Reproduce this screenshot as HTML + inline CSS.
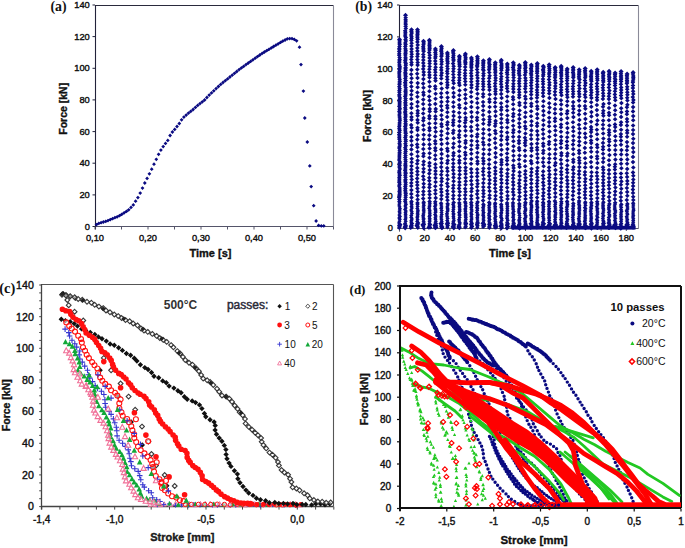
<!DOCTYPE html>
<html><head><meta charset="utf-8"><style>
html,body{margin:0;padding:0;background:#fff;}
svg{display:block;}
</style></head><body>
<svg width="685" height="548" viewBox="0 0 685 548">
<rect width="685" height="548" fill="#fff"/>
<line x1="95" y1="5.5" x2="333.5" y2="5.5" stroke="#2a2a3c" stroke-width="1.1"/>
<line x1="333.5" y1="5.5" x2="333.5" y2="226.5" stroke="#8a8a98" stroke-width="1.1"/>
<line x1="95" y1="226.5" x2="333.5" y2="226.5" stroke="#55556a" stroke-width="1.1"/>
<line x1="95.5" y1="5" x2="95.5" y2="229.5" stroke="#22223a" stroke-width="1.1"/>
<line x1="92.5" y1="226.5" x2="95" y2="226.5" stroke="#22223a" stroke-width="1"/>
<text x="89.8" y="229.5" font-size="9.3" font-weight="normal" text-anchor="end" fill="#111" font-family='"Liberation Sans", sans-serif' stroke="#111" stroke-width="0.4">0</text>
<line x1="92.5" y1="194.9" x2="95" y2="194.9" stroke="#22223a" stroke-width="1"/>
<text x="89.8" y="197.9" font-size="9.3" font-weight="normal" text-anchor="end" fill="#111" font-family='"Liberation Sans", sans-serif' stroke="#111" stroke-width="0.4">20</text>
<line x1="92.5" y1="163.2" x2="95" y2="163.2" stroke="#22223a" stroke-width="1"/>
<text x="89.8" y="166.2" font-size="9.3" font-weight="normal" text-anchor="end" fill="#111" font-family='"Liberation Sans", sans-serif' stroke="#111" stroke-width="0.4">40</text>
<line x1="92.5" y1="131.6" x2="95" y2="131.6" stroke="#22223a" stroke-width="1"/>
<text x="89.8" y="134.6" font-size="9.3" font-weight="normal" text-anchor="end" fill="#111" font-family='"Liberation Sans", sans-serif' stroke="#111" stroke-width="0.4">60</text>
<line x1="92.5" y1="99.9" x2="95" y2="99.9" stroke="#22223a" stroke-width="1"/>
<text x="89.8" y="102.9" font-size="9.3" font-weight="normal" text-anchor="end" fill="#111" font-family='"Liberation Sans", sans-serif' stroke="#111" stroke-width="0.4">80</text>
<line x1="92.5" y1="68.3" x2="95" y2="68.3" stroke="#22223a" stroke-width="1"/>
<text x="89.8" y="71.3" font-size="9.3" font-weight="normal" text-anchor="end" fill="#111" font-family='"Liberation Sans", sans-serif' stroke="#111" stroke-width="0.4">100</text>
<line x1="92.5" y1="36.6" x2="95" y2="36.6" stroke="#22223a" stroke-width="1"/>
<text x="89.8" y="39.6" font-size="9.3" font-weight="normal" text-anchor="end" fill="#111" font-family='"Liberation Sans", sans-serif' stroke="#111" stroke-width="0.4">120</text>
<line x1="92.5" y1="5" x2="95" y2="5" stroke="#22223a" stroke-width="1"/>
<text x="89.8" y="8" font-size="9.3" font-weight="normal" text-anchor="end" fill="#111" font-family='"Liberation Sans", sans-serif' stroke="#111" stroke-width="0.4">140</text>
<line x1="95" y1="226.5" x2="95" y2="229.5" stroke="#55556a" stroke-width="1"/>
<line x1="121.5" y1="226.5" x2="121.5" y2="229.5" stroke="#55556a" stroke-width="1"/>
<line x1="148" y1="226.5" x2="148" y2="229.5" stroke="#55556a" stroke-width="1"/>
<line x1="174.5" y1="226.5" x2="174.5" y2="229.5" stroke="#55556a" stroke-width="1"/>
<line x1="201" y1="226.5" x2="201" y2="229.5" stroke="#55556a" stroke-width="1"/>
<line x1="227.5" y1="226.5" x2="227.5" y2="229.5" stroke="#55556a" stroke-width="1"/>
<line x1="254" y1="226.5" x2="254" y2="229.5" stroke="#55556a" stroke-width="1"/>
<line x1="280.5" y1="226.5" x2="280.5" y2="229.5" stroke="#55556a" stroke-width="1"/>
<line x1="307" y1="226.5" x2="307" y2="229.5" stroke="#55556a" stroke-width="1"/>
<line x1="333.5" y1="226.5" x2="333.5" y2="229.5" stroke="#55556a" stroke-width="1"/>
<text x="95" y="240.6" font-size="9.3" font-weight="normal" text-anchor="middle" fill="#111" font-family='"Liberation Sans", sans-serif' stroke="#111" stroke-width="0.4">0,10</text>
<text x="148" y="240.6" font-size="9.3" font-weight="normal" text-anchor="middle" fill="#111" font-family='"Liberation Sans", sans-serif' stroke="#111" stroke-width="0.4">0,20</text>
<text x="201" y="240.6" font-size="9.3" font-weight="normal" text-anchor="middle" fill="#111" font-family='"Liberation Sans", sans-serif' stroke="#111" stroke-width="0.4">0,30</text>
<text x="254" y="240.6" font-size="9.3" font-weight="normal" text-anchor="middle" fill="#111" font-family='"Liberation Sans", sans-serif' stroke="#111" stroke-width="0.4">0,40</text>
<text x="307" y="240.6" font-size="9.3" font-weight="normal" text-anchor="middle" fill="#111" font-family='"Liberation Sans", sans-serif' stroke="#111" stroke-width="0.4">0,50</text>
<text x="67.5" y="108.8" font-size="10.5" font-weight="bold" text-anchor="middle" fill="#111" font-family='"Liberation Sans", sans-serif' transform="rotate(-90 67.5 108.8)" stroke="#111" stroke-width="0.35">Force [kN]</text>
<text x="210.5" y="257" font-size="11" font-weight="bold" text-anchor="middle" fill="#111" font-family='"Liberation Sans", sans-serif' stroke="#111" stroke-width="0.35">Time [s]</text>
<text x="58.5" y="11.2" font-size="13.8" font-weight="bold" text-anchor="middle" fill="#111" font-family='"Liberation Serif", serif'>(a)</text>
<path d="M96.5 222.7l1.9 1.9l-1.9 1.9l-1.9 -1.9zM98.8 221.5l1.9 1.9l-1.9 1.9l-1.9 -1.9zM101.1 220.8l1.9 1.9l-1.9 1.9l-1.9 -1.9zM103.4 220.1l1.9 1.9l-1.9 1.9l-1.9 -1.9zM105.7 219.5l1.9 1.9l-1.9 1.9l-1.9 -1.9zM108 218.7l1.9 1.9l-1.9 1.9l-1.9 -1.9zM110.3 217.7l1.9 1.9l-1.9 1.9l-1.9 -1.9zM112.6 216.8l1.9 1.9l-1.9 1.9l-1.9 -1.9zM114.9 215.8l1.9 1.9l-1.9 1.9l-1.9 -1.9zM117.2 214.9l1.9 1.9l-1.9 1.9l-1.9 -1.9zM119.5 213.8l1.9 1.9l-1.9 1.9l-1.9 -1.9zM121.8 212.4l1.9 1.9l-1.9 1.9l-1.9 -1.9zM124.1 210.9l1.9 1.9l-1.9 1.9l-1.9 -1.9zM126.4 209.5l1.9 1.9l-1.9 1.9l-1.9 -1.9zM128.7 207.9l1.9 1.9l-1.9 1.9l-1.9 -1.9zM131 205.5l1.9 1.9l-1.9 1.9l-1.9 -1.9zM133.3 203l1.9 1.9l-1.9 1.9l-1.9 -1.9zM135.6 199.3l1.9 1.9l-1.9 1.9l-1.9 -1.9zM137.9 195.7l1.9 1.9l-1.9 1.9l-1.9 -1.9zM140.2 191.2l1.9 1.9l-1.9 1.9l-1.9 -1.9zM142.5 186.2l1.9 1.9l-1.9 1.9l-1.9 -1.9zM144.8 181.1l1.9 1.9l-1.9 1.9l-1.9 -1.9zM147.1 176.5l1.9 1.9l-1.9 1.9l-1.9 -1.9zM149.4 171.9l1.9 1.9l-1.9 1.9l-1.9 -1.9zM151.7 167.3l1.9 1.9l-1.9 1.9l-1.9 -1.9zM154 162.3l1.9 1.9l-1.9 1.9l-1.9 -1.9zM156.3 157.4l1.9 1.9l-1.9 1.9l-1.9 -1.9zM158.6 152.4l1.9 1.9l-1.9 1.9l-1.9 -1.9zM160.9 148.2l1.9 1.9l-1.9 1.9l-1.9 -1.9zM163.2 144.7l1.9 1.9l-1.9 1.9l-1.9 -1.9zM165.5 141.5l1.9 1.9l-1.9 1.9l-1.9 -1.9zM167.8 138.5l1.9 1.9l-1.9 1.9l-1.9 -1.9zM170.1 133.6l1.9 1.9l-1.9 1.9l-1.9 -1.9zM172.4 130.1l1.9 1.9l-1.9 1.9l-1.9 -1.9zM174.7 127.5l1.9 1.9l-1.9 1.9l-1.9 -1.9zM177 124.6l1.9 1.9l-1.9 1.9l-1.9 -1.9zM179.3 121.6l1.9 1.9l-1.9 1.9l-1.9 -1.9zM181.6 117.9l1.9 1.9l-1.9 1.9l-1.9 -1.9zM183.9 115.2l1.9 1.9l-1.9 1.9l-1.9 -1.9zM186.2 113.2l1.9 1.9l-1.9 1.9l-1.9 -1.9zM188.5 111.2l1.9 1.9l-1.9 1.9l-1.9 -1.9zM190.8 109.4l1.9 1.9l-1.9 1.9l-1.9 -1.9zM193.1 107.6l1.9 1.9l-1.9 1.9l-1.9 -1.9zM195.4 105.5l1.9 1.9l-1.9 1.9l-1.9 -1.9zM197.7 103.5l1.9 1.9l-1.9 1.9l-1.9 -1.9zM200 101.7l1.9 1.9l-1.9 1.9l-1.9 -1.9zM202.3 99.9l1.9 1.9l-1.9 1.9l-1.9 -1.9zM204.6 98.1l1.9 1.9l-1.9 1.9l-1.9 -1.9zM206.9 95.6l1.9 1.9l-1.9 1.9l-1.9 -1.9zM209.2 93.2l1.9 1.9l-1.9 1.9l-1.9 -1.9zM211.5 91l1.9 1.9l-1.9 1.9l-1.9 -1.9zM213.8 88.9l1.9 1.9l-1.9 1.9l-1.9 -1.9zM216.1 86.7l1.9 1.9l-1.9 1.9l-1.9 -1.9zM218.4 84.6l1.9 1.9l-1.9 1.9l-1.9 -1.9zM220.7 82.5l1.9 1.9l-1.9 1.9l-1.9 -1.9zM223 80.6l1.9 1.9l-1.9 1.9l-1.9 -1.9zM225.3 78.8l1.9 1.9l-1.9 1.9l-1.9 -1.9zM227.6 77l1.9 1.9l-1.9 1.9l-1.9 -1.9zM229.9 75.1l1.9 1.9l-1.9 1.9l-1.9 -1.9zM232.2 73.3l1.9 1.9l-1.9 1.9l-1.9 -1.9zM234.5 71.4l1.9 1.9l-1.9 1.9l-1.9 -1.9zM236.8 69.6l1.9 1.9l-1.9 1.9l-1.9 -1.9zM239.1 67.7l1.9 1.9l-1.9 1.9l-1.9 -1.9zM241.4 66l1.9 1.9l-1.9 1.9l-1.9 -1.9zM243.7 64.4l1.9 1.9l-1.9 1.9l-1.9 -1.9zM246 62.7l1.9 1.9l-1.9 1.9l-1.9 -1.9zM248.3 61.1l1.9 1.9l-1.9 1.9l-1.9 -1.9zM250.6 59.5l1.9 1.9l-1.9 1.9l-1.9 -1.9zM252.9 57.9l1.9 1.9l-1.9 1.9l-1.9 -1.9zM255.2 56.3l1.9 1.9l-1.9 1.9l-1.9 -1.9zM257.5 54.7l1.9 1.9l-1.9 1.9l-1.9 -1.9zM259.8 53.1l1.9 1.9l-1.9 1.9l-1.9 -1.9zM262.1 51.5l1.9 1.9l-1.9 1.9l-1.9 -1.9zM264.4 50.1l1.9 1.9l-1.9 1.9l-1.9 -1.9zM266.7 48.8l1.9 1.9l-1.9 1.9l-1.9 -1.9zM269 47.4l1.9 1.9l-1.9 1.9l-1.9 -1.9zM271.3 46l1.9 1.9l-1.9 1.9l-1.9 -1.9zM273.6 44.6l1.9 1.9l-1.9 1.9l-1.9 -1.9zM275.9 43.3l1.9 1.9l-1.9 1.9l-1.9 -1.9zM278.2 41.9l1.9 1.9l-1.9 1.9l-1.9 -1.9zM280.5 40.5l1.9 1.9l-1.9 1.9l-1.9 -1.9zM282.8 39.2l1.9 1.9l-1.9 1.9l-1.9 -1.9zM285.1 38.1l1.9 1.9l-1.9 1.9l-1.9 -1.9zM287.4 36.9l1.9 1.9l-1.9 1.9l-1.9 -1.9zM289.7 36.7l1.9 1.9l-1.9 1.9l-1.9 -1.9zM292 36.7l1.9 1.9l-1.9 1.9l-1.9 -1.9zM294.3 37.5l1.9 1.9l-1.9 1.9l-1.9 -1.9zM296.6 38.9l1.9 1.9l-1.9 1.9l-1.9 -1.9zM299.5 45.3l1.9 1.9l-1.9 1.9l-1.9 -1.9zM301 62.7l1.9 1.9l-1.9 1.9l-1.9 -1.9zM303.4 89.2l1.9 1.9l-1.9 1.9l-1.9 -1.9zM304.8 116.1l1.9 1.9l-1.9 1.9l-1.9 -1.9zM307.3 140.1l1.9 1.9l-1.9 1.9l-1.9 -1.9zM309.8 164l1.9 1.9l-1.9 1.9l-1.9 -1.9zM311.2 184.7l1.9 1.9l-1.9 1.9l-1.9 -1.9zM313.7 203.8l1.9 1.9l-1.9 1.9l-1.9 -1.9zM316.1 219.1l1.9 1.9l-1.9 1.9l-1.9 -1.9zM318.6 223.5l1.9 1.9l-1.9 1.9l-1.9 -1.9zM321.3 224l1.9 1.9l-1.9 1.9l-1.9 -1.9zM323.8 224l1.9 1.9l-1.9 1.9l-1.9 -1.9z" fill="#0b0b82"/>
<line x1="399.5" y1="5.5" x2="638.5" y2="5.5" stroke="#2a2a3c" stroke-width="1.1"/>
<line x1="638.5" y1="5.5" x2="638.5" y2="228.5" stroke="#8a8a98" stroke-width="1.1"/>
<line x1="399.5" y1="228.5" x2="638.5" y2="228.5" stroke="#55556a" stroke-width="1.1"/>
<line x1="399.5" y1="5" x2="399.5" y2="231.5" stroke="#22223a" stroke-width="1.1"/>
<line x1="397" y1="228" x2="399.5" y2="228" stroke="#22223a" stroke-width="1"/>
<text x="392.8" y="231" font-size="9.3" font-weight="normal" text-anchor="end" fill="#111" font-family='"Liberation Sans", sans-serif' stroke="#111" stroke-width="0.4">0</text>
<line x1="397" y1="196.1" x2="399.5" y2="196.1" stroke="#22223a" stroke-width="1"/>
<text x="392.8" y="199.1" font-size="9.3" font-weight="normal" text-anchor="end" fill="#111" font-family='"Liberation Sans", sans-serif' stroke="#111" stroke-width="0.4">20</text>
<line x1="397" y1="164.3" x2="399.5" y2="164.3" stroke="#22223a" stroke-width="1"/>
<text x="392.8" y="167.3" font-size="9.3" font-weight="normal" text-anchor="end" fill="#111" font-family='"Liberation Sans", sans-serif' stroke="#111" stroke-width="0.4">40</text>
<line x1="397" y1="132.4" x2="399.5" y2="132.4" stroke="#22223a" stroke-width="1"/>
<text x="392.8" y="135.4" font-size="9.3" font-weight="normal" text-anchor="end" fill="#111" font-family='"Liberation Sans", sans-serif' stroke="#111" stroke-width="0.4">60</text>
<line x1="397" y1="100.6" x2="399.5" y2="100.6" stroke="#22223a" stroke-width="1"/>
<text x="392.8" y="103.6" font-size="9.3" font-weight="normal" text-anchor="end" fill="#111" font-family='"Liberation Sans", sans-serif' stroke="#111" stroke-width="0.4">80</text>
<line x1="397" y1="68.7" x2="399.5" y2="68.7" stroke="#22223a" stroke-width="1"/>
<text x="392.8" y="71.7" font-size="9.3" font-weight="normal" text-anchor="end" fill="#111" font-family='"Liberation Sans", sans-serif' stroke="#111" stroke-width="0.4">100</text>
<line x1="397" y1="36.9" x2="399.5" y2="36.9" stroke="#22223a" stroke-width="1"/>
<text x="392.8" y="39.9" font-size="9.3" font-weight="normal" text-anchor="end" fill="#111" font-family='"Liberation Sans", sans-serif' stroke="#111" stroke-width="0.4">120</text>
<line x1="397" y1="5" x2="399.5" y2="5" stroke="#22223a" stroke-width="1"/>
<text x="392.8" y="8" font-size="9.3" font-weight="normal" text-anchor="end" fill="#111" font-family='"Liberation Sans", sans-serif' stroke="#111" stroke-width="0.4">140</text>
<line x1="399.5" y1="228" x2="399.5" y2="231" stroke="#55556a" stroke-width="1"/>
<text x="399.5" y="241" font-size="9.3" font-weight="normal" text-anchor="middle" fill="#111" font-family='"Liberation Sans", sans-serif' stroke="#111" stroke-width="0.4">0</text>
<line x1="424.7" y1="228" x2="424.7" y2="231" stroke="#55556a" stroke-width="1"/>
<text x="424.7" y="241" font-size="9.3" font-weight="normal" text-anchor="middle" fill="#111" font-family='"Liberation Sans", sans-serif' stroke="#111" stroke-width="0.4">20</text>
<line x1="449.9" y1="228" x2="449.9" y2="231" stroke="#55556a" stroke-width="1"/>
<text x="449.9" y="241" font-size="9.3" font-weight="normal" text-anchor="middle" fill="#111" font-family='"Liberation Sans", sans-serif' stroke="#111" stroke-width="0.4">40</text>
<line x1="475.1" y1="228" x2="475.1" y2="231" stroke="#55556a" stroke-width="1"/>
<text x="475.1" y="241" font-size="9.3" font-weight="normal" text-anchor="middle" fill="#111" font-family='"Liberation Sans", sans-serif' stroke="#111" stroke-width="0.4">60</text>
<line x1="500.3" y1="228" x2="500.3" y2="231" stroke="#55556a" stroke-width="1"/>
<text x="500.3" y="241" font-size="9.3" font-weight="normal" text-anchor="middle" fill="#111" font-family='"Liberation Sans", sans-serif' stroke="#111" stroke-width="0.4">80</text>
<line x1="525.5" y1="228" x2="525.5" y2="231" stroke="#55556a" stroke-width="1"/>
<text x="525.5" y="241" font-size="9.3" font-weight="normal" text-anchor="middle" fill="#111" font-family='"Liberation Sans", sans-serif' stroke="#111" stroke-width="0.4">100</text>
<line x1="550.7" y1="228" x2="550.7" y2="231" stroke="#55556a" stroke-width="1"/>
<text x="550.7" y="241" font-size="9.3" font-weight="normal" text-anchor="middle" fill="#111" font-family='"Liberation Sans", sans-serif' stroke="#111" stroke-width="0.4">120</text>
<line x1="575.9" y1="228" x2="575.9" y2="231" stroke="#55556a" stroke-width="1"/>
<text x="575.9" y="241" font-size="9.3" font-weight="normal" text-anchor="middle" fill="#111" font-family='"Liberation Sans", sans-serif' stroke="#111" stroke-width="0.4">140</text>
<line x1="601.1" y1="228" x2="601.1" y2="231" stroke="#55556a" stroke-width="1"/>
<text x="601.1" y="241" font-size="9.3" font-weight="normal" text-anchor="middle" fill="#111" font-family='"Liberation Sans", sans-serif' stroke="#111" stroke-width="0.4">160</text>
<line x1="626.3" y1="228" x2="626.3" y2="231" stroke="#55556a" stroke-width="1"/>
<text x="626.3" y="241" font-size="9.3" font-weight="normal" text-anchor="middle" fill="#111" font-family='"Liberation Sans", sans-serif' stroke="#111" stroke-width="0.4">180</text>
<text x="371.4" y="116" font-size="10.5" font-weight="bold" text-anchor="middle" fill="#111" font-family='"Liberation Sans", sans-serif' transform="rotate(-90 371.4 116)" stroke="#111" stroke-width="0.35">Force [kN]</text>
<text x="510" y="257" font-size="11" font-weight="bold" text-anchor="middle" fill="#111" font-family='"Liberation Sans", sans-serif' stroke="#111" stroke-width="0.35">Time [s]</text>
<text x="363.6" y="11.2" font-size="13.8" font-weight="bold" text-anchor="middle" fill="#111" font-family='"Liberation Serif", serif'>(b)</text>
<path d="M399.5 37l2.5 2.5l-2.5 2.5l-2.5 -2.5zM399.6 38.7l2.3 2.3l-2.3 2.3l-2.3 -2.3zM399.5 40.6l2.3 2.3l-2.3 2.3l-2.3 -2.3zM399.7 42.2l2.3 2.3l-2.3 2.3l-2.3 -2.3zM399.5 44.3l2.3 2.3l-2.3 2.3l-2.3 -2.3zM399.3 46.1l2.3 2.3l-2.3 2.3l-2.3 -2.3zM399.4 47.5l2.3 2.3l-2.3 2.3l-2.3 -2.3zM399.2 49.3l2.3 2.3l-2.3 2.3l-2.3 -2.3zM399.3 51.4l2.3 2.3l-2.3 2.3l-2.3 -2.3zM399.2 53l2.3 2.3l-2.3 2.3l-2.3 -2.3zM399.6 55.2l2.3 2.3l-2.3 2.3l-2.3 -2.3zM399.6 57.3l2.3 2.3l-2.3 2.3l-2.3 -2.3zM399.4 58.7l2.3 2.3l-2.3 2.3l-2.3 -2.3zM399.3 60.5l2.3 2.3l-2.3 2.3l-2.3 -2.3zM399.4 62.6l2.3 2.3l-2.3 2.3l-2.3 -2.3zM399.7 64.2l2.3 2.3l-2.3 2.3l-2.3 -2.3zM399.8 65.7l2.3 2.3l-2.3 2.3l-2.3 -2.3zM399.5 67.4l2.3 2.3l-2.3 2.3l-2.3 -2.3zM399.5 69.1l2.3 2.3l-2.3 2.3l-2.3 -2.3zM399.2 70.7l2.3 2.3l-2.3 2.3l-2.3 -2.3zM399.3 72.7l2.3 2.3l-2.3 2.3l-2.3 -2.3zM399.3 74.8l2.3 2.3l-2.3 2.3l-2.3 -2.3zM399.7 76.9l2.3 2.3l-2.3 2.3l-2.3 -2.3zM399.7 78.9l2.3 2.3l-2.3 2.3l-2.3 -2.3zM399.6 80.8l2.3 2.3l-2.3 2.3l-2.3 -2.3zM399.5 82.3l2.3 2.3l-2.3 2.3l-2.3 -2.3zM399.3 84.4l2.3 2.3l-2.3 2.3l-2.3 -2.3zM399.7 86.5l2.3 2.3l-2.3 2.3l-2.3 -2.3zM399.4 88.2l2.3 2.3l-2.3 2.3l-2.3 -2.3zM399.4 90l2.3 2.3l-2.3 2.3l-2.3 -2.3zM399.4 92.2l2.3 2.3l-2.3 2.3l-2.3 -2.3zM399.3 93.6l2.3 2.3l-2.3 2.3l-2.3 -2.3zM399.8 95.6l2.3 2.3l-2.3 2.3l-2.3 -2.3zM399.5 97.4l2.3 2.3l-2.3 2.3l-2.3 -2.3zM399.6 99.2l2.3 2.3l-2.3 2.3l-2.3 -2.3zM399.6 100.8l2.3 2.3l-2.3 2.3l-2.3 -2.3zM399.6 102.6l2.3 2.3l-2.3 2.3l-2.3 -2.3zM399.3 104.2l2.3 2.3l-2.3 2.3l-2.3 -2.3zM399.8 105.9l2.3 2.3l-2.3 2.3l-2.3 -2.3zM399.6 107.5l2.3 2.3l-2.3 2.3l-2.3 -2.3zM399.3 109.2l2.3 2.3l-2.3 2.3l-2.3 -2.3zM399.7 110.6l2.3 2.3l-2.3 2.3l-2.3 -2.3zM399.4 112.7l2.3 2.3l-2.3 2.3l-2.3 -2.3zM399.6 114.6l2.3 2.3l-2.3 2.3l-2.3 -2.3zM399.8 116.7l2.3 2.3l-2.3 2.3l-2.3 -2.3zM399.8 118.5l2.3 2.3l-2.3 2.3l-2.3 -2.3zM399.6 120.6l2.3 2.3l-2.3 2.3l-2.3 -2.3zM399.5 122.7l2.3 2.3l-2.3 2.3l-2.3 -2.3zM399.3 124.4l2.3 2.3l-2.3 2.3l-2.3 -2.3zM399.3 126.5l2.3 2.3l-2.3 2.3l-2.3 -2.3zM399.7 128l2.3 2.3l-2.3 2.3l-2.3 -2.3zM399.5 130l2.3 2.3l-2.3 2.3l-2.3 -2.3zM399.2 132.1l2.3 2.3l-2.3 2.3l-2.3 -2.3zM399.4 133.7l2.3 2.3l-2.3 2.3l-2.3 -2.3zM399.3 135.4l2.3 2.3l-2.3 2.3l-2.3 -2.3zM399.4 136.9l2.3 2.3l-2.3 2.3l-2.3 -2.3zM399.8 139l2.3 2.3l-2.3 2.3l-2.3 -2.3zM399.5 141l2.3 2.3l-2.3 2.3l-2.3 -2.3zM399.8 142.6l2.3 2.3l-2.3 2.3l-2.3 -2.3zM399.6 144.4l2.3 2.3l-2.3 2.3l-2.3 -2.3zM399.3 145.8l2.3 2.3l-2.3 2.3l-2.3 -2.3zM399.7 147.9l2.3 2.3l-2.3 2.3l-2.3 -2.3zM399.6 150l2.3 2.3l-2.3 2.3l-2.3 -2.3zM399.5 151.8l2.3 2.3l-2.3 2.3l-2.3 -2.3zM399.4 153.8l2.3 2.3l-2.3 2.3l-2.3 -2.3zM399.4 155.7l2.3 2.3l-2.3 2.3l-2.3 -2.3zM399.2 157.7l2.3 2.3l-2.3 2.3l-2.3 -2.3zM399.8 159.6l2.3 2.3l-2.3 2.3l-2.3 -2.3zM399.6 161l2.3 2.3l-2.3 2.3l-2.3 -2.3zM399.7 163l2.3 2.3l-2.3 2.3l-2.3 -2.3zM399.4 164.8l2.3 2.3l-2.3 2.3l-2.3 -2.3zM399.8 166.6l2.3 2.3l-2.3 2.3l-2.3 -2.3zM399.3 168.7l2.3 2.3l-2.3 2.3l-2.3 -2.3zM399.3 170.2l2.3 2.3l-2.3 2.3l-2.3 -2.3zM399.5 171.6l2.3 2.3l-2.3 2.3l-2.3 -2.3zM399.7 173.1l2.3 2.3l-2.3 2.3l-2.3 -2.3zM399.3 175l2.3 2.3l-2.3 2.3l-2.3 -2.3zM399.4 176.8l2.3 2.3l-2.3 2.3l-2.3 -2.3zM399.3 178.6l2.3 2.3l-2.3 2.3l-2.3 -2.3zM399.3 180.2l2.3 2.3l-2.3 2.3l-2.3 -2.3zM399.6 181.9l2.3 2.3l-2.3 2.3l-2.3 -2.3zM399.2 183.7l2.3 2.3l-2.3 2.3l-2.3 -2.3zM399.7 185.7l2.3 2.3l-2.3 2.3l-2.3 -2.3zM399.7 187.7l2.3 2.3l-2.3 2.3l-2.3 -2.3zM399.5 189.1l2.3 2.3l-2.3 2.3l-2.3 -2.3zM399.7 190.6l2.3 2.3l-2.3 2.3l-2.3 -2.3zM399.6 192.1l2.3 2.3l-2.3 2.3l-2.3 -2.3zM399.6 193.7l2.3 2.3l-2.3 2.3l-2.3 -2.3zM399.2 195.3l2.3 2.3l-2.3 2.3l-2.3 -2.3zM399.4 197.1l2.3 2.3l-2.3 2.3l-2.3 -2.3zM399.4 199.2l2.3 2.3l-2.3 2.3l-2.3 -2.3zM399.5 201l2.1 2.1l-2.1 2.1l-2.1 -2.1zM399.2 202.9l2.1 2.1l-2.1 2.1l-2.1 -2.1zM399.5 204.7l2.1 2.1l-2.1 2.1l-2.1 -2.1zM399.9 206.5l2.1 2.1l-2.1 2.1l-2.1 -2.1zM399.7 208l2.1 2.1l-2.1 2.1l-2.1 -2.1zM399.5 209.7l2.1 2.1l-2.1 2.1l-2.1 -2.1zM399.8 211l2.1 2.1l-2.1 2.1l-2.1 -2.1zM399.4 213l2.1 2.1l-2.1 2.1l-2.1 -2.1zM399.9 214.5l2.1 2.1l-2.1 2.1l-2.1 -2.1zM399.2 215.9l2.1 2.1l-2.1 2.1l-2.1 -2.1zM399.8 217.2l2.1 2.1l-2.1 2.1l-2.1 -2.1zM399.5 219.1l2.1 2.1l-2.1 2.1l-2.1 -2.1zM399.1 220.8l2.1 2.1l-2.1 2.1l-2.1 -2.1zM399.5 222.6l2.1 2.1l-2.1 2.1l-2.1 -2.1zM399.4 224.2l2.1 2.1l-2.1 2.1l-2.1 -2.1zM399.3 225.8l2.1 2.1l-2.1 2.1l-2.1 -2.1zM399.4 225.8l2 2l-2 2l-2 -2zM399.9 224.8l2 2l-2 2l-2 -2zM400 221.9l2 2l-2 2l-2 -2zM398.9 223.7l2 2l-2 2l-2 -2zM399.5 224.1l2 2l-2 2l-2 -2zM400.5 222.8l2 2l-2 2l-2 -2zM399.5 225.6l2 2l-2 2l-2 -2zM400 223.5l2 2l-2 2l-2 -2zM405.5 12.7l2.5 2.5l-2.5 2.5l-2.5 -2.5zM405.7 15l2.3 2.3l-2.3 2.3l-2.3 -2.3zM405.6 16.9l2.3 2.3l-2.3 2.3l-2.3 -2.3zM405.7 18.8l2.3 2.3l-2.3 2.3l-2.3 -2.3zM405.6 20.8l2.3 2.3l-2.3 2.3l-2.3 -2.3zM405.7 22.4l2.3 2.3l-2.3 2.3l-2.3 -2.3zM405.6 24.1l2.3 2.3l-2.3 2.3l-2.3 -2.3zM405.8 26.2l2.3 2.3l-2.3 2.3l-2.3 -2.3zM405.2 28.4l2.3 2.3l-2.3 2.3l-2.3 -2.3zM405.4 30l2.3 2.3l-2.3 2.3l-2.3 -2.3zM405.3 31.7l2.3 2.3l-2.3 2.3l-2.3 -2.3zM405.2 33.6l2.3 2.3l-2.3 2.3l-2.3 -2.3zM405.8 35.2l2.3 2.3l-2.3 2.3l-2.3 -2.3zM405.5 37.2l2.3 2.3l-2.3 2.3l-2.3 -2.3zM405.8 38.7l2.3 2.3l-2.3 2.3l-2.3 -2.3zM405.3 40.7l2.3 2.3l-2.3 2.3l-2.3 -2.3zM405.6 42.3l2.3 2.3l-2.3 2.3l-2.3 -2.3zM405.3 44.3l2.3 2.3l-2.3 2.3l-2.3 -2.3zM405.4 46.4l2.3 2.3l-2.3 2.3l-2.3 -2.3zM405.7 48l2.3 2.3l-2.3 2.3l-2.3 -2.3zM405.6 49.6l2.3 2.3l-2.3 2.3l-2.3 -2.3zM405.5 51.1l2.3 2.3l-2.3 2.3l-2.3 -2.3zM405.4 52.7l2.3 2.3l-2.3 2.3l-2.3 -2.3zM405.5 54.9l2.3 2.3l-2.3 2.3l-2.3 -2.3zM405.6 56.6l2.3 2.3l-2.3 2.3l-2.3 -2.3zM405.3 58.3l2.3 2.3l-2.3 2.3l-2.3 -2.3zM405.4 60l2.3 2.3l-2.3 2.3l-2.3 -2.3zM405.8 61.5l2.3 2.3l-2.3 2.3l-2.3 -2.3zM405.7 63l2.3 2.3l-2.3 2.3l-2.3 -2.3zM405.6 65.1l2.3 2.3l-2.3 2.3l-2.3 -2.3zM405.5 66.5l2.3 2.3l-2.3 2.3l-2.3 -2.3zM405.6 67.9l2.3 2.3l-2.3 2.3l-2.3 -2.3zM405.3 69.9l2.3 2.3l-2.3 2.3l-2.3 -2.3zM405.5 71.3l2.3 2.3l-2.3 2.3l-2.3 -2.3zM405.4 72.8l2.3 2.3l-2.3 2.3l-2.3 -2.3zM405.7 74.5l2.3 2.3l-2.3 2.3l-2.3 -2.3zM405.3 76.2l2.3 2.3l-2.3 2.3l-2.3 -2.3zM405.7 78.3l2.3 2.3l-2.3 2.3l-2.3 -2.3zM405.2 80.1l2.3 2.3l-2.3 2.3l-2.3 -2.3zM405.4 81.7l2.3 2.3l-2.3 2.3l-2.3 -2.3zM405.3 83.5l2.3 2.3l-2.3 2.3l-2.3 -2.3zM405.7 85.5l2.3 2.3l-2.3 2.3l-2.3 -2.3zM405.7 87.7l2.3 2.3l-2.3 2.3l-2.3 -2.3zM405.5 89.1l2.3 2.3l-2.3 2.3l-2.3 -2.3zM405.7 90.6l2.3 2.3l-2.3 2.3l-2.3 -2.3zM405.6 92.6l2.3 2.3l-2.3 2.3l-2.3 -2.3zM405.2 94.1l2.3 2.3l-2.3 2.3l-2.3 -2.3zM405.6 96.2l2.3 2.3l-2.3 2.3l-2.3 -2.3zM405.5 98.1l2.3 2.3l-2.3 2.3l-2.3 -2.3zM405.4 100.1l2.3 2.3l-2.3 2.3l-2.3 -2.3zM405.4 101.7l2.3 2.3l-2.3 2.3l-2.3 -2.3zM405.6 103.3l2.3 2.3l-2.3 2.3l-2.3 -2.3zM405.2 105.5l2.3 2.3l-2.3 2.3l-2.3 -2.3zM405.5 106.9l2.3 2.3l-2.3 2.3l-2.3 -2.3zM405.3 108.9l2.3 2.3l-2.3 2.3l-2.3 -2.3zM405.2 110.5l2.3 2.3l-2.3 2.3l-2.3 -2.3zM405.5 111.9l2.3 2.3l-2.3 2.3l-2.3 -2.3zM405.6 113.8l2.3 2.3l-2.3 2.3l-2.3 -2.3zM405.3 115.4l2.3 2.3l-2.3 2.3l-2.3 -2.3zM405.5 117.5l2.3 2.3l-2.3 2.3l-2.3 -2.3zM405.6 119.2l2.3 2.3l-2.3 2.3l-2.3 -2.3zM405.5 121.2l2.3 2.3l-2.3 2.3l-2.3 -2.3zM405.7 122.7l2.3 2.3l-2.3 2.3l-2.3 -2.3zM405.2 124.3l2.3 2.3l-2.3 2.3l-2.3 -2.3zM405.5 125.9l2.3 2.3l-2.3 2.3l-2.3 -2.3zM405.3 127.8l2.3 2.3l-2.3 2.3l-2.3 -2.3zM405.5 129.8l2.3 2.3l-2.3 2.3l-2.3 -2.3zM405.7 131.3l2.3 2.3l-2.3 2.3l-2.3 -2.3zM405.7 133.4l2.3 2.3l-2.3 2.3l-2.3 -2.3zM405.3 135.3l2.3 2.3l-2.3 2.3l-2.3 -2.3zM405.7 137.4l2.3 2.3l-2.3 2.3l-2.3 -2.3zM405.7 139.2l2.3 2.3l-2.3 2.3l-2.3 -2.3zM405.4 141.4l2.3 2.3l-2.3 2.3l-2.3 -2.3zM405.8 143.5l2.3 2.3l-2.3 2.3l-2.3 -2.3zM405.2 145.5l2.3 2.3l-2.3 2.3l-2.3 -2.3zM405.6 147.2l2.3 2.3l-2.3 2.3l-2.3 -2.3zM405.6 149.1l2.3 2.3l-2.3 2.3l-2.3 -2.3zM405.3 151l2.3 2.3l-2.3 2.3l-2.3 -2.3zM405.5 153.2l2.3 2.3l-2.3 2.3l-2.3 -2.3zM405.3 155.3l2.3 2.3l-2.3 2.3l-2.3 -2.3zM405.5 157.5l2.3 2.3l-2.3 2.3l-2.3 -2.3zM405.6 159.5l2.3 2.3l-2.3 2.3l-2.3 -2.3zM405.4 161.6l2.3 2.3l-2.3 2.3l-2.3 -2.3zM405.4 163.1l2.3 2.3l-2.3 2.3l-2.3 -2.3zM405.5 164.6l2.3 2.3l-2.3 2.3l-2.3 -2.3zM405.4 166.7l2.3 2.3l-2.3 2.3l-2.3 -2.3zM405.2 168.2l2.3 2.3l-2.3 2.3l-2.3 -2.3zM405.5 169.9l2.3 2.3l-2.3 2.3l-2.3 -2.3zM405.6 171.3l2.3 2.3l-2.3 2.3l-2.3 -2.3zM405.3 172.9l2.3 2.3l-2.3 2.3l-2.3 -2.3zM405.5 175l2.3 2.3l-2.3 2.3l-2.3 -2.3zM405.5 177.2l2.3 2.3l-2.3 2.3l-2.3 -2.3zM405.3 178.7l2.3 2.3l-2.3 2.3l-2.3 -2.3zM405.6 180.4l2.3 2.3l-2.3 2.3l-2.3 -2.3zM405.6 182.4l2.3 2.3l-2.3 2.3l-2.3 -2.3zM405.3 184.3l2.3 2.3l-2.3 2.3l-2.3 -2.3zM405.4 186.1l2.3 2.3l-2.3 2.3l-2.3 -2.3zM405.3 187.9l2.3 2.3l-2.3 2.3l-2.3 -2.3zM405.5 189.7l2.3 2.3l-2.3 2.3l-2.3 -2.3zM405.7 191.1l2.3 2.3l-2.3 2.3l-2.3 -2.3zM405.7 193l2.3 2.3l-2.3 2.3l-2.3 -2.3zM405.6 195l2.3 2.3l-2.3 2.3l-2.3 -2.3zM405.4 197.2l2.3 2.3l-2.3 2.3l-2.3 -2.3zM405.2 198.9l2.3 2.3l-2.3 2.3l-2.3 -2.3zM405.6 200.8l2.1 2.1l-2.1 2.1l-2.1 -2.1zM405.9 202.5l2.1 2.1l-2.1 2.1l-2.1 -2.1zM405.3 203.9l2.1 2.1l-2.1 2.1l-2.1 -2.1zM405.7 205.8l2.1 2.1l-2.1 2.1l-2.1 -2.1zM405.1 207.4l2.1 2.1l-2.1 2.1l-2.1 -2.1zM405.8 209l2.1 2.1l-2.1 2.1l-2.1 -2.1zM405.5 210.6l2.1 2.1l-2.1 2.1l-2.1 -2.1zM405.6 212.2l2.1 2.1l-2.1 2.1l-2.1 -2.1zM405.6 213.9l2.1 2.1l-2.1 2.1l-2.1 -2.1zM405.7 215.8l2.1 2.1l-2.1 2.1l-2.1 -2.1zM405.3 217.4l2.1 2.1l-2.1 2.1l-2.1 -2.1zM405.7 219.2l2.1 2.1l-2.1 2.1l-2.1 -2.1zM405.2 221.2l2.1 2.1l-2.1 2.1l-2.1 -2.1zM405.8 223.1l2.1 2.1l-2.1 2.1l-2.1 -2.1zM405.3 224.4l2.1 2.1l-2.1 2.1l-2.1 -2.1zM405.2 226.2l2.1 2.1l-2.1 2.1l-2.1 -2.1zM405 221.8l2 2l-2 2l-2 -2zM405 222.6l2 2l-2 2l-2 -2zM404.8 224.9l2 2l-2 2l-2 -2zM406 223.5l2 2l-2 2l-2 -2zM405.9 224.9l2 2l-2 2l-2 -2zM405.8 224.3l2 2l-2 2l-2 -2zM404.8 224.2l2 2l-2 2l-2 -2zM404.5 225.3l2 2l-2 2l-2 -2zM411.5 27.3l2.5 2.5l-2.5 2.5l-2.5 -2.5zM411.4 29.3l2.3 2.3l-2.3 2.3l-2.3 -2.3zM411.7 30.8l2.3 2.3l-2.3 2.3l-2.3 -2.3zM411.2 32.6l2.3 2.3l-2.3 2.3l-2.3 -2.3zM411.5 34.4l2.3 2.3l-2.3 2.3l-2.3 -2.3zM411.5 36.1l2.3 2.3l-2.3 2.3l-2.3 -2.3zM411.4 38.1l2.3 2.3l-2.3 2.3l-2.3 -2.3zM411.6 41l2.3 2.3l-2.3 2.3l-2.3 -2.3zM411.4 43.7l2.3 2.3l-2.3 2.3l-2.3 -2.3zM411.6 46.7l2.3 2.3l-2.3 2.3l-2.3 -2.3zM411.5 49.4l2.3 2.3l-2.3 2.3l-2.3 -2.3zM411.7 52l2.3 2.3l-2.3 2.3l-2.3 -2.3zM411.6 54.4l2.3 2.3l-2.3 2.3l-2.3 -2.3zM411.3 57.2l2.3 2.3l-2.3 2.3l-2.3 -2.3zM411.5 60.1l2.3 2.3l-2.3 2.3l-2.3 -2.3zM411.5 62.5l2.3 2.3l-2.3 2.3l-2.3 -2.3zM411.4 67.6l2.3 2.3l-2.3 2.3l-2.3 -2.3zM411.2 71.9l2.3 2.3l-2.3 2.3l-2.3 -2.3zM411.6 76l2.3 2.3l-2.3 2.3l-2.3 -2.3zM411.2 80.2l2.3 2.3l-2.3 2.3l-2.3 -2.3zM411.4 84.3l2.3 2.3l-2.3 2.3l-2.3 -2.3zM411.6 88.5l2.3 2.3l-2.3 2.3l-2.3 -2.3zM411.3 92.5l2.3 2.3l-2.3 2.3l-2.3 -2.3zM411.3 96.6l2.3 2.3l-2.3 2.3l-2.3 -2.3zM411.5 101.7l2.3 2.3l-2.3 2.3l-2.3 -2.3zM411.4 105.6l2.3 2.3l-2.3 2.3l-2.3 -2.3zM411.4 110.9l2.3 2.3l-2.3 2.3l-2.3 -2.3zM411.5 114.8l2.3 2.3l-2.3 2.3l-2.3 -2.3zM411.5 117.5l2.3 2.3l-2.3 2.3l-2.3 -2.3zM411.2 122.8l2.3 2.3l-2.3 2.3l-2.3 -2.3zM411.6 125.5l2.3 2.3l-2.3 2.3l-2.3 -2.3zM411.4 129.7l2.3 2.3l-2.3 2.3l-2.3 -2.3zM411.4 134.6l2.3 2.3l-2.3 2.3l-2.3 -2.3zM411.4 138.5l2.3 2.3l-2.3 2.3l-2.3 -2.3zM411.7 142.9l2.3 2.3l-2.3 2.3l-2.3 -2.3zM411.4 147.1l2.3 2.3l-2.3 2.3l-2.3 -2.3zM411.4 151.9l2.3 2.3l-2.3 2.3l-2.3 -2.3zM411.7 156.4l2.3 2.3l-2.3 2.3l-2.3 -2.3zM411.6 159.9l2.3 2.3l-2.3 2.3l-2.3 -2.3zM411.5 163.7l2.3 2.3l-2.3 2.3l-2.3 -2.3zM411.4 167.3l2.3 2.3l-2.3 2.3l-2.3 -2.3zM411.5 170.6l2.3 2.3l-2.3 2.3l-2.3 -2.3zM411.4 173.9l2.3 2.3l-2.3 2.3l-2.3 -2.3zM411.7 177.2l2.3 2.3l-2.3 2.3l-2.3 -2.3zM411.3 180.7l2.3 2.3l-2.3 2.3l-2.3 -2.3zM411.3 183.7l2.3 2.3l-2.3 2.3l-2.3 -2.3zM411.4 187.8l2.3 2.3l-2.3 2.3l-2.3 -2.3zM411.3 191.6l2.3 2.3l-2.3 2.3l-2.3 -2.3zM411.5 195.3l2.3 2.3l-2.3 2.3l-2.3 -2.3zM411.5 199.2l2.3 2.3l-2.3 2.3l-2.3 -2.3zM411.3 200.9l2.1 2.1l-2.1 2.1l-2.1 -2.1zM411.7 202.7l2.1 2.1l-2.1 2.1l-2.1 -2.1zM411.5 204.4l2.1 2.1l-2.1 2.1l-2.1 -2.1zM411.8 206l2.1 2.1l-2.1 2.1l-2.1 -2.1zM411.2 207.9l2.1 2.1l-2.1 2.1l-2.1 -2.1zM411.7 209.6l2.1 2.1l-2.1 2.1l-2.1 -2.1zM411.9 211.4l2.1 2.1l-2.1 2.1l-2.1 -2.1zM411.3 213.3l2.1 2.1l-2.1 2.1l-2.1 -2.1zM411.3 215.3l2.1 2.1l-2.1 2.1l-2.1 -2.1zM411.9 216.9l2.1 2.1l-2.1 2.1l-2.1 -2.1zM411.4 218.3l2.1 2.1l-2.1 2.1l-2.1 -2.1zM411.3 220l2.1 2.1l-2.1 2.1l-2.1 -2.1zM411.7 221.5l2.1 2.1l-2.1 2.1l-2.1 -2.1zM411.7 223.3l2.1 2.1l-2.1 2.1l-2.1 -2.1zM411.8 225.1l2.1 2.1l-2.1 2.1l-2.1 -2.1zM412.2 221.5l2 2l-2 2l-2 -2zM411.5 221.1l2 2l-2 2l-2 -2zM411.5 222.5l2 2l-2 2l-2 -2zM411.8 221.2l2 2l-2 2l-2 -2zM411.8 223.8l2 2l-2 2l-2 -2zM410.7 224.5l2 2l-2 2l-2 -2zM410.7 224.1l2 2l-2 2l-2 -2zM410.6 226l2 2l-2 2l-2 -2zM417.5 27.3l2.5 2.5l-2.5 2.5l-2.5 -2.5zM417.6 29.2l2.3 2.3l-2.3 2.3l-2.3 -2.3zM417.6 30.6l2.3 2.3l-2.3 2.3l-2.3 -2.3zM417.5 32.1l2.3 2.3l-2.3 2.3l-2.3 -2.3zM417.4 33.6l2.3 2.3l-2.3 2.3l-2.3 -2.3zM417.4 35.5l2.3 2.3l-2.3 2.3l-2.3 -2.3zM417.6 37.1l2.3 2.3l-2.3 2.3l-2.3 -2.3zM417.4 39.6l2.3 2.3l-2.3 2.3l-2.3 -2.3zM417.7 42.6l2.3 2.3l-2.3 2.3l-2.3 -2.3zM417.3 45.7l2.3 2.3l-2.3 2.3l-2.3 -2.3zM417.4 48.6l2.3 2.3l-2.3 2.3l-2.3 -2.3zM417.7 51.6l2.3 2.3l-2.3 2.3l-2.3 -2.3zM417.4 54.1l2.3 2.3l-2.3 2.3l-2.3 -2.3zM417.4 57.3l2.3 2.3l-2.3 2.3l-2.3 -2.3zM417.7 60.2l2.3 2.3l-2.3 2.3l-2.3 -2.3zM417.6 62.8l2.3 2.3l-2.3 2.3l-2.3 -2.3zM417.3 67.2l2.3 2.3l-2.3 2.3l-2.3 -2.3zM417.2 71.4l2.3 2.3l-2.3 2.3l-2.3 -2.3zM417.5 75.6l2.3 2.3l-2.3 2.3l-2.3 -2.3zM417.7 80.8l2.3 2.3l-2.3 2.3l-2.3 -2.3zM417.6 84.9l2.3 2.3l-2.3 2.3l-2.3 -2.3zM417.4 90.2l2.3 2.3l-2.3 2.3l-2.3 -2.3zM417.4 94.4l2.3 2.3l-2.3 2.3l-2.3 -2.3zM417.6 99.6l2.3 2.3l-2.3 2.3l-2.3 -2.3zM417.4 103.9l2.3 2.3l-2.3 2.3l-2.3 -2.3zM417.7 108.4l2.3 2.3l-2.3 2.3l-2.3 -2.3zM417.7 110.9l2.3 2.3l-2.3 2.3l-2.3 -2.3zM417.6 113.4l2.3 2.3l-2.3 2.3l-2.3 -2.3zM417.5 117.6l2.3 2.3l-2.3 2.3l-2.3 -2.3zM417.7 120.4l2.3 2.3l-2.3 2.3l-2.3 -2.3zM417.5 125.4l2.3 2.3l-2.3 2.3l-2.3 -2.3zM417.5 127.8l2.3 2.3l-2.3 2.3l-2.3 -2.3zM417.6 132.9l2.3 2.3l-2.3 2.3l-2.3 -2.3zM417.3 137.3l2.3 2.3l-2.3 2.3l-2.3 -2.3zM417.2 142.1l2.3 2.3l-2.3 2.3l-2.3 -2.3zM417.4 144.9l2.3 2.3l-2.3 2.3l-2.3 -2.3zM417.5 149.4l2.3 2.3l-2.3 2.3l-2.3 -2.3zM417.6 153.9l2.3 2.3l-2.3 2.3l-2.3 -2.3zM417.6 158.3l2.3 2.3l-2.3 2.3l-2.3 -2.3zM417.2 161.5l2.3 2.3l-2.3 2.3l-2.3 -2.3zM417.3 165.6l2.3 2.3l-2.3 2.3l-2.3 -2.3zM417.4 169.1l2.3 2.3l-2.3 2.3l-2.3 -2.3zM417.4 172.4l2.3 2.3l-2.3 2.3l-2.3 -2.3zM417.2 176.1l2.3 2.3l-2.3 2.3l-2.3 -2.3zM417.2 179.7l2.3 2.3l-2.3 2.3l-2.3 -2.3zM417.3 182.8l2.3 2.3l-2.3 2.3l-2.3 -2.3zM417.4 186.1l2.3 2.3l-2.3 2.3l-2.3 -2.3zM417.7 189.5l2.3 2.3l-2.3 2.3l-2.3 -2.3zM417.5 193.3l2.3 2.3l-2.3 2.3l-2.3 -2.3zM417.6 197.2l2.3 2.3l-2.3 2.3l-2.3 -2.3zM417.5 200.6l2.3 2.3l-2.3 2.3l-2.3 -2.3zM417.5 202.5l2.1 2.1l-2.1 2.1l-2.1 -2.1zM417.6 204.4l2.1 2.1l-2.1 2.1l-2.1 -2.1zM417.3 206.3l2.1 2.1l-2.1 2.1l-2.1 -2.1zM417.9 208.1l2.1 2.1l-2.1 2.1l-2.1 -2.1zM417.8 209.7l2.1 2.1l-2.1 2.1l-2.1 -2.1zM417.6 211.1l2.1 2.1l-2.1 2.1l-2.1 -2.1zM417.7 212.6l2.1 2.1l-2.1 2.1l-2.1 -2.1zM417.5 214.2l2.1 2.1l-2.1 2.1l-2.1 -2.1zM417.3 215.7l2.1 2.1l-2.1 2.1l-2.1 -2.1zM417.6 217.6l2.1 2.1l-2.1 2.1l-2.1 -2.1zM417.2 219.3l2.1 2.1l-2.1 2.1l-2.1 -2.1zM417.8 220.8l2.1 2.1l-2.1 2.1l-2.1 -2.1zM417.5 222.3l2.1 2.1l-2.1 2.1l-2.1 -2.1zM417.5 224l2.1 2.1l-2.1 2.1l-2.1 -2.1zM417.8 225.7l2.1 2.1l-2.1 2.1l-2.1 -2.1zM416.9 222.1l2 2l-2 2l-2 -2zM417.3 223.8l2 2l-2 2l-2 -2zM417.9 222.6l2 2l-2 2l-2 -2zM417.9 224.7l2 2l-2 2l-2 -2zM416.4 223.8l2 2l-2 2l-2 -2zM417.2 224.5l2 2l-2 2l-2 -2zM417.8 225l2 2l-2 2l-2 -2zM418.4 221l2 2l-2 2l-2 -2zM423.5 38.8l2.5 2.5l-2.5 2.5l-2.5 -2.5zM423.7 40.8l2.3 2.3l-2.3 2.3l-2.3 -2.3zM423.5 42.5l2.3 2.3l-2.3 2.3l-2.3 -2.3zM423.2 44.4l2.3 2.3l-2.3 2.3l-2.3 -2.3zM423.4 46l2.3 2.3l-2.3 2.3l-2.3 -2.3zM423.4 47.6l2.3 2.3l-2.3 2.3l-2.3 -2.3zM423.6 49.1l2.3 2.3l-2.3 2.3l-2.3 -2.3zM423.3 52.2l2.3 2.3l-2.3 2.3l-2.3 -2.3zM423.4 54.8l2.3 2.3l-2.3 2.3l-2.3 -2.3zM423.3 57.8l2.3 2.3l-2.3 2.3l-2.3 -2.3zM423.3 60.8l2.3 2.3l-2.3 2.3l-2.3 -2.3zM423.6 63.7l2.3 2.3l-2.3 2.3l-2.3 -2.3zM423.2 66.6l2.3 2.3l-2.3 2.3l-2.3 -2.3zM423.7 69.8l2.3 2.3l-2.3 2.3l-2.3 -2.3zM423.7 72.6l2.3 2.3l-2.3 2.3l-2.3 -2.3zM423.4 76.8l2.3 2.3l-2.3 2.3l-2.3 -2.3zM423.2 81.3l2.3 2.3l-2.3 2.3l-2.3 -2.3zM423.5 85.5l2.3 2.3l-2.3 2.3l-2.3 -2.3zM423.4 90.1l2.3 2.3l-2.3 2.3l-2.3 -2.3zM423.6 92.6l2.3 2.3l-2.3 2.3l-2.3 -2.3zM423.3 97.3l2.3 2.3l-2.3 2.3l-2.3 -2.3zM423.2 101.7l2.3 2.3l-2.3 2.3l-2.3 -2.3zM423.5 106.6l2.3 2.3l-2.3 2.3l-2.3 -2.3zM423.2 111.2l2.3 2.3l-2.3 2.3l-2.3 -2.3zM423.6 115.7l2.3 2.3l-2.3 2.3l-2.3 -2.3zM423.3 118.3l2.3 2.3l-2.3 2.3l-2.3 -2.3zM423.4 123l2.3 2.3l-2.3 2.3l-2.3 -2.3zM423.6 127.5l2.3 2.3l-2.3 2.3l-2.3 -2.3zM423.7 132.5l2.3 2.3l-2.3 2.3l-2.3 -2.3zM423.5 137l2.3 2.3l-2.3 2.3l-2.3 -2.3zM423.6 142.1l2.3 2.3l-2.3 2.3l-2.3 -2.3zM423.3 146.7l2.3 2.3l-2.3 2.3l-2.3 -2.3zM423.6 151.3l2.3 2.3l-2.3 2.3l-2.3 -2.3zM423.4 154l2.3 2.3l-2.3 2.3l-2.3 -2.3zM423.7 159.3l2.3 2.3l-2.3 2.3l-2.3 -2.3zM423.4 162.5l2.3 2.3l-2.3 2.3l-2.3 -2.3zM423.6 166.5l2.3 2.3l-2.3 2.3l-2.3 -2.3zM423.4 169.8l2.3 2.3l-2.3 2.3l-2.3 -2.3zM423.2 174l2.3 2.3l-2.3 2.3l-2.3 -2.3zM423.6 177.3l2.3 2.3l-2.3 2.3l-2.3 -2.3zM423.7 181.4l2.3 2.3l-2.3 2.3l-2.3 -2.3zM423.6 184.9l2.3 2.3l-2.3 2.3l-2.3 -2.3zM423.4 189.1l2.3 2.3l-2.3 2.3l-2.3 -2.3zM423.3 192.4l2.3 2.3l-2.3 2.3l-2.3 -2.3zM423.2 196.3l2.3 2.3l-2.3 2.3l-2.3 -2.3zM423.7 200l2.3 2.3l-2.3 2.3l-2.3 -2.3zM423.6 201.6l2.1 2.1l-2.1 2.1l-2.1 -2.1zM423.8 203.2l2.1 2.1l-2.1 2.1l-2.1 -2.1zM423.5 204.9l2.1 2.1l-2.1 2.1l-2.1 -2.1zM423.7 206.8l2.1 2.1l-2.1 2.1l-2.1 -2.1zM423.7 208.2l2.1 2.1l-2.1 2.1l-2.1 -2.1zM423.8 209.8l2.1 2.1l-2.1 2.1l-2.1 -2.1zM423.5 211.8l2.1 2.1l-2.1 2.1l-2.1 -2.1zM423.2 213.4l2.1 2.1l-2.1 2.1l-2.1 -2.1zM423.2 214.9l2.1 2.1l-2.1 2.1l-2.1 -2.1zM423.6 216.3l2.1 2.1l-2.1 2.1l-2.1 -2.1zM423.5 217.6l2.1 2.1l-2.1 2.1l-2.1 -2.1zM423.6 219.3l2.1 2.1l-2.1 2.1l-2.1 -2.1zM423.8 221l2.1 2.1l-2.1 2.1l-2.1 -2.1zM423.1 222.5l2.1 2.1l-2.1 2.1l-2.1 -2.1zM423.3 224.2l2.1 2.1l-2.1 2.1l-2.1 -2.1zM423.8 226.2l2.1 2.1l-2.1 2.1l-2.1 -2.1zM424.2 222.6l2 2l-2 2l-2 -2zM423.4 224.8l2 2l-2 2l-2 -2zM423.1 224.1l2 2l-2 2l-2 -2zM423.4 224.1l2 2l-2 2l-2 -2zM422.4 222.7l2 2l-2 2l-2 -2zM422.6 223.3l2 2l-2 2l-2 -2zM423.6 221.2l2 2l-2 2l-2 -2zM423.1 223.1l2 2l-2 2l-2 -2zM429.4 37.7l2.5 2.5l-2.5 2.5l-2.5 -2.5zM429.6 39.7l2.3 2.3l-2.3 2.3l-2.3 -2.3zM429.5 41.7l2.3 2.3l-2.3 2.3l-2.3 -2.3zM429.5 43.2l2.3 2.3l-2.3 2.3l-2.3 -2.3zM429.6 44.7l2.3 2.3l-2.3 2.3l-2.3 -2.3zM429.6 46.2l2.3 2.3l-2.3 2.3l-2.3 -2.3zM429.5 47.7l2.3 2.3l-2.3 2.3l-2.3 -2.3zM429.2 50.3l2.3 2.3l-2.3 2.3l-2.3 -2.3zM429.7 52.9l2.3 2.3l-2.3 2.3l-2.3 -2.3zM429.5 55.6l2.3 2.3l-2.3 2.3l-2.3 -2.3zM429.7 58.6l2.3 2.3l-2.3 2.3l-2.3 -2.3zM429.6 61.2l2.3 2.3l-2.3 2.3l-2.3 -2.3zM429.6 64.2l2.3 2.3l-2.3 2.3l-2.3 -2.3zM429.4 66.9l2.3 2.3l-2.3 2.3l-2.3 -2.3zM429.3 70l2.3 2.3l-2.3 2.3l-2.3 -2.3zM429.5 72.7l2.3 2.3l-2.3 2.3l-2.3 -2.3zM429.5 75.2l2.3 2.3l-2.3 2.3l-2.3 -2.3zM429.4 79.4l2.3 2.3l-2.3 2.3l-2.3 -2.3zM429.7 84.2l2.3 2.3l-2.3 2.3l-2.3 -2.3zM429.4 88.9l2.3 2.3l-2.3 2.3l-2.3 -2.3zM429.2 94.2l2.3 2.3l-2.3 2.3l-2.3 -2.3zM429.5 98.2l2.3 2.3l-2.3 2.3l-2.3 -2.3zM429.7 102.4l2.3 2.3l-2.3 2.3l-2.3 -2.3zM429.7 106.6l2.3 2.3l-2.3 2.3l-2.3 -2.3zM429.7 109.1l2.3 2.3l-2.3 2.3l-2.3 -2.3zM429.4 113.6l2.3 2.3l-2.3 2.3l-2.3 -2.3zM429.4 116.1l2.3 2.3l-2.3 2.3l-2.3 -2.3zM429.3 121.2l2.3 2.3l-2.3 2.3l-2.3 -2.3zM429.5 125.6l2.3 2.3l-2.3 2.3l-2.3 -2.3zM429.5 128.1l2.3 2.3l-2.3 2.3l-2.3 -2.3zM429.4 132.9l2.3 2.3l-2.3 2.3l-2.3 -2.3zM429.2 137.3l2.3 2.3l-2.3 2.3l-2.3 -2.3zM429.5 142.1l2.3 2.3l-2.3 2.3l-2.3 -2.3zM429.6 146.2l2.3 2.3l-2.3 2.3l-2.3 -2.3zM429.6 150.9l2.3 2.3l-2.3 2.3l-2.3 -2.3zM429.5 155.4l2.3 2.3l-2.3 2.3l-2.3 -2.3zM429.5 160.6l2.3 2.3l-2.3 2.3l-2.3 -2.3zM429.4 163.7l2.3 2.3l-2.3 2.3l-2.3 -2.3zM429.7 167.8l2.3 2.3l-2.3 2.3l-2.3 -2.3zM429.3 171.3l2.3 2.3l-2.3 2.3l-2.3 -2.3zM429.3 175.5l2.3 2.3l-2.3 2.3l-2.3 -2.3zM429.3 178.5l2.3 2.3l-2.3 2.3l-2.3 -2.3zM429.6 182.1l2.3 2.3l-2.3 2.3l-2.3 -2.3zM429.4 185.1l2.3 2.3l-2.3 2.3l-2.3 -2.3zM429.4 189l2.3 2.3l-2.3 2.3l-2.3 -2.3zM429.6 192.2l2.3 2.3l-2.3 2.3l-2.3 -2.3zM429.6 195.7l2.3 2.3l-2.3 2.3l-2.3 -2.3zM429.6 199.3l2.3 2.3l-2.3 2.3l-2.3 -2.3zM429.8 201.1l2.1 2.1l-2.1 2.1l-2.1 -2.1zM429.6 203l2.1 2.1l-2.1 2.1l-2.1 -2.1zM429.5 204.6l2.1 2.1l-2.1 2.1l-2.1 -2.1zM429.1 206.2l2.1 2.1l-2.1 2.1l-2.1 -2.1zM429.7 208.1l2.1 2.1l-2.1 2.1l-2.1 -2.1zM429.7 210l2.1 2.1l-2.1 2.1l-2.1 -2.1zM429.8 211.7l2.1 2.1l-2.1 2.1l-2.1 -2.1zM429.8 213.3l2.1 2.1l-2.1 2.1l-2.1 -2.1zM429.4 214.6l2.1 2.1l-2.1 2.1l-2.1 -2.1zM429.7 216.3l2.1 2.1l-2.1 2.1l-2.1 -2.1zM429.7 218l2.1 2.1l-2.1 2.1l-2.1 -2.1zM429.6 219.6l2.1 2.1l-2.1 2.1l-2.1 -2.1zM429.5 221.4l2.1 2.1l-2.1 2.1l-2.1 -2.1zM429.6 222.7l2.1 2.1l-2.1 2.1l-2.1 -2.1zM429.3 224l2.1 2.1l-2.1 2.1l-2.1 -2.1zM429.7 225.4l2.1 2.1l-2.1 2.1l-2.1 -2.1zM429.9 225.2l2 2l-2 2l-2 -2zM428.8 225.6l2 2l-2 2l-2 -2zM430.4 222.5l2 2l-2 2l-2 -2zM429.7 225.6l2 2l-2 2l-2 -2zM429.7 224l2 2l-2 2l-2 -2zM428.4 225.6l2 2l-2 2l-2 -2zM430.3 225.6l2 2l-2 2l-2 -2zM429.7 223.5l2 2l-2 2l-2 -2zM435.4 46.5l2.5 2.5l-2.5 2.5l-2.5 -2.5zM435.6 48.2l2.3 2.3l-2.3 2.3l-2.3 -2.3zM435.3 50.1l2.3 2.3l-2.3 2.3l-2.3 -2.3zM435.6 52l2.3 2.3l-2.3 2.3l-2.3 -2.3zM435.5 54l2.3 2.3l-2.3 2.3l-2.3 -2.3zM435.3 55.8l2.3 2.3l-2.3 2.3l-2.3 -2.3zM435.3 58.8l2.3 2.3l-2.3 2.3l-2.3 -2.3zM435.5 61.7l2.3 2.3l-2.3 2.3l-2.3 -2.3zM435.6 64.9l2.3 2.3l-2.3 2.3l-2.3 -2.3zM435.2 67.4l2.3 2.3l-2.3 2.3l-2.3 -2.3zM435.4 70l2.3 2.3l-2.3 2.3l-2.3 -2.3zM435.3 73l2.3 2.3l-2.3 2.3l-2.3 -2.3zM435.4 75.9l2.3 2.3l-2.3 2.3l-2.3 -2.3zM435.5 78.5l2.3 2.3l-2.3 2.3l-2.3 -2.3zM435.2 83.9l2.3 2.3l-2.3 2.3l-2.3 -2.3zM435.4 86.5l2.3 2.3l-2.3 2.3l-2.3 -2.3zM435.6 91.4l2.3 2.3l-2.3 2.3l-2.3 -2.3zM435.5 96.4l2.3 2.3l-2.3 2.3l-2.3 -2.3zM435.3 101.6l2.3 2.3l-2.3 2.3l-2.3 -2.3zM435.7 106.6l2.3 2.3l-2.3 2.3l-2.3 -2.3zM435.6 109.2l2.3 2.3l-2.3 2.3l-2.3 -2.3zM435.4 113.9l2.3 2.3l-2.3 2.3l-2.3 -2.3zM435.5 116.6l2.3 2.3l-2.3 2.3l-2.3 -2.3zM435.4 121l2.3 2.3l-2.3 2.3l-2.3 -2.3zM435.3 125.4l2.3 2.3l-2.3 2.3l-2.3 -2.3zM435.7 129.5l2.3 2.3l-2.3 2.3l-2.3 -2.3zM435.2 134.1l2.3 2.3l-2.3 2.3l-2.3 -2.3zM435.2 138.8l2.3 2.3l-2.3 2.3l-2.3 -2.3zM435.4 141.4l2.3 2.3l-2.3 2.3l-2.3 -2.3zM435.3 145.8l2.3 2.3l-2.3 2.3l-2.3 -2.3zM435.4 148.3l2.3 2.3l-2.3 2.3l-2.3 -2.3zM435.3 152.9l2.3 2.3l-2.3 2.3l-2.3 -2.3zM435.3 156.9l2.3 2.3l-2.3 2.3l-2.3 -2.3zM435.4 161.9l2.3 2.3l-2.3 2.3l-2.3 -2.3zM435.5 165.4l2.3 2.3l-2.3 2.3l-2.3 -2.3zM435.5 168.8l2.3 2.3l-2.3 2.3l-2.3 -2.3zM435.5 172l2.3 2.3l-2.3 2.3l-2.3 -2.3zM435.5 175.6l2.3 2.3l-2.3 2.3l-2.3 -2.3zM435.6 179.7l2.3 2.3l-2.3 2.3l-2.3 -2.3zM435.3 183.9l2.3 2.3l-2.3 2.3l-2.3 -2.3zM435.4 188l2.3 2.3l-2.3 2.3l-2.3 -2.3zM435.4 191.5l2.3 2.3l-2.3 2.3l-2.3 -2.3zM435.7 195.6l2.3 2.3l-2.3 2.3l-2.3 -2.3zM435.3 199.5l2.3 2.3l-2.3 2.3l-2.3 -2.3zM435.2 201.1l2.1 2.1l-2.1 2.1l-2.1 -2.1zM435.6 202.8l2.1 2.1l-2.1 2.1l-2.1 -2.1zM435 204.2l2.1 2.1l-2.1 2.1l-2.1 -2.1zM435.3 206.2l2.1 2.1l-2.1 2.1l-2.1 -2.1zM435.4 207.5l2.1 2.1l-2.1 2.1l-2.1 -2.1zM435.7 208.9l2.1 2.1l-2.1 2.1l-2.1 -2.1zM435.5 210.5l2.1 2.1l-2.1 2.1l-2.1 -2.1zM435.1 212.5l2.1 2.1l-2.1 2.1l-2.1 -2.1zM435.7 213.9l2.1 2.1l-2.1 2.1l-2.1 -2.1zM435.4 215.7l2.1 2.1l-2.1 2.1l-2.1 -2.1zM435.5 217.2l2.1 2.1l-2.1 2.1l-2.1 -2.1zM435.8 219.2l2.1 2.1l-2.1 2.1l-2.1 -2.1zM435.8 221.1l2.1 2.1l-2.1 2.1l-2.1 -2.1zM435.1 222.5l2.1 2.1l-2.1 2.1l-2.1 -2.1zM435.2 224.4l2.1 2.1l-2.1 2.1l-2.1 -2.1zM435.4 226.1l2.1 2.1l-2.1 2.1l-2.1 -2.1zM435.3 221.1l2 2l-2 2l-2 -2zM434.8 225.3l2 2l-2 2l-2 -2zM436.1 221.5l2 2l-2 2l-2 -2zM436.5 225.3l2 2l-2 2l-2 -2zM435.9 224.1l2 2l-2 2l-2 -2zM436.2 223.2l2 2l-2 2l-2 -2zM434.4 223.6l2 2l-2 2l-2 -2zM436.2 223.2l2 2l-2 2l-2 -2zM441.4 44.1l2.5 2.5l-2.5 2.5l-2.5 -2.5zM441.6 45.9l2.3 2.3l-2.3 2.3l-2.3 -2.3zM441.3 47.6l2.3 2.3l-2.3 2.3l-2.3 -2.3zM441.3 49.2l2.3 2.3l-2.3 2.3l-2.3 -2.3zM441.7 50.9l2.3 2.3l-2.3 2.3l-2.3 -2.3zM441.6 52.7l2.3 2.3l-2.3 2.3l-2.3 -2.3zM441.4 54.2l2.3 2.3l-2.3 2.3l-2.3 -2.3zM441.4 57.1l2.3 2.3l-2.3 2.3l-2.3 -2.3zM441.7 59.5l2.3 2.3l-2.3 2.3l-2.3 -2.3zM441.5 62l2.3 2.3l-2.3 2.3l-2.3 -2.3zM441.3 65.2l2.3 2.3l-2.3 2.3l-2.3 -2.3zM441.3 67.8l2.3 2.3l-2.3 2.3l-2.3 -2.3zM441.7 70.6l2.3 2.3l-2.3 2.3l-2.3 -2.3zM441.3 73.1l2.3 2.3l-2.3 2.3l-2.3 -2.3zM441.3 76.2l2.3 2.3l-2.3 2.3l-2.3 -2.3zM441.1 81.2l2.3 2.3l-2.3 2.3l-2.3 -2.3zM441.7 86.3l2.3 2.3l-2.3 2.3l-2.3 -2.3zM441.2 90.9l2.3 2.3l-2.3 2.3l-2.3 -2.3zM441.3 94.9l2.3 2.3l-2.3 2.3l-2.3 -2.3zM441.4 99.6l2.3 2.3l-2.3 2.3l-2.3 -2.3zM441.2 103.8l2.3 2.3l-2.3 2.3l-2.3 -2.3zM441.7 107.9l2.3 2.3l-2.3 2.3l-2.3 -2.3zM441.4 112.9l2.3 2.3l-2.3 2.3l-2.3 -2.3zM441.7 117.2l2.3 2.3l-2.3 2.3l-2.3 -2.3zM441.4 121.8l2.3 2.3l-2.3 2.3l-2.3 -2.3zM441.7 124.2l2.3 2.3l-2.3 2.3l-2.3 -2.3zM441.4 129l2.3 2.3l-2.3 2.3l-2.3 -2.3zM441.3 133l2.3 2.3l-2.3 2.3l-2.3 -2.3zM441.2 137.2l2.3 2.3l-2.3 2.3l-2.3 -2.3zM441.6 141.8l2.3 2.3l-2.3 2.3l-2.3 -2.3zM441.3 147.1l2.3 2.3l-2.3 2.3l-2.3 -2.3zM441.6 151.6l2.3 2.3l-2.3 2.3l-2.3 -2.3zM441.4 156.3l2.3 2.3l-2.3 2.3l-2.3 -2.3zM441.5 160.6l2.3 2.3l-2.3 2.3l-2.3 -2.3zM441.2 164.8l2.3 2.3l-2.3 2.3l-2.3 -2.3zM441.7 168.9l2.3 2.3l-2.3 2.3l-2.3 -2.3zM441.2 172.5l2.3 2.3l-2.3 2.3l-2.3 -2.3zM441.7 176.1l2.3 2.3l-2.3 2.3l-2.3 -2.3zM441.6 179.1l2.3 2.3l-2.3 2.3l-2.3 -2.3zM441.2 183l2.3 2.3l-2.3 2.3l-2.3 -2.3zM441.2 186.7l2.3 2.3l-2.3 2.3l-2.3 -2.3zM441.4 189.8l2.3 2.3l-2.3 2.3l-2.3 -2.3zM441.5 193.2l2.3 2.3l-2.3 2.3l-2.3 -2.3zM441.3 196.8l2.3 2.3l-2.3 2.3l-2.3 -2.3zM441.1 200.9l2.3 2.3l-2.3 2.3l-2.3 -2.3zM441.3 202.9l2.1 2.1l-2.1 2.1l-2.1 -2.1zM441.5 204.9l2.1 2.1l-2.1 2.1l-2.1 -2.1zM441.2 206.5l2.1 2.1l-2.1 2.1l-2.1 -2.1zM441.7 208.4l2.1 2.1l-2.1 2.1l-2.1 -2.1zM441.5 210.4l2.1 2.1l-2.1 2.1l-2.1 -2.1zM441.7 212.3l2.1 2.1l-2.1 2.1l-2.1 -2.1zM441.3 214.1l2.1 2.1l-2.1 2.1l-2.1 -2.1zM441.3 215.8l2.1 2.1l-2.1 2.1l-2.1 -2.1zM441.5 217.7l2.1 2.1l-2.1 2.1l-2.1 -2.1zM441.7 219.6l2.1 2.1l-2.1 2.1l-2.1 -2.1zM441.2 221.4l2.1 2.1l-2.1 2.1l-2.1 -2.1zM441.1 222.9l2.1 2.1l-2.1 2.1l-2.1 -2.1zM441.2 224.5l2.1 2.1l-2.1 2.1l-2.1 -2.1zM441.7 226l2.1 2.1l-2.1 2.1l-2.1 -2.1zM442.3 225.4l2 2l-2 2l-2 -2zM442 221.4l2 2l-2 2l-2 -2zM441 224.8l2 2l-2 2l-2 -2zM441.7 223.7l2 2l-2 2l-2 -2zM440.4 221.4l2 2l-2 2l-2 -2zM442.1 225.6l2 2l-2 2l-2 -2zM442.3 225.9l2 2l-2 2l-2 -2zM442.5 225.1l2 2l-2 2l-2 -2zM447.4 50.5l2.5 2.5l-2.5 2.5l-2.5 -2.5zM447.5 52.4l2.3 2.3l-2.3 2.3l-2.3 -2.3zM447.6 54.3l2.3 2.3l-2.3 2.3l-2.3 -2.3zM447.4 55.9l2.3 2.3l-2.3 2.3l-2.3 -2.3zM447.3 57.8l2.3 2.3l-2.3 2.3l-2.3 -2.3zM447.6 59.4l2.3 2.3l-2.3 2.3l-2.3 -2.3zM447.6 61.3l2.3 2.3l-2.3 2.3l-2.3 -2.3zM447.3 64l2.3 2.3l-2.3 2.3l-2.3 -2.3zM447.6 66.5l2.3 2.3l-2.3 2.3l-2.3 -2.3zM447.2 68.9l2.3 2.3l-2.3 2.3l-2.3 -2.3zM447.4 71.3l2.3 2.3l-2.3 2.3l-2.3 -2.3zM447.2 74.5l2.3 2.3l-2.3 2.3l-2.3 -2.3zM447.3 77.1l2.3 2.3l-2.3 2.3l-2.3 -2.3zM447.3 80.1l2.3 2.3l-2.3 2.3l-2.3 -2.3zM447.5 82.6l2.3 2.3l-2.3 2.3l-2.3 -2.3zM447.2 85.1l2.3 2.3l-2.3 2.3l-2.3 -2.3zM447.2 90.4l2.3 2.3l-2.3 2.3l-2.3 -2.3zM447.6 95.3l2.3 2.3l-2.3 2.3l-2.3 -2.3zM447.5 99.2l2.3 2.3l-2.3 2.3l-2.3 -2.3zM447.2 103.2l2.3 2.3l-2.3 2.3l-2.3 -2.3zM447.4 105.7l2.3 2.3l-2.3 2.3l-2.3 -2.3zM447.4 109.9l2.3 2.3l-2.3 2.3l-2.3 -2.3zM447.2 114.6l2.3 2.3l-2.3 2.3l-2.3 -2.3zM447.6 120l2.3 2.3l-2.3 2.3l-2.3 -2.3zM447.2 122.4l2.3 2.3l-2.3 2.3l-2.3 -2.3zM447.7 126.4l2.3 2.3l-2.3 2.3l-2.3 -2.3zM447.6 131.1l2.3 2.3l-2.3 2.3l-2.3 -2.3zM447.2 136.1l2.3 2.3l-2.3 2.3l-2.3 -2.3zM447.4 141.1l2.3 2.3l-2.3 2.3l-2.3 -2.3zM447.3 146.3l2.3 2.3l-2.3 2.3l-2.3 -2.3zM447.6 148.8l2.3 2.3l-2.3 2.3l-2.3 -2.3zM447.7 153.7l2.3 2.3l-2.3 2.3l-2.3 -2.3zM447.7 158.3l2.3 2.3l-2.3 2.3l-2.3 -2.3zM447.3 161l2.3 2.3l-2.3 2.3l-2.3 -2.3zM447.2 165.8l2.3 2.3l-2.3 2.3l-2.3 -2.3zM447.5 168.9l2.3 2.3l-2.3 2.3l-2.3 -2.3zM447.3 173l2.3 2.3l-2.3 2.3l-2.3 -2.3zM447.7 177l2.3 2.3l-2.3 2.3l-2.3 -2.3zM447.2 181.1l2.3 2.3l-2.3 2.3l-2.3 -2.3zM447.7 184.3l2.3 2.3l-2.3 2.3l-2.3 -2.3zM447.2 188.4l2.3 2.3l-2.3 2.3l-2.3 -2.3zM447.5 191.7l2.3 2.3l-2.3 2.3l-2.3 -2.3zM447.2 194.8l2.3 2.3l-2.3 2.3l-2.3 -2.3zM447.5 198l2.3 2.3l-2.3 2.3l-2.3 -2.3zM447.6 201.4l2.3 2.3l-2.3 2.3l-2.3 -2.3zM447.7 203l2.1 2.1l-2.1 2.1l-2.1 -2.1zM447.3 204.8l2.1 2.1l-2.1 2.1l-2.1 -2.1zM447.6 206.6l2.1 2.1l-2.1 2.1l-2.1 -2.1zM447.8 207.9l2.1 2.1l-2.1 2.1l-2.1 -2.1zM447.4 209.5l2.1 2.1l-2.1 2.1l-2.1 -2.1zM447 211.4l2.1 2.1l-2.1 2.1l-2.1 -2.1zM447 212.9l2.1 2.1l-2.1 2.1l-2.1 -2.1zM447.2 214.7l2.1 2.1l-2.1 2.1l-2.1 -2.1zM447.6 216.5l2.1 2.1l-2.1 2.1l-2.1 -2.1zM447.2 218.5l2.1 2.1l-2.1 2.1l-2.1 -2.1zM447.7 220.1l2.1 2.1l-2.1 2.1l-2.1 -2.1zM447.2 221.7l2.1 2.1l-2.1 2.1l-2.1 -2.1zM447.7 223.5l2.1 2.1l-2.1 2.1l-2.1 -2.1zM447.3 225.1l2.1 2.1l-2.1 2.1l-2.1 -2.1zM447.2 225.3l2 2l-2 2l-2 -2zM447.1 221.8l2 2l-2 2l-2 -2zM447.1 221.2l2 2l-2 2l-2 -2zM448 223.6l2 2l-2 2l-2 -2zM448.2 221.4l2 2l-2 2l-2 -2zM447.3 223.9l2 2l-2 2l-2 -2zM447.5 225.4l2 2l-2 2l-2 -2zM446.7 221.9l2 2l-2 2l-2 -2zM453.4 47.9l2.5 2.5l-2.5 2.5l-2.5 -2.5zM453.1 49.7l2.3 2.3l-2.3 2.3l-2.3 -2.3zM453.4 51.4l2.3 2.3l-2.3 2.3l-2.3 -2.3zM453.5 53.4l2.3 2.3l-2.3 2.3l-2.3 -2.3zM453.2 55.3l2.3 2.3l-2.3 2.3l-2.3 -2.3zM453.5 57l2.3 2.3l-2.3 2.3l-2.3 -2.3zM453.5 58.4l2.3 2.3l-2.3 2.3l-2.3 -2.3zM453.1 61.3l2.3 2.3l-2.3 2.3l-2.3 -2.3zM453.6 63.9l2.3 2.3l-2.3 2.3l-2.3 -2.3zM453.5 66.4l2.3 2.3l-2.3 2.3l-2.3 -2.3zM453.3 69.1l2.3 2.3l-2.3 2.3l-2.3 -2.3zM453.3 72.2l2.3 2.3l-2.3 2.3l-2.3 -2.3zM453.6 75.3l2.3 2.3l-2.3 2.3l-2.3 -2.3zM453.2 78.2l2.3 2.3l-2.3 2.3l-2.3 -2.3zM453.7 80.9l2.3 2.3l-2.3 2.3l-2.3 -2.3zM453.2 85.6l2.3 2.3l-2.3 2.3l-2.3 -2.3zM453.6 90.6l2.3 2.3l-2.3 2.3l-2.3 -2.3zM453.6 94.6l2.3 2.3l-2.3 2.3l-2.3 -2.3zM453.4 100l2.3 2.3l-2.3 2.3l-2.3 -2.3zM453.4 104.5l2.3 2.3l-2.3 2.3l-2.3 -2.3zM453.6 109.4l2.3 2.3l-2.3 2.3l-2.3 -2.3zM453.6 113.6l2.3 2.3l-2.3 2.3l-2.3 -2.3zM453.4 117.7l2.3 2.3l-2.3 2.3l-2.3 -2.3zM453.2 120.3l2.3 2.3l-2.3 2.3l-2.3 -2.3zM453.2 123l2.3 2.3l-2.3 2.3l-2.3 -2.3zM453.5 128.2l2.3 2.3l-2.3 2.3l-2.3 -2.3zM453.1 130.8l2.3 2.3l-2.3 2.3l-2.3 -2.3zM453.7 136l2.3 2.3l-2.3 2.3l-2.3 -2.3zM453.6 141.3l2.3 2.3l-2.3 2.3l-2.3 -2.3zM453.2 145.3l2.3 2.3l-2.3 2.3l-2.3 -2.3zM453.6 150.6l2.3 2.3l-2.3 2.3l-2.3 -2.3zM453.4 153.3l2.3 2.3l-2.3 2.3l-2.3 -2.3zM453.2 157.2l2.3 2.3l-2.3 2.3l-2.3 -2.3zM453.3 161.2l2.3 2.3l-2.3 2.3l-2.3 -2.3zM453.2 164.8l2.3 2.3l-2.3 2.3l-2.3 -2.3zM453.2 168l2.3 2.3l-2.3 2.3l-2.3 -2.3zM453.6 171.6l2.3 2.3l-2.3 2.3l-2.3 -2.3zM453.5 175.1l2.3 2.3l-2.3 2.3l-2.3 -2.3zM453.6 179l2.3 2.3l-2.3 2.3l-2.3 -2.3zM453.4 182.9l2.3 2.3l-2.3 2.3l-2.3 -2.3zM453.2 186l2.3 2.3l-2.3 2.3l-2.3 -2.3zM453.3 189.3l2.3 2.3l-2.3 2.3l-2.3 -2.3zM453.4 193.1l2.3 2.3l-2.3 2.3l-2.3 -2.3zM453.2 196.4l2.3 2.3l-2.3 2.3l-2.3 -2.3zM453.7 200.3l2.3 2.3l-2.3 2.3l-2.3 -2.3zM453.1 202.2l2.1 2.1l-2.1 2.1l-2.1 -2.1zM453.6 204l2.1 2.1l-2.1 2.1l-2.1 -2.1zM453.5 205.7l2.1 2.1l-2.1 2.1l-2.1 -2.1zM453.4 207.6l2.1 2.1l-2.1 2.1l-2.1 -2.1zM453.1 209.4l2.1 2.1l-2.1 2.1l-2.1 -2.1zM453.5 211.3l2.1 2.1l-2.1 2.1l-2.1 -2.1zM453.5 212.7l2.1 2.1l-2.1 2.1l-2.1 -2.1zM453.4 214.6l2.1 2.1l-2.1 2.1l-2.1 -2.1zM453.6 216.1l2.1 2.1l-2.1 2.1l-2.1 -2.1zM453.8 218.1l2.1 2.1l-2.1 2.1l-2.1 -2.1zM453.4 219.6l2.1 2.1l-2.1 2.1l-2.1 -2.1zM453.1 221.2l2.1 2.1l-2.1 2.1l-2.1 -2.1zM453.2 222.9l2.1 2.1l-2.1 2.1l-2.1 -2.1zM453.7 224.5l2.1 2.1l-2.1 2.1l-2.1 -2.1zM453.8 226.2l2.1 2.1l-2.1 2.1l-2.1 -2.1zM452.7 225l2 2l-2 2l-2 -2zM453.9 225.7l2 2l-2 2l-2 -2zM452.8 224.6l2 2l-2 2l-2 -2zM454.5 222.8l2 2l-2 2l-2 -2zM454.4 222.2l2 2l-2 2l-2 -2zM453.5 221.3l2 2l-2 2l-2 -2zM454 224.9l2 2l-2 2l-2 -2zM452.5 224.9l2 2l-2 2l-2 -2zM459.4 53.8l2.5 2.5l-2.5 2.5l-2.5 -2.5zM459.5 55.6l2.3 2.3l-2.3 2.3l-2.3 -2.3zM459.3 57.4l2.3 2.3l-2.3 2.3l-2.3 -2.3zM459.2 58.9l2.3 2.3l-2.3 2.3l-2.3 -2.3zM459.4 60.6l2.3 2.3l-2.3 2.3l-2.3 -2.3zM459.5 62.4l2.3 2.3l-2.3 2.3l-2.3 -2.3zM459.6 64.1l2.3 2.3l-2.3 2.3l-2.3 -2.3zM459.4 67.2l2.3 2.3l-2.3 2.3l-2.3 -2.3zM459.4 69.9l2.3 2.3l-2.3 2.3l-2.3 -2.3zM459.2 72.5l2.3 2.3l-2.3 2.3l-2.3 -2.3zM459.4 75.5l2.3 2.3l-2.3 2.3l-2.3 -2.3zM459.3 77.9l2.3 2.3l-2.3 2.3l-2.3 -2.3zM459.1 80.6l2.3 2.3l-2.3 2.3l-2.3 -2.3zM459.5 83l2.3 2.3l-2.3 2.3l-2.3 -2.3zM459.5 88.2l2.3 2.3l-2.3 2.3l-2.3 -2.3zM459.3 93l2.3 2.3l-2.3 2.3l-2.3 -2.3zM459.2 97.4l2.3 2.3l-2.3 2.3l-2.3 -2.3zM459.2 102.8l2.3 2.3l-2.3 2.3l-2.3 -2.3zM459.5 105.5l2.3 2.3l-2.3 2.3l-2.3 -2.3zM459.2 110.4l2.3 2.3l-2.3 2.3l-2.3 -2.3zM459.6 115l2.3 2.3l-2.3 2.3l-2.3 -2.3zM459.5 118.9l2.3 2.3l-2.3 2.3l-2.3 -2.3zM459.2 123.8l2.3 2.3l-2.3 2.3l-2.3 -2.3zM459.5 128.7l2.3 2.3l-2.3 2.3l-2.3 -2.3zM459.1 132.6l2.3 2.3l-2.3 2.3l-2.3 -2.3zM459.1 135.1l2.3 2.3l-2.3 2.3l-2.3 -2.3zM459.4 139.4l2.3 2.3l-2.3 2.3l-2.3 -2.3zM459.5 144.1l2.3 2.3l-2.3 2.3l-2.3 -2.3zM459.2 148.9l2.3 2.3l-2.3 2.3l-2.3 -2.3zM459.3 153.9l2.3 2.3l-2.3 2.3l-2.3 -2.3zM459.4 158.1l2.3 2.3l-2.3 2.3l-2.3 -2.3zM459.3 160.7l2.3 2.3l-2.3 2.3l-2.3 -2.3zM459.6 165.1l2.3 2.3l-2.3 2.3l-2.3 -2.3zM459.6 168.5l2.3 2.3l-2.3 2.3l-2.3 -2.3zM459.6 172.3l2.3 2.3l-2.3 2.3l-2.3 -2.3zM459.3 176l2.3 2.3l-2.3 2.3l-2.3 -2.3zM459.4 179.8l2.3 2.3l-2.3 2.3l-2.3 -2.3zM459.4 182.9l2.3 2.3l-2.3 2.3l-2.3 -2.3zM459.1 186.1l2.3 2.3l-2.3 2.3l-2.3 -2.3zM459.7 189.4l2.3 2.3l-2.3 2.3l-2.3 -2.3zM459.4 193.2l2.3 2.3l-2.3 2.3l-2.3 -2.3zM459.3 196.9l2.3 2.3l-2.3 2.3l-2.3 -2.3zM459.3 200.6l2.3 2.3l-2.3 2.3l-2.3 -2.3zM459.6 202.6l2.1 2.1l-2.1 2.1l-2.1 -2.1zM459.4 204.2l2.1 2.1l-2.1 2.1l-2.1 -2.1zM459.6 205.8l2.1 2.1l-2.1 2.1l-2.1 -2.1zM459.7 207.7l2.1 2.1l-2.1 2.1l-2.1 -2.1zM459.7 209.1l2.1 2.1l-2.1 2.1l-2.1 -2.1zM459.1 210.5l2.1 2.1l-2.1 2.1l-2.1 -2.1zM459.5 212.1l2.1 2.1l-2.1 2.1l-2.1 -2.1zM459.5 213.5l2.1 2.1l-2.1 2.1l-2.1 -2.1zM459.6 215.5l2.1 2.1l-2.1 2.1l-2.1 -2.1zM459.1 217.3l2.1 2.1l-2.1 2.1l-2.1 -2.1zM459.2 218.9l2.1 2.1l-2.1 2.1l-2.1 -2.1zM459.7 220.4l2.1 2.1l-2.1 2.1l-2.1 -2.1zM459.2 222.4l2.1 2.1l-2.1 2.1l-2.1 -2.1zM459.5 224.1l2.1 2.1l-2.1 2.1l-2.1 -2.1zM459.4 226.1l2.1 2.1l-2.1 2.1l-2.1 -2.1zM458.5 225.4l2 2l-2 2l-2 -2zM459.3 225.3l2 2l-2 2l-2 -2zM459.8 225.5l2 2l-2 2l-2 -2zM458.4 225l2 2l-2 2l-2 -2zM459.3 222.4l2 2l-2 2l-2 -2zM459.6 222.2l2 2l-2 2l-2 -2zM458.5 224.1l2 2l-2 2l-2 -2zM459.8 221.7l2 2l-2 2l-2 -2zM465.4 51.4l2.5 2.5l-2.5 2.5l-2.5 -2.5zM465.1 53.2l2.3 2.3l-2.3 2.3l-2.3 -2.3zM465.6 54.9l2.3 2.3l-2.3 2.3l-2.3 -2.3zM465.6 56.8l2.3 2.3l-2.3 2.3l-2.3 -2.3zM465.2 58.8l2.3 2.3l-2.3 2.3l-2.3 -2.3zM465.4 60.3l2.3 2.3l-2.3 2.3l-2.3 -2.3zM465.4 61.8l2.3 2.3l-2.3 2.3l-2.3 -2.3zM465.2 64.8l2.3 2.3l-2.3 2.3l-2.3 -2.3zM465.2 67.9l2.3 2.3l-2.3 2.3l-2.3 -2.3zM465.1 70.9l2.3 2.3l-2.3 2.3l-2.3 -2.3zM465.1 73.4l2.3 2.3l-2.3 2.3l-2.3 -2.3zM465.1 76.3l2.3 2.3l-2.3 2.3l-2.3 -2.3zM465.3 79.2l2.3 2.3l-2.3 2.3l-2.3 -2.3zM465.3 82.4l2.3 2.3l-2.3 2.3l-2.3 -2.3zM465.3 87.4l2.3 2.3l-2.3 2.3l-2.3 -2.3zM465.4 92.2l2.3 2.3l-2.3 2.3l-2.3 -2.3zM465.4 96.3l2.3 2.3l-2.3 2.3l-2.3 -2.3zM465.7 100.9l2.3 2.3l-2.3 2.3l-2.3 -2.3zM465.4 106.1l2.3 2.3l-2.3 2.3l-2.3 -2.3zM465.2 110.9l2.3 2.3l-2.3 2.3l-2.3 -2.3zM465.6 115.5l2.3 2.3l-2.3 2.3l-2.3 -2.3zM465.6 117.9l2.3 2.3l-2.3 2.3l-2.3 -2.3zM465.1 120.4l2.3 2.3l-2.3 2.3l-2.3 -2.3zM465.2 124.3l2.3 2.3l-2.3 2.3l-2.3 -2.3zM465.5 128.5l2.3 2.3l-2.3 2.3l-2.3 -2.3zM465.5 133.4l2.3 2.3l-2.3 2.3l-2.3 -2.3zM465.6 138.4l2.3 2.3l-2.3 2.3l-2.3 -2.3zM465.5 140.8l2.3 2.3l-2.3 2.3l-2.3 -2.3zM465.4 145.3l2.3 2.3l-2.3 2.3l-2.3 -2.3zM465.2 150.2l2.3 2.3l-2.3 2.3l-2.3 -2.3zM465.5 152.6l2.3 2.3l-2.3 2.3l-2.3 -2.3zM465.2 156.5l2.3 2.3l-2.3 2.3l-2.3 -2.3zM465.2 161l2.3 2.3l-2.3 2.3l-2.3 -2.3zM465.6 165.3l2.3 2.3l-2.3 2.3l-2.3 -2.3zM465.5 168.4l2.3 2.3l-2.3 2.3l-2.3 -2.3zM465.6 171.6l2.3 2.3l-2.3 2.3l-2.3 -2.3zM465.6 175.5l2.3 2.3l-2.3 2.3l-2.3 -2.3zM465.7 179l2.3 2.3l-2.3 2.3l-2.3 -2.3zM465.5 182.5l2.3 2.3l-2.3 2.3l-2.3 -2.3zM465.2 186.5l2.3 2.3l-2.3 2.3l-2.3 -2.3zM465.5 189.5l2.3 2.3l-2.3 2.3l-2.3 -2.3zM465.2 192.8l2.3 2.3l-2.3 2.3l-2.3 -2.3zM465.2 196.4l2.3 2.3l-2.3 2.3l-2.3 -2.3zM465.2 199.7l2.3 2.3l-2.3 2.3l-2.3 -2.3zM465.6 201.2l2.1 2.1l-2.1 2.1l-2.1 -2.1zM465.6 203.1l2.1 2.1l-2.1 2.1l-2.1 -2.1zM465.7 204.7l2.1 2.1l-2.1 2.1l-2.1 -2.1zM465.4 206.4l2.1 2.1l-2.1 2.1l-2.1 -2.1zM465.3 207.7l2.1 2.1l-2.1 2.1l-2.1 -2.1zM465.5 209.2l2.1 2.1l-2.1 2.1l-2.1 -2.1zM465.5 211.1l2.1 2.1l-2.1 2.1l-2.1 -2.1zM465.7 212.7l2.1 2.1l-2.1 2.1l-2.1 -2.1zM465.6 214l2.1 2.1l-2.1 2.1l-2.1 -2.1zM465.8 215.3l2.1 2.1l-2.1 2.1l-2.1 -2.1zM465.8 217.2l2.1 2.1l-2.1 2.1l-2.1 -2.1zM465.5 218.8l2.1 2.1l-2.1 2.1l-2.1 -2.1zM465.6 220.4l2.1 2.1l-2.1 2.1l-2.1 -2.1zM465.4 222.1l2.1 2.1l-2.1 2.1l-2.1 -2.1zM465.7 223.9l2.1 2.1l-2.1 2.1l-2.1 -2.1zM465.2 225.4l2.1 2.1l-2.1 2.1l-2.1 -2.1zM465 221l2 2l-2 2l-2 -2zM465.5 224.2l2 2l-2 2l-2 -2zM465.3 224.6l2 2l-2 2l-2 -2zM465.3 224.6l2 2l-2 2l-2 -2zM466 222l2 2l-2 2l-2 -2zM466.3 221.4l2 2l-2 2l-2 -2zM466 224.7l2 2l-2 2l-2 -2zM465.7 222.5l2 2l-2 2l-2 -2zM471.4 55.6l2.5 2.5l-2.5 2.5l-2.5 -2.5zM471.6 57.5l2.3 2.3l-2.3 2.3l-2.3 -2.3zM471.6 59.2l2.3 2.3l-2.3 2.3l-2.3 -2.3zM471.3 60.7l2.3 2.3l-2.3 2.3l-2.3 -2.3zM471.5 62.2l2.3 2.3l-2.3 2.3l-2.3 -2.3zM471.3 63.8l2.3 2.3l-2.3 2.3l-2.3 -2.3zM471.4 65.5l2.3 2.3l-2.3 2.3l-2.3 -2.3zM471.4 68.1l2.3 2.3l-2.3 2.3l-2.3 -2.3zM471.1 71l2.3 2.3l-2.3 2.3l-2.3 -2.3zM471.4 73.6l2.3 2.3l-2.3 2.3l-2.3 -2.3zM471.4 76.5l2.3 2.3l-2.3 2.3l-2.3 -2.3zM471.3 79.5l2.3 2.3l-2.3 2.3l-2.3 -2.3zM471.5 82.6l2.3 2.3l-2.3 2.3l-2.3 -2.3zM471.4 85.4l2.3 2.3l-2.3 2.3l-2.3 -2.3zM471.2 89.7l2.3 2.3l-2.3 2.3l-2.3 -2.3zM471.1 94.4l2.3 2.3l-2.3 2.3l-2.3 -2.3zM471.6 99.7l2.3 2.3l-2.3 2.3l-2.3 -2.3zM471.3 104.6l2.3 2.3l-2.3 2.3l-2.3 -2.3zM471.4 109.8l2.3 2.3l-2.3 2.3l-2.3 -2.3zM471.7 114.6l2.3 2.3l-2.3 2.3l-2.3 -2.3zM471.5 119.3l2.3 2.3l-2.3 2.3l-2.3 -2.3zM471.1 124.6l2.3 2.3l-2.3 2.3l-2.3 -2.3zM471.3 128.6l2.3 2.3l-2.3 2.3l-2.3 -2.3zM471.6 133.7l2.3 2.3l-2.3 2.3l-2.3 -2.3zM471.5 138.4l2.3 2.3l-2.3 2.3l-2.3 -2.3zM471.4 142.9l2.3 2.3l-2.3 2.3l-2.3 -2.3zM471.2 147.2l2.3 2.3l-2.3 2.3l-2.3 -2.3zM471.3 151.4l2.3 2.3l-2.3 2.3l-2.3 -2.3zM471.3 156.6l2.3 2.3l-2.3 2.3l-2.3 -2.3zM471.1 161.5l2.3 2.3l-2.3 2.3l-2.3 -2.3zM471.2 166.8l2.3 2.3l-2.3 2.3l-2.3 -2.3zM471.4 170.5l2.3 2.3l-2.3 2.3l-2.3 -2.3zM471.5 174.5l2.3 2.3l-2.3 2.3l-2.3 -2.3zM471.2 178.5l2.3 2.3l-2.3 2.3l-2.3 -2.3zM471.6 182.3l2.3 2.3l-2.3 2.3l-2.3 -2.3zM471.7 186.1l2.3 2.3l-2.3 2.3l-2.3 -2.3zM471.4 189.2l2.3 2.3l-2.3 2.3l-2.3 -2.3zM471.3 193.4l2.3 2.3l-2.3 2.3l-2.3 -2.3zM471.3 196.8l2.3 2.3l-2.3 2.3l-2.3 -2.3zM471.3 200.3l2.3 2.3l-2.3 2.3l-2.3 -2.3zM471.2 202.1l2.1 2.1l-2.1 2.1l-2.1 -2.1zM471.7 203.7l2.1 2.1l-2.1 2.1l-2.1 -2.1zM471.2 205.3l2.1 2.1l-2.1 2.1l-2.1 -2.1zM471.5 207.2l2.1 2.1l-2.1 2.1l-2.1 -2.1zM471.7 209l2.1 2.1l-2.1 2.1l-2.1 -2.1zM471.2 211l2.1 2.1l-2.1 2.1l-2.1 -2.1zM471.6 212.3l2.1 2.1l-2.1 2.1l-2.1 -2.1zM471.3 214.1l2.1 2.1l-2.1 2.1l-2.1 -2.1zM471.6 216l2.1 2.1l-2.1 2.1l-2.1 -2.1zM471.5 217.7l2.1 2.1l-2.1 2.1l-2.1 -2.1zM471.1 219.3l2.1 2.1l-2.1 2.1l-2.1 -2.1zM471.6 220.8l2.1 2.1l-2.1 2.1l-2.1 -2.1zM471.4 222.5l2.1 2.1l-2.1 2.1l-2.1 -2.1zM471.7 224.2l2.1 2.1l-2.1 2.1l-2.1 -2.1zM471.1 225.6l2.1 2.1l-2.1 2.1l-2.1 -2.1zM470.8 222.2l2 2l-2 2l-2 -2zM471.4 223.2l2 2l-2 2l-2 -2zM471.7 222.6l2 2l-2 2l-2 -2zM471.6 224l2 2l-2 2l-2 -2zM472.1 221.3l2 2l-2 2l-2 -2zM471.9 223.7l2 2l-2 2l-2 -2zM472.3 224.5l2 2l-2 2l-2 -2zM471.5 226l2 2l-2 2l-2 -2zM477.4 54.3l2.5 2.5l-2.5 2.5l-2.5 -2.5zM477.6 56.4l2.3 2.3l-2.3 2.3l-2.3 -2.3zM477.4 58.1l2.3 2.3l-2.3 2.3l-2.3 -2.3zM477.5 59.8l2.3 2.3l-2.3 2.3l-2.3 -2.3zM477.5 61.5l2.3 2.3l-2.3 2.3l-2.3 -2.3zM477.1 63l2.3 2.3l-2.3 2.3l-2.3 -2.3zM477.2 64.5l2.3 2.3l-2.3 2.3l-2.3 -2.3zM477.1 67.2l2.3 2.3l-2.3 2.3l-2.3 -2.3zM477.5 70.2l2.3 2.3l-2.3 2.3l-2.3 -2.3zM477.2 72.9l2.3 2.3l-2.3 2.3l-2.3 -2.3zM477.6 75.7l2.3 2.3l-2.3 2.3l-2.3 -2.3zM477.5 78.7l2.3 2.3l-2.3 2.3l-2.3 -2.3zM477.6 81.4l2.3 2.3l-2.3 2.3l-2.3 -2.3zM477.3 84.2l2.3 2.3l-2.3 2.3l-2.3 -2.3zM477.1 86.9l2.3 2.3l-2.3 2.3l-2.3 -2.3zM477.5 91.5l2.3 2.3l-2.3 2.3l-2.3 -2.3zM477.2 96.2l2.3 2.3l-2.3 2.3l-2.3 -2.3zM477.3 100.7l2.3 2.3l-2.3 2.3l-2.3 -2.3zM477.6 105.5l2.3 2.3l-2.3 2.3l-2.3 -2.3zM477.4 110.3l2.3 2.3l-2.3 2.3l-2.3 -2.3zM477.1 115.3l2.3 2.3l-2.3 2.3l-2.3 -2.3zM477.1 117.9l2.3 2.3l-2.3 2.3l-2.3 -2.3zM477.3 122.9l2.3 2.3l-2.3 2.3l-2.3 -2.3zM477.5 126.9l2.3 2.3l-2.3 2.3l-2.3 -2.3zM477.4 132l2.3 2.3l-2.3 2.3l-2.3 -2.3zM477.1 134.5l2.3 2.3l-2.3 2.3l-2.3 -2.3zM477.2 138.9l2.3 2.3l-2.3 2.3l-2.3 -2.3zM477.5 143l2.3 2.3l-2.3 2.3l-2.3 -2.3zM477.3 145.7l2.3 2.3l-2.3 2.3l-2.3 -2.3zM477.4 150.4l2.3 2.3l-2.3 2.3l-2.3 -2.3zM477.1 155l2.3 2.3l-2.3 2.3l-2.3 -2.3zM477.5 158.9l2.3 2.3l-2.3 2.3l-2.3 -2.3zM477.5 161.5l2.3 2.3l-2.3 2.3l-2.3 -2.3zM477.2 166.9l2.3 2.3l-2.3 2.3l-2.3 -2.3zM477.3 170.6l2.3 2.3l-2.3 2.3l-2.3 -2.3zM477.2 174.1l2.3 2.3l-2.3 2.3l-2.3 -2.3zM477.3 178.1l2.3 2.3l-2.3 2.3l-2.3 -2.3zM477.6 181.4l2.3 2.3l-2.3 2.3l-2.3 -2.3zM477.2 184.4l2.3 2.3l-2.3 2.3l-2.3 -2.3zM477.5 188.5l2.3 2.3l-2.3 2.3l-2.3 -2.3zM477.1 191.8l2.3 2.3l-2.3 2.3l-2.3 -2.3zM477.6 195.6l2.3 2.3l-2.3 2.3l-2.3 -2.3zM477.6 199.8l2.3 2.3l-2.3 2.3l-2.3 -2.3zM477 201.7l2.1 2.1l-2.1 2.1l-2.1 -2.1zM477.3 203.6l2.1 2.1l-2.1 2.1l-2.1 -2.1zM477 205.3l2.1 2.1l-2.1 2.1l-2.1 -2.1zM477.4 206.6l2.1 2.1l-2.1 2.1l-2.1 -2.1zM477.2 208.3l2.1 2.1l-2.1 2.1l-2.1 -2.1zM477 210.3l2.1 2.1l-2.1 2.1l-2.1 -2.1zM477.7 212.2l2.1 2.1l-2.1 2.1l-2.1 -2.1zM477.6 213.6l2.1 2.1l-2.1 2.1l-2.1 -2.1zM477.3 215.3l2.1 2.1l-2.1 2.1l-2.1 -2.1zM477.4 216.9l2.1 2.1l-2.1 2.1l-2.1 -2.1zM477.6 218.9l2.1 2.1l-2.1 2.1l-2.1 -2.1zM477.3 220.5l2.1 2.1l-2.1 2.1l-2.1 -2.1zM477.4 221.9l2.1 2.1l-2.1 2.1l-2.1 -2.1zM477.5 223.8l2.1 2.1l-2.1 2.1l-2.1 -2.1zM477.3 225.5l2.1 2.1l-2.1 2.1l-2.1 -2.1zM478.1 221.1l2 2l-2 2l-2 -2zM477.7 223.4l2 2l-2 2l-2 -2zM476.8 222l2 2l-2 2l-2 -2zM476.9 222.9l2 2l-2 2l-2 -2zM476.9 222.2l2 2l-2 2l-2 -2zM477.8 221.2l2 2l-2 2l-2 -2zM477.5 223.4l2 2l-2 2l-2 -2zM476.9 223.1l2 2l-2 2l-2 -2zM483.4 58.3l2.5 2.5l-2.5 2.5l-2.5 -2.5zM483.3 59.9l2.3 2.3l-2.3 2.3l-2.3 -2.3zM483.3 61.5l2.3 2.3l-2.3 2.3l-2.3 -2.3zM483.2 63l2.3 2.3l-2.3 2.3l-2.3 -2.3zM483.3 65l2.3 2.3l-2.3 2.3l-2.3 -2.3zM483.1 66.9l2.3 2.3l-2.3 2.3l-2.3 -2.3zM483.5 68.3l2.3 2.3l-2.3 2.3l-2.3 -2.3zM483.5 71.1l2.3 2.3l-2.3 2.3l-2.3 -2.3zM483.4 73.5l2.3 2.3l-2.3 2.3l-2.3 -2.3zM483.2 76.4l2.3 2.3l-2.3 2.3l-2.3 -2.3zM483.2 79.3l2.3 2.3l-2.3 2.3l-2.3 -2.3zM483.2 81.8l2.3 2.3l-2.3 2.3l-2.3 -2.3zM483.3 84.2l2.3 2.3l-2.3 2.3l-2.3 -2.3zM483.2 87.3l2.3 2.3l-2.3 2.3l-2.3 -2.3zM483.2 91.7l2.3 2.3l-2.3 2.3l-2.3 -2.3zM483.1 94.4l2.3 2.3l-2.3 2.3l-2.3 -2.3zM483.1 99.7l2.3 2.3l-2.3 2.3l-2.3 -2.3zM483.2 103.6l2.3 2.3l-2.3 2.3l-2.3 -2.3zM483.2 108.2l2.3 2.3l-2.3 2.3l-2.3 -2.3zM483.1 112.7l2.3 2.3l-2.3 2.3l-2.3 -2.3zM483.5 117.3l2.3 2.3l-2.3 2.3l-2.3 -2.3zM483.3 121.5l2.3 2.3l-2.3 2.3l-2.3 -2.3zM483.4 126.9l2.3 2.3l-2.3 2.3l-2.3 -2.3zM483.3 131.3l2.3 2.3l-2.3 2.3l-2.3 -2.3zM483.2 135.9l2.3 2.3l-2.3 2.3l-2.3 -2.3zM483.1 139.9l2.3 2.3l-2.3 2.3l-2.3 -2.3zM483.6 142.4l2.3 2.3l-2.3 2.3l-2.3 -2.3zM483.6 146.9l2.3 2.3l-2.3 2.3l-2.3 -2.3zM483.5 151.8l2.3 2.3l-2.3 2.3l-2.3 -2.3zM483.1 156l2.3 2.3l-2.3 2.3l-2.3 -2.3zM483.5 158.6l2.3 2.3l-2.3 2.3l-2.3 -2.3zM483.4 161.4l2.3 2.3l-2.3 2.3l-2.3 -2.3zM483.4 166.1l2.3 2.3l-2.3 2.3l-2.3 -2.3zM483.1 169.2l2.3 2.3l-2.3 2.3l-2.3 -2.3zM483.3 172.7l2.3 2.3l-2.3 2.3l-2.3 -2.3zM483.7 176.7l2.3 2.3l-2.3 2.3l-2.3 -2.3zM483.3 180.8l2.3 2.3l-2.3 2.3l-2.3 -2.3zM483.3 184.8l2.3 2.3l-2.3 2.3l-2.3 -2.3zM483.4 188.3l2.3 2.3l-2.3 2.3l-2.3 -2.3zM483.5 191.3l2.3 2.3l-2.3 2.3l-2.3 -2.3zM483.4 194.4l2.3 2.3l-2.3 2.3l-2.3 -2.3zM483.1 198.3l2.3 2.3l-2.3 2.3l-2.3 -2.3zM483.4 202.1l2.3 2.3l-2.3 2.3l-2.3 -2.3zM483.6 203.8l2.1 2.1l-2.1 2.1l-2.1 -2.1zM483.1 205.3l2.1 2.1l-2.1 2.1l-2.1 -2.1zM483.3 206.9l2.1 2.1l-2.1 2.1l-2.1 -2.1zM483.1 208.7l2.1 2.1l-2.1 2.1l-2.1 -2.1zM483.6 210.3l2.1 2.1l-2.1 2.1l-2.1 -2.1zM483.2 211.9l2.1 2.1l-2.1 2.1l-2.1 -2.1zM483.2 213.3l2.1 2.1l-2.1 2.1l-2.1 -2.1zM483.6 215l2.1 2.1l-2.1 2.1l-2.1 -2.1zM483.4 217l2.1 2.1l-2.1 2.1l-2.1 -2.1zM483.6 218.7l2.1 2.1l-2.1 2.1l-2.1 -2.1zM483.2 220.3l2.1 2.1l-2.1 2.1l-2.1 -2.1zM483.6 222.1l2.1 2.1l-2.1 2.1l-2.1 -2.1zM483.6 223.5l2.1 2.1l-2.1 2.1l-2.1 -2.1zM483.1 224.9l2.1 2.1l-2.1 2.1l-2.1 -2.1zM484.3 224.1l2 2l-2 2l-2 -2zM483 223.6l2 2l-2 2l-2 -2zM483.3 224.8l2 2l-2 2l-2 -2zM483.6 223.2l2 2l-2 2l-2 -2zM482.5 221.5l2 2l-2 2l-2 -2zM484.4 222.4l2 2l-2 2l-2 -2zM483.8 223l2 2l-2 2l-2 -2zM484.2 222l2 2l-2 2l-2 -2zM489.4 56.9l2.5 2.5l-2.5 2.5l-2.5 -2.5zM489.3 58.7l2.3 2.3l-2.3 2.3l-2.3 -2.3zM489.1 60.6l2.3 2.3l-2.3 2.3l-2.3 -2.3zM489.6 62.3l2.3 2.3l-2.3 2.3l-2.3 -2.3zM489.3 63.9l2.3 2.3l-2.3 2.3l-2.3 -2.3zM489.3 65.6l2.3 2.3l-2.3 2.3l-2.3 -2.3zM489.1 67.4l2.3 2.3l-2.3 2.3l-2.3 -2.3zM489.3 70.2l2.3 2.3l-2.3 2.3l-2.3 -2.3zM489.6 73.4l2.3 2.3l-2.3 2.3l-2.3 -2.3zM489.2 76l2.3 2.3l-2.3 2.3l-2.3 -2.3zM489.1 79.2l2.3 2.3l-2.3 2.3l-2.3 -2.3zM489.1 82.1l2.3 2.3l-2.3 2.3l-2.3 -2.3zM489.4 84.8l2.3 2.3l-2.3 2.3l-2.3 -2.3zM489.4 87.7l2.3 2.3l-2.3 2.3l-2.3 -2.3zM489.6 92.2l2.3 2.3l-2.3 2.3l-2.3 -2.3zM489.4 96.9l2.3 2.3l-2.3 2.3l-2.3 -2.3zM489.5 99.6l2.3 2.3l-2.3 2.3l-2.3 -2.3zM489.6 104.7l2.3 2.3l-2.3 2.3l-2.3 -2.3zM489.3 109.6l2.3 2.3l-2.3 2.3l-2.3 -2.3zM489.5 114.5l2.3 2.3l-2.3 2.3l-2.3 -2.3zM489.6 117.2l2.3 2.3l-2.3 2.3l-2.3 -2.3zM489.5 119.8l2.3 2.3l-2.3 2.3l-2.3 -2.3zM489.1 122.5l2.3 2.3l-2.3 2.3l-2.3 -2.3zM489.1 127.4l2.3 2.3l-2.3 2.3l-2.3 -2.3zM489.5 132.5l2.3 2.3l-2.3 2.3l-2.3 -2.3zM489.4 137.6l2.3 2.3l-2.3 2.3l-2.3 -2.3zM489.1 142.5l2.3 2.3l-2.3 2.3l-2.3 -2.3zM489.5 147.4l2.3 2.3l-2.3 2.3l-2.3 -2.3zM489.2 152l2.3 2.3l-2.3 2.3l-2.3 -2.3zM489.2 157.3l2.3 2.3l-2.3 2.3l-2.3 -2.3zM489.1 161.9l2.3 2.3l-2.3 2.3l-2.3 -2.3zM489.1 166.1l2.3 2.3l-2.3 2.3l-2.3 -2.3zM489.2 170.3l2.3 2.3l-2.3 2.3l-2.3 -2.3zM489.2 173.6l2.3 2.3l-2.3 2.3l-2.3 -2.3zM489.6 177.6l2.3 2.3l-2.3 2.3l-2.3 -2.3zM489.4 181.3l2.3 2.3l-2.3 2.3l-2.3 -2.3zM489.1 185l2.3 2.3l-2.3 2.3l-2.3 -2.3zM489.6 188.8l2.3 2.3l-2.3 2.3l-2.3 -2.3zM489.6 192.9l2.3 2.3l-2.3 2.3l-2.3 -2.3zM489.5 196l2.3 2.3l-2.3 2.3l-2.3 -2.3zM489.2 200.2l2.3 2.3l-2.3 2.3l-2.3 -2.3zM489.7 201.9l2.1 2.1l-2.1 2.1l-2.1 -2.1zM489.1 203.4l2.1 2.1l-2.1 2.1l-2.1 -2.1zM489.2 205.1l2.1 2.1l-2.1 2.1l-2.1 -2.1zM489.2 206.9l2.1 2.1l-2.1 2.1l-2.1 -2.1zM489.4 208.3l2.1 2.1l-2.1 2.1l-2.1 -2.1zM489.5 209.9l2.1 2.1l-2.1 2.1l-2.1 -2.1zM489.1 211.6l2.1 2.1l-2.1 2.1l-2.1 -2.1zM489 213.1l2.1 2.1l-2.1 2.1l-2.1 -2.1zM489.5 214.4l2.1 2.1l-2.1 2.1l-2.1 -2.1zM489 216l2.1 2.1l-2.1 2.1l-2.1 -2.1zM489.6 217.3l2.1 2.1l-2.1 2.1l-2.1 -2.1zM489.1 219l2.1 2.1l-2.1 2.1l-2.1 -2.1zM489.7 220.9l2.1 2.1l-2.1 2.1l-2.1 -2.1zM489.1 222.2l2.1 2.1l-2.1 2.1l-2.1 -2.1zM489.6 224l2.1 2.1l-2.1 2.1l-2.1 -2.1zM489.3 225.5l2.1 2.1l-2.1 2.1l-2.1 -2.1zM489.1 224.3l2 2l-2 2l-2 -2zM489.5 221.8l2 2l-2 2l-2 -2zM490.2 222.8l2 2l-2 2l-2 -2zM489.7 221.4l2 2l-2 2l-2 -2zM489.1 225.8l2 2l-2 2l-2 -2zM489.3 221.1l2 2l-2 2l-2 -2zM489.7 225.8l2 2l-2 2l-2 -2zM489.8 223.2l2 2l-2 2l-2 -2zM495.3 60.2l2.5 2.5l-2.5 2.5l-2.5 -2.5zM495.2 62.1l2.3 2.3l-2.3 2.3l-2.3 -2.3zM495.1 63.8l2.3 2.3l-2.3 2.3l-2.3 -2.3zM495.3 65.4l2.3 2.3l-2.3 2.3l-2.3 -2.3zM495.1 66.9l2.3 2.3l-2.3 2.3l-2.3 -2.3zM495.4 68.7l2.3 2.3l-2.3 2.3l-2.3 -2.3zM495.3 70.5l2.3 2.3l-2.3 2.3l-2.3 -2.3zM495.4 73l2.3 2.3l-2.3 2.3l-2.3 -2.3zM495.6 75.6l2.3 2.3l-2.3 2.3l-2.3 -2.3zM495.5 78.2l2.3 2.3l-2.3 2.3l-2.3 -2.3zM495.2 81.1l2.3 2.3l-2.3 2.3l-2.3 -2.3zM495.1 84l2.3 2.3l-2.3 2.3l-2.3 -2.3zM495.5 86.6l2.3 2.3l-2.3 2.3l-2.3 -2.3zM495.4 89.1l2.3 2.3l-2.3 2.3l-2.3 -2.3zM495.5 91.8l2.3 2.3l-2.3 2.3l-2.3 -2.3zM495.3 96.2l2.3 2.3l-2.3 2.3l-2.3 -2.3zM495.1 100.2l2.3 2.3l-2.3 2.3l-2.3 -2.3zM495.2 104.4l2.3 2.3l-2.3 2.3l-2.3 -2.3zM495.5 109.1l2.3 2.3l-2.3 2.3l-2.3 -2.3zM495.5 113.7l2.3 2.3l-2.3 2.3l-2.3 -2.3zM495.6 118.6l2.3 2.3l-2.3 2.3l-2.3 -2.3zM495.5 121.2l2.3 2.3l-2.3 2.3l-2.3 -2.3zM495.1 123.7l2.3 2.3l-2.3 2.3l-2.3 -2.3zM495.2 128.5l2.3 2.3l-2.3 2.3l-2.3 -2.3zM495.6 131.1l2.3 2.3l-2.3 2.3l-2.3 -2.3zM495.1 136.1l2.3 2.3l-2.3 2.3l-2.3 -2.3zM495.2 140.7l2.3 2.3l-2.3 2.3l-2.3 -2.3zM495.6 145.6l2.3 2.3l-2.3 2.3l-2.3 -2.3zM495.5 150.8l2.3 2.3l-2.3 2.3l-2.3 -2.3zM495.6 155l2.3 2.3l-2.3 2.3l-2.3 -2.3zM495.4 160.3l2.3 2.3l-2.3 2.3l-2.3 -2.3zM495.2 165.1l2.3 2.3l-2.3 2.3l-2.3 -2.3zM495.4 168.7l2.3 2.3l-2.3 2.3l-2.3 -2.3zM495.3 171.8l2.3 2.3l-2.3 2.3l-2.3 -2.3zM495.2 175.8l2.3 2.3l-2.3 2.3l-2.3 -2.3zM495.2 178.8l2.3 2.3l-2.3 2.3l-2.3 -2.3zM495.2 182.3l2.3 2.3l-2.3 2.3l-2.3 -2.3zM495.2 186l2.3 2.3l-2.3 2.3l-2.3 -2.3zM495.6 189.5l2.3 2.3l-2.3 2.3l-2.3 -2.3zM495.5 193.5l2.3 2.3l-2.3 2.3l-2.3 -2.3zM495.4 197l2.3 2.3l-2.3 2.3l-2.3 -2.3zM495.2 201l2.3 2.3l-2.3 2.3l-2.3 -2.3zM495 202.7l2.1 2.1l-2.1 2.1l-2.1 -2.1zM495.2 204.3l2.1 2.1l-2.1 2.1l-2.1 -2.1zM495.2 206l2.1 2.1l-2.1 2.1l-2.1 -2.1zM495.4 207.8l2.1 2.1l-2.1 2.1l-2.1 -2.1zM495.3 209.5l2.1 2.1l-2.1 2.1l-2.1 -2.1zM495 211.1l2.1 2.1l-2.1 2.1l-2.1 -2.1zM495.2 212.9l2.1 2.1l-2.1 2.1l-2.1 -2.1zM495.7 214.4l2.1 2.1l-2.1 2.1l-2.1 -2.1zM495 216l2.1 2.1l-2.1 2.1l-2.1 -2.1zM495.3 217.7l2.1 2.1l-2.1 2.1l-2.1 -2.1zM495.4 219.3l2.1 2.1l-2.1 2.1l-2.1 -2.1zM495.7 220.9l2.1 2.1l-2.1 2.1l-2.1 -2.1zM495.6 222.4l2.1 2.1l-2.1 2.1l-2.1 -2.1zM495.1 224.3l2.1 2.1l-2.1 2.1l-2.1 -2.1zM495.1 225.6l2.1 2.1l-2.1 2.1l-2.1 -2.1zM496.1 223.3l2 2l-2 2l-2 -2zM494.8 223.7l2 2l-2 2l-2 -2zM496 223.1l2 2l-2 2l-2 -2zM495.5 221.4l2 2l-2 2l-2 -2zM495.5 225l2 2l-2 2l-2 -2zM494.7 223.5l2 2l-2 2l-2 -2zM496.2 225.5l2 2l-2 2l-2 -2zM496.2 224.6l2 2l-2 2l-2 -2zM501.3 57.8l2.5 2.5l-2.5 2.5l-2.5 -2.5zM501 59.7l2.3 2.3l-2.3 2.3l-2.3 -2.3zM501.6 61.7l2.3 2.3l-2.3 2.3l-2.3 -2.3zM501.4 63.2l2.3 2.3l-2.3 2.3l-2.3 -2.3zM501.6 64.6l2.3 2.3l-2.3 2.3l-2.3 -2.3zM501.4 66.1l2.3 2.3l-2.3 2.3l-2.3 -2.3zM501.4 68l2.3 2.3l-2.3 2.3l-2.3 -2.3zM501.1 71.1l2.3 2.3l-2.3 2.3l-2.3 -2.3zM501.4 74.2l2.3 2.3l-2.3 2.3l-2.3 -2.3zM501.1 76.7l2.3 2.3l-2.3 2.3l-2.3 -2.3zM501.1 79.3l2.3 2.3l-2.3 2.3l-2.3 -2.3zM501.1 82l2.3 2.3l-2.3 2.3l-2.3 -2.3zM501.5 84.6l2.3 2.3l-2.3 2.3l-2.3 -2.3zM501.2 87.6l2.3 2.3l-2.3 2.3l-2.3 -2.3zM501.2 91.6l2.3 2.3l-2.3 2.3l-2.3 -2.3zM501.6 95.7l2.3 2.3l-2.3 2.3l-2.3 -2.3zM501.1 100.9l2.3 2.3l-2.3 2.3l-2.3 -2.3zM501.4 104.9l2.3 2.3l-2.3 2.3l-2.3 -2.3zM501.2 107.6l2.3 2.3l-2.3 2.3l-2.3 -2.3zM501.3 112.1l2.3 2.3l-2.3 2.3l-2.3 -2.3zM501.4 116.5l2.3 2.3l-2.3 2.3l-2.3 -2.3zM501.2 120.7l2.3 2.3l-2.3 2.3l-2.3 -2.3zM501.6 125.2l2.3 2.3l-2.3 2.3l-2.3 -2.3zM501.3 129.5l2.3 2.3l-2.3 2.3l-2.3 -2.3zM501.4 133.6l2.3 2.3l-2.3 2.3l-2.3 -2.3zM501.2 137.6l2.3 2.3l-2.3 2.3l-2.3 -2.3zM501.1 142.6l2.3 2.3l-2.3 2.3l-2.3 -2.3zM501.5 147.4l2.3 2.3l-2.3 2.3l-2.3 -2.3zM501.2 152.5l2.3 2.3l-2.3 2.3l-2.3 -2.3zM501.5 157.4l2.3 2.3l-2.3 2.3l-2.3 -2.3zM501.5 159.9l2.3 2.3l-2.3 2.3l-2.3 -2.3zM501.4 162.5l2.3 2.3l-2.3 2.3l-2.3 -2.3zM501.3 166.8l2.3 2.3l-2.3 2.3l-2.3 -2.3zM501.1 170l2.3 2.3l-2.3 2.3l-2.3 -2.3zM501.4 173.5l2.3 2.3l-2.3 2.3l-2.3 -2.3zM501.3 177.1l2.3 2.3l-2.3 2.3l-2.3 -2.3zM501.5 180.7l2.3 2.3l-2.3 2.3l-2.3 -2.3zM501.2 184.6l2.3 2.3l-2.3 2.3l-2.3 -2.3zM501.1 187.7l2.3 2.3l-2.3 2.3l-2.3 -2.3zM501.3 191.1l2.3 2.3l-2.3 2.3l-2.3 -2.3zM501.1 195l2.3 2.3l-2.3 2.3l-2.3 -2.3zM501.5 198.2l2.3 2.3l-2.3 2.3l-2.3 -2.3zM501.2 202.3l2.3 2.3l-2.3 2.3l-2.3 -2.3zM501.4 204.1l2.1 2.1l-2.1 2.1l-2.1 -2.1zM501.3 205.6l2.1 2.1l-2.1 2.1l-2.1 -2.1zM501.7 206.9l2.1 2.1l-2.1 2.1l-2.1 -2.1zM501.7 208.4l2.1 2.1l-2.1 2.1l-2.1 -2.1zM501.3 210.3l2.1 2.1l-2.1 2.1l-2.1 -2.1zM501.2 211.7l2.1 2.1l-2.1 2.1l-2.1 -2.1zM501 213.7l2.1 2.1l-2.1 2.1l-2.1 -2.1zM501.1 215.2l2.1 2.1l-2.1 2.1l-2.1 -2.1zM501.7 216.7l2.1 2.1l-2.1 2.1l-2.1 -2.1zM501.7 218.3l2.1 2.1l-2.1 2.1l-2.1 -2.1zM500.9 220.1l2.1 2.1l-2.1 2.1l-2.1 -2.1zM501.2 221.6l2.1 2.1l-2.1 2.1l-2.1 -2.1zM501.1 223.1l2.1 2.1l-2.1 2.1l-2.1 -2.1zM501.6 224.5l2.1 2.1l-2.1 2.1l-2.1 -2.1zM501.3 226.2l2.1 2.1l-2.1 2.1l-2.1 -2.1zM501.6 224.5l2 2l-2 2l-2 -2zM500.3 224.3l2 2l-2 2l-2 -2zM502 225.2l2 2l-2 2l-2 -2zM501.8 222.6l2 2l-2 2l-2 -2zM501.6 223.8l2 2l-2 2l-2 -2zM501.6 225.9l2 2l-2 2l-2 -2zM501.6 221.8l2 2l-2 2l-2 -2zM501.8 223.4l2 2l-2 2l-2 -2zM507.3 61.6l2.5 2.5l-2.5 2.5l-2.5 -2.5zM507.3 63.7l2.3 2.3l-2.3 2.3l-2.3 -2.3zM507.4 65.1l2.3 2.3l-2.3 2.3l-2.3 -2.3zM507.6 66.9l2.3 2.3l-2.3 2.3l-2.3 -2.3zM507.4 68.3l2.3 2.3l-2.3 2.3l-2.3 -2.3zM507 70.3l2.3 2.3l-2.3 2.3l-2.3 -2.3zM507.4 72.1l2.3 2.3l-2.3 2.3l-2.3 -2.3zM507.3 75.2l2.3 2.3l-2.3 2.3l-2.3 -2.3zM507.5 78.1l2.3 2.3l-2.3 2.3l-2.3 -2.3zM507 80.7l2.3 2.3l-2.3 2.3l-2.3 -2.3zM507.1 83.6l2.3 2.3l-2.3 2.3l-2.3 -2.3zM507.1 86.1l2.3 2.3l-2.3 2.3l-2.3 -2.3zM507.6 89.2l2.3 2.3l-2.3 2.3l-2.3 -2.3zM507.2 94.2l2.3 2.3l-2.3 2.3l-2.3 -2.3zM507.2 99.1l2.3 2.3l-2.3 2.3l-2.3 -2.3zM507 104l2.3 2.3l-2.3 2.3l-2.3 -2.3zM507.2 108.2l2.3 2.3l-2.3 2.3l-2.3 -2.3zM507.4 113.2l2.3 2.3l-2.3 2.3l-2.3 -2.3zM507.3 117.6l2.3 2.3l-2.3 2.3l-2.3 -2.3zM507.5 120.2l2.3 2.3l-2.3 2.3l-2.3 -2.3zM507.2 125.2l2.3 2.3l-2.3 2.3l-2.3 -2.3zM507.2 130.3l2.3 2.3l-2.3 2.3l-2.3 -2.3zM507.4 134.8l2.3 2.3l-2.3 2.3l-2.3 -2.3zM507.1 137.3l2.3 2.3l-2.3 2.3l-2.3 -2.3zM507.4 141.6l2.3 2.3l-2.3 2.3l-2.3 -2.3zM507.4 146.8l2.3 2.3l-2.3 2.3l-2.3 -2.3zM507.1 151.2l2.3 2.3l-2.3 2.3l-2.3 -2.3zM507.1 155.4l2.3 2.3l-2.3 2.3l-2.3 -2.3zM507.1 158.1l2.3 2.3l-2.3 2.3l-2.3 -2.3zM507.1 162.1l2.3 2.3l-2.3 2.3l-2.3 -2.3zM507.6 167.2l2.3 2.3l-2.3 2.3l-2.3 -2.3zM507.3 171.3l2.3 2.3l-2.3 2.3l-2.3 -2.3zM507.4 174.4l2.3 2.3l-2.3 2.3l-2.3 -2.3zM507.1 177.9l2.3 2.3l-2.3 2.3l-2.3 -2.3zM507.1 181.2l2.3 2.3l-2.3 2.3l-2.3 -2.3zM507.2 185.3l2.3 2.3l-2.3 2.3l-2.3 -2.3zM507.4 189.5l2.3 2.3l-2.3 2.3l-2.3 -2.3zM507.5 193.4l2.3 2.3l-2.3 2.3l-2.3 -2.3zM507.5 196.6l2.3 2.3l-2.3 2.3l-2.3 -2.3zM507.1 200.8l2.3 2.3l-2.3 2.3l-2.3 -2.3zM507.1 202.4l2.1 2.1l-2.1 2.1l-2.1 -2.1zM507.5 204.2l2.1 2.1l-2.1 2.1l-2.1 -2.1zM507.3 206.1l2.1 2.1l-2.1 2.1l-2.1 -2.1zM507.4 208.1l2.1 2.1l-2.1 2.1l-2.1 -2.1zM507.3 209.9l2.1 2.1l-2.1 2.1l-2.1 -2.1zM507.4 211.6l2.1 2.1l-2.1 2.1l-2.1 -2.1zM507.3 213.5l2.1 2.1l-2.1 2.1l-2.1 -2.1zM507.1 215l2.1 2.1l-2.1 2.1l-2.1 -2.1zM507.1 216.5l2.1 2.1l-2.1 2.1l-2.1 -2.1zM507.7 218.2l2.1 2.1l-2.1 2.1l-2.1 -2.1zM507.1 220.2l2.1 2.1l-2.1 2.1l-2.1 -2.1zM507.4 221.8l2.1 2.1l-2.1 2.1l-2.1 -2.1zM507 223.3l2.1 2.1l-2.1 2.1l-2.1 -2.1zM507.6 224.8l2.1 2.1l-2.1 2.1l-2.1 -2.1zM507 226.4l2.1 2.1l-2.1 2.1l-2.1 -2.1zM506.8 223l2 2l-2 2l-2 -2zM507.8 221.5l2 2l-2 2l-2 -2zM506.9 225.9l2 2l-2 2l-2 -2zM506.9 225.5l2 2l-2 2l-2 -2zM508 222l2 2l-2 2l-2 -2zM507.2 221.6l2 2l-2 2l-2 -2zM507.5 223.1l2 2l-2 2l-2 -2zM508.3 224.7l2 2l-2 2l-2 -2zM513.3 60.2l2.5 2.5l-2.5 2.5l-2.5 -2.5zM513.6 61.9l2.3 2.3l-2.3 2.3l-2.3 -2.3zM513.5 63.4l2.3 2.3l-2.3 2.3l-2.3 -2.3zM513 65.1l2.3 2.3l-2.3 2.3l-2.3 -2.3zM513.4 67l2.3 2.3l-2.3 2.3l-2.3 -2.3zM513.6 68.5l2.3 2.3l-2.3 2.3l-2.3 -2.3zM513.4 70.4l2.3 2.3l-2.3 2.3l-2.3 -2.3zM513.5 72.8l2.3 2.3l-2.3 2.3l-2.3 -2.3zM513.6 75.3l2.3 2.3l-2.3 2.3l-2.3 -2.3zM513.5 78.3l2.3 2.3l-2.3 2.3l-2.3 -2.3zM513.4 81.4l2.3 2.3l-2.3 2.3l-2.3 -2.3zM513.3 84.1l2.3 2.3l-2.3 2.3l-2.3 -2.3zM513.3 86.8l2.3 2.3l-2.3 2.3l-2.3 -2.3zM513.4 89.8l2.3 2.3l-2.3 2.3l-2.3 -2.3zM513 94.8l2.3 2.3l-2.3 2.3l-2.3 -2.3zM513.2 97.3l2.3 2.3l-2.3 2.3l-2.3 -2.3zM513.2 102l2.3 2.3l-2.3 2.3l-2.3 -2.3zM513.3 106.9l2.3 2.3l-2.3 2.3l-2.3 -2.3zM513.4 111.5l2.3 2.3l-2.3 2.3l-2.3 -2.3zM513.2 114.1l2.3 2.3l-2.3 2.3l-2.3 -2.3zM513.1 118.4l2.3 2.3l-2.3 2.3l-2.3 -2.3zM513.2 123.5l2.3 2.3l-2.3 2.3l-2.3 -2.3zM513.5 127.6l2.3 2.3l-2.3 2.3l-2.3 -2.3zM513.2 130.3l2.3 2.3l-2.3 2.3l-2.3 -2.3zM513.2 134.4l2.3 2.3l-2.3 2.3l-2.3 -2.3zM513.4 139l2.3 2.3l-2.3 2.3l-2.3 -2.3zM513.5 144l2.3 2.3l-2.3 2.3l-2.3 -2.3zM513.4 148.6l2.3 2.3l-2.3 2.3l-2.3 -2.3zM513.5 153.5l2.3 2.3l-2.3 2.3l-2.3 -2.3zM513.5 158.1l2.3 2.3l-2.3 2.3l-2.3 -2.3zM513.3 163.3l2.3 2.3l-2.3 2.3l-2.3 -2.3zM513.6 165.7l2.3 2.3l-2.3 2.3l-2.3 -2.3zM513.6 168.8l2.3 2.3l-2.3 2.3l-2.3 -2.3zM513.1 172.7l2.3 2.3l-2.3 2.3l-2.3 -2.3zM513.2 176l2.3 2.3l-2.3 2.3l-2.3 -2.3zM513.1 179.6l2.3 2.3l-2.3 2.3l-2.3 -2.3zM513.3 182.8l2.3 2.3l-2.3 2.3l-2.3 -2.3zM513.2 186.6l2.3 2.3l-2.3 2.3l-2.3 -2.3zM513 189.7l2.3 2.3l-2.3 2.3l-2.3 -2.3zM513.6 192.7l2.3 2.3l-2.3 2.3l-2.3 -2.3zM513.2 196.6l2.3 2.3l-2.3 2.3l-2.3 -2.3zM513 200.6l2.3 2.3l-2.3 2.3l-2.3 -2.3zM512.9 202.8l2.1 2.1l-2.1 2.1l-2.1 -2.1zM513 204.2l2.1 2.1l-2.1 2.1l-2.1 -2.1zM513.1 206l2.1 2.1l-2.1 2.1l-2.1 -2.1zM513.2 207.6l2.1 2.1l-2.1 2.1l-2.1 -2.1zM513.6 209.3l2.1 2.1l-2.1 2.1l-2.1 -2.1zM513 211l2.1 2.1l-2.1 2.1l-2.1 -2.1zM513.5 212.4l2.1 2.1l-2.1 2.1l-2.1 -2.1zM513.3 214l2.1 2.1l-2.1 2.1l-2.1 -2.1zM513.1 215.4l2.1 2.1l-2.1 2.1l-2.1 -2.1zM513.7 217.3l2.1 2.1l-2.1 2.1l-2.1 -2.1zM513.2 218.8l2.1 2.1l-2.1 2.1l-2.1 -2.1zM513.5 220.8l2.1 2.1l-2.1 2.1l-2.1 -2.1zM513.5 222.3l2.1 2.1l-2.1 2.1l-2.1 -2.1zM513 223.8l2.1 2.1l-2.1 2.1l-2.1 -2.1zM513.2 225.7l2.1 2.1l-2.1 2.1l-2.1 -2.1zM514.1 221.2l2 2l-2 2l-2 -2zM514.2 223.3l2 2l-2 2l-2 -2zM513.3 223.9l2 2l-2 2l-2 -2zM512.2 225.2l2 2l-2 2l-2 -2zM512.5 223.9l2 2l-2 2l-2 -2zM513.3 224.1l2 2l-2 2l-2 -2zM513.9 224.3l2 2l-2 2l-2 -2zM513.3 222.1l2 2l-2 2l-2 -2zM519.3 62.7l2.5 2.5l-2.5 2.5l-2.5 -2.5zM519.6 64.6l2.3 2.3l-2.3 2.3l-2.3 -2.3zM519.3 66.3l2.3 2.3l-2.3 2.3l-2.3 -2.3zM519 68.2l2.3 2.3l-2.3 2.3l-2.3 -2.3zM519.1 69.7l2.3 2.3l-2.3 2.3l-2.3 -2.3zM519 71.4l2.3 2.3l-2.3 2.3l-2.3 -2.3zM519.5 73.3l2.3 2.3l-2.3 2.3l-2.3 -2.3zM519.5 76.1l2.3 2.3l-2.3 2.3l-2.3 -2.3zM519.2 78.8l2.3 2.3l-2.3 2.3l-2.3 -2.3zM519.2 81.3l2.3 2.3l-2.3 2.3l-2.3 -2.3zM519.4 84l2.3 2.3l-2.3 2.3l-2.3 -2.3zM519.1 87.1l2.3 2.3l-2.3 2.3l-2.3 -2.3zM519.3 89.9l2.3 2.3l-2.3 2.3l-2.3 -2.3zM519.3 92.6l2.3 2.3l-2.3 2.3l-2.3 -2.3zM519.2 95.2l2.3 2.3l-2.3 2.3l-2.3 -2.3zM519.4 100.4l2.3 2.3l-2.3 2.3l-2.3 -2.3zM519.5 102.9l2.3 2.3l-2.3 2.3l-2.3 -2.3zM519.6 108.2l2.3 2.3l-2.3 2.3l-2.3 -2.3zM519.3 112.5l2.3 2.3l-2.3 2.3l-2.3 -2.3zM519.4 116.6l2.3 2.3l-2.3 2.3l-2.3 -2.3zM519.2 120.9l2.3 2.3l-2.3 2.3l-2.3 -2.3zM519.5 124.8l2.3 2.3l-2.3 2.3l-2.3 -2.3zM519.3 129.5l2.3 2.3l-2.3 2.3l-2.3 -2.3zM519.1 134.6l2.3 2.3l-2.3 2.3l-2.3 -2.3zM519 138.5l2.3 2.3l-2.3 2.3l-2.3 -2.3zM519 140.9l2.3 2.3l-2.3 2.3l-2.3 -2.3zM519.1 145.6l2.3 2.3l-2.3 2.3l-2.3 -2.3zM519.3 148l2.3 2.3l-2.3 2.3l-2.3 -2.3zM519.4 153.2l2.3 2.3l-2.3 2.3l-2.3 -2.3zM519.1 157.2l2.3 2.3l-2.3 2.3l-2.3 -2.3zM519.2 161.9l2.3 2.3l-2.3 2.3l-2.3 -2.3zM519.6 164.6l2.3 2.3l-2.3 2.3l-2.3 -2.3zM519.6 169.9l2.3 2.3l-2.3 2.3l-2.3 -2.3zM519.6 173.6l2.3 2.3l-2.3 2.3l-2.3 -2.3zM519.6 177.7l2.3 2.3l-2.3 2.3l-2.3 -2.3zM519.1 181l2.3 2.3l-2.3 2.3l-2.3 -2.3zM519.5 184.1l2.3 2.3l-2.3 2.3l-2.3 -2.3zM519.3 187.2l2.3 2.3l-2.3 2.3l-2.3 -2.3zM519.5 190.3l2.3 2.3l-2.3 2.3l-2.3 -2.3zM519.5 194.3l2.3 2.3l-2.3 2.3l-2.3 -2.3zM519.1 197.6l2.3 2.3l-2.3 2.3l-2.3 -2.3zM519.3 201.5l2.3 2.3l-2.3 2.3l-2.3 -2.3zM519.4 203l2.1 2.1l-2.1 2.1l-2.1 -2.1zM519.5 204.6l2.1 2.1l-2.1 2.1l-2.1 -2.1zM519.2 206.4l2.1 2.1l-2.1 2.1l-2.1 -2.1zM518.9 207.8l2.1 2.1l-2.1 2.1l-2.1 -2.1zM518.9 209.8l2.1 2.1l-2.1 2.1l-2.1 -2.1zM519.4 211.5l2.1 2.1l-2.1 2.1l-2.1 -2.1zM519.4 213.4l2.1 2.1l-2.1 2.1l-2.1 -2.1zM519.7 215.4l2.1 2.1l-2.1 2.1l-2.1 -2.1zM519.3 217.2l2.1 2.1l-2.1 2.1l-2.1 -2.1zM519.2 218.5l2.1 2.1l-2.1 2.1l-2.1 -2.1zM519.3 219.9l2.1 2.1l-2.1 2.1l-2.1 -2.1zM519.6 221.4l2.1 2.1l-2.1 2.1l-2.1 -2.1zM519.3 223.4l2.1 2.1l-2.1 2.1l-2.1 -2.1zM519.3 224.8l2.1 2.1l-2.1 2.1l-2.1 -2.1zM519.6 226.6l2.1 2.1l-2.1 2.1l-2.1 -2.1zM518.2 224.7l2 2l-2 2l-2 -2zM518.9 222.4l2 2l-2 2l-2 -2zM518.8 225.8l2 2l-2 2l-2 -2zM518.6 223.6l2 2l-2 2l-2 -2zM519.7 222.3l2 2l-2 2l-2 -2zM519.1 223.3l2 2l-2 2l-2 -2zM519.3 224.2l2 2l-2 2l-2 -2zM519.8 224.4l2 2l-2 2l-2 -2zM525.3 60l2.5 2.5l-2.5 2.5l-2.5 -2.5zM525.3 61.8l2.3 2.3l-2.3 2.3l-2.3 -2.3zM525.3 63.5l2.3 2.3l-2.3 2.3l-2.3 -2.3zM525.5 64.9l2.3 2.3l-2.3 2.3l-2.3 -2.3zM525.2 66.5l2.3 2.3l-2.3 2.3l-2.3 -2.3zM525.5 68.4l2.3 2.3l-2.3 2.3l-2.3 -2.3zM525.5 70.1l2.3 2.3l-2.3 2.3l-2.3 -2.3zM525 72.6l2.3 2.3l-2.3 2.3l-2.3 -2.3zM525.4 75.7l2.3 2.3l-2.3 2.3l-2.3 -2.3zM525.6 78.3l2.3 2.3l-2.3 2.3l-2.3 -2.3zM525.5 81.3l2.3 2.3l-2.3 2.3l-2.3 -2.3zM525.5 84l2.3 2.3l-2.3 2.3l-2.3 -2.3zM525.2 86.5l2.3 2.3l-2.3 2.3l-2.3 -2.3zM525.6 89.7l2.3 2.3l-2.3 2.3l-2.3 -2.3zM525.2 94l2.3 2.3l-2.3 2.3l-2.3 -2.3zM525.6 96.6l2.3 2.3l-2.3 2.3l-2.3 -2.3zM525.3 100.7l2.3 2.3l-2.3 2.3l-2.3 -2.3zM525.2 104.8l2.3 2.3l-2.3 2.3l-2.3 -2.3zM525.5 110.2l2.3 2.3l-2.3 2.3l-2.3 -2.3zM525.2 114.7l2.3 2.3l-2.3 2.3l-2.3 -2.3zM525.2 119.7l2.3 2.3l-2.3 2.3l-2.3 -2.3zM525.1 124l2.3 2.3l-2.3 2.3l-2.3 -2.3zM525.6 126.4l2.3 2.3l-2.3 2.3l-2.3 -2.3zM525.4 131.2l2.3 2.3l-2.3 2.3l-2.3 -2.3zM525 135.4l2.3 2.3l-2.3 2.3l-2.3 -2.3zM525.5 138.1l2.3 2.3l-2.3 2.3l-2.3 -2.3zM525 140.6l2.3 2.3l-2.3 2.3l-2.3 -2.3zM525.3 143.2l2.3 2.3l-2.3 2.3l-2.3 -2.3zM525 148.3l2.3 2.3l-2.3 2.3l-2.3 -2.3zM525.2 153.6l2.3 2.3l-2.3 2.3l-2.3 -2.3zM525 158.7l2.3 2.3l-2.3 2.3l-2.3 -2.3zM525.2 163.9l2.3 2.3l-2.3 2.3l-2.3 -2.3zM525.4 168.7l2.3 2.3l-2.3 2.3l-2.3 -2.3zM525.2 172l2.3 2.3l-2.3 2.3l-2.3 -2.3zM525.6 175.4l2.3 2.3l-2.3 2.3l-2.3 -2.3zM525.4 178.6l2.3 2.3l-2.3 2.3l-2.3 -2.3zM525.6 182.5l2.3 2.3l-2.3 2.3l-2.3 -2.3zM525.1 185.7l2.3 2.3l-2.3 2.3l-2.3 -2.3zM525.5 189.4l2.3 2.3l-2.3 2.3l-2.3 -2.3zM525.4 193.1l2.3 2.3l-2.3 2.3l-2.3 -2.3zM525.5 196.7l2.3 2.3l-2.3 2.3l-2.3 -2.3zM525.4 200.3l2.3 2.3l-2.3 2.3l-2.3 -2.3zM525.4 201.8l2.1 2.1l-2.1 2.1l-2.1 -2.1zM525 203.1l2.1 2.1l-2.1 2.1l-2.1 -2.1zM525.1 205.1l2.1 2.1l-2.1 2.1l-2.1 -2.1zM525.6 207l2.1 2.1l-2.1 2.1l-2.1 -2.1zM525.4 208.4l2.1 2.1l-2.1 2.1l-2.1 -2.1zM525 209.7l2.1 2.1l-2.1 2.1l-2.1 -2.1zM524.9 211.5l2.1 2.1l-2.1 2.1l-2.1 -2.1zM525.6 213.3l2.1 2.1l-2.1 2.1l-2.1 -2.1zM525.7 214.8l2.1 2.1l-2.1 2.1l-2.1 -2.1zM524.9 216.5l2.1 2.1l-2.1 2.1l-2.1 -2.1zM525.1 218l2.1 2.1l-2.1 2.1l-2.1 -2.1zM525.2 219.5l2.1 2.1l-2.1 2.1l-2.1 -2.1zM525.4 220.8l2.1 2.1l-2.1 2.1l-2.1 -2.1zM525.2 222.7l2.1 2.1l-2.1 2.1l-2.1 -2.1zM525.4 224l2.1 2.1l-2.1 2.1l-2.1 -2.1zM525.1 225.6l2.1 2.1l-2.1 2.1l-2.1 -2.1zM525.7 222.3l2 2l-2 2l-2 -2zM525.8 225.6l2 2l-2 2l-2 -2zM525.6 221.4l2 2l-2 2l-2 -2zM524.7 224.5l2 2l-2 2l-2 -2zM525.2 224l2 2l-2 2l-2 -2zM526.2 223.2l2 2l-2 2l-2 -2zM525.5 225.4l2 2l-2 2l-2 -2zM525.5 222.9l2 2l-2 2l-2 -2zM531.3 62.4l2.5 2.5l-2.5 2.5l-2.5 -2.5zM531.5 64.4l2.3 2.3l-2.3 2.3l-2.3 -2.3zM531 66.1l2.3 2.3l-2.3 2.3l-2.3 -2.3zM531.2 67.8l2.3 2.3l-2.3 2.3l-2.3 -2.3zM531.5 69.2l2.3 2.3l-2.3 2.3l-2.3 -2.3zM531 70.9l2.3 2.3l-2.3 2.3l-2.3 -2.3zM531.3 72.6l2.3 2.3l-2.3 2.3l-2.3 -2.3zM531.4 75.3l2.3 2.3l-2.3 2.3l-2.3 -2.3zM531.5 77.9l2.3 2.3l-2.3 2.3l-2.3 -2.3zM531.2 80.5l2.3 2.3l-2.3 2.3l-2.3 -2.3zM531.2 83.3l2.3 2.3l-2.3 2.3l-2.3 -2.3zM531.4 86.2l2.3 2.3l-2.3 2.3l-2.3 -2.3zM531.2 89.2l2.3 2.3l-2.3 2.3l-2.3 -2.3zM531.2 92.3l2.3 2.3l-2.3 2.3l-2.3 -2.3zM531.2 96.2l2.3 2.3l-2.3 2.3l-2.3 -2.3zM531.3 101.3l2.3 2.3l-2.3 2.3l-2.3 -2.3zM531.3 104l2.3 2.3l-2.3 2.3l-2.3 -2.3zM531.2 108.9l2.3 2.3l-2.3 2.3l-2.3 -2.3zM531.1 114l2.3 2.3l-2.3 2.3l-2.3 -2.3zM531.5 118.9l2.3 2.3l-2.3 2.3l-2.3 -2.3zM531.4 123.1l2.3 2.3l-2.3 2.3l-2.3 -2.3zM531.4 128.1l2.3 2.3l-2.3 2.3l-2.3 -2.3zM531.1 132.7l2.3 2.3l-2.3 2.3l-2.3 -2.3zM531.2 136.7l2.3 2.3l-2.3 2.3l-2.3 -2.3zM531.4 141.8l2.3 2.3l-2.3 2.3l-2.3 -2.3zM531.5 145.8l2.3 2.3l-2.3 2.3l-2.3 -2.3zM531.5 148.5l2.3 2.3l-2.3 2.3l-2.3 -2.3zM531.3 153.7l2.3 2.3l-2.3 2.3l-2.3 -2.3zM531 158.6l2.3 2.3l-2.3 2.3l-2.3 -2.3zM531.5 161.1l2.3 2.3l-2.3 2.3l-2.3 -2.3zM531.5 166.4l2.3 2.3l-2.3 2.3l-2.3 -2.3zM531.4 170l2.3 2.3l-2.3 2.3l-2.3 -2.3zM531.1 173.5l2.3 2.3l-2.3 2.3l-2.3 -2.3zM531.3 177.3l2.3 2.3l-2.3 2.3l-2.3 -2.3zM531.3 181.1l2.3 2.3l-2.3 2.3l-2.3 -2.3zM531.2 185.2l2.3 2.3l-2.3 2.3l-2.3 -2.3zM531.5 188.5l2.3 2.3l-2.3 2.3l-2.3 -2.3zM531.3 192.4l2.3 2.3l-2.3 2.3l-2.3 -2.3zM531.1 195.4l2.3 2.3l-2.3 2.3l-2.3 -2.3zM531.6 198.7l2.3 2.3l-2.3 2.3l-2.3 -2.3zM531 200.8l2.1 2.1l-2.1 2.1l-2.1 -2.1zM531.1 202.4l2.1 2.1l-2.1 2.1l-2.1 -2.1zM531.6 203.8l2.1 2.1l-2.1 2.1l-2.1 -2.1zM531.5 205.2l2.1 2.1l-2.1 2.1l-2.1 -2.1zM531.3 206.8l2.1 2.1l-2.1 2.1l-2.1 -2.1zM531.2 208.7l2.1 2.1l-2.1 2.1l-2.1 -2.1zM531.1 210.2l2.1 2.1l-2.1 2.1l-2.1 -2.1zM531 212.1l2.1 2.1l-2.1 2.1l-2.1 -2.1zM531.1 213.5l2.1 2.1l-2.1 2.1l-2.1 -2.1zM531.4 214.9l2.1 2.1l-2.1 2.1l-2.1 -2.1zM531.2 216.3l2.1 2.1l-2.1 2.1l-2.1 -2.1zM531.2 217.8l2.1 2.1l-2.1 2.1l-2.1 -2.1zM531.7 219.3l2.1 2.1l-2.1 2.1l-2.1 -2.1zM531.6 220.8l2.1 2.1l-2.1 2.1l-2.1 -2.1zM531.5 222.4l2.1 2.1l-2.1 2.1l-2.1 -2.1zM530.9 224.2l2.1 2.1l-2.1 2.1l-2.1 -2.1zM530.9 225.6l2.1 2.1l-2.1 2.1l-2.1 -2.1zM531.3 221.5l2 2l-2 2l-2 -2zM530.8 221.8l2 2l-2 2l-2 -2zM530.4 221.8l2 2l-2 2l-2 -2zM531.7 223.5l2 2l-2 2l-2 -2zM531 222.2l2 2l-2 2l-2 -2zM531.8 224.4l2 2l-2 2l-2 -2zM530.9 221.2l2 2l-2 2l-2 -2zM530.6 225.9l2 2l-2 2l-2 -2zM537.3 60.9l2.5 2.5l-2.5 2.5l-2.5 -2.5zM537.2 62.8l2.3 2.3l-2.3 2.3l-2.3 -2.3zM537.1 64.5l2.3 2.3l-2.3 2.3l-2.3 -2.3zM537.3 66l2.3 2.3l-2.3 2.3l-2.3 -2.3zM537.1 67.7l2.3 2.3l-2.3 2.3l-2.3 -2.3zM537.2 69.1l2.3 2.3l-2.3 2.3l-2.3 -2.3zM537.1 70.9l2.3 2.3l-2.3 2.3l-2.3 -2.3zM537.4 73.8l2.3 2.3l-2.3 2.3l-2.3 -2.3zM537.2 76.3l2.3 2.3l-2.3 2.3l-2.3 -2.3zM537.3 79l2.3 2.3l-2.3 2.3l-2.3 -2.3zM537.2 82.2l2.3 2.3l-2.3 2.3l-2.3 -2.3zM537.3 84.6l2.3 2.3l-2.3 2.3l-2.3 -2.3zM537 87.7l2.3 2.3l-2.3 2.3l-2.3 -2.3zM537.2 90.2l2.3 2.3l-2.3 2.3l-2.3 -2.3zM537.2 92.8l2.3 2.3l-2.3 2.3l-2.3 -2.3zM537 95.4l2.3 2.3l-2.3 2.3l-2.3 -2.3zM537 99.4l2.3 2.3l-2.3 2.3l-2.3 -2.3zM537.2 103.9l2.3 2.3l-2.3 2.3l-2.3 -2.3zM537.4 106.6l2.3 2.3l-2.3 2.3l-2.3 -2.3zM537.2 111.8l2.3 2.3l-2.3 2.3l-2.3 -2.3zM537.3 115.9l2.3 2.3l-2.3 2.3l-2.3 -2.3zM537.2 121l2.3 2.3l-2.3 2.3l-2.3 -2.3zM537.1 123.8l2.3 2.3l-2.3 2.3l-2.3 -2.3zM537.2 128.8l2.3 2.3l-2.3 2.3l-2.3 -2.3zM537.5 132.8l2.3 2.3l-2.3 2.3l-2.3 -2.3zM537.6 137l2.3 2.3l-2.3 2.3l-2.3 -2.3zM537.2 141.3l2.3 2.3l-2.3 2.3l-2.3 -2.3zM537.1 145.2l2.3 2.3l-2.3 2.3l-2.3 -2.3zM537.2 147.7l2.3 2.3l-2.3 2.3l-2.3 -2.3zM537.3 151.7l2.3 2.3l-2.3 2.3l-2.3 -2.3zM537.5 155.8l2.3 2.3l-2.3 2.3l-2.3 -2.3zM537.5 160.2l2.3 2.3l-2.3 2.3l-2.3 -2.3zM537.5 165.5l2.3 2.3l-2.3 2.3l-2.3 -2.3zM537.1 168.8l2.3 2.3l-2.3 2.3l-2.3 -2.3zM537 171.8l2.3 2.3l-2.3 2.3l-2.3 -2.3zM537.4 175l2.3 2.3l-2.3 2.3l-2.3 -2.3zM537.4 178.2l2.3 2.3l-2.3 2.3l-2.3 -2.3zM537.1 181.2l2.3 2.3l-2.3 2.3l-2.3 -2.3zM537.1 184.3l2.3 2.3l-2.3 2.3l-2.3 -2.3zM537.3 187.9l2.3 2.3l-2.3 2.3l-2.3 -2.3zM537.5 191.2l2.3 2.3l-2.3 2.3l-2.3 -2.3zM537.1 195.2l2.3 2.3l-2.3 2.3l-2.3 -2.3zM537.2 198.9l2.3 2.3l-2.3 2.3l-2.3 -2.3zM537 200.9l2.1 2.1l-2.1 2.1l-2.1 -2.1zM537 202.4l2.1 2.1l-2.1 2.1l-2.1 -2.1zM537.2 204.1l2.1 2.1l-2.1 2.1l-2.1 -2.1zM537.5 205.7l2.1 2.1l-2.1 2.1l-2.1 -2.1zM536.9 207.6l2.1 2.1l-2.1 2.1l-2.1 -2.1zM537.3 208.9l2.1 2.1l-2.1 2.1l-2.1 -2.1zM537 210.5l2.1 2.1l-2.1 2.1l-2.1 -2.1zM537.5 212.2l2.1 2.1l-2.1 2.1l-2.1 -2.1zM537.5 213.7l2.1 2.1l-2.1 2.1l-2.1 -2.1zM537.6 215.1l2.1 2.1l-2.1 2.1l-2.1 -2.1zM537.3 216.9l2.1 2.1l-2.1 2.1l-2.1 -2.1zM537.3 218.7l2.1 2.1l-2.1 2.1l-2.1 -2.1zM537 220.2l2.1 2.1l-2.1 2.1l-2.1 -2.1zM537.4 221.9l2.1 2.1l-2.1 2.1l-2.1 -2.1zM537.1 223.8l2.1 2.1l-2.1 2.1l-2.1 -2.1zM537 225.4l2.1 2.1l-2.1 2.1l-2.1 -2.1zM537.8 223.4l2 2l-2 2l-2 -2zM536.6 224.6l2 2l-2 2l-2 -2zM536.9 221.9l2 2l-2 2l-2 -2zM537.5 224.3l2 2l-2 2l-2 -2zM538 221.9l2 2l-2 2l-2 -2zM538.1 222.8l2 2l-2 2l-2 -2zM536.8 225.6l2 2l-2 2l-2 -2zM537 222l2 2l-2 2l-2 -2zM543.3 63.7l2.5 2.5l-2.5 2.5l-2.5 -2.5zM543.6 65.5l2.3 2.3l-2.3 2.3l-2.3 -2.3zM543.1 67.1l2.3 2.3l-2.3 2.3l-2.3 -2.3zM543.2 68.5l2.3 2.3l-2.3 2.3l-2.3 -2.3zM543.5 70l2.3 2.3l-2.3 2.3l-2.3 -2.3zM543.3 72l2.3 2.3l-2.3 2.3l-2.3 -2.3zM543.1 73.7l2.3 2.3l-2.3 2.3l-2.3 -2.3zM543 76.8l2.3 2.3l-2.3 2.3l-2.3 -2.3zM543 79.2l2.3 2.3l-2.3 2.3l-2.3 -2.3zM543.1 81.8l2.3 2.3l-2.3 2.3l-2.3 -2.3zM543.1 84.9l2.3 2.3l-2.3 2.3l-2.3 -2.3zM543.3 87.8l2.3 2.3l-2.3 2.3l-2.3 -2.3zM543 90.8l2.3 2.3l-2.3 2.3l-2.3 -2.3zM543.2 93.9l2.3 2.3l-2.3 2.3l-2.3 -2.3zM543.4 99l2.3 2.3l-2.3 2.3l-2.3 -2.3zM543.2 104l2.3 2.3l-2.3 2.3l-2.3 -2.3zM543.4 108.6l2.3 2.3l-2.3 2.3l-2.3 -2.3zM543.5 113l2.3 2.3l-2.3 2.3l-2.3 -2.3zM543.4 117.9l2.3 2.3l-2.3 2.3l-2.3 -2.3zM543.4 122.7l2.3 2.3l-2.3 2.3l-2.3 -2.3zM543 127.3l2.3 2.3l-2.3 2.3l-2.3 -2.3zM543.2 131.7l2.3 2.3l-2.3 2.3l-2.3 -2.3zM543.3 136.2l2.3 2.3l-2.3 2.3l-2.3 -2.3zM543.2 141.3l2.3 2.3l-2.3 2.3l-2.3 -2.3zM543.3 143.8l2.3 2.3l-2.3 2.3l-2.3 -2.3zM543.4 148.3l2.3 2.3l-2.3 2.3l-2.3 -2.3zM543.2 151l2.3 2.3l-2.3 2.3l-2.3 -2.3zM543.3 155.9l2.3 2.3l-2.3 2.3l-2.3 -2.3zM543 159.9l2.3 2.3l-2.3 2.3l-2.3 -2.3zM543.6 163.9l2.3 2.3l-2.3 2.3l-2.3 -2.3zM543.2 169.1l2.3 2.3l-2.3 2.3l-2.3 -2.3zM543 173.1l2.3 2.3l-2.3 2.3l-2.3 -2.3zM543.4 176.4l2.3 2.3l-2.3 2.3l-2.3 -2.3zM543.1 180.1l2.3 2.3l-2.3 2.3l-2.3 -2.3zM543.5 183.2l2.3 2.3l-2.3 2.3l-2.3 -2.3zM543.3 186.8l2.3 2.3l-2.3 2.3l-2.3 -2.3zM543.5 190.5l2.3 2.3l-2.3 2.3l-2.3 -2.3zM543.1 193.6l2.3 2.3l-2.3 2.3l-2.3 -2.3zM543.3 197l2.3 2.3l-2.3 2.3l-2.3 -2.3zM543.1 200.3l2.3 2.3l-2.3 2.3l-2.3 -2.3zM543.5 201.8l2.1 2.1l-2.1 2.1l-2.1 -2.1zM542.9 203.1l2.1 2.1l-2.1 2.1l-2.1 -2.1zM543.5 204.5l2.1 2.1l-2.1 2.1l-2.1 -2.1zM543.2 205.9l2.1 2.1l-2.1 2.1l-2.1 -2.1zM543.4 207.6l2.1 2.1l-2.1 2.1l-2.1 -2.1zM543.2 209.2l2.1 2.1l-2.1 2.1l-2.1 -2.1zM542.9 210.6l2.1 2.1l-2.1 2.1l-2.1 -2.1zM543.3 212.6l2.1 2.1l-2.1 2.1l-2.1 -2.1zM543 214.4l2.1 2.1l-2.1 2.1l-2.1 -2.1zM543.5 216.1l2.1 2.1l-2.1 2.1l-2.1 -2.1zM543.6 217.8l2.1 2.1l-2.1 2.1l-2.1 -2.1zM543 219.8l2.1 2.1l-2.1 2.1l-2.1 -2.1zM543.2 221.3l2.1 2.1l-2.1 2.1l-2.1 -2.1zM543.3 222.7l2.1 2.1l-2.1 2.1l-2.1 -2.1zM542.9 224.1l2.1 2.1l-2.1 2.1l-2.1 -2.1zM542.9 225.6l2.1 2.1l-2.1 2.1l-2.1 -2.1zM543.1 224.6l2 2l-2 2l-2 -2zM542.3 222.9l2 2l-2 2l-2 -2zM543.9 221.8l2 2l-2 2l-2 -2zM543.1 222.4l2 2l-2 2l-2 -2zM542.5 225.5l2 2l-2 2l-2 -2zM543.6 224.4l2 2l-2 2l-2 -2zM542.6 221l2 2l-2 2l-2 -2zM544.2 221.7l2 2l-2 2l-2 -2zM549.2 62.2l2.5 2.5l-2.5 2.5l-2.5 -2.5zM549.1 64.3l2.3 2.3l-2.3 2.3l-2.3 -2.3zM549.4 66.1l2.3 2.3l-2.3 2.3l-2.3 -2.3zM549.4 68l2.3 2.3l-2.3 2.3l-2.3 -2.3zM549.4 70l2.3 2.3l-2.3 2.3l-2.3 -2.3zM549.1 71.6l2.3 2.3l-2.3 2.3l-2.3 -2.3zM549.2 74.1l2.3 2.3l-2.3 2.3l-2.3 -2.3zM549 77.2l2.3 2.3l-2.3 2.3l-2.3 -2.3zM549.4 80.3l2.3 2.3l-2.3 2.3l-2.3 -2.3zM549.4 82.8l2.3 2.3l-2.3 2.3l-2.3 -2.3zM549.1 85.7l2.3 2.3l-2.3 2.3l-2.3 -2.3zM549.3 88.5l2.3 2.3l-2.3 2.3l-2.3 -2.3zM549.2 91.2l2.3 2.3l-2.3 2.3l-2.3 -2.3zM549.4 95.6l2.3 2.3l-2.3 2.3l-2.3 -2.3zM549.2 100.9l2.3 2.3l-2.3 2.3l-2.3 -2.3zM549.5 105.3l2.3 2.3l-2.3 2.3l-2.3 -2.3zM549.1 110.1l2.3 2.3l-2.3 2.3l-2.3 -2.3zM549.2 115.4l2.3 2.3l-2.3 2.3l-2.3 -2.3zM549.2 119.8l2.3 2.3l-2.3 2.3l-2.3 -2.3zM549.1 123.9l2.3 2.3l-2.3 2.3l-2.3 -2.3zM549.5 129.3l2.3 2.3l-2.3 2.3l-2.3 -2.3zM549.3 134.5l2.3 2.3l-2.3 2.3l-2.3 -2.3zM549.2 139.4l2.3 2.3l-2.3 2.3l-2.3 -2.3zM549 141.9l2.3 2.3l-2.3 2.3l-2.3 -2.3zM549.3 146.7l2.3 2.3l-2.3 2.3l-2.3 -2.3zM549.4 151.9l2.3 2.3l-2.3 2.3l-2.3 -2.3zM549.3 156.2l2.3 2.3l-2.3 2.3l-2.3 -2.3zM549 160.2l2.3 2.3l-2.3 2.3l-2.3 -2.3zM549.1 165.1l2.3 2.3l-2.3 2.3l-2.3 -2.3zM549.1 168.4l2.3 2.3l-2.3 2.3l-2.3 -2.3zM549.5 172.1l2.3 2.3l-2.3 2.3l-2.3 -2.3zM549.2 175.2l2.3 2.3l-2.3 2.3l-2.3 -2.3zM549.2 178.6l2.3 2.3l-2.3 2.3l-2.3 -2.3zM549.4 181.7l2.3 2.3l-2.3 2.3l-2.3 -2.3zM549.3 185.5l2.3 2.3l-2.3 2.3l-2.3 -2.3zM549 188.5l2.3 2.3l-2.3 2.3l-2.3 -2.3zM549 191.9l2.3 2.3l-2.3 2.3l-2.3 -2.3zM549.3 195.2l2.3 2.3l-2.3 2.3l-2.3 -2.3zM549 199.3l2.3 2.3l-2.3 2.3l-2.3 -2.3zM549.2 200.9l2.1 2.1l-2.1 2.1l-2.1 -2.1zM549 202.7l2.1 2.1l-2.1 2.1l-2.1 -2.1zM548.9 204.3l2.1 2.1l-2.1 2.1l-2.1 -2.1zM549.2 206.3l2.1 2.1l-2.1 2.1l-2.1 -2.1zM549 207.9l2.1 2.1l-2.1 2.1l-2.1 -2.1zM549.3 209.4l2.1 2.1l-2.1 2.1l-2.1 -2.1zM549 210.8l2.1 2.1l-2.1 2.1l-2.1 -2.1zM549 212.1l2.1 2.1l-2.1 2.1l-2.1 -2.1zM549.2 213.9l2.1 2.1l-2.1 2.1l-2.1 -2.1zM549.1 215.4l2.1 2.1l-2.1 2.1l-2.1 -2.1zM549.1 216.7l2.1 2.1l-2.1 2.1l-2.1 -2.1zM549.3 218.5l2.1 2.1l-2.1 2.1l-2.1 -2.1zM549 220.4l2.1 2.1l-2.1 2.1l-2.1 -2.1zM549.6 222.4l2.1 2.1l-2.1 2.1l-2.1 -2.1zM549.1 223.8l2.1 2.1l-2.1 2.1l-2.1 -2.1zM549 225.7l2.1 2.1l-2.1 2.1l-2.1 -2.1zM549.7 223.2l2 2l-2 2l-2 -2zM549.2 225.7l2 2l-2 2l-2 -2zM549.5 221.6l2 2l-2 2l-2 -2zM550 221.5l2 2l-2 2l-2 -2zM548.4 223.6l2 2l-2 2l-2 -2zM550.2 222l2 2l-2 2l-2 -2zM549.9 222.3l2 2l-2 2l-2 -2zM549 222.4l2 2l-2 2l-2 -2zM555.2 64.9l2.5 2.5l-2.5 2.5l-2.5 -2.5zM555 66.7l2.3 2.3l-2.3 2.3l-2.3 -2.3zM555.4 68.4l2.3 2.3l-2.3 2.3l-2.3 -2.3zM555.3 70.3l2.3 2.3l-2.3 2.3l-2.3 -2.3zM555.2 72.2l2.3 2.3l-2.3 2.3l-2.3 -2.3zM555.2 73.7l2.3 2.3l-2.3 2.3l-2.3 -2.3zM555.1 75.4l2.3 2.3l-2.3 2.3l-2.3 -2.3zM555.2 78.2l2.3 2.3l-2.3 2.3l-2.3 -2.3zM555.5 80.8l2.3 2.3l-2.3 2.3l-2.3 -2.3zM555.3 83.8l2.3 2.3l-2.3 2.3l-2.3 -2.3zM555.3 86.2l2.3 2.3l-2.3 2.3l-2.3 -2.3zM555 89.4l2.3 2.3l-2.3 2.3l-2.3 -2.3zM555 92.6l2.3 2.3l-2.3 2.3l-2.3 -2.3zM555.5 96.7l2.3 2.3l-2.3 2.3l-2.3 -2.3zM555.2 102l2.3 2.3l-2.3 2.3l-2.3 -2.3zM555 106.7l2.3 2.3l-2.3 2.3l-2.3 -2.3zM555 111.1l2.3 2.3l-2.3 2.3l-2.3 -2.3zM555.1 116.1l2.3 2.3l-2.3 2.3l-2.3 -2.3zM555 118.9l2.3 2.3l-2.3 2.3l-2.3 -2.3zM555.1 124l2.3 2.3l-2.3 2.3l-2.3 -2.3zM555.4 128.2l2.3 2.3l-2.3 2.3l-2.3 -2.3zM555.3 133l2.3 2.3l-2.3 2.3l-2.3 -2.3zM555.4 137.9l2.3 2.3l-2.3 2.3l-2.3 -2.3zM555.4 142.4l2.3 2.3l-2.3 2.3l-2.3 -2.3zM555.5 147l2.3 2.3l-2.3 2.3l-2.3 -2.3zM555.2 151.6l2.3 2.3l-2.3 2.3l-2.3 -2.3zM555.1 156.1l2.3 2.3l-2.3 2.3l-2.3 -2.3zM555.5 160.6l2.3 2.3l-2.3 2.3l-2.3 -2.3zM555 163.1l2.3 2.3l-2.3 2.3l-2.3 -2.3zM555.5 167.8l2.3 2.3l-2.3 2.3l-2.3 -2.3zM555.4 171.9l2.3 2.3l-2.3 2.3l-2.3 -2.3zM555.4 176.1l2.3 2.3l-2.3 2.3l-2.3 -2.3zM555.1 179.6l2.3 2.3l-2.3 2.3l-2.3 -2.3zM555.5 183.2l2.3 2.3l-2.3 2.3l-2.3 -2.3zM555 186.6l2.3 2.3l-2.3 2.3l-2.3 -2.3zM555.3 190.8l2.3 2.3l-2.3 2.3l-2.3 -2.3zM555.3 194.7l2.3 2.3l-2.3 2.3l-2.3 -2.3zM554.9 198.8l2.3 2.3l-2.3 2.3l-2.3 -2.3zM555.5 200.6l2.1 2.1l-2.1 2.1l-2.1 -2.1zM555.2 202.3l2.1 2.1l-2.1 2.1l-2.1 -2.1zM555.1 204.2l2.1 2.1l-2.1 2.1l-2.1 -2.1zM555.4 206l2.1 2.1l-2.1 2.1l-2.1 -2.1zM555.5 207.9l2.1 2.1l-2.1 2.1l-2.1 -2.1zM555 209.3l2.1 2.1l-2.1 2.1l-2.1 -2.1zM555.6 210.8l2.1 2.1l-2.1 2.1l-2.1 -2.1zM555.4 212.7l2.1 2.1l-2.1 2.1l-2.1 -2.1zM555.1 214l2.1 2.1l-2.1 2.1l-2.1 -2.1zM555.4 215.5l2.1 2.1l-2.1 2.1l-2.1 -2.1zM555.1 217.4l2.1 2.1l-2.1 2.1l-2.1 -2.1zM555.1 219.1l2.1 2.1l-2.1 2.1l-2.1 -2.1zM555.3 220.4l2.1 2.1l-2.1 2.1l-2.1 -2.1zM555.6 221.8l2.1 2.1l-2.1 2.1l-2.1 -2.1zM555.4 223.3l2.1 2.1l-2.1 2.1l-2.1 -2.1zM555.4 225l2.1 2.1l-2.1 2.1l-2.1 -2.1zM554.2 223.9l2 2l-2 2l-2 -2zM555.4 224.7l2 2l-2 2l-2 -2zM554.7 222.7l2 2l-2 2l-2 -2zM555.4 222.3l2 2l-2 2l-2 -2zM556.1 222.5l2 2l-2 2l-2 -2zM556.3 223.7l2 2l-2 2l-2 -2zM554.8 225.8l2 2l-2 2l-2 -2zM555.6 225.6l2 2l-2 2l-2 -2zM561.2 63.7l2.5 2.5l-2.5 2.5l-2.5 -2.5zM561.2 65.3l2.3 2.3l-2.3 2.3l-2.3 -2.3zM561.4 66.7l2.3 2.3l-2.3 2.3l-2.3 -2.3zM561.4 68.5l2.3 2.3l-2.3 2.3l-2.3 -2.3zM561 70.2l2.3 2.3l-2.3 2.3l-2.3 -2.3zM561.3 71.7l2.3 2.3l-2.3 2.3l-2.3 -2.3zM561.3 73.6l2.3 2.3l-2.3 2.3l-2.3 -2.3zM561.2 76.3l2.3 2.3l-2.3 2.3l-2.3 -2.3zM561.5 79.3l2.3 2.3l-2.3 2.3l-2.3 -2.3zM561 82.2l2.3 2.3l-2.3 2.3l-2.3 -2.3zM561.2 84.9l2.3 2.3l-2.3 2.3l-2.3 -2.3zM561.2 87.6l2.3 2.3l-2.3 2.3l-2.3 -2.3zM561 90.3l2.3 2.3l-2.3 2.3l-2.3 -2.3zM561.5 93l2.3 2.3l-2.3 2.3l-2.3 -2.3zM561 98l2.3 2.3l-2.3 2.3l-2.3 -2.3zM561.2 102.1l2.3 2.3l-2.3 2.3l-2.3 -2.3zM561 106.9l2.3 2.3l-2.3 2.3l-2.3 -2.3zM561.1 111.8l2.3 2.3l-2.3 2.3l-2.3 -2.3zM561.2 117.1l2.3 2.3l-2.3 2.3l-2.3 -2.3zM561.1 122.2l2.3 2.3l-2.3 2.3l-2.3 -2.3zM561 124.9l2.3 2.3l-2.3 2.3l-2.3 -2.3zM561 129.4l2.3 2.3l-2.3 2.3l-2.3 -2.3zM561.2 134.5l2.3 2.3l-2.3 2.3l-2.3 -2.3zM561.2 138.4l2.3 2.3l-2.3 2.3l-2.3 -2.3zM561 141.1l2.3 2.3l-2.3 2.3l-2.3 -2.3zM561 145.5l2.3 2.3l-2.3 2.3l-2.3 -2.3zM561.4 150.7l2.3 2.3l-2.3 2.3l-2.3 -2.3zM561.4 153.1l2.3 2.3l-2.3 2.3l-2.3 -2.3zM560.9 157.4l2.3 2.3l-2.3 2.3l-2.3 -2.3zM561.2 161.6l2.3 2.3l-2.3 2.3l-2.3 -2.3zM561.4 165.7l2.3 2.3l-2.3 2.3l-2.3 -2.3zM561.1 169.5l2.3 2.3l-2.3 2.3l-2.3 -2.3zM561.3 172.5l2.3 2.3l-2.3 2.3l-2.3 -2.3zM561.4 176.3l2.3 2.3l-2.3 2.3l-2.3 -2.3zM561.2 180.3l2.3 2.3l-2.3 2.3l-2.3 -2.3zM561 184.4l2.3 2.3l-2.3 2.3l-2.3 -2.3zM561 188.2l2.3 2.3l-2.3 2.3l-2.3 -2.3zM561 192.3l2.3 2.3l-2.3 2.3l-2.3 -2.3zM561.4 196.4l2.3 2.3l-2.3 2.3l-2.3 -2.3zM561.3 199.5l2.3 2.3l-2.3 2.3l-2.3 -2.3zM561.4 201.5l2.1 2.1l-2.1 2.1l-2.1 -2.1zM560.9 203.2l2.1 2.1l-2.1 2.1l-2.1 -2.1zM561 205.1l2.1 2.1l-2.1 2.1l-2.1 -2.1zM561.4 206.5l2.1 2.1l-2.1 2.1l-2.1 -2.1zM560.9 208.1l2.1 2.1l-2.1 2.1l-2.1 -2.1zM561.6 209.5l2.1 2.1l-2.1 2.1l-2.1 -2.1zM561 210.9l2.1 2.1l-2.1 2.1l-2.1 -2.1zM561.3 212.7l2.1 2.1l-2.1 2.1l-2.1 -2.1zM561.3 214l2.1 2.1l-2.1 2.1l-2.1 -2.1zM561.2 215.7l2.1 2.1l-2.1 2.1l-2.1 -2.1zM561 217.4l2.1 2.1l-2.1 2.1l-2.1 -2.1zM561.3 218.9l2.1 2.1l-2.1 2.1l-2.1 -2.1zM561.3 220.6l2.1 2.1l-2.1 2.1l-2.1 -2.1zM561 221.9l2.1 2.1l-2.1 2.1l-2.1 -2.1zM561.3 223.8l2.1 2.1l-2.1 2.1l-2.1 -2.1zM561.6 225.4l2.1 2.1l-2.1 2.1l-2.1 -2.1zM560.7 223.7l2 2l-2 2l-2 -2zM560.5 224l2 2l-2 2l-2 -2zM561.8 223.7l2 2l-2 2l-2 -2zM560.9 225.4l2 2l-2 2l-2 -2zM560.7 223.9l2 2l-2 2l-2 -2zM561.5 225l2 2l-2 2l-2 -2zM560.3 224.9l2 2l-2 2l-2 -2zM561.7 221.3l2 2l-2 2l-2 -2zM567.2 66.4l2.5 2.5l-2.5 2.5l-2.5 -2.5zM566.9 68.5l2.3 2.3l-2.3 2.3l-2.3 -2.3zM567.3 70.1l2.3 2.3l-2.3 2.3l-2.3 -2.3zM566.9 72l2.3 2.3l-2.3 2.3l-2.3 -2.3zM567.3 73.9l2.3 2.3l-2.3 2.3l-2.3 -2.3zM567.2 75.9l2.3 2.3l-2.3 2.3l-2.3 -2.3zM567.1 78.3l2.3 2.3l-2.3 2.3l-2.3 -2.3zM567.2 81.3l2.3 2.3l-2.3 2.3l-2.3 -2.3zM567.3 84.1l2.3 2.3l-2.3 2.3l-2.3 -2.3zM567 86.9l2.3 2.3l-2.3 2.3l-2.3 -2.3zM567.4 89.5l2.3 2.3l-2.3 2.3l-2.3 -2.3zM567.1 92.4l2.3 2.3l-2.3 2.3l-2.3 -2.3zM567.4 94.9l2.3 2.3l-2.3 2.3l-2.3 -2.3zM567.3 99l2.3 2.3l-2.3 2.3l-2.3 -2.3zM567.1 103.3l2.3 2.3l-2.3 2.3l-2.3 -2.3zM567.4 108.7l2.3 2.3l-2.3 2.3l-2.3 -2.3zM567 111.3l2.3 2.3l-2.3 2.3l-2.3 -2.3zM567.3 115.8l2.3 2.3l-2.3 2.3l-2.3 -2.3zM567.2 121l2.3 2.3l-2.3 2.3l-2.3 -2.3zM567.4 125.8l2.3 2.3l-2.3 2.3l-2.3 -2.3zM567.4 130.5l2.3 2.3l-2.3 2.3l-2.3 -2.3zM567.2 135l2.3 2.3l-2.3 2.3l-2.3 -2.3zM567 139.1l2.3 2.3l-2.3 2.3l-2.3 -2.3zM567 143.3l2.3 2.3l-2.3 2.3l-2.3 -2.3zM567 145.9l2.3 2.3l-2.3 2.3l-2.3 -2.3zM567.5 151.1l2.3 2.3l-2.3 2.3l-2.3 -2.3zM567.1 153.7l2.3 2.3l-2.3 2.3l-2.3 -2.3zM567.3 158.2l2.3 2.3l-2.3 2.3l-2.3 -2.3zM567.3 163.1l2.3 2.3l-2.3 2.3l-2.3 -2.3zM567 167.3l2.3 2.3l-2.3 2.3l-2.3 -2.3zM567.3 170.4l2.3 2.3l-2.3 2.3l-2.3 -2.3zM567 174.6l2.3 2.3l-2.3 2.3l-2.3 -2.3zM567.3 178.1l2.3 2.3l-2.3 2.3l-2.3 -2.3zM567.5 181.5l2.3 2.3l-2.3 2.3l-2.3 -2.3zM567.4 184.6l2.3 2.3l-2.3 2.3l-2.3 -2.3zM567.5 188.4l2.3 2.3l-2.3 2.3l-2.3 -2.3zM567.4 191.9l2.3 2.3l-2.3 2.3l-2.3 -2.3zM567.2 195.1l2.3 2.3l-2.3 2.3l-2.3 -2.3zM567.1 199.1l2.3 2.3l-2.3 2.3l-2.3 -2.3zM567.3 200.9l2.1 2.1l-2.1 2.1l-2.1 -2.1zM567.5 202.6l2.1 2.1l-2.1 2.1l-2.1 -2.1zM567.1 204.2l2.1 2.1l-2.1 2.1l-2.1 -2.1zM566.8 205.7l2.1 2.1l-2.1 2.1l-2.1 -2.1zM566.9 207.6l2.1 2.1l-2.1 2.1l-2.1 -2.1zM566.8 209.4l2.1 2.1l-2.1 2.1l-2.1 -2.1zM567.1 211.2l2.1 2.1l-2.1 2.1l-2.1 -2.1zM567.1 212.6l2.1 2.1l-2.1 2.1l-2.1 -2.1zM567.5 214.2l2.1 2.1l-2.1 2.1l-2.1 -2.1zM567 216.1l2.1 2.1l-2.1 2.1l-2.1 -2.1zM567.5 217.6l2.1 2.1l-2.1 2.1l-2.1 -2.1zM566.9 219.3l2.1 2.1l-2.1 2.1l-2.1 -2.1zM566.8 220.9l2.1 2.1l-2.1 2.1l-2.1 -2.1zM567 222.4l2.1 2.1l-2.1 2.1l-2.1 -2.1zM566.9 223.9l2.1 2.1l-2.1 2.1l-2.1 -2.1zM567 225.5l2.1 2.1l-2.1 2.1l-2.1 -2.1zM567.3 221.4l2 2l-2 2l-2 -2zM566.4 222.2l2 2l-2 2l-2 -2zM567.1 225.2l2 2l-2 2l-2 -2zM567.5 223l2 2l-2 2l-2 -2zM566.3 225.9l2 2l-2 2l-2 -2zM567.4 223.6l2 2l-2 2l-2 -2zM567.8 223.4l2 2l-2 2l-2 -2zM566.4 223.9l2 2l-2 2l-2 -2zM573.2 64.9l2.5 2.5l-2.5 2.5l-2.5 -2.5zM573.2 67l2.3 2.3l-2.3 2.3l-2.3 -2.3zM573.2 68.4l2.3 2.3l-2.3 2.3l-2.3 -2.3zM573 70.2l2.3 2.3l-2.3 2.3l-2.3 -2.3zM573.4 71.8l2.3 2.3l-2.3 2.3l-2.3 -2.3zM573.4 73.6l2.3 2.3l-2.3 2.3l-2.3 -2.3zM573.3 75.3l2.3 2.3l-2.3 2.3l-2.3 -2.3zM573.4 78.4l2.3 2.3l-2.3 2.3l-2.3 -2.3zM573.2 81.2l2.3 2.3l-2.3 2.3l-2.3 -2.3zM573 84.1l2.3 2.3l-2.3 2.3l-2.3 -2.3zM572.9 86.7l2.3 2.3l-2.3 2.3l-2.3 -2.3zM573.2 89.2l2.3 2.3l-2.3 2.3l-2.3 -2.3zM573.1 91.7l2.3 2.3l-2.3 2.3l-2.3 -2.3zM573 94.4l2.3 2.3l-2.3 2.3l-2.3 -2.3zM573.2 99.8l2.3 2.3l-2.3 2.3l-2.3 -2.3zM573.1 103.8l2.3 2.3l-2.3 2.3l-2.3 -2.3zM573.4 106.6l2.3 2.3l-2.3 2.3l-2.3 -2.3zM573.2 110.5l2.3 2.3l-2.3 2.3l-2.3 -2.3zM573.4 114.8l2.3 2.3l-2.3 2.3l-2.3 -2.3zM573 119.9l2.3 2.3l-2.3 2.3l-2.3 -2.3zM573.2 125l2.3 2.3l-2.3 2.3l-2.3 -2.3zM573.3 129l2.3 2.3l-2.3 2.3l-2.3 -2.3zM573.3 133.7l2.3 2.3l-2.3 2.3l-2.3 -2.3zM573.4 138.3l2.3 2.3l-2.3 2.3l-2.3 -2.3zM573 142.3l2.3 2.3l-2.3 2.3l-2.3 -2.3zM573.2 146.8l2.3 2.3l-2.3 2.3l-2.3 -2.3zM573.3 152l2.3 2.3l-2.3 2.3l-2.3 -2.3zM573.3 157.3l2.3 2.3l-2.3 2.3l-2.3 -2.3zM573.3 159.8l2.3 2.3l-2.3 2.3l-2.3 -2.3zM573.5 164.8l2.3 2.3l-2.3 2.3l-2.3 -2.3zM573 167.4l2.3 2.3l-2.3 2.3l-2.3 -2.3zM573.5 171.3l2.3 2.3l-2.3 2.3l-2.3 -2.3zM573.1 174.8l2.3 2.3l-2.3 2.3l-2.3 -2.3zM573 178.3l2.3 2.3l-2.3 2.3l-2.3 -2.3zM573.1 181.7l2.3 2.3l-2.3 2.3l-2.3 -2.3zM573.2 185.4l2.3 2.3l-2.3 2.3l-2.3 -2.3zM573.2 189.1l2.3 2.3l-2.3 2.3l-2.3 -2.3zM572.9 193.1l2.3 2.3l-2.3 2.3l-2.3 -2.3zM572.9 197.2l2.3 2.3l-2.3 2.3l-2.3 -2.3zM573.3 201.2l2.3 2.3l-2.3 2.3l-2.3 -2.3zM573.3 203.2l2.1 2.1l-2.1 2.1l-2.1 -2.1zM573.2 204.6l2.1 2.1l-2.1 2.1l-2.1 -2.1zM573.1 206.5l2.1 2.1l-2.1 2.1l-2.1 -2.1zM573.1 207.9l2.1 2.1l-2.1 2.1l-2.1 -2.1zM572.9 209.6l2.1 2.1l-2.1 2.1l-2.1 -2.1zM573.2 211l2.1 2.1l-2.1 2.1l-2.1 -2.1zM573.1 212.4l2.1 2.1l-2.1 2.1l-2.1 -2.1zM573 213.7l2.1 2.1l-2.1 2.1l-2.1 -2.1zM572.8 215.5l2.1 2.1l-2.1 2.1l-2.1 -2.1zM573 217.2l2.1 2.1l-2.1 2.1l-2.1 -2.1zM573 218.9l2.1 2.1l-2.1 2.1l-2.1 -2.1zM573.4 220.7l2.1 2.1l-2.1 2.1l-2.1 -2.1zM573 222.3l2.1 2.1l-2.1 2.1l-2.1 -2.1zM573.4 223.6l2.1 2.1l-2.1 2.1l-2.1 -2.1zM573 225.4l2.1 2.1l-2.1 2.1l-2.1 -2.1zM572.2 225.6l2 2l-2 2l-2 -2zM573.7 221.6l2 2l-2 2l-2 -2zM573.5 224.1l2 2l-2 2l-2 -2zM574.1 223.6l2 2l-2 2l-2 -2zM572.4 224.2l2 2l-2 2l-2 -2zM573.7 224.7l2 2l-2 2l-2 -2zM573.4 226l2 2l-2 2l-2 -2zM572.8 223l2 2l-2 2l-2 -2zM579.2 67.3l2.5 2.5l-2.5 2.5l-2.5 -2.5zM579.3 69.3l2.3 2.3l-2.3 2.3l-2.3 -2.3zM579.1 70.7l2.3 2.3l-2.3 2.3l-2.3 -2.3zM579.1 72.1l2.3 2.3l-2.3 2.3l-2.3 -2.3zM579 73.9l2.3 2.3l-2.3 2.3l-2.3 -2.3zM579 75.8l2.3 2.3l-2.3 2.3l-2.3 -2.3zM579.5 77.3l2.3 2.3l-2.3 2.3l-2.3 -2.3zM579.4 80.2l2.3 2.3l-2.3 2.3l-2.3 -2.3zM579.1 83.2l2.3 2.3l-2.3 2.3l-2.3 -2.3zM579.5 86.1l2.3 2.3l-2.3 2.3l-2.3 -2.3zM579 89.1l2.3 2.3l-2.3 2.3l-2.3 -2.3zM579.3 91.6l2.3 2.3l-2.3 2.3l-2.3 -2.3zM579.3 94.3l2.3 2.3l-2.3 2.3l-2.3 -2.3zM579 98.3l2.3 2.3l-2.3 2.3l-2.3 -2.3zM579.3 103.6l2.3 2.3l-2.3 2.3l-2.3 -2.3zM579.3 108.3l2.3 2.3l-2.3 2.3l-2.3 -2.3zM579 112.3l2.3 2.3l-2.3 2.3l-2.3 -2.3zM579.4 117.6l2.3 2.3l-2.3 2.3l-2.3 -2.3zM579 122.4l2.3 2.3l-2.3 2.3l-2.3 -2.3zM579.4 126.4l2.3 2.3l-2.3 2.3l-2.3 -2.3zM579.5 130.8l2.3 2.3l-2.3 2.3l-2.3 -2.3zM579.2 135l2.3 2.3l-2.3 2.3l-2.3 -2.3zM579.3 139.1l2.3 2.3l-2.3 2.3l-2.3 -2.3zM579.1 143.1l2.3 2.3l-2.3 2.3l-2.3 -2.3zM579.1 148.3l2.3 2.3l-2.3 2.3l-2.3 -2.3zM579.2 150.9l2.3 2.3l-2.3 2.3l-2.3 -2.3zM579.1 155.5l2.3 2.3l-2.3 2.3l-2.3 -2.3zM579.3 158.2l2.3 2.3l-2.3 2.3l-2.3 -2.3zM579.4 160.8l2.3 2.3l-2.3 2.3l-2.3 -2.3zM579.3 164.8l2.3 2.3l-2.3 2.3l-2.3 -2.3zM579.2 168.8l2.3 2.3l-2.3 2.3l-2.3 -2.3zM579 172l2.3 2.3l-2.3 2.3l-2.3 -2.3zM579.3 175.7l2.3 2.3l-2.3 2.3l-2.3 -2.3zM579 179.7l2.3 2.3l-2.3 2.3l-2.3 -2.3zM579.1 183.5l2.3 2.3l-2.3 2.3l-2.3 -2.3zM579.2 187.5l2.3 2.3l-2.3 2.3l-2.3 -2.3zM579 191l2.3 2.3l-2.3 2.3l-2.3 -2.3zM579.2 195.2l2.3 2.3l-2.3 2.3l-2.3 -2.3zM579.1 198.8l2.3 2.3l-2.3 2.3l-2.3 -2.3zM579 200.6l2.1 2.1l-2.1 2.1l-2.1 -2.1zM579 202.2l2.1 2.1l-2.1 2.1l-2.1 -2.1zM579.4 203.7l2.1 2.1l-2.1 2.1l-2.1 -2.1zM579.3 205.1l2.1 2.1l-2.1 2.1l-2.1 -2.1zM579.2 206.4l2.1 2.1l-2.1 2.1l-2.1 -2.1zM579.5 208l2.1 2.1l-2.1 2.1l-2.1 -2.1zM579.2 209.8l2.1 2.1l-2.1 2.1l-2.1 -2.1zM579.2 211.2l2.1 2.1l-2.1 2.1l-2.1 -2.1zM579.2 212.7l2.1 2.1l-2.1 2.1l-2.1 -2.1zM579.2 214.6l2.1 2.1l-2.1 2.1l-2.1 -2.1zM578.8 216.3l2.1 2.1l-2.1 2.1l-2.1 -2.1zM578.9 217.8l2.1 2.1l-2.1 2.1l-2.1 -2.1zM579.3 219.2l2.1 2.1l-2.1 2.1l-2.1 -2.1zM579.2 220.9l2.1 2.1l-2.1 2.1l-2.1 -2.1zM578.9 222.3l2.1 2.1l-2.1 2.1l-2.1 -2.1zM579.1 224.2l2.1 2.1l-2.1 2.1l-2.1 -2.1zM579.2 225.5l2.1 2.1l-2.1 2.1l-2.1 -2.1zM578.7 224.2l2 2l-2 2l-2 -2zM579.8 222.7l2 2l-2 2l-2 -2zM579.9 222.1l2 2l-2 2l-2 -2zM579.8 222.6l2 2l-2 2l-2 -2zM578.1 221.9l2 2l-2 2l-2 -2zM579.6 224.3l2 2l-2 2l-2 -2zM579.6 221.5l2 2l-2 2l-2 -2zM578.3 223.6l2 2l-2 2l-2 -2zM585.2 66l2.5 2.5l-2.5 2.5l-2.5 -2.5zM585.1 68.1l2.3 2.3l-2.3 2.3l-2.3 -2.3zM585.1 69.8l2.3 2.3l-2.3 2.3l-2.3 -2.3zM585.3 71.6l2.3 2.3l-2.3 2.3l-2.3 -2.3zM585.4 73.6l2.3 2.3l-2.3 2.3l-2.3 -2.3zM585.2 75.4l2.3 2.3l-2.3 2.3l-2.3 -2.3zM585 78.2l2.3 2.3l-2.3 2.3l-2.3 -2.3zM585.5 80.8l2.3 2.3l-2.3 2.3l-2.3 -2.3zM585.1 83.3l2.3 2.3l-2.3 2.3l-2.3 -2.3zM584.9 86.5l2.3 2.3l-2.3 2.3l-2.3 -2.3zM585.5 89.3l2.3 2.3l-2.3 2.3l-2.3 -2.3zM584.9 92.4l2.3 2.3l-2.3 2.3l-2.3 -2.3zM585.4 95l2.3 2.3l-2.3 2.3l-2.3 -2.3zM585.2 98.9l2.3 2.3l-2.3 2.3l-2.3 -2.3zM585 103.8l2.3 2.3l-2.3 2.3l-2.3 -2.3zM585.4 106.5l2.3 2.3l-2.3 2.3l-2.3 -2.3zM585.1 111.4l2.3 2.3l-2.3 2.3l-2.3 -2.3zM585.4 116.6l2.3 2.3l-2.3 2.3l-2.3 -2.3zM585.4 121.2l2.3 2.3l-2.3 2.3l-2.3 -2.3zM585 126l2.3 2.3l-2.3 2.3l-2.3 -2.3zM585.1 131.3l2.3 2.3l-2.3 2.3l-2.3 -2.3zM585.4 135.3l2.3 2.3l-2.3 2.3l-2.3 -2.3zM585.4 140.4l2.3 2.3l-2.3 2.3l-2.3 -2.3zM584.9 145.6l2.3 2.3l-2.3 2.3l-2.3 -2.3zM584.9 150.5l2.3 2.3l-2.3 2.3l-2.3 -2.3zM585.1 155.9l2.3 2.3l-2.3 2.3l-2.3 -2.3zM585.4 161l2.3 2.3l-2.3 2.3l-2.3 -2.3zM585.2 165.1l2.3 2.3l-2.3 2.3l-2.3 -2.3zM585 169.7l2.3 2.3l-2.3 2.3l-2.3 -2.3zM584.9 172.7l2.3 2.3l-2.3 2.3l-2.3 -2.3zM585.4 176.4l2.3 2.3l-2.3 2.3l-2.3 -2.3zM585.1 179.4l2.3 2.3l-2.3 2.3l-2.3 -2.3zM585.2 183l2.3 2.3l-2.3 2.3l-2.3 -2.3zM585.3 186.3l2.3 2.3l-2.3 2.3l-2.3 -2.3zM585 189.5l2.3 2.3l-2.3 2.3l-2.3 -2.3zM585 192.6l2.3 2.3l-2.3 2.3l-2.3 -2.3zM585.2 195.9l2.3 2.3l-2.3 2.3l-2.3 -2.3zM585.3 200l2.3 2.3l-2.3 2.3l-2.3 -2.3zM585.2 201.7l2.1 2.1l-2.1 2.1l-2.1 -2.1zM585.5 203.4l2.1 2.1l-2.1 2.1l-2.1 -2.1zM584.9 205.4l2.1 2.1l-2.1 2.1l-2.1 -2.1zM585.5 206.7l2.1 2.1l-2.1 2.1l-2.1 -2.1zM585 208.5l2.1 2.1l-2.1 2.1l-2.1 -2.1zM585.2 210l2.1 2.1l-2.1 2.1l-2.1 -2.1zM585.1 211.9l2.1 2.1l-2.1 2.1l-2.1 -2.1zM585.3 213.7l2.1 2.1l-2.1 2.1l-2.1 -2.1zM585.1 215.1l2.1 2.1l-2.1 2.1l-2.1 -2.1zM585.2 216.7l2.1 2.1l-2.1 2.1l-2.1 -2.1zM585.1 218.1l2.1 2.1l-2.1 2.1l-2.1 -2.1zM584.8 219.4l2.1 2.1l-2.1 2.1l-2.1 -2.1zM585.2 220.9l2.1 2.1l-2.1 2.1l-2.1 -2.1zM584.9 222.7l2.1 2.1l-2.1 2.1l-2.1 -2.1zM585.1 224.3l2.1 2.1l-2.1 2.1l-2.1 -2.1zM585.3 226.1l2.1 2.1l-2.1 2.1l-2.1 -2.1zM585.1 222l2 2l-2 2l-2 -2zM584.4 224.8l2 2l-2 2l-2 -2zM584.2 224.5l2 2l-2 2l-2 -2zM585.2 221.6l2 2l-2 2l-2 -2zM584.6 225.5l2 2l-2 2l-2 -2zM584.8 224l2 2l-2 2l-2 -2zM586.2 225.8l2 2l-2 2l-2 -2zM586.2 223.9l2 2l-2 2l-2 -2zM591.2 68.8l2.5 2.5l-2.5 2.5l-2.5 -2.5zM591.4 70.8l2.3 2.3l-2.3 2.3l-2.3 -2.3zM591.2 72.7l2.3 2.3l-2.3 2.3l-2.3 -2.3zM591 74.3l2.3 2.3l-2.3 2.3l-2.3 -2.3zM591.2 75.8l2.3 2.3l-2.3 2.3l-2.3 -2.3zM591.1 77.4l2.3 2.3l-2.3 2.3l-2.3 -2.3zM591.4 79l2.3 2.3l-2.3 2.3l-2.3 -2.3zM591.1 82.1l2.3 2.3l-2.3 2.3l-2.3 -2.3zM591 84.9l2.3 2.3l-2.3 2.3l-2.3 -2.3zM591.2 87.8l2.3 2.3l-2.3 2.3l-2.3 -2.3zM591.4 90.3l2.3 2.3l-2.3 2.3l-2.3 -2.3zM591 93l2.3 2.3l-2.3 2.3l-2.3 -2.3zM591.4 95.6l2.3 2.3l-2.3 2.3l-2.3 -2.3zM591.2 99.9l2.3 2.3l-2.3 2.3l-2.3 -2.3zM591.3 104.5l2.3 2.3l-2.3 2.3l-2.3 -2.3zM591.4 109.8l2.3 2.3l-2.3 2.3l-2.3 -2.3zM591.4 114.1l2.3 2.3l-2.3 2.3l-2.3 -2.3zM591.1 119.4l2.3 2.3l-2.3 2.3l-2.3 -2.3zM591.1 124.6l2.3 2.3l-2.3 2.3l-2.3 -2.3zM591.3 127.3l2.3 2.3l-2.3 2.3l-2.3 -2.3zM591.1 129.8l2.3 2.3l-2.3 2.3l-2.3 -2.3zM591 133.9l2.3 2.3l-2.3 2.3l-2.3 -2.3zM591.1 138.3l2.3 2.3l-2.3 2.3l-2.3 -2.3zM591.2 140.8l2.3 2.3l-2.3 2.3l-2.3 -2.3zM591.1 145.5l2.3 2.3l-2.3 2.3l-2.3 -2.3zM591.2 149.5l2.3 2.3l-2.3 2.3l-2.3 -2.3zM591.2 154.8l2.3 2.3l-2.3 2.3l-2.3 -2.3zM591 159.8l2.3 2.3l-2.3 2.3l-2.3 -2.3zM591.3 164.8l2.3 2.3l-2.3 2.3l-2.3 -2.3zM591.5 170l2.3 2.3l-2.3 2.3l-2.3 -2.3zM591.4 174l2.3 2.3l-2.3 2.3l-2.3 -2.3zM590.9 177.4l2.3 2.3l-2.3 2.3l-2.3 -2.3zM591.3 181.4l2.3 2.3l-2.3 2.3l-2.3 -2.3zM591 185.4l2.3 2.3l-2.3 2.3l-2.3 -2.3zM591.1 189.4l2.3 2.3l-2.3 2.3l-2.3 -2.3zM591 193.1l2.3 2.3l-2.3 2.3l-2.3 -2.3zM591.2 196.7l2.3 2.3l-2.3 2.3l-2.3 -2.3zM591.4 200.2l2.3 2.3l-2.3 2.3l-2.3 -2.3zM591.3 201.8l2.1 2.1l-2.1 2.1l-2.1 -2.1zM591.5 203.7l2.1 2.1l-2.1 2.1l-2.1 -2.1zM590.9 205.1l2.1 2.1l-2.1 2.1l-2.1 -2.1zM591.2 206.4l2.1 2.1l-2.1 2.1l-2.1 -2.1zM590.8 207.8l2.1 2.1l-2.1 2.1l-2.1 -2.1zM590.8 209.7l2.1 2.1l-2.1 2.1l-2.1 -2.1zM591.1 211.6l2.1 2.1l-2.1 2.1l-2.1 -2.1zM591 213l2.1 2.1l-2.1 2.1l-2.1 -2.1zM591.2 214.8l2.1 2.1l-2.1 2.1l-2.1 -2.1zM591.2 216.2l2.1 2.1l-2.1 2.1l-2.1 -2.1zM591.1 217.8l2.1 2.1l-2.1 2.1l-2.1 -2.1zM590.9 219.2l2.1 2.1l-2.1 2.1l-2.1 -2.1zM591.4 221.1l2.1 2.1l-2.1 2.1l-2.1 -2.1zM591.4 222.9l2.1 2.1l-2.1 2.1l-2.1 -2.1zM591.3 224.6l2.1 2.1l-2.1 2.1l-2.1 -2.1zM591.4 226.5l2.1 2.1l-2.1 2.1l-2.1 -2.1zM591.8 224.7l2 2l-2 2l-2 -2zM590.7 222.3l2 2l-2 2l-2 -2zM591.2 223.8l2 2l-2 2l-2 -2zM591.6 221.6l2 2l-2 2l-2 -2zM590.7 222.1l2 2l-2 2l-2 -2zM592 221.3l2 2l-2 2l-2 -2zM591.7 222.8l2 2l-2 2l-2 -2zM591.4 221.8l2 2l-2 2l-2 -2zM597.2 67.3l2.5 2.5l-2.5 2.5l-2.5 -2.5zM597.2 69.2l2.3 2.3l-2.3 2.3l-2.3 -2.3zM597 70.6l2.3 2.3l-2.3 2.3l-2.3 -2.3zM597.3 72.3l2.3 2.3l-2.3 2.3l-2.3 -2.3zM597.2 74.3l2.3 2.3l-2.3 2.3l-2.3 -2.3zM597.3 76.2l2.3 2.3l-2.3 2.3l-2.3 -2.3zM597.4 78l2.3 2.3l-2.3 2.3l-2.3 -2.3zM597 81.1l2.3 2.3l-2.3 2.3l-2.3 -2.3zM597 84.2l2.3 2.3l-2.3 2.3l-2.3 -2.3zM597.1 86.7l2.3 2.3l-2.3 2.3l-2.3 -2.3zM597.4 89.5l2.3 2.3l-2.3 2.3l-2.3 -2.3zM597.3 92.1l2.3 2.3l-2.3 2.3l-2.3 -2.3zM597 95.2l2.3 2.3l-2.3 2.3l-2.3 -2.3zM597.1 97.8l2.3 2.3l-2.3 2.3l-2.3 -2.3zM596.9 102.7l2.3 2.3l-2.3 2.3l-2.3 -2.3zM596.9 107.8l2.3 2.3l-2.3 2.3l-2.3 -2.3zM597.1 112.8l2.3 2.3l-2.3 2.3l-2.3 -2.3zM597.4 118.1l2.3 2.3l-2.3 2.3l-2.3 -2.3zM596.9 122.2l2.3 2.3l-2.3 2.3l-2.3 -2.3zM596.9 127.5l2.3 2.3l-2.3 2.3l-2.3 -2.3zM597.1 131.9l2.3 2.3l-2.3 2.3l-2.3 -2.3zM597.2 137l2.3 2.3l-2.3 2.3l-2.3 -2.3zM597.1 142.4l2.3 2.3l-2.3 2.3l-2.3 -2.3zM597.3 145.1l2.3 2.3l-2.3 2.3l-2.3 -2.3zM597.2 149.7l2.3 2.3l-2.3 2.3l-2.3 -2.3zM597.1 154l2.3 2.3l-2.3 2.3l-2.3 -2.3zM597.2 156.5l2.3 2.3l-2.3 2.3l-2.3 -2.3zM597.4 160.7l2.3 2.3l-2.3 2.3l-2.3 -2.3zM597.1 165.7l2.3 2.3l-2.3 2.3l-2.3 -2.3zM596.9 170.2l2.3 2.3l-2.3 2.3l-2.3 -2.3zM597 173.7l2.3 2.3l-2.3 2.3l-2.3 -2.3zM597.4 177l2.3 2.3l-2.3 2.3l-2.3 -2.3zM597 180.5l2.3 2.3l-2.3 2.3l-2.3 -2.3zM597.3 184.3l2.3 2.3l-2.3 2.3l-2.3 -2.3zM597.4 188.2l2.3 2.3l-2.3 2.3l-2.3 -2.3zM597.3 191.7l2.3 2.3l-2.3 2.3l-2.3 -2.3zM597.3 195.8l2.3 2.3l-2.3 2.3l-2.3 -2.3zM597.2 199.5l2.3 2.3l-2.3 2.3l-2.3 -2.3zM597.3 201.4l2.1 2.1l-2.1 2.1l-2.1 -2.1zM597.4 202.7l2.1 2.1l-2.1 2.1l-2.1 -2.1zM596.8 204.7l2.1 2.1l-2.1 2.1l-2.1 -2.1zM597.4 206.3l2.1 2.1l-2.1 2.1l-2.1 -2.1zM597.2 208l2.1 2.1l-2.1 2.1l-2.1 -2.1zM597.5 210l2.1 2.1l-2.1 2.1l-2.1 -2.1zM597.5 212l2.1 2.1l-2.1 2.1l-2.1 -2.1zM597 213.9l2.1 2.1l-2.1 2.1l-2.1 -2.1zM597.6 215.4l2.1 2.1l-2.1 2.1l-2.1 -2.1zM596.8 217.2l2.1 2.1l-2.1 2.1l-2.1 -2.1zM597.3 218.6l2.1 2.1l-2.1 2.1l-2.1 -2.1zM597.2 220.2l2.1 2.1l-2.1 2.1l-2.1 -2.1zM597.2 222l2.1 2.1l-2.1 2.1l-2.1 -2.1zM596.9 223.9l2.1 2.1l-2.1 2.1l-2.1 -2.1zM596.9 225.6l2.1 2.1l-2.1 2.1l-2.1 -2.1zM596.7 223.1l2 2l-2 2l-2 -2zM597.8 224.8l2 2l-2 2l-2 -2zM596.5 224.9l2 2l-2 2l-2 -2zM596.5 223.7l2 2l-2 2l-2 -2zM597.5 225.9l2 2l-2 2l-2 -2zM597.1 225.9l2 2l-2 2l-2 -2zM596.4 224.2l2 2l-2 2l-2 -2zM596.2 224.1l2 2l-2 2l-2 -2zM603.2 69.7l2.5 2.5l-2.5 2.5l-2.5 -2.5zM603 71.3l2.3 2.3l-2.3 2.3l-2.3 -2.3zM603.3 72.9l2.3 2.3l-2.3 2.3l-2.3 -2.3zM603.1 74.6l2.3 2.3l-2.3 2.3l-2.3 -2.3zM603.3 76.5l2.3 2.3l-2.3 2.3l-2.3 -2.3zM603.2 78.1l2.3 2.3l-2.3 2.3l-2.3 -2.3zM603.3 79.6l2.3 2.3l-2.3 2.3l-2.3 -2.3zM603 82.6l2.3 2.3l-2.3 2.3l-2.3 -2.3zM602.9 85.5l2.3 2.3l-2.3 2.3l-2.3 -2.3zM603.1 88l2.3 2.3l-2.3 2.3l-2.3 -2.3zM603.1 91l2.3 2.3l-2.3 2.3l-2.3 -2.3zM603.3 93.6l2.3 2.3l-2.3 2.3l-2.3 -2.3zM602.9 96.6l2.3 2.3l-2.3 2.3l-2.3 -2.3zM603.5 101.8l2.3 2.3l-2.3 2.3l-2.3 -2.3zM603 104.5l2.3 2.3l-2.3 2.3l-2.3 -2.3zM603.3 108.4l2.3 2.3l-2.3 2.3l-2.3 -2.3zM603.1 111l2.3 2.3l-2.3 2.3l-2.3 -2.3zM603.4 113.5l2.3 2.3l-2.3 2.3l-2.3 -2.3zM603.2 118.3l2.3 2.3l-2.3 2.3l-2.3 -2.3zM603 122.4l2.3 2.3l-2.3 2.3l-2.3 -2.3zM603 126.5l2.3 2.3l-2.3 2.3l-2.3 -2.3zM603.2 131.2l2.3 2.3l-2.3 2.3l-2.3 -2.3zM603.4 136.2l2.3 2.3l-2.3 2.3l-2.3 -2.3zM603 140.6l2.3 2.3l-2.3 2.3l-2.3 -2.3zM603.1 144.5l2.3 2.3l-2.3 2.3l-2.3 -2.3zM603 147.1l2.3 2.3l-2.3 2.3l-2.3 -2.3zM603.1 151.5l2.3 2.3l-2.3 2.3l-2.3 -2.3zM603.4 155.9l2.3 2.3l-2.3 2.3l-2.3 -2.3zM603.1 159.8l2.3 2.3l-2.3 2.3l-2.3 -2.3zM603 165l2.3 2.3l-2.3 2.3l-2.3 -2.3zM603.3 167.5l2.3 2.3l-2.3 2.3l-2.3 -2.3zM603.3 170.8l2.3 2.3l-2.3 2.3l-2.3 -2.3zM603.2 174.1l2.3 2.3l-2.3 2.3l-2.3 -2.3zM603.3 177.4l2.3 2.3l-2.3 2.3l-2.3 -2.3zM603.1 180.6l2.3 2.3l-2.3 2.3l-2.3 -2.3zM603.3 183.6l2.3 2.3l-2.3 2.3l-2.3 -2.3zM603.3 187.1l2.3 2.3l-2.3 2.3l-2.3 -2.3zM603 190.2l2.3 2.3l-2.3 2.3l-2.3 -2.3zM603.4 193.4l2.3 2.3l-2.3 2.3l-2.3 -2.3zM603.1 196.6l2.3 2.3l-2.3 2.3l-2.3 -2.3zM603.4 200l2.3 2.3l-2.3 2.3l-2.3 -2.3zM603 201.8l2.1 2.1l-2.1 2.1l-2.1 -2.1zM603.1 203.6l2.1 2.1l-2.1 2.1l-2.1 -2.1zM603 205l2.1 2.1l-2.1 2.1l-2.1 -2.1zM603.2 206.5l2.1 2.1l-2.1 2.1l-2.1 -2.1zM603.5 208l2.1 2.1l-2.1 2.1l-2.1 -2.1zM603.3 210l2.1 2.1l-2.1 2.1l-2.1 -2.1zM602.9 211.6l2.1 2.1l-2.1 2.1l-2.1 -2.1zM603.4 213.3l2.1 2.1l-2.1 2.1l-2.1 -2.1zM603.1 214.7l2.1 2.1l-2.1 2.1l-2.1 -2.1zM602.9 216.5l2.1 2.1l-2.1 2.1l-2.1 -2.1zM603.2 218.2l2.1 2.1l-2.1 2.1l-2.1 -2.1zM603.5 219.5l2.1 2.1l-2.1 2.1l-2.1 -2.1zM603.1 221.2l2.1 2.1l-2.1 2.1l-2.1 -2.1zM603.5 223.1l2.1 2.1l-2.1 2.1l-2.1 -2.1zM603.1 224.9l2.1 2.1l-2.1 2.1l-2.1 -2.1zM603.3 223.6l2 2l-2 2l-2 -2zM603.5 222.3l2 2l-2 2l-2 -2zM603.3 222.7l2 2l-2 2l-2 -2zM603.3 221.7l2 2l-2 2l-2 -2zM603 221.9l2 2l-2 2l-2 -2zM604.1 221.2l2 2l-2 2l-2 -2zM602.8 224.1l2 2l-2 2l-2 -2zM603.9 224.6l2 2l-2 2l-2 -2zM609.1 68.8l2.5 2.5l-2.5 2.5l-2.5 -2.5zM609.4 70.8l2.3 2.3l-2.3 2.3l-2.3 -2.3zM609.1 72.3l2.3 2.3l-2.3 2.3l-2.3 -2.3zM609.1 73.9l2.3 2.3l-2.3 2.3l-2.3 -2.3zM609.4 75.5l2.3 2.3l-2.3 2.3l-2.3 -2.3zM609.2 77l2.3 2.3l-2.3 2.3l-2.3 -2.3zM609.3 78.9l2.3 2.3l-2.3 2.3l-2.3 -2.3zM609.1 82.1l2.3 2.3l-2.3 2.3l-2.3 -2.3zM608.9 85.2l2.3 2.3l-2.3 2.3l-2.3 -2.3zM609.4 88.3l2.3 2.3l-2.3 2.3l-2.3 -2.3zM609.1 91.1l2.3 2.3l-2.3 2.3l-2.3 -2.3zM608.9 93.9l2.3 2.3l-2.3 2.3l-2.3 -2.3zM608.9 96.8l2.3 2.3l-2.3 2.3l-2.3 -2.3zM609.1 101l2.3 2.3l-2.3 2.3l-2.3 -2.3zM609 105.7l2.3 2.3l-2.3 2.3l-2.3 -2.3zM609 110.5l2.3 2.3l-2.3 2.3l-2.3 -2.3zM609.1 112.9l2.3 2.3l-2.3 2.3l-2.3 -2.3zM608.9 118l2.3 2.3l-2.3 2.3l-2.3 -2.3zM609.3 123.2l2.3 2.3l-2.3 2.3l-2.3 -2.3zM609 127.7l2.3 2.3l-2.3 2.3l-2.3 -2.3zM609.2 130.2l2.3 2.3l-2.3 2.3l-2.3 -2.3zM609.1 132.8l2.3 2.3l-2.3 2.3l-2.3 -2.3zM609.1 136.9l2.3 2.3l-2.3 2.3l-2.3 -2.3zM609.3 139.3l2.3 2.3l-2.3 2.3l-2.3 -2.3zM609 143.2l2.3 2.3l-2.3 2.3l-2.3 -2.3zM609.2 147.6l2.3 2.3l-2.3 2.3l-2.3 -2.3zM609.4 152.8l2.3 2.3l-2.3 2.3l-2.3 -2.3zM609 158l2.3 2.3l-2.3 2.3l-2.3 -2.3zM609.1 162.8l2.3 2.3l-2.3 2.3l-2.3 -2.3zM609 167.8l2.3 2.3l-2.3 2.3l-2.3 -2.3zM609 171.6l2.3 2.3l-2.3 2.3l-2.3 -2.3zM609 175.8l2.3 2.3l-2.3 2.3l-2.3 -2.3zM609 179.7l2.3 2.3l-2.3 2.3l-2.3 -2.3zM608.9 183l2.3 2.3l-2.3 2.3l-2.3 -2.3zM609.1 186.5l2.3 2.3l-2.3 2.3l-2.3 -2.3zM609.3 190.5l2.3 2.3l-2.3 2.3l-2.3 -2.3zM609 194.6l2.3 2.3l-2.3 2.3l-2.3 -2.3zM609.3 198.5l2.3 2.3l-2.3 2.3l-2.3 -2.3zM609.4 201.6l2.3 2.3l-2.3 2.3l-2.3 -2.3zM608.9 203.7l2.1 2.1l-2.1 2.1l-2.1 -2.1zM609 205.5l2.1 2.1l-2.1 2.1l-2.1 -2.1zM608.8 207l2.1 2.1l-2.1 2.1l-2.1 -2.1zM609.3 208.8l2.1 2.1l-2.1 2.1l-2.1 -2.1zM608.9 210.5l2.1 2.1l-2.1 2.1l-2.1 -2.1zM609.3 212.3l2.1 2.1l-2.1 2.1l-2.1 -2.1zM609.5 213.8l2.1 2.1l-2.1 2.1l-2.1 -2.1zM608.8 215.4l2.1 2.1l-2.1 2.1l-2.1 -2.1zM608.9 217.3l2.1 2.1l-2.1 2.1l-2.1 -2.1zM609.1 218.6l2.1 2.1l-2.1 2.1l-2.1 -2.1zM609 220l2.1 2.1l-2.1 2.1l-2.1 -2.1zM609.3 221.6l2.1 2.1l-2.1 2.1l-2.1 -2.1zM608.8 223.2l2.1 2.1l-2.1 2.1l-2.1 -2.1zM609.1 224.5l2.1 2.1l-2.1 2.1l-2.1 -2.1zM609.1 225.9l2.1 2.1l-2.1 2.1l-2.1 -2.1zM609.5 223.1l2 2l-2 2l-2 -2zM609.2 221.1l2 2l-2 2l-2 -2zM608.4 221l2 2l-2 2l-2 -2zM609.4 225.9l2 2l-2 2l-2 -2zM609.8 222.3l2 2l-2 2l-2 -2zM608.6 225.9l2 2l-2 2l-2 -2zM610 223.9l2 2l-2 2l-2 -2zM609.2 223l2 2l-2 2l-2 -2zM615.1 70.6l2.5 2.5l-2.5 2.5l-2.5 -2.5zM615 72.3l2.3 2.3l-2.3 2.3l-2.3 -2.3zM615.1 74l2.3 2.3l-2.3 2.3l-2.3 -2.3zM614.9 76l2.3 2.3l-2.3 2.3l-2.3 -2.3zM615.4 77.4l2.3 2.3l-2.3 2.3l-2.3 -2.3zM615 79.2l2.3 2.3l-2.3 2.3l-2.3 -2.3zM615.2 80.9l2.3 2.3l-2.3 2.3l-2.3 -2.3zM615 83.3l2.3 2.3l-2.3 2.3l-2.3 -2.3zM615.4 86.2l2.3 2.3l-2.3 2.3l-2.3 -2.3zM615 88.9l2.3 2.3l-2.3 2.3l-2.3 -2.3zM614.9 92.1l2.3 2.3l-2.3 2.3l-2.3 -2.3zM615.1 95.1l2.3 2.3l-2.3 2.3l-2.3 -2.3zM615.3 97.9l2.3 2.3l-2.3 2.3l-2.3 -2.3zM615 103.3l2.3 2.3l-2.3 2.3l-2.3 -2.3zM615.2 107.9l2.3 2.3l-2.3 2.3l-2.3 -2.3zM614.9 112.4l2.3 2.3l-2.3 2.3l-2.3 -2.3zM615.1 116.9l2.3 2.3l-2.3 2.3l-2.3 -2.3zM615 122.1l2.3 2.3l-2.3 2.3l-2.3 -2.3zM615.2 124.8l2.3 2.3l-2.3 2.3l-2.3 -2.3zM615 128.7l2.3 2.3l-2.3 2.3l-2.3 -2.3zM615.3 133.9l2.3 2.3l-2.3 2.3l-2.3 -2.3zM615.4 138.5l2.3 2.3l-2.3 2.3l-2.3 -2.3zM615.3 143.1l2.3 2.3l-2.3 2.3l-2.3 -2.3zM615.3 147.7l2.3 2.3l-2.3 2.3l-2.3 -2.3zM615.2 152.3l2.3 2.3l-2.3 2.3l-2.3 -2.3zM615.4 157.3l2.3 2.3l-2.3 2.3l-2.3 -2.3zM615.2 162l2.3 2.3l-2.3 2.3l-2.3 -2.3zM614.9 164.5l2.3 2.3l-2.3 2.3l-2.3 -2.3zM614.9 167.2l2.3 2.3l-2.3 2.3l-2.3 -2.3zM615.1 171.3l2.3 2.3l-2.3 2.3l-2.3 -2.3zM615.1 174.9l2.3 2.3l-2.3 2.3l-2.3 -2.3zM615.1 178.3l2.3 2.3l-2.3 2.3l-2.3 -2.3zM614.9 181.4l2.3 2.3l-2.3 2.3l-2.3 -2.3zM615.4 185.2l2.3 2.3l-2.3 2.3l-2.3 -2.3zM615.2 189.1l2.3 2.3l-2.3 2.3l-2.3 -2.3zM615 192.7l2.3 2.3l-2.3 2.3l-2.3 -2.3zM614.9 196.8l2.3 2.3l-2.3 2.3l-2.3 -2.3zM615.2 200.4l2.3 2.3l-2.3 2.3l-2.3 -2.3zM615 202.1l2.1 2.1l-2.1 2.1l-2.1 -2.1zM614.7 203.9l2.1 2.1l-2.1 2.1l-2.1 -2.1zM614.8 205.8l2.1 2.1l-2.1 2.1l-2.1 -2.1zM614.8 207.1l2.1 2.1l-2.1 2.1l-2.1 -2.1zM615.3 208.6l2.1 2.1l-2.1 2.1l-2.1 -2.1zM615.4 210l2.1 2.1l-2.1 2.1l-2.1 -2.1zM614.8 211.6l2.1 2.1l-2.1 2.1l-2.1 -2.1zM615.1 213.3l2.1 2.1l-2.1 2.1l-2.1 -2.1zM614.9 214.9l2.1 2.1l-2.1 2.1l-2.1 -2.1zM615.4 216.4l2.1 2.1l-2.1 2.1l-2.1 -2.1zM614.9 218.2l2.1 2.1l-2.1 2.1l-2.1 -2.1zM615.3 220l2.1 2.1l-2.1 2.1l-2.1 -2.1zM615.5 221.4l2.1 2.1l-2.1 2.1l-2.1 -2.1zM615.4 223l2.1 2.1l-2.1 2.1l-2.1 -2.1zM615.5 224.8l2.1 2.1l-2.1 2.1l-2.1 -2.1zM615.5 226.1l2.1 2.1l-2.1 2.1l-2.1 -2.1zM614.9 222.9l2 2l-2 2l-2 -2zM615.6 221.4l2 2l-2 2l-2 -2zM614.1 222.9l2 2l-2 2l-2 -2zM614.8 222.5l2 2l-2 2l-2 -2zM615.6 224l2 2l-2 2l-2 -2zM615.9 222.5l2 2l-2 2l-2 -2zM615.9 225l2 2l-2 2l-2 -2zM614.1 223.8l2 2l-2 2l-2 -2zM621.1 69.1l2.5 2.5l-2.5 2.5l-2.5 -2.5zM620.9 71.2l2.3 2.3l-2.3 2.3l-2.3 -2.3zM621.1 73l2.3 2.3l-2.3 2.3l-2.3 -2.3zM621 74.4l2.3 2.3l-2.3 2.3l-2.3 -2.3zM621.2 75.8l2.3 2.3l-2.3 2.3l-2.3 -2.3zM621 77.3l2.3 2.3l-2.3 2.3l-2.3 -2.3zM621.1 79.2l2.3 2.3l-2.3 2.3l-2.3 -2.3zM620.9 82l2.3 2.3l-2.3 2.3l-2.3 -2.3zM621.2 85.1l2.3 2.3l-2.3 2.3l-2.3 -2.3zM621.2 87.8l2.3 2.3l-2.3 2.3l-2.3 -2.3zM621.2 90.5l2.3 2.3l-2.3 2.3l-2.3 -2.3zM621 93.2l2.3 2.3l-2.3 2.3l-2.3 -2.3zM621.3 95.9l2.3 2.3l-2.3 2.3l-2.3 -2.3zM621.4 100.8l2.3 2.3l-2.3 2.3l-2.3 -2.3zM621.2 106l2.3 2.3l-2.3 2.3l-2.3 -2.3zM621.3 110l2.3 2.3l-2.3 2.3l-2.3 -2.3zM621.1 114.6l2.3 2.3l-2.3 2.3l-2.3 -2.3zM621.1 119.9l2.3 2.3l-2.3 2.3l-2.3 -2.3zM620.9 122.6l2.3 2.3l-2.3 2.3l-2.3 -2.3zM621.1 127.4l2.3 2.3l-2.3 2.3l-2.3 -2.3zM620.9 131.8l2.3 2.3l-2.3 2.3l-2.3 -2.3zM620.9 134.4l2.3 2.3l-2.3 2.3l-2.3 -2.3zM621 138.3l2.3 2.3l-2.3 2.3l-2.3 -2.3zM621 142.5l2.3 2.3l-2.3 2.3l-2.3 -2.3zM621.4 147.8l2.3 2.3l-2.3 2.3l-2.3 -2.3zM621.2 152.1l2.3 2.3l-2.3 2.3l-2.3 -2.3zM621.1 157.2l2.3 2.3l-2.3 2.3l-2.3 -2.3zM621.1 161.5l2.3 2.3l-2.3 2.3l-2.3 -2.3zM621.4 165.9l2.3 2.3l-2.3 2.3l-2.3 -2.3zM621 171.2l2.3 2.3l-2.3 2.3l-2.3 -2.3zM621 175.2l2.3 2.3l-2.3 2.3l-2.3 -2.3zM621.4 179.1l2.3 2.3l-2.3 2.3l-2.3 -2.3zM620.9 182.5l2.3 2.3l-2.3 2.3l-2.3 -2.3zM621.3 186.4l2.3 2.3l-2.3 2.3l-2.3 -2.3zM620.9 190.6l2.3 2.3l-2.3 2.3l-2.3 -2.3zM620.9 194.7l2.3 2.3l-2.3 2.3l-2.3 -2.3zM620.8 198.4l2.3 2.3l-2.3 2.3l-2.3 -2.3zM621.3 202.1l2.3 2.3l-2.3 2.3l-2.3 -2.3zM620.8 203.8l2.1 2.1l-2.1 2.1l-2.1 -2.1zM621.2 205.4l2.1 2.1l-2.1 2.1l-2.1 -2.1zM621 207.3l2.1 2.1l-2.1 2.1l-2.1 -2.1zM621.5 209.1l2.1 2.1l-2.1 2.1l-2.1 -2.1zM621.1 210.8l2.1 2.1l-2.1 2.1l-2.1 -2.1zM621 212.7l2.1 2.1l-2.1 2.1l-2.1 -2.1zM621.1 214.2l2.1 2.1l-2.1 2.1l-2.1 -2.1zM621 215.8l2.1 2.1l-2.1 2.1l-2.1 -2.1zM621.3 217.7l2.1 2.1l-2.1 2.1l-2.1 -2.1zM621 219.5l2.1 2.1l-2.1 2.1l-2.1 -2.1zM621.3 221.3l2.1 2.1l-2.1 2.1l-2.1 -2.1zM621 222.9l2.1 2.1l-2.1 2.1l-2.1 -2.1zM621.2 224.6l2.1 2.1l-2.1 2.1l-2.1 -2.1zM620.8 226.6l2.1 2.1l-2.1 2.1l-2.1 -2.1zM622.2 225.2l2 2l-2 2l-2 -2zM621.6 224.8l2 2l-2 2l-2 -2zM621.1 224.6l2 2l-2 2l-2 -2zM621.4 225.7l2 2l-2 2l-2 -2zM620.4 222.5l2 2l-2 2l-2 -2zM621.2 224.3l2 2l-2 2l-2 -2zM620.5 225.8l2 2l-2 2l-2 -2zM620.2 224.8l2 2l-2 2l-2 -2zM627.1 71.5l2.5 2.5l-2.5 2.5l-2.5 -2.5zM626.9 73.2l2.3 2.3l-2.3 2.3l-2.3 -2.3zM627 74.7l2.3 2.3l-2.3 2.3l-2.3 -2.3zM627 76.5l2.3 2.3l-2.3 2.3l-2.3 -2.3zM627 78.3l2.3 2.3l-2.3 2.3l-2.3 -2.3zM627.1 79.7l2.3 2.3l-2.3 2.3l-2.3 -2.3zM626.9 81.2l2.3 2.3l-2.3 2.3l-2.3 -2.3zM627.2 84.4l2.3 2.3l-2.3 2.3l-2.3 -2.3zM627.2 87l2.3 2.3l-2.3 2.3l-2.3 -2.3zM627.3 89.9l2.3 2.3l-2.3 2.3l-2.3 -2.3zM627.4 92.4l2.3 2.3l-2.3 2.3l-2.3 -2.3zM627.2 95.5l2.3 2.3l-2.3 2.3l-2.3 -2.3zM627.4 98.2l2.3 2.3l-2.3 2.3l-2.3 -2.3zM627.4 102.5l2.3 2.3l-2.3 2.3l-2.3 -2.3zM626.9 104.9l2.3 2.3l-2.3 2.3l-2.3 -2.3zM627 109.1l2.3 2.3l-2.3 2.3l-2.3 -2.3zM626.9 111.9l2.3 2.3l-2.3 2.3l-2.3 -2.3zM627 116.7l2.3 2.3l-2.3 2.3l-2.3 -2.3zM627.1 119.4l2.3 2.3l-2.3 2.3l-2.3 -2.3zM627 123.3l2.3 2.3l-2.3 2.3l-2.3 -2.3zM627.2 128.1l2.3 2.3l-2.3 2.3l-2.3 -2.3zM627.2 130.6l2.3 2.3l-2.3 2.3l-2.3 -2.3zM627.1 134.5l2.3 2.3l-2.3 2.3l-2.3 -2.3zM627 139.8l2.3 2.3l-2.3 2.3l-2.3 -2.3zM627.2 144.1l2.3 2.3l-2.3 2.3l-2.3 -2.3zM626.9 148l2.3 2.3l-2.3 2.3l-2.3 -2.3zM626.9 152.4l2.3 2.3l-2.3 2.3l-2.3 -2.3zM627.3 157.1l2.3 2.3l-2.3 2.3l-2.3 -2.3zM627.1 161.4l2.3 2.3l-2.3 2.3l-2.3 -2.3zM627.2 166.6l2.3 2.3l-2.3 2.3l-2.3 -2.3zM626.8 171l2.3 2.3l-2.3 2.3l-2.3 -2.3zM627.1 174.6l2.3 2.3l-2.3 2.3l-2.3 -2.3zM627.3 178.6l2.3 2.3l-2.3 2.3l-2.3 -2.3zM627.3 181.7l2.3 2.3l-2.3 2.3l-2.3 -2.3zM626.9 185.7l2.3 2.3l-2.3 2.3l-2.3 -2.3zM627.2 189.6l2.3 2.3l-2.3 2.3l-2.3 -2.3zM627.3 193.5l2.3 2.3l-2.3 2.3l-2.3 -2.3zM626.8 197.7l2.3 2.3l-2.3 2.3l-2.3 -2.3zM627.4 201.6l2.3 2.3l-2.3 2.3l-2.3 -2.3zM627.1 203.5l2.1 2.1l-2.1 2.1l-2.1 -2.1zM627.5 204.9l2.1 2.1l-2.1 2.1l-2.1 -2.1zM627.5 206.8l2.1 2.1l-2.1 2.1l-2.1 -2.1zM626.8 208.2l2.1 2.1l-2.1 2.1l-2.1 -2.1zM626.9 209.5l2.1 2.1l-2.1 2.1l-2.1 -2.1zM627.2 211.2l2.1 2.1l-2.1 2.1l-2.1 -2.1zM627.4 212.5l2.1 2.1l-2.1 2.1l-2.1 -2.1zM626.7 214.5l2.1 2.1l-2.1 2.1l-2.1 -2.1zM626.9 215.8l2.1 2.1l-2.1 2.1l-2.1 -2.1zM627.3 217.4l2.1 2.1l-2.1 2.1l-2.1 -2.1zM627 219l2.1 2.1l-2.1 2.1l-2.1 -2.1zM627.5 220.6l2.1 2.1l-2.1 2.1l-2.1 -2.1zM627.3 222.2l2.1 2.1l-2.1 2.1l-2.1 -2.1zM627.4 223.8l2.1 2.1l-2.1 2.1l-2.1 -2.1zM627.5 225.2l2.1 2.1l-2.1 2.1l-2.1 -2.1zM627.4 223.9l2 2l-2 2l-2 -2zM626.5 223.6l2 2l-2 2l-2 -2zM627.7 222.3l2 2l-2 2l-2 -2zM626.4 222.6l2 2l-2 2l-2 -2zM626.4 223.6l2 2l-2 2l-2 -2zM628.1 224.5l2 2l-2 2l-2 -2zM628 222.4l2 2l-2 2l-2 -2zM627.6 223.5l2 2l-2 2l-2 -2zM633.1 70l2.5 2.5l-2.5 2.5l-2.5 -2.5zM633 71.7l2.3 2.3l-2.3 2.3l-2.3 -2.3zM633.3 73.6l2.3 2.3l-2.3 2.3l-2.3 -2.3zM633.3 75.1l2.3 2.3l-2.3 2.3l-2.3 -2.3zM633.3 76.7l2.3 2.3l-2.3 2.3l-2.3 -2.3zM633 78.6l2.3 2.3l-2.3 2.3l-2.3 -2.3zM632.9 80.2l2.3 2.3l-2.3 2.3l-2.3 -2.3zM633 83.3l2.3 2.3l-2.3 2.3l-2.3 -2.3zM632.9 85.8l2.3 2.3l-2.3 2.3l-2.3 -2.3zM633.1 89l2.3 2.3l-2.3 2.3l-2.3 -2.3zM633.3 91.6l2.3 2.3l-2.3 2.3l-2.3 -2.3zM632.8 94.8l2.3 2.3l-2.3 2.3l-2.3 -2.3zM633.4 97.6l2.3 2.3l-2.3 2.3l-2.3 -2.3zM633.1 100.2l2.3 2.3l-2.3 2.3l-2.3 -2.3zM633.1 104.8l2.3 2.3l-2.3 2.3l-2.3 -2.3zM633 109.1l2.3 2.3l-2.3 2.3l-2.3 -2.3zM633.2 113.8l2.3 2.3l-2.3 2.3l-2.3 -2.3zM633.2 117.9l2.3 2.3l-2.3 2.3l-2.3 -2.3zM633.1 123.2l2.3 2.3l-2.3 2.3l-2.3 -2.3zM633.1 127.7l2.3 2.3l-2.3 2.3l-2.3 -2.3zM633 131.8l2.3 2.3l-2.3 2.3l-2.3 -2.3zM633.3 136.5l2.3 2.3l-2.3 2.3l-2.3 -2.3zM633 140.8l2.3 2.3l-2.3 2.3l-2.3 -2.3zM633.1 145.6l2.3 2.3l-2.3 2.3l-2.3 -2.3zM633.3 149.8l2.3 2.3l-2.3 2.3l-2.3 -2.3zM633 154.6l2.3 2.3l-2.3 2.3l-2.3 -2.3zM633 159.8l2.3 2.3l-2.3 2.3l-2.3 -2.3zM633.3 165.2l2.3 2.3l-2.3 2.3l-2.3 -2.3zM633 170.1l2.3 2.3l-2.3 2.3l-2.3 -2.3zM633.3 173.4l2.3 2.3l-2.3 2.3l-2.3 -2.3zM633.3 177.2l2.3 2.3l-2.3 2.3l-2.3 -2.3zM633.1 180.5l2.3 2.3l-2.3 2.3l-2.3 -2.3zM633.1 183.8l2.3 2.3l-2.3 2.3l-2.3 -2.3zM632.9 187.3l2.3 2.3l-2.3 2.3l-2.3 -2.3zM633 190.6l2.3 2.3l-2.3 2.3l-2.3 -2.3zM633.2 194.4l2.3 2.3l-2.3 2.3l-2.3 -2.3zM633.3 197.7l2.3 2.3l-2.3 2.3l-2.3 -2.3zM633.2 200.9l2.3 2.3l-2.3 2.3l-2.3 -2.3zM633.3 203l2.1 2.1l-2.1 2.1l-2.1 -2.1zM633.2 204.9l2.1 2.1l-2.1 2.1l-2.1 -2.1zM633.5 206.9l2.1 2.1l-2.1 2.1l-2.1 -2.1zM633.5 208.3l2.1 2.1l-2.1 2.1l-2.1 -2.1zM633.1 209.9l2.1 2.1l-2.1 2.1l-2.1 -2.1zM633.1 211.8l2.1 2.1l-2.1 2.1l-2.1 -2.1zM633.3 213.6l2.1 2.1l-2.1 2.1l-2.1 -2.1zM633 215l2.1 2.1l-2.1 2.1l-2.1 -2.1zM633.3 216.7l2.1 2.1l-2.1 2.1l-2.1 -2.1zM633.2 218.5l2.1 2.1l-2.1 2.1l-2.1 -2.1zM633.2 220.2l2.1 2.1l-2.1 2.1l-2.1 -2.1zM633 221.8l2.1 2.1l-2.1 2.1l-2.1 -2.1zM633 223.1l2.1 2.1l-2.1 2.1l-2.1 -2.1zM633.2 224.9l2.1 2.1l-2.1 2.1l-2.1 -2.1zM633 222.4l2 2l-2 2l-2 -2zM633.5 222.9l2 2l-2 2l-2 -2zM632.6 225l2 2l-2 2l-2 -2zM633.5 225.5l2 2l-2 2l-2 -2zM632.4 223.1l2 2l-2 2l-2 -2zM633.5 224.2l2 2l-2 2l-2 -2zM633.2 223.6l2 2l-2 2l-2 -2zM632.7 225.5l2 2l-2 2l-2 -2z" fill="#0b0b82"/>
<rect x="511.5" y="225.8" width="124" height="3.8" fill="#0b0b82"/>
<line x1="41.5" y1="284.5" x2="333.5" y2="284.5" stroke="#555" stroke-width="1.1"/>
<line x1="333.5" y1="284.5" x2="333.5" y2="506.5" stroke="#555" stroke-width="1.1"/>
<line x1="41.5" y1="506.5" x2="333.5" y2="506.5" stroke="#444" stroke-width="1.3"/>
<line x1="41.5" y1="284" x2="41.5" y2="509.5" stroke="#444" stroke-width="1.3"/>
<line x1="39.2" y1="506.6" x2="41.7" y2="506.6" stroke="#444" stroke-width="1"/>
<line x1="39.2" y1="498.7" x2="41.7" y2="498.7" stroke="#444" stroke-width="1"/>
<line x1="39.2" y1="490.8" x2="41.7" y2="490.8" stroke="#444" stroke-width="1"/>
<line x1="39.2" y1="482.9" x2="41.7" y2="482.9" stroke="#444" stroke-width="1"/>
<line x1="39.2" y1="474.9" x2="41.7" y2="474.9" stroke="#444" stroke-width="1"/>
<line x1="39.2" y1="467" x2="41.7" y2="467" stroke="#444" stroke-width="1"/>
<line x1="39.2" y1="459.1" x2="41.7" y2="459.1" stroke="#444" stroke-width="1"/>
<line x1="39.2" y1="451.2" x2="41.7" y2="451.2" stroke="#444" stroke-width="1"/>
<line x1="39.2" y1="443.3" x2="41.7" y2="443.3" stroke="#444" stroke-width="1"/>
<line x1="39.2" y1="435.4" x2="41.7" y2="435.4" stroke="#444" stroke-width="1"/>
<line x1="39.2" y1="427.5" x2="41.7" y2="427.5" stroke="#444" stroke-width="1"/>
<line x1="39.2" y1="419.5" x2="41.7" y2="419.5" stroke="#444" stroke-width="1"/>
<line x1="39.2" y1="411.6" x2="41.7" y2="411.6" stroke="#444" stroke-width="1"/>
<line x1="39.2" y1="403.7" x2="41.7" y2="403.7" stroke="#444" stroke-width="1"/>
<line x1="39.2" y1="395.8" x2="41.7" y2="395.8" stroke="#444" stroke-width="1"/>
<line x1="39.2" y1="387.9" x2="41.7" y2="387.9" stroke="#444" stroke-width="1"/>
<line x1="39.2" y1="380" x2="41.7" y2="380" stroke="#444" stroke-width="1"/>
<line x1="39.2" y1="372.1" x2="41.7" y2="372.1" stroke="#444" stroke-width="1"/>
<line x1="39.2" y1="364.1" x2="41.7" y2="364.1" stroke="#444" stroke-width="1"/>
<line x1="39.2" y1="356.2" x2="41.7" y2="356.2" stroke="#444" stroke-width="1"/>
<line x1="39.2" y1="348.3" x2="41.7" y2="348.3" stroke="#444" stroke-width="1"/>
<line x1="39.2" y1="340.4" x2="41.7" y2="340.4" stroke="#444" stroke-width="1"/>
<line x1="39.2" y1="332.5" x2="41.7" y2="332.5" stroke="#444" stroke-width="1"/>
<line x1="39.2" y1="324.6" x2="41.7" y2="324.6" stroke="#444" stroke-width="1"/>
<line x1="39.2" y1="316.7" x2="41.7" y2="316.7" stroke="#444" stroke-width="1"/>
<line x1="39.2" y1="308.7" x2="41.7" y2="308.7" stroke="#444" stroke-width="1"/>
<line x1="39.2" y1="300.8" x2="41.7" y2="300.8" stroke="#444" stroke-width="1"/>
<line x1="39.2" y1="292.9" x2="41.7" y2="292.9" stroke="#444" stroke-width="1"/>
<line x1="39.2" y1="285" x2="41.7" y2="285" stroke="#444" stroke-width="1"/>
<text x="33.8" y="510.4" font-size="10.6" font-weight="normal" text-anchor="end" fill="#111" font-family='"Liberation Sans", sans-serif' stroke="#111" stroke-width="0.4">0</text>
<text x="33.8" y="478.7" font-size="10.6" font-weight="normal" text-anchor="end" fill="#111" font-family='"Liberation Sans", sans-serif' stroke="#111" stroke-width="0.4">20</text>
<text x="33.8" y="447.1" font-size="10.6" font-weight="normal" text-anchor="end" fill="#111" font-family='"Liberation Sans", sans-serif' stroke="#111" stroke-width="0.4">40</text>
<text x="33.8" y="415.4" font-size="10.6" font-weight="normal" text-anchor="end" fill="#111" font-family='"Liberation Sans", sans-serif' stroke="#111" stroke-width="0.4">60</text>
<text x="33.8" y="383.8" font-size="10.6" font-weight="normal" text-anchor="end" fill="#111" font-family='"Liberation Sans", sans-serif' stroke="#111" stroke-width="0.4">80</text>
<text x="33.8" y="352.1" font-size="10.6" font-weight="normal" text-anchor="end" fill="#111" font-family='"Liberation Sans", sans-serif' stroke="#111" stroke-width="0.4">100</text>
<text x="33.8" y="320.5" font-size="10.6" font-weight="normal" text-anchor="end" fill="#111" font-family='"Liberation Sans", sans-serif' stroke="#111" stroke-width="0.4">120</text>
<text x="33.8" y="288.8" font-size="10.6" font-weight="normal" text-anchor="end" fill="#111" font-family='"Liberation Sans", sans-serif' stroke="#111" stroke-width="0.4">140</text>
<line x1="41.7" y1="506.6" x2="41.7" y2="509.6" stroke="#444" stroke-width="1"/>
<line x1="59.9" y1="506.6" x2="59.9" y2="509.6" stroke="#444" stroke-width="1"/>
<line x1="78.2" y1="506.6" x2="78.2" y2="509.6" stroke="#444" stroke-width="1"/>
<line x1="96.4" y1="506.6" x2="96.4" y2="509.6" stroke="#444" stroke-width="1"/>
<line x1="114.7" y1="506.6" x2="114.7" y2="509.6" stroke="#444" stroke-width="1"/>
<line x1="133" y1="506.6" x2="133" y2="509.6" stroke="#444" stroke-width="1"/>
<line x1="151.2" y1="506.6" x2="151.2" y2="509.6" stroke="#444" stroke-width="1"/>
<line x1="169.5" y1="506.6" x2="169.5" y2="509.6" stroke="#444" stroke-width="1"/>
<line x1="187.7" y1="506.6" x2="187.7" y2="509.6" stroke="#444" stroke-width="1"/>
<line x1="206" y1="506.6" x2="206" y2="509.6" stroke="#444" stroke-width="1"/>
<line x1="224.3" y1="506.6" x2="224.3" y2="509.6" stroke="#444" stroke-width="1"/>
<line x1="242.5" y1="506.6" x2="242.5" y2="509.6" stroke="#444" stroke-width="1"/>
<line x1="260.8" y1="506.6" x2="260.8" y2="509.6" stroke="#444" stroke-width="1"/>
<line x1="279" y1="506.6" x2="279" y2="509.6" stroke="#444" stroke-width="1"/>
<line x1="297.3" y1="506.6" x2="297.3" y2="509.6" stroke="#444" stroke-width="1"/>
<line x1="315.6" y1="506.6" x2="315.6" y2="509.6" stroke="#444" stroke-width="1"/>
<line x1="333.8" y1="506.6" x2="333.8" y2="509.6" stroke="#444" stroke-width="1"/>
<text x="41.7" y="522.8" font-size="10.2" font-weight="normal" text-anchor="middle" fill="#111" font-family='"Liberation Sans", sans-serif' stroke="#111" stroke-width="0.4">-1,4</text>
<text x="114.7" y="522.8" font-size="10.2" font-weight="normal" text-anchor="middle" fill="#111" font-family='"Liberation Sans", sans-serif' stroke="#111" stroke-width="0.4">-1,0</text>
<text x="206" y="522.8" font-size="10.2" font-weight="normal" text-anchor="middle" fill="#111" font-family='"Liberation Sans", sans-serif' stroke="#111" stroke-width="0.4">-0,5</text>
<text x="297.3" y="522.8" font-size="10.2" font-weight="normal" text-anchor="middle" fill="#111" font-family='"Liberation Sans", sans-serif' stroke="#111" stroke-width="0.4">0,0</text>
<text x="9.8" y="405.2" font-size="10.5" font-weight="bold" text-anchor="middle" fill="#111" font-family='"Liberation Sans", sans-serif' transform="rotate(-90 9.8 405.2)" stroke="#111" stroke-width="0.35">Force [kN]</text>
<text x="182.3" y="541" font-size="11" font-weight="bold" text-anchor="middle" fill="#222" font-family='"Liberation Sans", sans-serif' stroke="#111" stroke-width="0.35">Stroke [mm]</text>
<text x="7.3" y="292.8" font-size="14.5" font-weight="bold" text-anchor="middle" fill="#111" font-family='"Liberation Serif", serif'>(c)</text>
<text x="180.5" y="308.8" font-size="12" font-weight="bold" text-anchor="middle" fill="#333" font-family='"Liberation Sans", sans-serif'>500°C</text>
<text x="247.6" y="308.5" font-size="12" font-weight="normal" text-anchor="middle" fill="#2a2a38" font-family='"Liberation Sans", sans-serif' stroke="#2a2a38" stroke-width="0.45">passes:</text>
<path d="M150.2 502.1l2.2 4.2l-4.4 0zM155.4 502.4l2.2 4.2l-4.4 0zM160.3 502.4l2.2 4.2l-4.4 0zM164.3 501.8l2.2 4.2l-4.4 0zM170.6 502l2.2 4.2l-4.4 0zM175.6 501.3l2.2 4.2l-4.4 0zM180 501.5l2.2 4.2l-4.4 0zM185.1 502l2.2 4.2l-4.4 0zM189.3 501.5l2.2 4.2l-4.4 0zM194.7 502.5l2.2 4.2l-4.4 0zM200.4 501.4l2.2 4.2l-4.4 0zM205.4 501.4l2.2 4.2l-4.4 0zM210.2 501.4l2.2 4.2l-4.4 0zM214.3 502.5l2.2 4.2l-4.4 0zM219.6 501.6l2.2 4.2l-4.4 0zM225.7 502.5l2.2 4.2l-4.4 0zM229.7 502.6l2.2 4.2l-4.4 0zM235.1 502.3l2.2 4.2l-4.4 0zM239.6 502.6l2.2 4.2l-4.4 0zM245.3 502.7l2.2 4.2l-4.4 0zM250.6 501.8l2.2 4.2l-4.4 0zM254.8 501.6l2.2 4.2l-4.4 0zM259.5 501.5l2.2 4.2l-4.4 0zM264.7 502.2l2.2 4.2l-4.4 0zM269.3 502.3l2.2 4.2l-4.4 0zM274.8 501.8l2.2 4.2l-4.4 0zM280.4 502.1l2.2 4.2l-4.4 0zM284.7 502.1l2.2 4.2l-4.4 0zM290.3 501.5l2.2 4.2l-4.4 0zM295.7 501.5l2.2 4.2l-4.4 0zM300.3 502.7l2.2 4.2l-4.4 0z" fill="#fff" fill-opacity="0.6" stroke="#f07098" stroke-width="1.0"/>
<path d="M154.9 504.9h4.8M157.3 502.5v4.8M161.4 504.6h4.8M163.8 502.2v4.8M166.9 503.9h4.8M169.3 501.5v4.8M173.2 505.2h4.8M175.6 502.8v4.8M179.2 504.9h4.8M181.6 502.5v4.8M186.2 505.2h4.8M188.6 502.8v4.8M191.4 504.4h4.8M193.8 502v4.8M197.6 505h4.8M200 502.6v4.8M203.1 504.9h4.8M205.5 502.5v4.8M210 505.1h4.8M212.4 502.7v4.8M215 505.3h4.8M217.4 502.9v4.8M221 504.4h4.8M223.4 502v4.8M227.8 505.2h4.8M230.2 502.8v4.8M233.4 505.3h4.8M235.8 502.9v4.8M239.7 504.4h4.8M242.1 502v4.8M245.3 504.2h4.8M247.7 501.8v4.8M251 504.2h4.8M253.4 501.8v4.8M257.9 505.4h4.8M260.3 503v4.8M263.1 504.1h4.8M265.5 501.7v4.8M270.3 504.8h4.8M272.7 502.4v4.8M275.5 504.4h4.8M277.9 502v4.8M281.7 505.2h4.8M284.1 502.8v4.8M287.5 504.7h4.8M289.9 502.3v4.8M293 505.4h4.8M295.4 503v4.8" fill="none" stroke="#3535d0" stroke-width="1.0"/>
<path d="M159.3 501.4l2.4 4.6l-4.8 0zM169.5 500.9l2.4 4.6l-4.8 0zM178.3 502.1l2.4 4.6l-4.8 0zM187.2 501.9l2.4 4.6l-4.8 0zM195.4 501.4l2.4 4.6l-4.8 0zM204.5 502l2.4 4.6l-4.8 0zM213.7 501.5l2.4 4.6l-4.8 0zM223.7 502.1l2.4 4.6l-4.8 0zM232.7 501.6l2.4 4.6l-4.8 0zM241 502l2.4 4.6l-4.8 0zM250 501.4l2.4 4.6l-4.8 0zM258.9 501.2l2.4 4.6l-4.8 0zM267.8 502.4l2.4 4.6l-4.8 0zM277.6 502l2.4 4.6l-4.8 0zM286 501.6l2.4 4.6l-4.8 0zM294.4 501.5l2.4 4.6l-4.8 0z" fill="#12a838"/>
<path d="M183.3 504.5a2.1 2.1 0 1 0 4.2 0a2.1 2.1 0 1 0 -4.2 0zM189.2 504.4a2.1 2.1 0 1 0 4.2 0a2.1 2.1 0 1 0 -4.2 0zM196.3 504.3a2.1 2.1 0 1 0 4.2 0a2.1 2.1 0 1 0 -4.2 0zM202.6 504.4a2.1 2.1 0 1 0 4.2 0a2.1 2.1 0 1 0 -4.2 0zM208.7 504.4a2.1 2.1 0 1 0 4.2 0a2.1 2.1 0 1 0 -4.2 0zM215.1 504.1a2.1 2.1 0 1 0 4.2 0a2.1 2.1 0 1 0 -4.2 0zM222.3 504.4a2.1 2.1 0 1 0 4.2 0a2.1 2.1 0 1 0 -4.2 0zM228.1 504.8a2.1 2.1 0 1 0 4.2 0a2.1 2.1 0 1 0 -4.2 0zM235.1 504.3a2.1 2.1 0 1 0 4.2 0a2.1 2.1 0 1 0 -4.2 0zM240.7 504.3a2.1 2.1 0 1 0 4.2 0a2.1 2.1 0 1 0 -4.2 0zM247.6 504.5a2.1 2.1 0 1 0 4.2 0a2.1 2.1 0 1 0 -4.2 0zM254.3 504.8a2.1 2.1 0 1 0 4.2 0a2.1 2.1 0 1 0 -4.2 0zM261.1 504.8a2.1 2.1 0 1 0 4.2 0a2.1 2.1 0 1 0 -4.2 0zM267.2 504.6a2.1 2.1 0 1 0 4.2 0a2.1 2.1 0 1 0 -4.2 0zM274.2 504.9a2.1 2.1 0 1 0 4.2 0a2.1 2.1 0 1 0 -4.2 0zM280.2 504.9a2.1 2.1 0 1 0 4.2 0a2.1 2.1 0 1 0 -4.2 0zM287.4 504.7a2.1 2.1 0 1 0 4.2 0a2.1 2.1 0 1 0 -4.2 0zM294.1 505.1a2.1 2.1 0 1 0 4.2 0a2.1 2.1 0 1 0 -4.2 0z" fill="#fff" fill-opacity="0.6" stroke="#ff1010" stroke-width="1.0"/>
<path d="M249.6 504a2.4 2.4 0 1 0 4.8 0a2.4 2.4 0 1 0 -4.8 0zM254.7 504.5a2.4 2.4 0 1 0 4.8 0a2.4 2.4 0 1 0 -4.8 0zM261.1 504.1a2.4 2.4 0 1 0 4.8 0a2.4 2.4 0 1 0 -4.8 0zM266.3 504.5a2.4 2.4 0 1 0 4.8 0a2.4 2.4 0 1 0 -4.8 0zM271.9 504a2.4 2.4 0 1 0 4.8 0a2.4 2.4 0 1 0 -4.8 0zM277.4 504.5a2.4 2.4 0 1 0 4.8 0a2.4 2.4 0 1 0 -4.8 0zM282.8 504.4a2.4 2.4 0 1 0 4.8 0a2.4 2.4 0 1 0 -4.8 0zM288.2 504.9a2.4 2.4 0 1 0 4.8 0a2.4 2.4 0 1 0 -4.8 0zM293.8 505a2.4 2.4 0 1 0 4.8 0a2.4 2.4 0 1 0 -4.8 0zM298.5 504.4a2.4 2.4 0 1 0 4.8 0a2.4 2.4 0 1 0 -4.8 0z" fill="#ff1010"/>
<path d="M61.3 316.5l2.7 2.7l-2.7 2.7l-2.7 -2.7zM65.4 318.1l2.7 2.7l-2.7 2.7l-2.7 -2.7zM70.2 319l2.7 2.7l-2.7 2.7l-2.7 -2.7zM74.2 320.9l2.7 2.7l-2.7 2.7l-2.7 -2.7zM77.5 323.4l2.7 2.7l-2.7 2.7l-2.7 -2.7zM81.6 326.2l2.7 2.7l-2.7 2.7l-2.7 -2.7zM85.7 327.7l2.7 2.7l-2.7 2.7l-2.7 -2.7zM90.3 329.8l2.7 2.7l-2.7 2.7l-2.7 -2.7zM94.8 331.8l2.7 2.7l-2.7 2.7l-2.7 -2.7zM98.4 334.2l2.7 2.7l-2.7 2.7l-2.7 -2.7zM102 336l2.7 2.7l-2.7 2.7l-2.7 -2.7zM106.3 338.4l2.7 2.7l-2.7 2.7l-2.7 -2.7zM110.1 341.3l2.7 2.7l-2.7 2.7l-2.7 -2.7zM114.3 342.6l2.7 2.7l-2.7 2.7l-2.7 -2.7zM118.6 345l2.7 2.7l-2.7 2.7l-2.7 -2.7zM122.4 347.7l2.7 2.7l-2.7 2.7l-2.7 -2.7zM126.4 350.8l2.7 2.7l-2.7 2.7l-2.7 -2.7zM130.6 352.6l2.7 2.7l-2.7 2.7l-2.7 -2.7zM134.3 355.5l2.7 2.7l-2.7 2.7l-2.7 -2.7zM136.9 358.3l2.7 2.7l-2.7 2.7l-2.7 -2.7zM140.4 362.1l2.7 2.7l-2.7 2.7l-2.7 -2.7zM144.8 364.9l2.7 2.7l-2.7 2.7l-2.7 -2.7zM148.1 366.8l2.7 2.7l-2.7 2.7l-2.7 -2.7zM151.5 369.8l2.7 2.7l-2.7 2.7l-2.7 -2.7zM154 373.5l2.7 2.7l-2.7 2.7l-2.7 -2.7zM158.7 375l2.7 2.7l-2.7 2.7l-2.7 -2.7zM162.7 378.2l2.7 2.7l-2.7 2.7l-2.7 -2.7zM166.3 380.1l2.7 2.7l-2.7 2.7l-2.7 -2.7zM169.1 383.4l2.7 2.7l-2.7 2.7l-2.7 -2.7zM173.9 385.4l2.7 2.7l-2.7 2.7l-2.7 -2.7zM177.9 388.1l2.7 2.7l-2.7 2.7l-2.7 -2.7zM181.1 390.1l2.7 2.7l-2.7 2.7l-2.7 -2.7zM184.4 394.1l2.7 2.7l-2.7 2.7l-2.7 -2.7zM187.2 396.5l2.7 2.7l-2.7 2.7l-2.7 -2.7zM192.2 398.2l2.7 2.7l-2.7 2.7l-2.7 -2.7zM195.6 399.9l2.7 2.7l-2.7 2.7l-2.7 -2.7zM199.5 402.2l2.7 2.7l-2.7 2.7l-2.7 -2.7zM201.9 405.9l2.7 2.7l-2.7 2.7l-2.7 -2.7zM204.4 410.7l2.7 2.7l-2.7 2.7l-2.7 -2.7zM205.8 414.1l2.7 2.7l-2.7 2.7l-2.7 -2.7zM210 417.1l2.7 2.7l-2.7 2.7l-2.7 -2.7zM214.1 419.2l2.7 2.7l-2.7 2.7l-2.7 -2.7zM215.2 422.8l2.7 2.7l-2.7 2.7l-2.7 -2.7zM215.1 427.4l2.7 2.7l-2.7 2.7l-2.7 -2.7zM216.5 431.5l2.7 2.7l-2.7 2.7l-2.7 -2.7zM219.2 435.3l2.7 2.7l-2.7 2.7l-2.7 -2.7zM221.9 438.6l2.7 2.7l-2.7 2.7l-2.7 -2.7zM224.3 442.7l2.7 2.7l-2.7 2.7l-2.7 -2.7zM225.9 446.9l2.7 2.7l-2.7 2.7l-2.7 -2.7zM226.1 451.7l2.7 2.7l-2.7 2.7l-2.7 -2.7zM227 456.1l2.7 2.7l-2.7 2.7l-2.7 -2.7zM229.1 460.4l2.7 2.7l-2.7 2.7l-2.7 -2.7zM231 463.7l2.7 2.7l-2.7 2.7l-2.7 -2.7zM234.4 468.1l2.7 2.7l-2.7 2.7l-2.7 -2.7zM237.4 471.4l2.7 2.7l-2.7 2.7l-2.7 -2.7zM237.9 476l2.7 2.7l-2.7 2.7l-2.7 -2.7zM240 480.1l2.7 2.7l-2.7 2.7l-2.7 -2.7zM243 483.8l2.7 2.7l-2.7 2.7l-2.7 -2.7zM245.9 487.4l2.7 2.7l-2.7 2.7l-2.7 -2.7zM248.7 490.3l2.7 2.7l-2.7 2.7l-2.7 -2.7zM253 492.7l2.7 2.7l-2.7 2.7l-2.7 -2.7zM256.4 495.6l2.7 2.7l-2.7 2.7l-2.7 -2.7zM260.5 497l2.7 2.7l-2.7 2.7l-2.7 -2.7zM265.6 498.1l2.7 2.7l-2.7 2.7l-2.7 -2.7zM269.4 500l2.7 2.7l-2.7 2.7l-2.7 -2.7zM274.8 499.7l2.7 2.7l-2.7 2.7l-2.7 -2.7zM278.8 500.7l2.7 2.7l-2.7 2.7l-2.7 -2.7zM283.4 500.7l2.7 2.7l-2.7 2.7l-2.7 -2.7zM287.6 501.2l2.7 2.7l-2.7 2.7l-2.7 -2.7zM293 500.8l2.7 2.7l-2.7 2.7l-2.7 -2.7zM296.9 501.9l2.7 2.7l-2.7 2.7l-2.7 -2.7zM302.2 501.8l2.7 2.7l-2.7 2.7l-2.7 -2.7zM305.8 501.8l2.7 2.7l-2.7 2.7l-2.7 -2.7zM311.6 502.2l2.7 2.7l-2.7 2.7l-2.7 -2.7zM315.9 501l2.7 2.7l-2.7 2.7l-2.7 -2.7zM320.6 501.2l2.7 2.7l-2.7 2.7l-2.7 -2.7zM325 502.1l2.7 2.7l-2.7 2.7l-2.7 -2.7zM329.7 501.1l2.7 2.7l-2.7 2.7l-2.7 -2.7zM63 290.8l2.7 2.7l-2.7 2.7l-2.7 -2.7zM66 291.9l2.7 2.7l-2.7 2.7l-2.7 -2.7zM70 293.5l2.7 2.7l-2.7 2.7l-2.7 -2.7zM75.5 295.6l2.7 2.7l-2.7 2.7l-2.7 -2.7zM100.1 367.6l2.7 2.7l-2.7 2.7l-2.7 -2.7zM118.4 393.9l2.7 2.7l-2.7 2.7l-2.7 -2.7zM131.2 419.3l2.7 2.7l-2.7 2.7l-2.7 -2.7zM142.3 442.3l2.7 2.7l-2.7 2.7l-2.7 -2.7zM152.9 464.9l2.7 2.7l-2.7 2.7l-2.7 -2.7zM166.8 483.1l2.7 2.7l-2.7 2.7l-2.7 -2.7z" fill="#111"/>
<path d="M62 292.3l2.4 2.4l-2.4 2.4l-2.4 -2.4zM65.9 293.1l2.4 2.4l-2.4 2.4l-2.4 -2.4zM70.3 293.8l2.4 2.4l-2.4 2.4l-2.4 -2.4zM74.7 294.9l2.4 2.4l-2.4 2.4l-2.4 -2.4zM78.2 296.6l2.4 2.4l-2.4 2.4l-2.4 -2.4zM82.3 297.4l2.4 2.4l-2.4 2.4l-2.4 -2.4zM87 299.4l2.4 2.4l-2.4 2.4l-2.4 -2.4zM91.4 300.3l2.4 2.4l-2.4 2.4l-2.4 -2.4zM94.7 302.4l2.4 2.4l-2.4 2.4l-2.4 -2.4zM98.9 304.2l2.4 2.4l-2.4 2.4l-2.4 -2.4zM103.2 305.7l2.4 2.4l-2.4 2.4l-2.4 -2.4zM106 308.1l2.4 2.4l-2.4 2.4l-2.4 -2.4zM110 309.9l2.4 2.4l-2.4 2.4l-2.4 -2.4zM114.3 312.1l2.4 2.4l-2.4 2.4l-2.4 -2.4zM118.2 313.7l2.4 2.4l-2.4 2.4l-2.4 -2.4zM121.6 315.6l2.4 2.4l-2.4 2.4l-2.4 -2.4zM125.5 317.7l2.4 2.4l-2.4 2.4l-2.4 -2.4zM129.7 318.9l2.4 2.4l-2.4 2.4l-2.4 -2.4zM133.2 321.1l2.4 2.4l-2.4 2.4l-2.4 -2.4zM137.5 323l2.4 2.4l-2.4 2.4l-2.4 -2.4zM141 326.1l2.4 2.4l-2.4 2.4l-2.4 -2.4zM144 328.2l2.4 2.4l-2.4 2.4l-2.4 -2.4zM147.8 329.5l2.4 2.4l-2.4 2.4l-2.4 -2.4zM152.3 331.5l2.4 2.4l-2.4 2.4l-2.4 -2.4zM156.6 333.5l2.4 2.4l-2.4 2.4l-2.4 -2.4zM159.8 335.6l2.4 2.4l-2.4 2.4l-2.4 -2.4zM163.2 337.5l2.4 2.4l-2.4 2.4l-2.4 -2.4zM166.7 339.5l2.4 2.4l-2.4 2.4l-2.4 -2.4zM171.1 342.7l2.4 2.4l-2.4 2.4l-2.4 -2.4zM173.4 344.9l2.4 2.4l-2.4 2.4l-2.4 -2.4zM177.3 348.7l2.4 2.4l-2.4 2.4l-2.4 -2.4zM180.2 351.1l2.4 2.4l-2.4 2.4l-2.4 -2.4zM182.9 354.5l2.4 2.4l-2.4 2.4l-2.4 -2.4zM185.3 357.7l2.4 2.4l-2.4 2.4l-2.4 -2.4zM189 360.4l2.4 2.4l-2.4 2.4l-2.4 -2.4zM192.5 362.3l2.4 2.4l-2.4 2.4l-2.4 -2.4zM196.1 365.8l2.4 2.4l-2.4 2.4l-2.4 -2.4zM198.9 368.8l2.4 2.4l-2.4 2.4l-2.4 -2.4zM201.2 372.6l2.4 2.4l-2.4 2.4l-2.4 -2.4zM203.2 376.2l2.4 2.4l-2.4 2.4l-2.4 -2.4zM207.2 377.9l2.4 2.4l-2.4 2.4l-2.4 -2.4zM210.2 379.6l2.4 2.4l-2.4 2.4l-2.4 -2.4zM213.3 382.6l2.4 2.4l-2.4 2.4l-2.4 -2.4zM217 386.3l2.4 2.4l-2.4 2.4l-2.4 -2.4zM219.2 389.3l2.4 2.4l-2.4 2.4l-2.4 -2.4zM222 393.1l2.4 2.4l-2.4 2.4l-2.4 -2.4zM226.1 394.2l2.4 2.4l-2.4 2.4l-2.4 -2.4zM229.4 396.3l2.4 2.4l-2.4 2.4l-2.4 -2.4zM232 399.4l2.4 2.4l-2.4 2.4l-2.4 -2.4zM234.7 403.1l2.4 2.4l-2.4 2.4l-2.4 -2.4zM237.6 406.5l2.4 2.4l-2.4 2.4l-2.4 -2.4zM239.7 409.9l2.4 2.4l-2.4 2.4l-2.4 -2.4zM242.7 412.8l2.4 2.4l-2.4 2.4l-2.4 -2.4zM245 416.5l2.4 2.4l-2.4 2.4l-2.4 -2.4zM245.6 421.2l2.4 2.4l-2.4 2.4l-2.4 -2.4zM248.8 424.5l2.4 2.4l-2.4 2.4l-2.4 -2.4zM252.1 427.3l2.4 2.4l-2.4 2.4l-2.4 -2.4zM255.2 430.4l2.4 2.4l-2.4 2.4l-2.4 -2.4zM258 432.8l2.4 2.4l-2.4 2.4l-2.4 -2.4zM261.1 435.7l2.4 2.4l-2.4 2.4l-2.4 -2.4zM261.7 439.4l2.4 2.4l-2.4 2.4l-2.4 -2.4zM263.4 442.7l2.4 2.4l-2.4 2.4l-2.4 -2.4zM266.2 446l2.4 2.4l-2.4 2.4l-2.4 -2.4zM269.5 450.2l2.4 2.4l-2.4 2.4l-2.4 -2.4zM272.5 452.4l2.4 2.4l-2.4 2.4l-2.4 -2.4zM275.6 455.4l2.4 2.4l-2.4 2.4l-2.4 -2.4zM278 459.6l2.4 2.4l-2.4 2.4l-2.4 -2.4zM278.9 463l2.4 2.4l-2.4 2.4l-2.4 -2.4zM281.6 467.6l2.4 2.4l-2.4 2.4l-2.4 -2.4zM284.4 470.1l2.4 2.4l-2.4 2.4l-2.4 -2.4zM288.1 472.4l2.4 2.4l-2.4 2.4l-2.4 -2.4zM290.1 476.3l2.4 2.4l-2.4 2.4l-2.4 -2.4zM291.4 479.6l2.4 2.4l-2.4 2.4l-2.4 -2.4zM292.6 484.9l2.4 2.4l-2.4 2.4l-2.4 -2.4zM296.4 486.1l2.4 2.4l-2.4 2.4l-2.4 -2.4zM299.6 487.9l2.4 2.4l-2.4 2.4l-2.4 -2.4zM304.1 490.9l2.4 2.4l-2.4 2.4l-2.4 -2.4zM307.6 492.9l2.4 2.4l-2.4 2.4l-2.4 -2.4zM309.8 496l2.4 2.4l-2.4 2.4l-2.4 -2.4zM313.9 497.6l2.4 2.4l-2.4 2.4l-2.4 -2.4zM317.9 499.1l2.4 2.4l-2.4 2.4l-2.4 -2.4zM322.2 499.3l2.4 2.4l-2.4 2.4l-2.4 -2.4zM326.2 500.4l2.4 2.4l-2.4 2.4l-2.4 -2.4zM330.6 500l2.4 2.4l-2.4 2.4l-2.4 -2.4zM67.3 297.6l2.4 2.4l-2.4 2.4l-2.4 -2.4zM68.7 302.8l2.4 2.4l-2.4 2.4l-2.4 -2.4zM74.6 309.3l2.4 2.4l-2.4 2.4l-2.4 -2.4zM83.3 318.1l2.4 2.4l-2.4 2.4l-2.4 -2.4zM103.8 355.5l2.4 2.4l-2.4 2.4l-2.4 -2.4zM111.1 367.9l2.4 2.4l-2.4 2.4l-2.4 -2.4zM120.6 381.1l2.4 2.4l-2.4 2.4l-2.4 -2.4zM128.6 394.2l2.4 2.4l-2.4 2.4l-2.4 -2.4zM135.2 407.3l2.4 2.4l-2.4 2.4l-2.4 -2.4zM142 424.2l2.4 2.4l-2.4 2.4l-2.4 -2.4zM148.4 439.1l2.4 2.4l-2.4 2.4l-2.4 -2.4zM151.5 451.6l2.4 2.4l-2.4 2.4l-2.4 -2.4zM156 463.1l2.4 2.4l-2.4 2.4l-2.4 -2.4zM164.7 472.6l2.4 2.4l-2.4 2.4l-2.4 -2.4zM174.7 483.6l2.4 2.4l-2.4 2.4l-2.4 -2.4z" fill="#fff" fill-opacity="0.6" stroke="#383838" stroke-width="1.1"/>
<path d="M62.1 291.8l2.4 2.4l-2.4 2.4l-2.4 -2.4zM82.8 297.9l2.4 2.4l-2.4 2.4l-2.4 -2.4zM103.1 306.4l2.4 2.4l-2.4 2.4l-2.4 -2.4zM123.8 316.3l2.4 2.4l-2.4 2.4l-2.4 -2.4zM142.9 326.5l2.4 2.4l-2.4 2.4l-2.4 -2.4zM161.8 336.2l2.4 2.4l-2.4 2.4l-2.4 -2.4zM178.9 350.7l2.4 2.4l-2.4 2.4l-2.4 -2.4zM195.1 365.2l2.4 2.4l-2.4 2.4l-2.4 -2.4zM210.7 380.4l2.4 2.4l-2.4 2.4l-2.4 -2.4zM225.9 394.3l2.4 2.4l-2.4 2.4l-2.4 -2.4zM240.9 410.3l2.4 2.4l-2.4 2.4l-2.4 -2.4z" fill="#222"/>
<path d="M59.6 309.3a2.8 2.8 0 1 0 5.6 0a2.8 2.8 0 1 0 -5.6 0zM63 310.7a2.8 2.8 0 1 0 5.6 0a2.8 2.8 0 1 0 -5.6 0zM66.8 311.6a2.8 2.8 0 1 0 5.6 0a2.8 2.8 0 1 0 -5.6 0zM68 314.3a2.8 2.8 0 1 0 5.6 0a2.8 2.8 0 1 0 -5.6 0zM70.1 317.1a2.8 2.8 0 1 0 5.6 0a2.8 2.8 0 1 0 -5.6 0zM73.3 319.6a2.8 2.8 0 1 0 5.6 0a2.8 2.8 0 1 0 -5.6 0zM76 320.8a2.8 2.8 0 1 0 5.6 0a2.8 2.8 0 1 0 -5.6 0zM78.8 323.5a2.8 2.8 0 1 0 5.6 0a2.8 2.8 0 1 0 -5.6 0zM80.3 326.5a2.8 2.8 0 1 0 5.6 0a2.8 2.8 0 1 0 -5.6 0zM81.9 329.5a2.8 2.8 0 1 0 5.6 0a2.8 2.8 0 1 0 -5.6 0zM83.3 333a2.8 2.8 0 1 0 5.6 0a2.8 2.8 0 1 0 -5.6 0zM86.5 335.3a2.8 2.8 0 1 0 5.6 0a2.8 2.8 0 1 0 -5.6 0zM89.6 337.2a2.8 2.8 0 1 0 5.6 0a2.8 2.8 0 1 0 -5.6 0zM92 339.4a2.8 2.8 0 1 0 5.6 0a2.8 2.8 0 1 0 -5.6 0zM93.7 342.5a2.8 2.8 0 1 0 5.6 0a2.8 2.8 0 1 0 -5.6 0zM95.9 345.5a2.8 2.8 0 1 0 5.6 0a2.8 2.8 0 1 0 -5.6 0zM97.8 348.2a2.8 2.8 0 1 0 5.6 0a2.8 2.8 0 1 0 -5.6 0zM99.1 351.4a2.8 2.8 0 1 0 5.6 0a2.8 2.8 0 1 0 -5.6 0zM102 352.7a2.8 2.8 0 1 0 5.6 0a2.8 2.8 0 1 0 -5.6 0zM104.4 354.8a2.8 2.8 0 1 0 5.6 0a2.8 2.8 0 1 0 -5.6 0zM106.9 358.1a2.8 2.8 0 1 0 5.6 0a2.8 2.8 0 1 0 -5.6 0zM108.4 360.4a2.8 2.8 0 1 0 5.6 0a2.8 2.8 0 1 0 -5.6 0zM109.8 364.4a2.8 2.8 0 1 0 5.6 0a2.8 2.8 0 1 0 -5.6 0zM110.6 366.8a2.8 2.8 0 1 0 5.6 0a2.8 2.8 0 1 0 -5.6 0zM112.7 370.1a2.8 2.8 0 1 0 5.6 0a2.8 2.8 0 1 0 -5.6 0zM115.9 373.4a2.8 2.8 0 1 0 5.6 0a2.8 2.8 0 1 0 -5.6 0zM118.4 374.6a2.8 2.8 0 1 0 5.6 0a2.8 2.8 0 1 0 -5.6 0zM120.9 377a2.8 2.8 0 1 0 5.6 0a2.8 2.8 0 1 0 -5.6 0zM123.2 379a2.8 2.8 0 1 0 5.6 0a2.8 2.8 0 1 0 -5.6 0zM125.7 382.8a2.8 2.8 0 1 0 5.6 0a2.8 2.8 0 1 0 -5.6 0zM127.8 384.8a2.8 2.8 0 1 0 5.6 0a2.8 2.8 0 1 0 -5.6 0zM129.5 387.8a2.8 2.8 0 1 0 5.6 0a2.8 2.8 0 1 0 -5.6 0zM132.2 390.5a2.8 2.8 0 1 0 5.6 0a2.8 2.8 0 1 0 -5.6 0zM135.3 393a2.8 2.8 0 1 0 5.6 0a2.8 2.8 0 1 0 -5.6 0zM137.3 394.3a2.8 2.8 0 1 0 5.6 0a2.8 2.8 0 1 0 -5.6 0zM141.2 396.3a2.8 2.8 0 1 0 5.6 0a2.8 2.8 0 1 0 -5.6 0zM143.2 398.6a2.8 2.8 0 1 0 5.6 0a2.8 2.8 0 1 0 -5.6 0zM145.9 401.8a2.8 2.8 0 1 0 5.6 0a2.8 2.8 0 1 0 -5.6 0zM146.8 405.1a2.8 2.8 0 1 0 5.6 0a2.8 2.8 0 1 0 -5.6 0zM148.8 406.9a2.8 2.8 0 1 0 5.6 0a2.8 2.8 0 1 0 -5.6 0zM151.5 409.8a2.8 2.8 0 1 0 5.6 0a2.8 2.8 0 1 0 -5.6 0zM152.9 413.1a2.8 2.8 0 1 0 5.6 0a2.8 2.8 0 1 0 -5.6 0zM154.9 415.4a2.8 2.8 0 1 0 5.6 0a2.8 2.8 0 1 0 -5.6 0zM156.4 419.1a2.8 2.8 0 1 0 5.6 0a2.8 2.8 0 1 0 -5.6 0zM157.7 421.4a2.8 2.8 0 1 0 5.6 0a2.8 2.8 0 1 0 -5.6 0zM159.9 424a2.8 2.8 0 1 0 5.6 0a2.8 2.8 0 1 0 -5.6 0zM162.6 426.8a2.8 2.8 0 1 0 5.6 0a2.8 2.8 0 1 0 -5.6 0zM165.3 429.1a2.8 2.8 0 1 0 5.6 0a2.8 2.8 0 1 0 -5.6 0zM167.3 431.6a2.8 2.8 0 1 0 5.6 0a2.8 2.8 0 1 0 -5.6 0zM170.3 435a2.8 2.8 0 1 0 5.6 0a2.8 2.8 0 1 0 -5.6 0zM172.4 437.4a2.8 2.8 0 1 0 5.6 0a2.8 2.8 0 1 0 -5.6 0zM172.8 440.2a2.8 2.8 0 1 0 5.6 0a2.8 2.8 0 1 0 -5.6 0zM174.7 443.8a2.8 2.8 0 1 0 5.6 0a2.8 2.8 0 1 0 -5.6 0zM176 446a2.8 2.8 0 1 0 5.6 0a2.8 2.8 0 1 0 -5.6 0zM178.4 449.2a2.8 2.8 0 1 0 5.6 0a2.8 2.8 0 1 0 -5.6 0zM182.3 450.5a2.8 2.8 0 1 0 5.6 0a2.8 2.8 0 1 0 -5.6 0zM184.1 453.3a2.8 2.8 0 1 0 5.6 0a2.8 2.8 0 1 0 -5.6 0zM184.4 457.4a2.8 2.8 0 1 0 5.6 0a2.8 2.8 0 1 0 -5.6 0zM185.9 460.4a2.8 2.8 0 1 0 5.6 0a2.8 2.8 0 1 0 -5.6 0zM187.4 462.4a2.8 2.8 0 1 0 5.6 0a2.8 2.8 0 1 0 -5.6 0zM190 465.6a2.8 2.8 0 1 0 5.6 0a2.8 2.8 0 1 0 -5.6 0zM192.4 467.5a2.8 2.8 0 1 0 5.6 0a2.8 2.8 0 1 0 -5.6 0zM195.2 469.3a2.8 2.8 0 1 0 5.6 0a2.8 2.8 0 1 0 -5.6 0zM197.5 472.4a2.8 2.8 0 1 0 5.6 0a2.8 2.8 0 1 0 -5.6 0zM199.3 475.7a2.8 2.8 0 1 0 5.6 0a2.8 2.8 0 1 0 -5.6 0zM199.8 479.5a2.8 2.8 0 1 0 5.6 0a2.8 2.8 0 1 0 -5.6 0zM203 481.5a2.8 2.8 0 1 0 5.6 0a2.8 2.8 0 1 0 -5.6 0zM205.8 483.1a2.8 2.8 0 1 0 5.6 0a2.8 2.8 0 1 0 -5.6 0zM208.5 485.2a2.8 2.8 0 1 0 5.6 0a2.8 2.8 0 1 0 -5.6 0zM210.8 487.3a2.8 2.8 0 1 0 5.6 0a2.8 2.8 0 1 0 -5.6 0zM213.5 489.9a2.8 2.8 0 1 0 5.6 0a2.8 2.8 0 1 0 -5.6 0zM215.7 491.6a2.8 2.8 0 1 0 5.6 0a2.8 2.8 0 1 0 -5.6 0zM218.2 494.1a2.8 2.8 0 1 0 5.6 0a2.8 2.8 0 1 0 -5.6 0zM221.7 496.6a2.8 2.8 0 1 0 5.6 0a2.8 2.8 0 1 0 -5.6 0zM224.7 498.1a2.8 2.8 0 1 0 5.6 0a2.8 2.8 0 1 0 -5.6 0zM227.9 499.8a2.8 2.8 0 1 0 5.6 0a2.8 2.8 0 1 0 -5.6 0zM231 500.8a2.8 2.8 0 1 0 5.6 0a2.8 2.8 0 1 0 -5.6 0zM234.4 502.4a2.8 2.8 0 1 0 5.6 0a2.8 2.8 0 1 0 -5.6 0zM238.1 503a2.8 2.8 0 1 0 5.6 0a2.8 2.8 0 1 0 -5.6 0zM241.2 503.3a2.8 2.8 0 1 0 5.6 0a2.8 2.8 0 1 0 -5.6 0zM244.8 503.4a2.8 2.8 0 1 0 5.6 0a2.8 2.8 0 1 0 -5.6 0zM247.6 503.6a2.8 2.8 0 1 0 5.6 0a2.8 2.8 0 1 0 -5.6 0zM101 361.6a2.8 2.8 0 1 0 5.6 0a2.8 2.8 0 1 0 -5.6 0zM117.8 387.8a2.8 2.8 0 1 0 5.6 0a2.8 2.8 0 1 0 -5.6 0zM131.6 412.7a2.8 2.8 0 1 0 5.6 0a2.8 2.8 0 1 0 -5.6 0zM143.1 435.1a2.8 2.8 0 1 0 5.6 0a2.8 2.8 0 1 0 -5.6 0zM153.2 456.8a2.8 2.8 0 1 0 5.6 0a2.8 2.8 0 1 0 -5.6 0zM166.3 476.9a2.8 2.8 0 1 0 5.6 0a2.8 2.8 0 1 0 -5.6 0zM181.8 494.7a2.8 2.8 0 1 0 5.6 0a2.8 2.8 0 1 0 -5.6 0z" fill="#ff1010"/>
<path d="M63.8 322.4a2.5 2.5 0 1 0 5 0a2.5 2.5 0 1 0 -5 0zM66.7 326.1a2.5 2.5 0 1 0 5 0a2.5 2.5 0 1 0 -5 0zM69.2 328.5a2.5 2.5 0 1 0 5 0a2.5 2.5 0 1 0 -5 0zM72.5 331.6a2.5 2.5 0 1 0 5 0a2.5 2.5 0 1 0 -5 0zM75.7 335.7a2.5 2.5 0 1 0 5 0a2.5 2.5 0 1 0 -5 0zM78.5 339a2.5 2.5 0 1 0 5 0a2.5 2.5 0 1 0 -5 0zM79.3 342.6a2.5 2.5 0 1 0 5 0a2.5 2.5 0 1 0 -5 0zM80.5 347.2a2.5 2.5 0 1 0 5 0a2.5 2.5 0 1 0 -5 0zM82.5 350.8a2.5 2.5 0 1 0 5 0a2.5 2.5 0 1 0 -5 0zM84.2 354.8a2.5 2.5 0 1 0 5 0a2.5 2.5 0 1 0 -5 0zM86.4 358.1a2.5 2.5 0 1 0 5 0a2.5 2.5 0 1 0 -5 0zM89.7 362.1a2.5 2.5 0 1 0 5 0a2.5 2.5 0 1 0 -5 0zM92 365.2a2.5 2.5 0 1 0 5 0a2.5 2.5 0 1 0 -5 0zM94.9 368.5a2.5 2.5 0 1 0 5 0a2.5 2.5 0 1 0 -5 0zM95.6 373a2.5 2.5 0 1 0 5 0a2.5 2.5 0 1 0 -5 0zM97.7 377.6a2.5 2.5 0 1 0 5 0a2.5 2.5 0 1 0 -5 0zM99.8 380.8a2.5 2.5 0 1 0 5 0a2.5 2.5 0 1 0 -5 0zM102.7 383.9a2.5 2.5 0 1 0 5 0a2.5 2.5 0 1 0 -5 0zM106.4 386.6a2.5 2.5 0 1 0 5 0a2.5 2.5 0 1 0 -5 0zM108.6 390.3a2.5 2.5 0 1 0 5 0a2.5 2.5 0 1 0 -5 0zM112.6 392.8a2.5 2.5 0 1 0 5 0a2.5 2.5 0 1 0 -5 0zM114.8 395.6a2.5 2.5 0 1 0 5 0a2.5 2.5 0 1 0 -5 0zM118.1 399.4a2.5 2.5 0 1 0 5 0a2.5 2.5 0 1 0 -5 0zM116.8 403.3a2.5 2.5 0 1 0 5 0a2.5 2.5 0 1 0 -5 0zM116.9 408.1a2.5 2.5 0 1 0 5 0a2.5 2.5 0 1 0 -5 0zM119 412.2a2.5 2.5 0 1 0 5 0a2.5 2.5 0 1 0 -5 0zM120.2 415.8a2.5 2.5 0 1 0 5 0a2.5 2.5 0 1 0 -5 0zM124.6 419a2.5 2.5 0 1 0 5 0a2.5 2.5 0 1 0 -5 0zM126.5 422.3a2.5 2.5 0 1 0 5 0a2.5 2.5 0 1 0 -5 0zM128.8 426.3a2.5 2.5 0 1 0 5 0a2.5 2.5 0 1 0 -5 0zM129.9 430.2a2.5 2.5 0 1 0 5 0a2.5 2.5 0 1 0 -5 0zM131.6 434.2a2.5 2.5 0 1 0 5 0a2.5 2.5 0 1 0 -5 0zM131.8 438.1a2.5 2.5 0 1 0 5 0a2.5 2.5 0 1 0 -5 0zM133.7 442a2.5 2.5 0 1 0 5 0a2.5 2.5 0 1 0 -5 0zM135.5 446.6a2.5 2.5 0 1 0 5 0a2.5 2.5 0 1 0 -5 0zM138.2 450.1a2.5 2.5 0 1 0 5 0a2.5 2.5 0 1 0 -5 0zM142 453.4a2.5 2.5 0 1 0 5 0a2.5 2.5 0 1 0 -5 0zM144.9 456.6a2.5 2.5 0 1 0 5 0a2.5 2.5 0 1 0 -5 0zM148.1 460.1a2.5 2.5 0 1 0 5 0a2.5 2.5 0 1 0 -5 0zM149.7 464a2.5 2.5 0 1 0 5 0a2.5 2.5 0 1 0 -5 0zM150.5 467.1a2.5 2.5 0 1 0 5 0a2.5 2.5 0 1 0 -5 0zM151.5 471.5a2.5 2.5 0 1 0 5 0a2.5 2.5 0 1 0 -5 0zM153.3 476a2.5 2.5 0 1 0 5 0a2.5 2.5 0 1 0 -5 0zM157 479.2a2.5 2.5 0 1 0 5 0a2.5 2.5 0 1 0 -5 0zM159.1 482a2.5 2.5 0 1 0 5 0a2.5 2.5 0 1 0 -5 0zM162.1 485.7a2.5 2.5 0 1 0 5 0a2.5 2.5 0 1 0 -5 0zM162.4 490.2a2.5 2.5 0 1 0 5 0a2.5 2.5 0 1 0 -5 0zM165.7 493.5a2.5 2.5 0 1 0 5 0a2.5 2.5 0 1 0 -5 0zM169.5 496.3a2.5 2.5 0 1 0 5 0a2.5 2.5 0 1 0 -5 0zM173.8 497.6a2.5 2.5 0 1 0 5 0a2.5 2.5 0 1 0 -5 0zM177.4 500.3a2.5 2.5 0 1 0 5 0a2.5 2.5 0 1 0 -5 0zM181 501.1a2.5 2.5 0 1 0 5 0a2.5 2.5 0 1 0 -5 0zM133.4 419.2a2.5 2.5 0 1 0 5 0a2.5 2.5 0 1 0 -5 0zM145.7 441.3a2.5 2.5 0 1 0 5 0a2.5 2.5 0 1 0 -5 0zM154.2 462.2a2.5 2.5 0 1 0 5 0a2.5 2.5 0 1 0 -5 0zM163.5 480.8a2.5 2.5 0 1 0 5 0a2.5 2.5 0 1 0 -5 0zM159.5 488a2.5 2.5 0 1 0 5 0a2.5 2.5 0 1 0 -5 0zM158.5 483a2.5 2.5 0 1 0 5 0a2.5 2.5 0 1 0 -5 0z" fill="#fff" fill-opacity="0.6" stroke="#ff1010" stroke-width="1.1"/>
<path d="M62.3 329.1h5.6M65.1 326.3v5.6M66 332.6h5.6M68.8 329.8v5.6M66.8 336h5.6M69.6 333.2v5.6M69.2 340.2h5.6M72 337.4v5.6M72 343.8h5.6M74.8 341v5.6M73.9 347.1h5.6M76.7 344.3v5.6M76.9 351h5.6M79.7 348.2v5.6M76.3 354.9h5.6M79.1 352.1v5.6M77.1 359h5.6M79.9 356.2v5.6M79.5 362.1h5.6M82.3 359.3v5.6M81.9 366.1h5.6M84.7 363.3v5.6M84.7 370.2h5.6M87.5 367.4v5.6M85.5 374.8h5.6M88.3 372v5.6M86.9 378.1h5.6M89.7 375.3v5.6M89.7 381.6h5.6M92.5 378.8v5.6M92.4 385.5h5.6M95.2 382.7v5.6M94.6 388.4h5.6M97.4 385.6v5.6M98.6 391.3h5.6M101.4 388.5v5.6M101.1 394.5h5.6M103.9 391.7v5.6M102.1 399.7h5.6M104.9 396.9v5.6M102.3 403.5h5.6M105.1 400.7v5.6M102.9 407.3h5.6M105.7 404.5v5.6M106.4 411.4h5.6M109.2 408.6v5.6M108.3 414.4h5.6M111.1 411.6v5.6M110.6 418.9h5.6M113.4 416.1v5.6M112 422.8h5.6M114.8 420v5.6M113.5 427.2h5.6M116.3 424.4v5.6M114 430.8h5.6M116.8 428v5.6M114.3 435.9h5.6M117.1 433.1v5.6M116.3 440.2h5.6M119.1 437.4v5.6M119.8 443.3h5.6M122.6 440.5v5.6M122.5 446.4h5.6M125.3 443.6v5.6M125.4 449.9h5.6M128.2 447.1v5.6M126.4 453.8h5.6M129.2 451v5.6M127.1 458.2h5.6M129.9 455.4v5.6M128.1 461.6h5.6M130.9 458.8v5.6M128.7 465.8h5.6M131.5 463v5.6M132 468.7h5.6M134.8 465.9v5.6M135.4 471.4h5.6M138.2 468.6v5.6M136.9 475.6h5.6M139.7 472.8v5.6M138 479.8h5.6M140.8 477v5.6M140 484.7h5.6M142.8 481.9v5.6M141.5 487.1h5.6M144.3 484.3v5.6M145.8 490.8h5.6M148.6 488v5.6M148.5 492.8h5.6M151.3 490v5.6M149.9 497.7h5.6M152.7 494.9v5.6M153.9 499.7h5.6M156.7 496.9v5.6M157.2 501.5h5.6M160 498.7v5.6M95.1 374.7h5.6M97.9 371.9v5.6M102.4 386.4h5.6M105.2 383.6v5.6M108.3 398.1h5.6M111.1 395.3v5.6M117 409.7h5.6M119.8 406.9v5.6M124.3 420.7h5.6M127.1 417.9v5.6M131.5 433.5h5.6M134.3 430.7v5.6M137.7 444.4h5.6M140.5 441.6v5.6M140 456h5.6M142.8 453.2v5.6M145.4 467.6h5.6M148.2 464.8v5.6M154.7 479.3h5.6M157.5 476.5v5.6M165.6 490.9h5.6M168.4 488.1v5.6" fill="none" stroke="#3535d0" stroke-width="1.1"/>
<path d="M65.5 338.9l2.8 5.3l-5.6 0zM69.5 340.9l2.8 5.3l-5.6 0zM72.4 343.4l2.8 5.3l-5.6 0zM74.9 347.6l2.8 5.3l-5.6 0zM75.2 351l2.8 5.3l-5.6 0zM77.6 355.2l2.8 5.3l-5.6 0zM79.2 359.2l2.8 5.3l-5.6 0zM79.8 363.7l2.8 5.3l-5.6 0zM77.9 367.3l2.8 5.3l-5.6 0zM80.8 370.5l2.8 5.3l-5.6 0zM84.2 373.2l2.8 5.3l-5.6 0zM87.2 376.6l2.8 5.3l-5.6 0zM90 379.3l2.8 5.3l-5.6 0zM92.6 382.7l2.8 5.3l-5.6 0zM94.3 387.1l2.8 5.3l-5.6 0zM94.6 390.9l2.8 5.3l-5.6 0zM95.3 395l2.8 5.3l-5.6 0zM96.7 398.7l2.8 5.3l-5.6 0zM98.8 402.9l2.8 5.3l-5.6 0zM101.9 406.9l2.8 5.3l-5.6 0zM104.1 409.8l2.8 5.3l-5.6 0zM106.4 414.1l2.8 5.3l-5.6 0zM108.6 418l2.8 5.3l-5.6 0zM109.2 421.1l2.8 5.3l-5.6 0zM110.8 425.2l2.8 5.3l-5.6 0zM110.2 430.3l2.8 5.3l-5.6 0zM110.8 434l2.8 5.3l-5.6 0zM113.1 437.9l2.8 5.3l-5.6 0zM114.6 442.3l2.8 5.3l-5.6 0zM116.3 445.4l2.8 5.3l-5.6 0zM119.8 448.7l2.8 5.3l-5.6 0zM122 452l2.8 5.3l-5.6 0zM123.5 455.5l2.8 5.3l-5.6 0zM125 459.7l2.8 5.3l-5.6 0zM126.7 464l2.8 5.3l-5.6 0zM127.2 468.7l2.8 5.3l-5.6 0zM129.6 472l2.8 5.3l-5.6 0zM132 476l2.8 5.3l-5.6 0zM134.2 479.3l2.8 5.3l-5.6 0zM136.7 482.3l2.8 5.3l-5.6 0zM139.2 486.3l2.8 5.3l-5.6 0zM140.4 490.1l2.8 5.3l-5.6 0zM141.8 493.5l2.8 5.3l-5.6 0zM146.6 495.5l2.8 5.3l-5.6 0zM149.6 496.8l2.8 5.3l-5.6 0zM154.7 498.2l2.8 5.3l-5.6 0zM89.2 372.3l2.8 5.3l-5.6 0zM97.2 384l2.8 5.3l-5.6 0zM108.2 395l2.8 5.3l-5.6 0zM117.6 406.6l2.8 5.3l-5.6 0zM123.5 417.6l2.8 5.3l-5.6 0zM126.5 427.3l2.8 5.3l-5.6 0zM129.6 436.6l2.8 5.3l-5.6 0zM134.3 447.5l2.8 5.3l-5.6 0zM139.7 459.1l2.8 5.3l-5.6 0zM151.3 470.7l2.8 5.3l-5.6 0zM163.7 483.1l2.8 5.3l-5.6 0zM176.9 493.2l2.8 5.3l-5.6 0zM186.3 497.4l2.8 5.3l-5.6 0z" fill="#12a838"/>
<path d="M66.2 347.8l2.6 4.9l-5.2 0zM69.2 350.2l2.6 4.9l-5.2 0zM70.9 354.7l2.6 4.9l-5.2 0zM72.6 358l2.6 4.9l-5.2 0zM74 361.9l2.6 4.9l-5.2 0zM73.7 366.7l2.6 4.9l-5.2 0zM75 369.9l2.6 4.9l-5.2 0zM77.5 374.3l2.6 4.9l-5.2 0zM80.2 377.9l2.6 4.9l-5.2 0zM81.8 381.2l2.6 4.9l-5.2 0zM85.7 383.5l2.6 4.9l-5.2 0zM88.4 386.8l2.6 4.9l-5.2 0zM90.4 389.8l2.6 4.9l-5.2 0zM92.4 394.3l2.6 4.9l-5.2 0zM93.1 398.4l2.6 4.9l-5.2 0zM93 402.3l2.6 4.9l-5.2 0zM94.1 407.2l2.6 4.9l-5.2 0zM95.4 410.1l2.6 4.9l-5.2 0zM97.7 413.7l2.6 4.9l-5.2 0zM100.5 417.5l2.6 4.9l-5.2 0zM103.5 420.2l2.6 4.9l-5.2 0zM105.6 423.8l2.6 4.9l-5.2 0zM107.1 427.9l2.6 4.9l-5.2 0zM108.2 432.4l2.6 4.9l-5.2 0zM108.6 435.7l2.6 4.9l-5.2 0zM109.6 440.2l2.6 4.9l-5.2 0zM111.3 444.2l2.6 4.9l-5.2 0zM113.4 447.5l2.6 4.9l-5.2 0zM115.9 451.5l2.6 4.9l-5.2 0zM117.6 454.1l2.6 4.9l-5.2 0zM120 457.9l2.6 4.9l-5.2 0zM122.3 461.6l2.6 4.9l-5.2 0zM122.9 466.2l2.6 4.9l-5.2 0zM123.9 469.7l2.6 4.9l-5.2 0zM124.9 474l2.6 4.9l-5.2 0zM126 478l2.6 4.9l-5.2 0zM129.4 481.3l2.6 4.9l-5.2 0zM131.2 484.9l2.6 4.9l-5.2 0zM133.6 488.2l2.6 4.9l-5.2 0zM135.3 491.7l2.6 4.9l-5.2 0zM137.9 494.8l2.6 4.9l-5.2 0zM141.1 496.6l2.6 4.9l-5.2 0zM145.8 498.4l2.6 4.9l-5.2 0zM150.1 498.7l2.6 4.9l-5.2 0zM153.6 499.3l2.6 4.9l-5.2 0zM158.6 500l2.6 4.9l-5.2 0zM79.7 371.1l2.6 4.9l-5.2 0zM86.3 382.8l2.6 4.9l-5.2 0zM91.4 391.5l2.6 4.9l-5.2 0zM97.9 394.4l2.6 4.9l-5.2 0zM108.2 406.1l2.6 4.9l-5.2 0zM116.9 414.9l2.6 4.9l-5.2 0zM122.3 424.4l2.6 4.9l-5.2 0zM125 433.7l2.6 4.9l-5.2 0zM128.1 442.3l2.6 4.9l-5.2 0zM135 453.9l2.6 4.9l-5.2 0zM143.6 465.5l2.6 4.9l-5.2 0zM156 477.9l2.6 4.9l-5.2 0z" fill="#fff" fill-opacity="0.6" stroke="#f07098" stroke-width="1.1"/>
<path d="M279.6 304l2.2 2.2l-2.2 2.2l-2.2 -2.2z" fill="#111"/>
<path d="M307.8 304.1l2.1 2.1l-2.1 2.1l-2.1 -2.1z" fill="#fff" stroke="#383838" stroke-width="0.9"/>
<path d="M277.2 325a2.4 2.4 0 1 0 4.8 0a2.4 2.4 0 1 0 -4.8 0z" fill="#ff1010"/>
<path d="M305.8 325a2 2 0 1 0 4 0a2 2 0 1 0 -4 0z" fill="#fff" stroke="#ff1010" stroke-width="1"/>
<path d="M277.3 344.2h4.6M279.6 341.9v4.6" fill="none" stroke="#3535d0" stroke-width="0.9"/>
<path d="M307.8 342l2.3 4.4l-4.6 0z" fill="#12a838"/>
<path d="M279.6 361.1l2 3.8l-4 0z" fill="#fff" stroke="#f07098" stroke-width="0.9"/>
<text x="284.8" y="309.7" font-size="10" font-weight="normal" text-anchor="start" fill="#111" font-family='"Liberation Sans", sans-serif'>1</text>
<text x="312" y="309.7" font-size="10" font-weight="normal" text-anchor="start" fill="#111" font-family='"Liberation Sans", sans-serif'>2</text>
<text x="284.3" y="328.5" font-size="10" font-weight="normal" text-anchor="start" fill="#111" font-family='"Liberation Sans", sans-serif'>3</text>
<text x="312" y="328.5" font-size="10" font-weight="normal" text-anchor="start" fill="#111" font-family='"Liberation Sans", sans-serif'>5</text>
<text x="284.6" y="347.7" font-size="10" font-weight="normal" text-anchor="start" fill="#111" font-family='"Liberation Sans", sans-serif'>10</text>
<text x="311.8" y="347.7" font-size="10" font-weight="normal" text-anchor="start" fill="#111" font-family='"Liberation Sans", sans-serif'>20</text>
<text x="284.3" y="366.7" font-size="10" font-weight="normal" text-anchor="start" fill="#111" font-family='"Liberation Sans", sans-serif'>40</text>
<line x1="400" y1="286" x2="681" y2="286" stroke="#111" stroke-width="2"/>
<line x1="681" y1="286" x2="681" y2="508" stroke="#111" stroke-width="2"/>
<line x1="400" y1="508" x2="681" y2="508" stroke="#111" stroke-width="2"/>
<line x1="400" y1="285" x2="400" y2="511" stroke="#111" stroke-width="2"/>
<line x1="397" y1="508.5" x2="400" y2="508.5" stroke="#111" stroke-width="1.2"/>
<text x="391.2" y="512" font-size="10" font-weight="normal" text-anchor="end" fill="#111" font-family='"Liberation Sans", sans-serif' stroke="#111" stroke-width="0.4">0</text>
<line x1="397" y1="486.2" x2="400" y2="486.2" stroke="#111" stroke-width="1.2"/>
<text x="391.2" y="489.8" font-size="10" font-weight="normal" text-anchor="end" fill="#111" font-family='"Liberation Sans", sans-serif' stroke="#111" stroke-width="0.4">20</text>
<line x1="397" y1="464" x2="400" y2="464" stroke="#111" stroke-width="1.2"/>
<text x="391.2" y="467.5" font-size="10" font-weight="normal" text-anchor="end" fill="#111" font-family='"Liberation Sans", sans-serif' stroke="#111" stroke-width="0.4">40</text>
<line x1="397" y1="441.8" x2="400" y2="441.8" stroke="#111" stroke-width="1.2"/>
<text x="391.2" y="445.2" font-size="10" font-weight="normal" text-anchor="end" fill="#111" font-family='"Liberation Sans", sans-serif' stroke="#111" stroke-width="0.4">60</text>
<line x1="397" y1="419.5" x2="400" y2="419.5" stroke="#111" stroke-width="1.2"/>
<text x="391.2" y="423" font-size="10" font-weight="normal" text-anchor="end" fill="#111" font-family='"Liberation Sans", sans-serif' stroke="#111" stroke-width="0.4">80</text>
<line x1="397" y1="397.2" x2="400" y2="397.2" stroke="#111" stroke-width="1.2"/>
<text x="391.2" y="400.8" font-size="10" font-weight="normal" text-anchor="end" fill="#111" font-family='"Liberation Sans", sans-serif' stroke="#111" stroke-width="0.4">100</text>
<line x1="397" y1="375" x2="400" y2="375" stroke="#111" stroke-width="1.2"/>
<text x="391.2" y="378.5" font-size="10" font-weight="normal" text-anchor="end" fill="#111" font-family='"Liberation Sans", sans-serif' stroke="#111" stroke-width="0.4">120</text>
<line x1="397" y1="352.8" x2="400" y2="352.8" stroke="#111" stroke-width="1.2"/>
<text x="391.2" y="356.2" font-size="10" font-weight="normal" text-anchor="end" fill="#111" font-family='"Liberation Sans", sans-serif' stroke="#111" stroke-width="0.4">140</text>
<line x1="397" y1="330.5" x2="400" y2="330.5" stroke="#111" stroke-width="1.2"/>
<text x="391.2" y="334" font-size="10" font-weight="normal" text-anchor="end" fill="#111" font-family='"Liberation Sans", sans-serif' stroke="#111" stroke-width="0.4">160</text>
<line x1="397" y1="308.2" x2="400" y2="308.2" stroke="#111" stroke-width="1.2"/>
<text x="391.2" y="311.8" font-size="10" font-weight="normal" text-anchor="end" fill="#111" font-family='"Liberation Sans", sans-serif' stroke="#111" stroke-width="0.4">180</text>
<line x1="397" y1="286" x2="400" y2="286" stroke="#111" stroke-width="1.2"/>
<text x="391.2" y="289.5" font-size="10" font-weight="normal" text-anchor="end" fill="#111" font-family='"Liberation Sans", sans-serif' stroke="#111" stroke-width="0.4">200</text>
<line x1="400" y1="508.5" x2="400" y2="511.5" stroke="#111" stroke-width="1.2"/>
<text x="400" y="524.5" font-size="10" font-weight="normal" text-anchor="middle" fill="#111" font-family='"Liberation Sans", sans-serif' stroke="#111" stroke-width="0.4">-2</text>
<line x1="446.8" y1="508.5" x2="446.8" y2="511.5" stroke="#111" stroke-width="1.2"/>
<text x="446.8" y="524.5" font-size="10" font-weight="normal" text-anchor="middle" fill="#111" font-family='"Liberation Sans", sans-serif' stroke="#111" stroke-width="0.4">-1,5</text>
<line x1="493.7" y1="508.5" x2="493.7" y2="511.5" stroke="#111" stroke-width="1.2"/>
<text x="493.7" y="524.5" font-size="10" font-weight="normal" text-anchor="middle" fill="#111" font-family='"Liberation Sans", sans-serif' stroke="#111" stroke-width="0.4">-1</text>
<line x1="540.5" y1="508.5" x2="540.5" y2="511.5" stroke="#111" stroke-width="1.2"/>
<text x="540.5" y="524.5" font-size="10" font-weight="normal" text-anchor="middle" fill="#111" font-family='"Liberation Sans", sans-serif' stroke="#111" stroke-width="0.4">-0,5</text>
<line x1="587.3" y1="508.5" x2="587.3" y2="511.5" stroke="#111" stroke-width="1.2"/>
<text x="587.3" y="524.5" font-size="10" font-weight="normal" text-anchor="middle" fill="#111" font-family='"Liberation Sans", sans-serif' stroke="#111" stroke-width="0.4">0</text>
<line x1="634.2" y1="508.5" x2="634.2" y2="511.5" stroke="#111" stroke-width="1.2"/>
<text x="634.2" y="524.5" font-size="10" font-weight="normal" text-anchor="middle" fill="#111" font-family='"Liberation Sans", sans-serif' stroke="#111" stroke-width="0.4">0,5</text>
<line x1="681" y1="508.5" x2="681" y2="511.5" stroke="#111" stroke-width="1.2"/>
<text x="681" y="524.5" font-size="10" font-weight="normal" text-anchor="middle" fill="#111" font-family='"Liberation Sans", sans-serif' stroke="#111" stroke-width="0.4">1</text>
<text x="368.2" y="399.2" font-size="10.5" font-weight="bold" text-anchor="middle" fill="#111" font-family='"Liberation Sans", sans-serif' transform="rotate(-90 368.2 399.2)" stroke="#111" stroke-width="0.35">Force [kN]</text>
<text x="534" y="544" font-size="11.5" font-weight="bold" text-anchor="middle" fill="#111" font-family='"Liberation Sans", sans-serif' stroke="#111" stroke-width="0.35">Stroke [mm]</text>
<text x="357.5" y="294" font-size="13" font-weight="bold" text-anchor="middle" fill="#111" font-family='"Liberation Serif", serif'>(d)</text>
<text x="637.5" y="310.5" font-size="11.3" font-weight="bold" text-anchor="middle" fill="#111" font-family='"Liberation Sans", sans-serif'>10 passes</text>
<path d="M441.2 322.7a2 2 0 1 0 4 0a2 2 0 1 0 -4 0zM442.1 322.7a2 2 0 1 0 4 0a2 2 0 1 0 -4 0zM443.1 322.2a2 2 0 1 0 4 0a2 2 0 1 0 -4 0zM444.6 321.8a2 2 0 1 0 4 0a2 2 0 1 0 -4 0zM445.5 321.9a2 2 0 1 0 4 0a2 2 0 1 0 -4 0zM446.3 321.7a2 2 0 1 0 4 0a2 2 0 1 0 -4 0zM447.1 341.5a2 2 0 1 0 4 0a2 2 0 1 0 -4 0zM447.9 342.1a2 2 0 1 0 4 0a2 2 0 1 0 -4 0zM448.4 342.9a2 2 0 1 0 4 0a2 2 0 1 0 -4 0zM449.3 344a2 2 0 1 0 4 0a2 2 0 1 0 -4 0zM450.2 344.7a2 2 0 1 0 4 0a2 2 0 1 0 -4 0zM450.8 345.5a2 2 0 1 0 4 0a2 2 0 1 0 -4 0zM451.5 346.1a2 2 0 1 0 4 0a2 2 0 1 0 -4 0zM452.5 347.1a2 2 0 1 0 4 0a2 2 0 1 0 -4 0zM453.2 347.5a2 2 0 1 0 4 0a2 2 0 1 0 -4 0zM453.9 348.4a2 2 0 1 0 4 0a2 2 0 1 0 -4 0zM454.7 349.4a2 2 0 1 0 4 0a2 2 0 1 0 -4 0zM455.4 350.2a2 2 0 1 0 4 0a2 2 0 1 0 -4 0zM456.5 350.6a2 2 0 1 0 4 0a2 2 0 1 0 -4 0zM457 351.7a2 2 0 1 0 4 0a2 2 0 1 0 -4 0zM457.5 352.5a2 2 0 1 0 4 0a2 2 0 1 0 -4 0zM458.6 353.2a2 2 0 1 0 4 0a2 2 0 1 0 -4 0zM459.2 354.1a2 2 0 1 0 4 0a2 2 0 1 0 -4 0zM459.8 355.3a2 2 0 1 0 4 0a2 2 0 1 0 -4 0zM460.3 355.7a2 2 0 1 0 4 0a2 2 0 1 0 -4 0zM461 356.8a2 2 0 1 0 4 0a2 2 0 1 0 -4 0zM461.6 357.5a2 2 0 1 0 4 0a2 2 0 1 0 -4 0zM462.5 358.8a2 2 0 1 0 4 0a2 2 0 1 0 -4 0zM463.2 359.4a2 2 0 1 0 4 0a2 2 0 1 0 -4 0zM464 360.1a2 2 0 1 0 4 0a2 2 0 1 0 -4 0zM464.6 361a2 2 0 1 0 4 0a2 2 0 1 0 -4 0zM465.3 362.2a2 2 0 1 0 4 0a2 2 0 1 0 -4 0zM465.8 362.6a1.7 1.7 0 1 0 3.4 0a1.7 1.7 0 1 0 -3.4 0zM468.1 365.8a1.7 1.7 0 1 0 3.4 0a1.7 1.7 0 1 0 -3.4 0zM469.9 369.5a1.7 1.7 0 1 0 3.4 0a1.7 1.7 0 1 0 -3.4 0zM472.2 372.5a1.7 1.7 0 1 0 3.4 0a1.7 1.7 0 1 0 -3.4 0zM473.9 376.3a1.7 1.7 0 1 0 3.4 0a1.7 1.7 0 1 0 -3.4 0zM475.5 379.6a1.7 1.7 0 1 0 3.4 0a1.7 1.7 0 1 0 -3.4 0zM477.1 383a1.7 1.7 0 1 0 3.4 0a1.7 1.7 0 1 0 -3.4 0zM479.2 386.6a1.7 1.7 0 1 0 3.4 0a1.7 1.7 0 1 0 -3.4 0zM481 389.8a1.7 1.7 0 1 0 3.4 0a1.7 1.7 0 1 0 -3.4 0zM482.5 393.7a1.7 1.7 0 1 0 3.4 0a1.7 1.7 0 1 0 -3.4 0zM484.3 397a1.7 1.7 0 1 0 3.4 0a1.7 1.7 0 1 0 -3.4 0zM485.8 400.8a1.7 1.7 0 1 0 3.4 0a1.7 1.7 0 1 0 -3.4 0zM487.3 404a1.7 1.7 0 1 0 3.4 0a1.7 1.7 0 1 0 -3.4 0zM488.7 407.8a1.7 1.7 0 1 0 3.4 0a1.7 1.7 0 1 0 -3.4 0zM489.8 411.4a1.7 1.7 0 1 0 3.4 0a1.7 1.7 0 1 0 -3.4 0zM491 415.2a1.7 1.7 0 1 0 3.4 0a1.7 1.7 0 1 0 -3.4 0zM492.2 419a1.7 1.7 0 1 0 3.4 0a1.7 1.7 0 1 0 -3.4 0zM493.6 422.7a1.7 1.7 0 1 0 3.4 0a1.7 1.7 0 1 0 -3.4 0zM494.9 426.4a1.7 1.7 0 1 0 3.4 0a1.7 1.7 0 1 0 -3.4 0zM496.7 429.9a1.7 1.7 0 1 0 3.4 0a1.7 1.7 0 1 0 -3.4 0zM498.1 433.4a1.7 1.7 0 1 0 3.4 0a1.7 1.7 0 1 0 -3.4 0zM499.9 436.9a1.7 1.7 0 1 0 3.4 0a1.7 1.7 0 1 0 -3.4 0zM429.5 292.4a2 2 0 1 0 4 0a2 2 0 1 0 -4 0zM429.3 293.2a2 2 0 1 0 4 0a2 2 0 1 0 -4 0zM429.3 294.3a2 2 0 1 0 4 0a2 2 0 1 0 -4 0zM429 295.3a2 2 0 1 0 4 0a2 2 0 1 0 -4 0zM429.6 296.3a2 2 0 1 0 4 0a2 2 0 1 0 -4 0zM429.7 297.6a2 2 0 1 0 4 0a2 2 0 1 0 -4 0zM430.4 298.5a2 2 0 1 0 4 0a2 2 0 1 0 -4 0zM431.4 299.3a2 2 0 1 0 4 0a2 2 0 1 0 -4 0zM431.5 299.9a2 2 0 1 0 4 0a2 2 0 1 0 -4 0zM432.1 301a2 2 0 1 0 4 0a2 2 0 1 0 -4 0zM433.1 302.1a2 2 0 1 0 4 0a2 2 0 1 0 -4 0zM433.8 302.4a2 2 0 1 0 4 0a2 2 0 1 0 -4 0zM434.6 303.2a2 2 0 1 0 4 0a2 2 0 1 0 -4 0zM435.2 304.2a2 2 0 1 0 4 0a2 2 0 1 0 -4 0zM436.3 304.7a2 2 0 1 0 4 0a2 2 0 1 0 -4 0zM436.9 305.8a2 2 0 1 0 4 0a2 2 0 1 0 -4 0zM437.9 306.5a2 2 0 1 0 4 0a2 2 0 1 0 -4 0zM438.6 307.2a2 2 0 1 0 4 0a2 2 0 1 0 -4 0zM439.3 308.3a2 2 0 1 0 4 0a2 2 0 1 0 -4 0zM440.1 309a2 2 0 1 0 4 0a2 2 0 1 0 -4 0zM440.4 309.6a2 2 0 1 0 4 0a2 2 0 1 0 -4 0zM441.4 310.5a2 2 0 1 0 4 0a2 2 0 1 0 -4 0zM442.2 311.2a2 2 0 1 0 4 0a2 2 0 1 0 -4 0zM443 312.1a2 2 0 1 0 4 0a2 2 0 1 0 -4 0zM443.3 312.9a2 2 0 1 0 4 0a2 2 0 1 0 -4 0zM444.3 313.9a2 2 0 1 0 4 0a2 2 0 1 0 -4 0zM445 314.6a2 2 0 1 0 4 0a2 2 0 1 0 -4 0zM445.8 315.8a2 2 0 1 0 4 0a2 2 0 1 0 -4 0zM446.5 316.6a2 2 0 1 0 4 0a2 2 0 1 0 -4 0zM447 317.4a2 2 0 1 0 4 0a2 2 0 1 0 -4 0zM448.2 318a2 2 0 1 0 4 0a2 2 0 1 0 -4 0zM448.7 318.8a2 2 0 1 0 4 0a2 2 0 1 0 -4 0zM449.7 319.4a2 2 0 1 0 4 0a2 2 0 1 0 -4 0zM450.3 320.4a2 2 0 1 0 4 0a2 2 0 1 0 -4 0zM451 321.3a2 2 0 1 0 4 0a2 2 0 1 0 -4 0zM451.9 321.7a2 2 0 1 0 4 0a2 2 0 1 0 -4 0zM452.7 322.7a2 2 0 1 0 4 0a2 2 0 1 0 -4 0zM453.4 323.6a2 2 0 1 0 4 0a2 2 0 1 0 -4 0zM453.9 324.3a2 2 0 1 0 4 0a2 2 0 1 0 -4 0zM454.8 325.3a2 2 0 1 0 4 0a2 2 0 1 0 -4 0zM455.4 326.2a2 2 0 1 0 4 0a2 2 0 1 0 -4 0zM456.3 327a2 2 0 1 0 4 0a2 2 0 1 0 -4 0zM457 327.5a2 2 0 1 0 4 0a2 2 0 1 0 -4 0zM457.5 328.7a2 2 0 1 0 4 0a2 2 0 1 0 -4 0zM458.2 329.5a2 2 0 1 0 4 0a2 2 0 1 0 -4 0zM458.6 330.2a2 2 0 1 0 4 0a2 2 0 1 0 -4 0zM459.6 331.1a2 2 0 1 0 4 0a2 2 0 1 0 -4 0zM460 332a2 2 0 1 0 4 0a2 2 0 1 0 -4 0zM460.9 332.9a2 2 0 1 0 4 0a2 2 0 1 0 -4 0zM461.4 333.9a2 2 0 1 0 4 0a2 2 0 1 0 -4 0zM462.3 334.7a2 2 0 1 0 4 0a2 2 0 1 0 -4 0zM462.8 335.7a2 2 0 1 0 4 0a2 2 0 1 0 -4 0zM463.8 336.6a2 2 0 1 0 4 0a2 2 0 1 0 -4 0zM464.6 337.4a2 2 0 1 0 4 0a2 2 0 1 0 -4 0zM464.8 338a2 2 0 1 0 4 0a2 2 0 1 0 -4 0zM465.6 339.1a2 2 0 1 0 4 0a2 2 0 1 0 -4 0zM466.2 339.7a2 2 0 1 0 4 0a2 2 0 1 0 -4 0zM466.8 340.5a2 2 0 1 0 4 0a2 2 0 1 0 -4 0zM468 341.8a2 2 0 1 0 4 0a2 2 0 1 0 -4 0zM468.4 342.5a2 2 0 1 0 4 0a2 2 0 1 0 -4 0zM469.2 343.2a2 2 0 1 0 4 0a2 2 0 1 0 -4 0zM469.8 344.1a2 2 0 1 0 4 0a2 2 0 1 0 -4 0zM470.5 344.8a2 2 0 1 0 4 0a2 2 0 1 0 -4 0zM471.3 345.6a2 2 0 1 0 4 0a2 2 0 1 0 -4 0zM471.9 346.9a2 2 0 1 0 4 0a2 2 0 1 0 -4 0zM472.3 347.3a2 2 0 1 0 4 0a2 2 0 1 0 -4 0zM473.4 348.2a2 2 0 1 0 4 0a2 2 0 1 0 -4 0zM473.8 349.5a2 2 0 1 0 4 0a2 2 0 1 0 -4 0zM474.6 350a2 2 0 1 0 4 0a2 2 0 1 0 -4 0zM475 350.9a2 2 0 1 0 4 0a2 2 0 1 0 -4 0zM475.8 352.1a2 2 0 1 0 4 0a2 2 0 1 0 -4 0zM476.8 352.9a2 2 0 1 0 4 0a2 2 0 1 0 -4 0zM477.4 353.9a2 2 0 1 0 4 0a2 2 0 1 0 -4 0zM478.1 354.8a2 2 0 1 0 4 0a2 2 0 1 0 -4 0zM478.8 355.2a2 2 0 1 0 4 0a2 2 0 1 0 -4 0zM479.2 356.1a2 2 0 1 0 4 0a2 2 0 1 0 -4 0zM480.1 357a2 2 0 1 0 4 0a2 2 0 1 0 -4 0zM480.7 358a2 2 0 1 0 4 0a2 2 0 1 0 -4 0zM481.6 358.5a2 2 0 1 0 4 0a2 2 0 1 0 -4 0zM482.3 359.4a2 2 0 1 0 4 0a2 2 0 1 0 -4 0zM483.2 360.2a2 2 0 1 0 4 0a2 2 0 1 0 -4 0zM483.9 360.8a2 2 0 1 0 4 0a2 2 0 1 0 -4 0zM484.7 361.6a2 2 0 1 0 4 0a2 2 0 1 0 -4 0zM485.4 362.4a2 2 0 1 0 4 0a2 2 0 1 0 -4 0zM486.4 363a2 2 0 1 0 4 0a2 2 0 1 0 -4 0zM487.6 363.3a2 2 0 1 0 4 0a2 2 0 1 0 -4 0zM488.5 363.9a2 2 0 1 0 4 0a2 2 0 1 0 -4 0zM489.4 364.6a2 2 0 1 0 4 0a2 2 0 1 0 -4 0zM490.5 365.3a2 2 0 1 0 4 0a2 2 0 1 0 -4 0zM491.4 365.5a2 2 0 1 0 4 0a2 2 0 1 0 -4 0zM492.3 365.9a1.7 1.7 0 1 0 3.4 0a1.7 1.7 0 1 0 -3.4 0zM494.6 369a1.7 1.7 0 1 0 3.4 0a1.7 1.7 0 1 0 -3.4 0zM497.3 372.1a1.7 1.7 0 1 0 3.4 0a1.7 1.7 0 1 0 -3.4 0zM499.7 375.1a1.7 1.7 0 1 0 3.4 0a1.7 1.7 0 1 0 -3.4 0zM502.3 377.8a1.7 1.7 0 1 0 3.4 0a1.7 1.7 0 1 0 -3.4 0zM504.5 381.1a1.7 1.7 0 1 0 3.4 0a1.7 1.7 0 1 0 -3.4 0zM506.4 384.4a1.7 1.7 0 1 0 3.4 0a1.7 1.7 0 1 0 -3.4 0zM508 388.2a1.7 1.7 0 1 0 3.4 0a1.7 1.7 0 1 0 -3.4 0zM510.2 391.1a1.7 1.7 0 1 0 3.4 0a1.7 1.7 0 1 0 -3.4 0zM512.4 394.3a1.7 1.7 0 1 0 3.4 0a1.7 1.7 0 1 0 -3.4 0zM514.9 398a1.7 1.7 0 1 0 3.4 0a1.7 1.7 0 1 0 -3.4 0zM517.2 400.8a1.7 1.7 0 1 0 3.4 0a1.7 1.7 0 1 0 -3.4 0zM519.8 403.9a1.7 1.7 0 1 0 3.4 0a1.7 1.7 0 1 0 -3.4 0zM521.8 407a1.7 1.7 0 1 0 3.4 0a1.7 1.7 0 1 0 -3.4 0zM524.4 409.9a1.7 1.7 0 1 0 3.4 0a1.7 1.7 0 1 0 -3.4 0zM526.5 413.2a1.7 1.7 0 1 0 3.4 0a1.7 1.7 0 1 0 -3.4 0zM528.5 416.6a1.7 1.7 0 1 0 3.4 0a1.7 1.7 0 1 0 -3.4 0zM530.5 420.1a1.7 1.7 0 1 0 3.4 0a1.7 1.7 0 1 0 -3.4 0zM531.6 423.7a1.7 1.7 0 1 0 3.4 0a1.7 1.7 0 1 0 -3.4 0zM533.4 427.1a1.7 1.7 0 1 0 3.4 0a1.7 1.7 0 1 0 -3.4 0zM535.6 430.7a1.7 1.7 0 1 0 3.4 0a1.7 1.7 0 1 0 -3.4 0zM537.4 434.2a1.7 1.7 0 1 0 3.4 0a1.7 1.7 0 1 0 -3.4 0zM539.5 436.9a1.7 1.7 0 1 0 3.4 0a1.7 1.7 0 1 0 -3.4 0zM542.1 440.2a1.7 1.7 0 1 0 3.4 0a1.7 1.7 0 1 0 -3.4 0zM545 442.4a1.7 1.7 0 1 0 3.4 0a1.7 1.7 0 1 0 -3.4 0zM548.7 444.1a1.7 1.7 0 1 0 3.4 0a1.7 1.7 0 1 0 -3.4 0zM551.9 446.4a1.7 1.7 0 1 0 3.4 0a1.7 1.7 0 1 0 -3.4 0zM554.9 448.7a1.7 1.7 0 1 0 3.4 0a1.7 1.7 0 1 0 -3.4 0zM556.3 452.5a1.7 1.7 0 1 0 3.4 0a1.7 1.7 0 1 0 -3.4 0zM558.2 455.7a1.7 1.7 0 1 0 3.4 0a1.7 1.7 0 1 0 -3.4 0zM559.4 459.4a1.7 1.7 0 1 0 3.4 0a1.7 1.7 0 1 0 -3.4 0zM561 463.4a1.7 1.7 0 1 0 3.4 0a1.7 1.7 0 1 0 -3.4 0zM562.1 466.7a1.7 1.7 0 1 0 3.4 0a1.7 1.7 0 1 0 -3.4 0zM563.6 470.5a1.7 1.7 0 1 0 3.4 0a1.7 1.7 0 1 0 -3.4 0zM565.1 474.5a1.7 1.7 0 1 0 3.4 0a1.7 1.7 0 1 0 -3.4 0zM566.6 477.9a1.7 1.7 0 1 0 3.4 0a1.7 1.7 0 1 0 -3.4 0zM568.3 481a1.7 1.7 0 1 0 3.4 0a1.7 1.7 0 1 0 -3.4 0zM570.5 484.5a1.7 1.7 0 1 0 3.4 0a1.7 1.7 0 1 0 -3.4 0zM572.6 487.7a1.7 1.7 0 1 0 3.4 0a1.7 1.7 0 1 0 -3.4 0zM575.3 490.8a1.7 1.7 0 1 0 3.4 0a1.7 1.7 0 1 0 -3.4 0zM577.8 493.9a1.7 1.7 0 1 0 3.4 0a1.7 1.7 0 1 0 -3.4 0zM580.1 496.4a1.7 1.7 0 1 0 3.4 0a1.7 1.7 0 1 0 -3.4 0zM583.3 499.4a1.7 1.7 0 1 0 3.4 0a1.7 1.7 0 1 0 -3.4 0zM585.8 502a1.7 1.7 0 1 0 3.4 0a1.7 1.7 0 1 0 -3.4 0zM419.3 297.9a2 2 0 1 0 4 0a2 2 0 1 0 -4 0zM419.9 298.7a2 2 0 1 0 4 0a2 2 0 1 0 -4 0zM420.6 299.5a2 2 0 1 0 4 0a2 2 0 1 0 -4 0zM420.7 300.8a2 2 0 1 0 4 0a2 2 0 1 0 -4 0zM421.5 301.4a2 2 0 1 0 4 0a2 2 0 1 0 -4 0zM422.2 302.4a2 2 0 1 0 4 0a2 2 0 1 0 -4 0zM422.2 303.4a2 2 0 1 0 4 0a2 2 0 1 0 -4 0zM422.6 304.5a2 2 0 1 0 4 0a2 2 0 1 0 -4 0zM423.3 305.6a2 2 0 1 0 4 0a2 2 0 1 0 -4 0zM423.8 306.4a2 2 0 1 0 4 0a2 2 0 1 0 -4 0zM423.8 307.5a2 2 0 1 0 4 0a2 2 0 1 0 -4 0zM424.4 308.5a2 2 0 1 0 4 0a2 2 0 1 0 -4 0zM424.8 309.7a2 2 0 1 0 4 0a2 2 0 1 0 -4 0zM425.2 310.9a2 2 0 1 0 4 0a2 2 0 1 0 -4 0zM425.7 311.9a2 2 0 1 0 4 0a2 2 0 1 0 -4 0zM425.8 312.7a2 2 0 1 0 4 0a2 2 0 1 0 -4 0zM426.6 313.7a2 2 0 1 0 4 0a2 2 0 1 0 -4 0zM426.7 314.8a2 2 0 1 0 4 0a2 2 0 1 0 -4 0zM427.1 315.9a2 2 0 1 0 4 0a2 2 0 1 0 -4 0zM427.9 316.5a2 2 0 1 0 4 0a2 2 0 1 0 -4 0zM428.5 317.7a2 2 0 1 0 4 0a2 2 0 1 0 -4 0zM428.7 318.8a2 2 0 1 0 4 0a2 2 0 1 0 -4 0zM429.5 319.6a2 2 0 1 0 4 0a2 2 0 1 0 -4 0zM429.5 320.5a2 2 0 1 0 4 0a2 2 0 1 0 -4 0zM430 321.7a2 2 0 1 0 4 0a2 2 0 1 0 -4 0zM430.7 322.8a2 2 0 1 0 4 0a2 2 0 1 0 -4 0zM431.1 323.4a2 2 0 1 0 4 0a2 2 0 1 0 -4 0zM431.7 324.4a2 2 0 1 0 4 0a2 2 0 1 0 -4 0zM432.1 325.5a2 2 0 1 0 4 0a2 2 0 1 0 -4 0zM432.5 326.7a2 2 0 1 0 4 0a2 2 0 1 0 -4 0zM433.4 327.5a2 2 0 1 0 4 0a2 2 0 1 0 -4 0zM433.8 328.5a2 2 0 1 0 4 0a2 2 0 1 0 -4 0zM434.4 329.6a2 2 0 1 0 4 0a2 2 0 1 0 -4 0zM434.5 330.6a2 2 0 1 0 4 0a2 2 0 1 0 -4 0zM435.1 331.3a2 2 0 1 0 4 0a2 2 0 1 0 -4 0zM435.4 332.7a2 2 0 1 0 4 0a2 2 0 1 0 -4 0zM436.3 333.4a2 2 0 1 0 4 0a2 2 0 1 0 -4 0zM436.7 334.6a2 2 0 1 0 4 0a2 2 0 1 0 -4 0zM436.9 335.5a2 2 0 1 0 4 0a2 2 0 1 0 -4 0zM437.7 336.7a2 2 0 1 0 4 0a2 2 0 1 0 -4 0zM437.9 337.5a2 2 0 1 0 4 0a2 2 0 1 0 -4 0zM438.6 338.6a2 2 0 1 0 4 0a2 2 0 1 0 -4 0zM439 339.5a2 2 0 1 0 4 0a2 2 0 1 0 -4 0zM439.8 340.3a2 2 0 1 0 4 0a2 2 0 1 0 -4 0zM440.1 341.6a2 2 0 1 0 4 0a2 2 0 1 0 -4 0zM440.3 342.6a2 2 0 1 0 4 0a2 2 0 1 0 -4 0zM440.9 343.3a2 2 0 1 0 4 0a2 2 0 1 0 -4 0zM441.4 344.5a2 2 0 1 0 4 0a2 2 0 1 0 -4 0zM442 345.4a2 2 0 1 0 4 0a2 2 0 1 0 -4 0zM442.3 346.5a2 2 0 1 0 4 0a2 2 0 1 0 -4 0zM443.2 347.3a2 2 0 1 0 4 0a2 2 0 1 0 -4 0zM443.4 348.1a2 2 0 1 0 4 0a2 2 0 1 0 -4 0zM444 349a2 2 0 1 0 4 0a2 2 0 1 0 -4 0zM444.7 350.2a2 2 0 1 0 4 0a2 2 0 1 0 -4 0zM445.2 351a2 2 0 1 0 4 0a2 2 0 1 0 -4 0zM445.6 352.3a2 2 0 1 0 4 0a2 2 0 1 0 -4 0zM446.1 353.1a2 2 0 1 0 4 0a2 2 0 1 0 -4 0zM446.1 354.2a2 2 0 1 0 4 0a2 2 0 1 0 -4 0zM446.7 355.4a2 2 0 1 0 4 0a2 2 0 1 0 -4 0zM447.4 356.5a2 2 0 1 0 4 0a2 2 0 1 0 -4 0zM447.8 357.1a2 2 0 1 0 4 0a2 2 0 1 0 -4 0zM447.7 358.2a2 2 0 1 0 4 0a2 2 0 1 0 -4 0zM448.2 358.5a1.7 1.7 0 1 0 3.4 0a1.7 1.7 0 1 0 -3.4 0zM451.7 360.8a1.7 1.7 0 1 0 3.4 0a1.7 1.7 0 1 0 -3.4 0zM454.4 363.6a1.7 1.7 0 1 0 3.4 0a1.7 1.7 0 1 0 -3.4 0zM456.4 367.1a1.7 1.7 0 1 0 3.4 0a1.7 1.7 0 1 0 -3.4 0zM458.6 370.3a1.7 1.7 0 1 0 3.4 0a1.7 1.7 0 1 0 -3.4 0zM460.9 373.4a1.7 1.7 0 1 0 3.4 0a1.7 1.7 0 1 0 -3.4 0zM463 376.6a1.7 1.7 0 1 0 3.4 0a1.7 1.7 0 1 0 -3.4 0zM465.5 379.6a1.7 1.7 0 1 0 3.4 0a1.7 1.7 0 1 0 -3.4 0zM467.4 383.1a1.7 1.7 0 1 0 3.4 0a1.7 1.7 0 1 0 -3.4 0zM469.3 386.5a1.7 1.7 0 1 0 3.4 0a1.7 1.7 0 1 0 -3.4 0zM471.3 389.7a1.7 1.7 0 1 0 3.4 0a1.7 1.7 0 1 0 -3.4 0zM473 393.4a1.7 1.7 0 1 0 3.4 0a1.7 1.7 0 1 0 -3.4 0zM474.7 396.8a1.7 1.7 0 1 0 3.4 0a1.7 1.7 0 1 0 -3.4 0zM476.5 400.3a1.7 1.7 0 1 0 3.4 0a1.7 1.7 0 1 0 -3.4 0zM478 403.7a1.7 1.7 0 1 0 3.4 0a1.7 1.7 0 1 0 -3.4 0zM480.1 407.4a1.7 1.7 0 1 0 3.4 0a1.7 1.7 0 1 0 -3.4 0zM481.4 410.8a1.7 1.7 0 1 0 3.4 0a1.7 1.7 0 1 0 -3.4 0zM483.1 414.4a1.7 1.7 0 1 0 3.4 0a1.7 1.7 0 1 0 -3.4 0zM484.3 418.1a1.7 1.7 0 1 0 3.4 0a1.7 1.7 0 1 0 -3.4 0zM486.1 421.7a1.7 1.7 0 1 0 3.4 0a1.7 1.7 0 1 0 -3.4 0zM487.6 425.3a1.7 1.7 0 1 0 3.4 0a1.7 1.7 0 1 0 -3.4 0zM488.6 428.8a1.7 1.7 0 1 0 3.4 0a1.7 1.7 0 1 0 -3.4 0zM490.2 432.4a1.7 1.7 0 1 0 3.4 0a1.7 1.7 0 1 0 -3.4 0zM491.4 436.4a1.7 1.7 0 1 0 3.4 0a1.7 1.7 0 1 0 -3.4 0zM492.4 439.9a1.7 1.7 0 1 0 3.4 0a1.7 1.7 0 1 0 -3.4 0zM492.9 444.1a1.7 1.7 0 1 0 3.4 0a1.7 1.7 0 1 0 -3.4 0zM494 447.6a1.7 1.7 0 1 0 3.4 0a1.7 1.7 0 1 0 -3.4 0zM494.9 451.6a1.7 1.7 0 1 0 3.4 0a1.7 1.7 0 1 0 -3.4 0zM496 455.3a1.7 1.7 0 1 0 3.4 0a1.7 1.7 0 1 0 -3.4 0zM497.3 459.1a1.7 1.7 0 1 0 3.4 0a1.7 1.7 0 1 0 -3.4 0zM499.2 462.2a1.7 1.7 0 1 0 3.4 0a1.7 1.7 0 1 0 -3.4 0zM501.1 465.9a1.7 1.7 0 1 0 3.4 0a1.7 1.7 0 1 0 -3.4 0zM503.2 469.1a1.7 1.7 0 1 0 3.4 0a1.7 1.7 0 1 0 -3.4 0zM505.9 472.2a1.7 1.7 0 1 0 3.4 0a1.7 1.7 0 1 0 -3.4 0zM508 475.2a1.7 1.7 0 1 0 3.4 0a1.7 1.7 0 1 0 -3.4 0zM510.6 478.2a1.7 1.7 0 1 0 3.4 0a1.7 1.7 0 1 0 -3.4 0zM512.9 481a1.7 1.7 0 1 0 3.4 0a1.7 1.7 0 1 0 -3.4 0zM515.6 484.2a1.7 1.7 0 1 0 3.4 0a1.7 1.7 0 1 0 -3.4 0zM518.2 486.7a1.7 1.7 0 1 0 3.4 0a1.7 1.7 0 1 0 -3.4 0zM520.8 489.8a1.7 1.7 0 1 0 3.4 0a1.7 1.7 0 1 0 -3.4 0zM523.9 492.5a1.7 1.7 0 1 0 3.4 0a1.7 1.7 0 1 0 -3.4 0zM526.3 495.3a1.7 1.7 0 1 0 3.4 0a1.7 1.7 0 1 0 -3.4 0zM529.4 497.8a1.7 1.7 0 1 0 3.4 0a1.7 1.7 0 1 0 -3.4 0zM532.2 500.4a1.7 1.7 0 1 0 3.4 0a1.7 1.7 0 1 0 -3.4 0zM535.3 502.6a1.7 1.7 0 1 0 3.4 0a1.7 1.7 0 1 0 -3.4 0zM431 324.2a1.7 1.7 0 1 0 3.4 0a1.7 1.7 0 1 0 -3.4 0zM432.8 327.8a1.7 1.7 0 1 0 3.4 0a1.7 1.7 0 1 0 -3.4 0zM434 331.9a1.7 1.7 0 1 0 3.4 0a1.7 1.7 0 1 0 -3.4 0zM435.1 335.3a1.7 1.7 0 1 0 3.4 0a1.7 1.7 0 1 0 -3.4 0zM436.4 339.2a1.7 1.7 0 1 0 3.4 0a1.7 1.7 0 1 0 -3.4 0zM438.5 342.7a1.7 1.7 0 1 0 3.4 0a1.7 1.7 0 1 0 -3.4 0zM439.8 346.1a1.7 1.7 0 1 0 3.4 0a1.7 1.7 0 1 0 -3.4 0zM440.6 350a1.7 1.7 0 1 0 3.4 0a1.7 1.7 0 1 0 -3.4 0zM441.5 353.6a1.7 1.7 0 1 0 3.4 0a1.7 1.7 0 1 0 -3.4 0zM443.3 357.1a1.7 1.7 0 1 0 3.4 0a1.7 1.7 0 1 0 -3.4 0zM445.8 360.4a1.7 1.7 0 1 0 3.4 0a1.7 1.7 0 1 0 -3.4 0zM447.8 363.1a1.7 1.7 0 1 0 3.4 0a1.7 1.7 0 1 0 -3.4 0zM450 366.5a1.7 1.7 0 1 0 3.4 0a1.7 1.7 0 1 0 -3.4 0zM452 370.1a1.7 1.7 0 1 0 3.4 0a1.7 1.7 0 1 0 -3.4 0zM454.1 373.3a1.7 1.7 0 1 0 3.4 0a1.7 1.7 0 1 0 -3.4 0zM456 376.9a1.7 1.7 0 1 0 3.4 0a1.7 1.7 0 1 0 -3.4 0zM457.2 380.3a1.7 1.7 0 1 0 3.4 0a1.7 1.7 0 1 0 -3.4 0zM459 383.9a1.7 1.7 0 1 0 3.4 0a1.7 1.7 0 1 0 -3.4 0zM460.3 387.5a1.7 1.7 0 1 0 3.4 0a1.7 1.7 0 1 0 -3.4 0zM461 391.3a1.7 1.7 0 1 0 3.4 0a1.7 1.7 0 1 0 -3.4 0zM462.3 395.1a1.7 1.7 0 1 0 3.4 0a1.7 1.7 0 1 0 -3.4 0zM463.3 398.8a1.7 1.7 0 1 0 3.4 0a1.7 1.7 0 1 0 -3.4 0zM464.8 402.8a1.7 1.7 0 1 0 3.4 0a1.7 1.7 0 1 0 -3.4 0zM465.6 406.2a1.7 1.7 0 1 0 3.4 0a1.7 1.7 0 1 0 -3.4 0zM466.4 410a1.7 1.7 0 1 0 3.4 0a1.7 1.7 0 1 0 -3.4 0zM466.9 414.2a1.7 1.7 0 1 0 3.4 0a1.7 1.7 0 1 0 -3.4 0zM467.9 417.6a1.7 1.7 0 1 0 3.4 0a1.7 1.7 0 1 0 -3.4 0zM469.1 421.4a1.7 1.7 0 1 0 3.4 0a1.7 1.7 0 1 0 -3.4 0zM469.7 425.2a1.7 1.7 0 1 0 3.4 0a1.7 1.7 0 1 0 -3.4 0zM471 429.3a1.7 1.7 0 1 0 3.4 0a1.7 1.7 0 1 0 -3.4 0zM472.5 432.4a1.7 1.7 0 1 0 3.4 0a1.7 1.7 0 1 0 -3.4 0zM474.8 435.8a1.7 1.7 0 1 0 3.4 0a1.7 1.7 0 1 0 -3.4 0zM476.4 439.6a1.7 1.7 0 1 0 3.4 0a1.7 1.7 0 1 0 -3.4 0zM478.2 442.9a1.7 1.7 0 1 0 3.4 0a1.7 1.7 0 1 0 -3.4 0zM479.9 446.2a1.7 1.7 0 1 0 3.4 0a1.7 1.7 0 1 0 -3.4 0zM481 450a1.7 1.7 0 1 0 3.4 0a1.7 1.7 0 1 0 -3.4 0zM481.6 453.8a1.7 1.7 0 1 0 3.4 0a1.7 1.7 0 1 0 -3.4 0zM482 458a1.7 1.7 0 1 0 3.4 0a1.7 1.7 0 1 0 -3.4 0zM483.5 461.5a1.7 1.7 0 1 0 3.4 0a1.7 1.7 0 1 0 -3.4 0zM484.9 464.9a1.7 1.7 0 1 0 3.4 0a1.7 1.7 0 1 0 -3.4 0zM486.3 469a1.7 1.7 0 1 0 3.4 0a1.7 1.7 0 1 0 -3.4 0zM487.7 472.4a1.7 1.7 0 1 0 3.4 0a1.7 1.7 0 1 0 -3.4 0zM489.2 476.3a1.7 1.7 0 1 0 3.4 0a1.7 1.7 0 1 0 -3.4 0zM491.1 479.1a1.7 1.7 0 1 0 3.4 0a1.7 1.7 0 1 0 -3.4 0zM493.4 482.2a1.7 1.7 0 1 0 3.4 0a1.7 1.7 0 1 0 -3.4 0zM495.9 485.2a1.7 1.7 0 1 0 3.4 0a1.7 1.7 0 1 0 -3.4 0zM498.4 488.2a1.7 1.7 0 1 0 3.4 0a1.7 1.7 0 1 0 -3.4 0zM501.2 491a1.7 1.7 0 1 0 3.4 0a1.7 1.7 0 1 0 -3.4 0zM504.3 493.9a1.7 1.7 0 1 0 3.4 0a1.7 1.7 0 1 0 -3.4 0zM506.7 496.6a1.7 1.7 0 1 0 3.4 0a1.7 1.7 0 1 0 -3.4 0zM509.6 499.3a1.7 1.7 0 1 0 3.4 0a1.7 1.7 0 1 0 -3.4 0zM513 501.5a1.7 1.7 0 1 0 3.4 0a1.7 1.7 0 1 0 -3.4 0zM516.2 503.7a1.7 1.7 0 1 0 3.4 0a1.7 1.7 0 1 0 -3.4 0zM519.7 505.2a1.7 1.7 0 1 0 3.4 0a1.7 1.7 0 1 0 -3.4 0zM441.8 322.8a2 2 0 1 0 4 0a2 2 0 1 0 -4 0zM442.8 322.5a2 2 0 1 0 4 0a2 2 0 1 0 -4 0zM444.2 322.3a2 2 0 1 0 4 0a2 2 0 1 0 -4 0zM445.1 322.1a2 2 0 1 0 4 0a2 2 0 1 0 -4 0zM446.1 322.1a2 2 0 1 0 4 0a2 2 0 1 0 -4 0zM447.3 321.6a2 2 0 1 0 4 0a2 2 0 1 0 -4 0zM448.2 322.2a2 2 0 1 0 4 0a2 2 0 1 0 -4 0zM448.6 323.2a2 2 0 1 0 4 0a2 2 0 1 0 -4 0zM449.8 324.1a2 2 0 1 0 4 0a2 2 0 1 0 -4 0zM450.5 324.9a2 2 0 1 0 4 0a2 2 0 1 0 -4 0zM451.4 325.5a2 2 0 1 0 4 0a2 2 0 1 0 -4 0zM451.7 326.4a2 2 0 1 0 4 0a2 2 0 1 0 -4 0zM452.5 327.3a2 2 0 1 0 4 0a2 2 0 1 0 -4 0zM453.1 327.9a2 2 0 1 0 4 0a2 2 0 1 0 -4 0zM453.7 328.8a2 2 0 1 0 4 0a2 2 0 1 0 -4 0zM454.6 329.9a2 2 0 1 0 4 0a2 2 0 1 0 -4 0zM455.2 330.6a2 2 0 1 0 4 0a2 2 0 1 0 -4 0zM456 331.6a2 2 0 1 0 4 0a2 2 0 1 0 -4 0zM456.5 332.3a2 2 0 1 0 4 0a2 2 0 1 0 -4 0zM457.4 333.3a2 2 0 1 0 4 0a2 2 0 1 0 -4 0zM457.8 334.1a2 2 0 1 0 4 0a2 2 0 1 0 -4 0zM458.5 335.1a2 2 0 1 0 4 0a2 2 0 1 0 -4 0zM459.1 336.1a2 2 0 1 0 4 0a2 2 0 1 0 -4 0zM459.8 336.9a2 2 0 1 0 4 0a2 2 0 1 0 -4 0zM460.6 337.6a2 2 0 1 0 4 0a2 2 0 1 0 -4 0zM461.3 338.4a2 2 0 1 0 4 0a2 2 0 1 0 -4 0zM461.7 339.7a2 2 0 1 0 4 0a2 2 0 1 0 -4 0zM462.3 340.3a2 2 0 1 0 4 0a2 2 0 1 0 -4 0zM463.1 341.5a2 2 0 1 0 4 0a2 2 0 1 0 -4 0zM464 342a2 2 0 1 0 4 0a2 2 0 1 0 -4 0zM464.5 343.2a2 2 0 1 0 4 0a2 2 0 1 0 -4 0zM465.1 343.8a2 2 0 1 0 4 0a2 2 0 1 0 -4 0zM465.6 344.6a2 2 0 1 0 4 0a2 2 0 1 0 -4 0zM466.2 345.4a2 2 0 1 0 4 0a2 2 0 1 0 -4 0zM467.2 346.6a2 2 0 1 0 4 0a2 2 0 1 0 -4 0zM467.5 347.7a2 2 0 1 0 4 0a2 2 0 1 0 -4 0zM468.6 348.3a2 2 0 1 0 4 0a2 2 0 1 0 -4 0zM469 349.4a2 2 0 1 0 4 0a2 2 0 1 0 -4 0zM469.8 350.2a2 2 0 1 0 4 0a2 2 0 1 0 -4 0zM470.2 351.1a2 2 0 1 0 4 0a2 2 0 1 0 -4 0zM471 351.6a2 2 0 1 0 4 0a2 2 0 1 0 -4 0zM471.5 352.6a2 2 0 1 0 4 0a2 2 0 1 0 -4 0zM472.2 353.5a2 2 0 1 0 4 0a2 2 0 1 0 -4 0zM473 354.6a2 2 0 1 0 4 0a2 2 0 1 0 -4 0zM473.1 355.4a2 2 0 1 0 4 0a2 2 0 1 0 -4 0zM473.5 356.5a2 2 0 1 0 4 0a2 2 0 1 0 -4 0zM474.2 357.4a2 2 0 1 0 4 0a2 2 0 1 0 -4 0zM474.7 358.5a2 2 0 1 0 4 0a2 2 0 1 0 -4 0zM474.9 358.7a1.7 1.7 0 1 0 3.4 0a1.7 1.7 0 1 0 -3.4 0zM478 360.9a1.7 1.7 0 1 0 3.4 0a1.7 1.7 0 1 0 -3.4 0zM481.2 363.6a1.7 1.7 0 1 0 3.4 0a1.7 1.7 0 1 0 -3.4 0zM483.5 366.7a1.7 1.7 0 1 0 3.4 0a1.7 1.7 0 1 0 -3.4 0zM486.2 369.7a1.7 1.7 0 1 0 3.4 0a1.7 1.7 0 1 0 -3.4 0zM488.9 372.7a1.7 1.7 0 1 0 3.4 0a1.7 1.7 0 1 0 -3.4 0zM491.2 375.7a1.7 1.7 0 1 0 3.4 0a1.7 1.7 0 1 0 -3.4 0zM493.4 378.4a1.7 1.7 0 1 0 3.4 0a1.7 1.7 0 1 0 -3.4 0zM495.5 381.8a1.7 1.7 0 1 0 3.4 0a1.7 1.7 0 1 0 -3.4 0zM497.8 385.1a1.7 1.7 0 1 0 3.4 0a1.7 1.7 0 1 0 -3.4 0zM499.4 388.7a1.7 1.7 0 1 0 3.4 0a1.7 1.7 0 1 0 -3.4 0zM500.8 392.4a1.7 1.7 0 1 0 3.4 0a1.7 1.7 0 1 0 -3.4 0zM502.4 396.2a1.7 1.7 0 1 0 3.4 0a1.7 1.7 0 1 0 -3.4 0zM503 399.7a1.7 1.7 0 1 0 3.4 0a1.7 1.7 0 1 0 -3.4 0zM504.2 403.8a1.7 1.7 0 1 0 3.4 0a1.7 1.7 0 1 0 -3.4 0zM505 407.2a1.7 1.7 0 1 0 3.4 0a1.7 1.7 0 1 0 -3.4 0zM505.4 411.2a1.7 1.7 0 1 0 3.4 0a1.7 1.7 0 1 0 -3.4 0zM506.2 415a1.7 1.7 0 1 0 3.4 0a1.7 1.7 0 1 0 -3.4 0zM508.2 418.5a1.7 1.7 0 1 0 3.4 0a1.7 1.7 0 1 0 -3.4 0zM509.6 422a1.7 1.7 0 1 0 3.4 0a1.7 1.7 0 1 0 -3.4 0zM510.8 425.8a1.7 1.7 0 1 0 3.4 0a1.7 1.7 0 1 0 -3.4 0zM511.5 429.4a1.7 1.7 0 1 0 3.4 0a1.7 1.7 0 1 0 -3.4 0zM512.8 433.6a1.7 1.7 0 1 0 3.4 0a1.7 1.7 0 1 0 -3.4 0zM513.5 437a1.7 1.7 0 1 0 3.4 0a1.7 1.7 0 1 0 -3.4 0zM514.5 441a1.7 1.7 0 1 0 3.4 0a1.7 1.7 0 1 0 -3.4 0zM516.2 444.7a1.7 1.7 0 1 0 3.4 0a1.7 1.7 0 1 0 -3.4 0zM517.8 448.1a1.7 1.7 0 1 0 3.4 0a1.7 1.7 0 1 0 -3.4 0zM519.2 451.9a1.7 1.7 0 1 0 3.4 0a1.7 1.7 0 1 0 -3.4 0zM521.7 454.6a1.7 1.7 0 1 0 3.4 0a1.7 1.7 0 1 0 -3.4 0zM523.8 457.7a1.7 1.7 0 1 0 3.4 0a1.7 1.7 0 1 0 -3.4 0zM526.4 460.8a1.7 1.7 0 1 0 3.4 0a1.7 1.7 0 1 0 -3.4 0zM529.8 463.2a1.7 1.7 0 1 0 3.4 0a1.7 1.7 0 1 0 -3.4 0zM532.6 465.9a1.7 1.7 0 1 0 3.4 0a1.7 1.7 0 1 0 -3.4 0zM535.1 468.7a1.7 1.7 0 1 0 3.4 0a1.7 1.7 0 1 0 -3.4 0zM537.7 471.7a1.7 1.7 0 1 0 3.4 0a1.7 1.7 0 1 0 -3.4 0zM539.8 474.6a1.7 1.7 0 1 0 3.4 0a1.7 1.7 0 1 0 -3.4 0zM542.7 477.9a1.7 1.7 0 1 0 3.4 0a1.7 1.7 0 1 0 -3.4 0zM545.3 480.8a1.7 1.7 0 1 0 3.4 0a1.7 1.7 0 1 0 -3.4 0zM547.6 483.5a1.7 1.7 0 1 0 3.4 0a1.7 1.7 0 1 0 -3.4 0zM550.2 486.7a1.7 1.7 0 1 0 3.4 0a1.7 1.7 0 1 0 -3.4 0zM552.6 489.4a1.7 1.7 0 1 0 3.4 0a1.7 1.7 0 1 0 -3.4 0zM555.6 492.3a1.7 1.7 0 1 0 3.4 0a1.7 1.7 0 1 0 -3.4 0zM558.1 494.8a1.7 1.7 0 1 0 3.4 0a1.7 1.7 0 1 0 -3.4 0zM560.9 497.6a1.7 1.7 0 1 0 3.4 0a1.7 1.7 0 1 0 -3.4 0zM563.8 500.3a1.7 1.7 0 1 0 3.4 0a1.7 1.7 0 1 0 -3.4 0zM464.1 332a2 2 0 1 0 4 0a2 2 0 1 0 -4 0zM465 332.3a2 2 0 1 0 4 0a2 2 0 1 0 -4 0zM466.1 332.6a2 2 0 1 0 4 0a2 2 0 1 0 -4 0zM467.2 333a2 2 0 1 0 4 0a2 2 0 1 0 -4 0zM468 333.5a2 2 0 1 0 4 0a2 2 0 1 0 -4 0zM469.2 333.9a2 2 0 1 0 4 0a2 2 0 1 0 -4 0zM470.1 334.2a2 2 0 1 0 4 0a2 2 0 1 0 -4 0zM470.9 335.1a2 2 0 1 0 4 0a2 2 0 1 0 -4 0zM471.8 335.6a2 2 0 1 0 4 0a2 2 0 1 0 -4 0zM472.7 336.2a2 2 0 1 0 4 0a2 2 0 1 0 -4 0zM473.3 336.9a2 2 0 1 0 4 0a2 2 0 1 0 -4 0zM474.6 337.6a2 2 0 1 0 4 0a2 2 0 1 0 -4 0zM475.2 338.3a2 2 0 1 0 4 0a2 2 0 1 0 -4 0zM475.9 339.3a2 2 0 1 0 4 0a2 2 0 1 0 -4 0zM476.5 340.4a2 2 0 1 0 4 0a2 2 0 1 0 -4 0zM477.2 341.2a2 2 0 1 0 4 0a2 2 0 1 0 -4 0zM477.9 341.8a2 2 0 1 0 4 0a2 2 0 1 0 -4 0zM478.3 342.8a2 2 0 1 0 4 0a2 2 0 1 0 -4 0zM479.1 343.9a2 2 0 1 0 4 0a2 2 0 1 0 -4 0zM479.6 344.5a2 2 0 1 0 4 0a2 2 0 1 0 -4 0zM480.5 345.5a2 2 0 1 0 4 0a2 2 0 1 0 -4 0zM480.9 346.3a2 2 0 1 0 4 0a2 2 0 1 0 -4 0zM481.5 347.1a2 2 0 1 0 4 0a2 2 0 1 0 -4 0zM482.6 348.1a2 2 0 1 0 4 0a2 2 0 1 0 -4 0zM483.2 349a2 2 0 1 0 4 0a2 2 0 1 0 -4 0zM483.9 350.2a2 2 0 1 0 4 0a2 2 0 1 0 -4 0zM484.2 350.9a2 2 0 1 0 4 0a2 2 0 1 0 -4 0zM485.3 351.9a2 2 0 1 0 4 0a2 2 0 1 0 -4 0zM485.5 352.7a2 2 0 1 0 4 0a2 2 0 1 0 -4 0zM486.5 353.3a2 2 0 1 0 4 0a2 2 0 1 0 -4 0zM487.1 354.4a2 2 0 1 0 4 0a2 2 0 1 0 -4 0zM487.5 355.4a2 2 0 1 0 4 0a2 2 0 1 0 -4 0zM488.5 356a2 2 0 1 0 4 0a2 2 0 1 0 -4 0zM488.9 357.1a2 2 0 1 0 4 0a2 2 0 1 0 -4 0zM489.3 358a2 2 0 1 0 4 0a2 2 0 1 0 -4 0zM490.4 358.8a2 2 0 1 0 4 0a2 2 0 1 0 -4 0zM490.8 360a2 2 0 1 0 4 0a2 2 0 1 0 -4 0zM491.6 361a2 2 0 1 0 4 0a2 2 0 1 0 -4 0zM491.8 361.9a2 2 0 1 0 4 0a2 2 0 1 0 -4 0zM492.6 362.5a2 2 0 1 0 4 0a2 2 0 1 0 -4 0zM493.1 363.6a2 2 0 1 0 4 0a2 2 0 1 0 -4 0zM493.9 364.3a2 2 0 1 0 4 0a2 2 0 1 0 -4 0zM494.5 365.3a2 2 0 1 0 4 0a2 2 0 1 0 -4 0zM495.2 366a2 2 0 1 0 4 0a2 2 0 1 0 -4 0zM496 366.8a2 2 0 1 0 4 0a2 2 0 1 0 -4 0zM496.5 367.9a2 2 0 1 0 4 0a2 2 0 1 0 -4 0zM497.3 368.6a2 2 0 1 0 4 0a2 2 0 1 0 -4 0zM498.4 369.2a2 2 0 1 0 4 0a2 2 0 1 0 -4 0zM499.1 369.9a2 2 0 1 0 4 0a2 2 0 1 0 -4 0zM499.7 371a2 2 0 1 0 4 0a2 2 0 1 0 -4 0zM500.7 371.7a2 2 0 1 0 4 0a2 2 0 1 0 -4 0zM501.3 372.2a2 2 0 1 0 4 0a2 2 0 1 0 -4 0zM502.2 373.5a2 2 0 1 0 4 0a2 2 0 1 0 -4 0zM502.7 374.2a2 2 0 1 0 4 0a2 2 0 1 0 -4 0zM503.3 375.2a2 2 0 1 0 4 0a2 2 0 1 0 -4 0zM504.3 375.6a2 2 0 1 0 4 0a2 2 0 1 0 -4 0zM505 376.7a2 2 0 1 0 4 0a2 2 0 1 0 -4 0zM505.5 377.5a2 2 0 1 0 4 0a2 2 0 1 0 -4 0zM506.5 378.1a1.7 1.7 0 1 0 3.4 0a1.7 1.7 0 1 0 -3.4 0zM508 381.7a1.7 1.7 0 1 0 3.4 0a1.7 1.7 0 1 0 -3.4 0zM509.9 385.1a1.7 1.7 0 1 0 3.4 0a1.7 1.7 0 1 0 -3.4 0zM511.6 388.6a1.7 1.7 0 1 0 3.4 0a1.7 1.7 0 1 0 -3.4 0zM513.4 392a1.7 1.7 0 1 0 3.4 0a1.7 1.7 0 1 0 -3.4 0zM515 395.3a1.7 1.7 0 1 0 3.4 0a1.7 1.7 0 1 0 -3.4 0zM516.8 399a1.7 1.7 0 1 0 3.4 0a1.7 1.7 0 1 0 -3.4 0zM518.4 402.2a1.7 1.7 0 1 0 3.4 0a1.7 1.7 0 1 0 -3.4 0zM519.9 406.2a1.7 1.7 0 1 0 3.4 0a1.7 1.7 0 1 0 -3.4 0zM521.1 409.6a1.7 1.7 0 1 0 3.4 0a1.7 1.7 0 1 0 -3.4 0zM522.5 413.6a1.7 1.7 0 1 0 3.4 0a1.7 1.7 0 1 0 -3.4 0zM524.1 416.9a1.7 1.7 0 1 0 3.4 0a1.7 1.7 0 1 0 -3.4 0zM525.5 420.6a1.7 1.7 0 1 0 3.4 0a1.7 1.7 0 1 0 -3.4 0zM527.2 424.2a1.7 1.7 0 1 0 3.4 0a1.7 1.7 0 1 0 -3.4 0zM529.2 427.2a1.7 1.7 0 1 0 3.4 0a1.7 1.7 0 1 0 -3.4 0zM531.2 430.8a1.7 1.7 0 1 0 3.4 0a1.7 1.7 0 1 0 -3.4 0zM532.7 434.6a1.7 1.7 0 1 0 3.4 0a1.7 1.7 0 1 0 -3.4 0zM533.9 437.9a1.7 1.7 0 1 0 3.4 0a1.7 1.7 0 1 0 -3.4 0zM535.6 441.9a1.7 1.7 0 1 0 3.4 0a1.7 1.7 0 1 0 -3.4 0zM537.1 445.1a1.7 1.7 0 1 0 3.4 0a1.7 1.7 0 1 0 -3.4 0zM538.6 448.8a1.7 1.7 0 1 0 3.4 0a1.7 1.7 0 1 0 -3.4 0zM540.2 452.5a1.7 1.7 0 1 0 3.4 0a1.7 1.7 0 1 0 -3.4 0zM542.4 456a1.7 1.7 0 1 0 3.4 0a1.7 1.7 0 1 0 -3.4 0zM544.1 459.5a1.7 1.7 0 1 0 3.4 0a1.7 1.7 0 1 0 -3.4 0zM545.6 462.8a1.7 1.7 0 1 0 3.4 0a1.7 1.7 0 1 0 -3.4 0zM547.6 466a1.7 1.7 0 1 0 3.4 0a1.7 1.7 0 1 0 -3.4 0zM549 470a1.7 1.7 0 1 0 3.4 0a1.7 1.7 0 1 0 -3.4 0zM550.7 473.4a1.7 1.7 0 1 0 3.4 0a1.7 1.7 0 1 0 -3.4 0zM552.6 476.6a1.7 1.7 0 1 0 3.4 0a1.7 1.7 0 1 0 -3.4 0zM554.3 480.4a1.7 1.7 0 1 0 3.4 0a1.7 1.7 0 1 0 -3.4 0zM556.2 483.5a1.7 1.7 0 1 0 3.4 0a1.7 1.7 0 1 0 -3.4 0zM558.1 487.1a1.7 1.7 0 1 0 3.4 0a1.7 1.7 0 1 0 -3.4 0zM559.8 490.7a1.7 1.7 0 1 0 3.4 0a1.7 1.7 0 1 0 -3.4 0zM561.6 494.2a1.7 1.7 0 1 0 3.4 0a1.7 1.7 0 1 0 -3.4 0zM563.1 497.9a1.7 1.7 0 1 0 3.4 0a1.7 1.7 0 1 0 -3.4 0zM565.3 501a1.7 1.7 0 1 0 3.4 0a1.7 1.7 0 1 0 -3.4 0zM567.5 504.1a1.7 1.7 0 1 0 3.4 0a1.7 1.7 0 1 0 -3.4 0zM466.7 318.8a2 2 0 1 0 4 0a2 2 0 1 0 -4 0zM467.9 319a2 2 0 1 0 4 0a2 2 0 1 0 -4 0zM469 319.3a2 2 0 1 0 4 0a2 2 0 1 0 -4 0zM470.1 319.7a2 2 0 1 0 4 0a2 2 0 1 0 -4 0zM470.8 319.4a2 2 0 1 0 4 0a2 2 0 1 0 -4 0zM472.1 319.9a2 2 0 1 0 4 0a2 2 0 1 0 -4 0zM473 319.9a2 2 0 1 0 4 0a2 2 0 1 0 -4 0zM474.1 320a2 2 0 1 0 4 0a2 2 0 1 0 -4 0zM475.2 320.5a2 2 0 1 0 4 0a2 2 0 1 0 -4 0zM476.2 321.1a2 2 0 1 0 4 0a2 2 0 1 0 -4 0zM477.2 321.4a2 2 0 1 0 4 0a2 2 0 1 0 -4 0zM478.4 321.7a2 2 0 1 0 4 0a2 2 0 1 0 -4 0zM479.3 322a2 2 0 1 0 4 0a2 2 0 1 0 -4 0zM480.4 322.8a2 2 0 1 0 4 0a2 2 0 1 0 -4 0zM481.6 323.1a2 2 0 1 0 4 0a2 2 0 1 0 -4 0zM482.6 323.4a2 2 0 1 0 4 0a2 2 0 1 0 -4 0zM483.4 324.1a2 2 0 1 0 4 0a2 2 0 1 0 -4 0zM484.5 324a2 2 0 1 0 4 0a2 2 0 1 0 -4 0zM485.6 324.7a2 2 0 1 0 4 0a2 2 0 1 0 -4 0zM486.6 325a2 2 0 1 0 4 0a2 2 0 1 0 -4 0zM487.6 325.5a2 2 0 1 0 4 0a2 2 0 1 0 -4 0zM488.6 326a2 2 0 1 0 4 0a2 2 0 1 0 -4 0zM489.5 326.3a2 2 0 1 0 4 0a2 2 0 1 0 -4 0zM490.8 326.4a2 2 0 1 0 4 0a2 2 0 1 0 -4 0zM491.8 327.1a2 2 0 1 0 4 0a2 2 0 1 0 -4 0zM492.6 327.3a2 2 0 1 0 4 0a2 2 0 1 0 -4 0zM493.6 327.8a2 2 0 1 0 4 0a2 2 0 1 0 -4 0zM494.4 328.5a2 2 0 1 0 4 0a2 2 0 1 0 -4 0zM495.6 329.2a2 2 0 1 0 4 0a2 2 0 1 0 -4 0zM496.6 329.6a2 2 0 1 0 4 0a2 2 0 1 0 -4 0zM497.5 329.7a2 2 0 1 0 4 0a2 2 0 1 0 -4 0zM498.4 330.3a2 2 0 1 0 4 0a2 2 0 1 0 -4 0zM499.5 330.8a2 2 0 1 0 4 0a2 2 0 1 0 -4 0zM500.5 331.4a2 2 0 1 0 4 0a2 2 0 1 0 -4 0zM501.2 331.9a2 2 0 1 0 4 0a2 2 0 1 0 -4 0zM502.6 332.5a2 2 0 1 0 4 0a2 2 0 1 0 -4 0zM503.4 333.1a2 2 0 1 0 4 0a2 2 0 1 0 -4 0zM504.2 333.7a2 2 0 1 0 4 0a2 2 0 1 0 -4 0zM505.4 334.3a2 2 0 1 0 4 0a2 2 0 1 0 -4 0zM506.3 334.7a2 2 0 1 0 4 0a2 2 0 1 0 -4 0zM507 335.1a2 2 0 1 0 4 0a2 2 0 1 0 -4 0zM508.1 335.6a2 2 0 1 0 4 0a2 2 0 1 0 -4 0zM508.9 336.4a2 2 0 1 0 4 0a2 2 0 1 0 -4 0zM509.9 336.8a2 2 0 1 0 4 0a2 2 0 1 0 -4 0zM510.9 337.7a2 2 0 1 0 4 0a2 2 0 1 0 -4 0zM511.9 338.1a2 2 0 1 0 4 0a2 2 0 1 0 -4 0zM513.1 338.7a2 2 0 1 0 4 0a2 2 0 1 0 -4 0zM514 339.3a2 2 0 1 0 4 0a2 2 0 1 0 -4 0zM514.9 339.8a2 2 0 1 0 4 0a2 2 0 1 0 -4 0zM515.9 340.3a2 2 0 1 0 4 0a2 2 0 1 0 -4 0zM516.5 340.9a2 2 0 1 0 4 0a2 2 0 1 0 -4 0zM517.3 341.5a2 2 0 1 0 4 0a2 2 0 1 0 -4 0zM518.6 342a2 2 0 1 0 4 0a2 2 0 1 0 -4 0zM519.2 342.7a2 2 0 1 0 4 0a2 2 0 1 0 -4 0zM520.2 343.6a2 2 0 1 0 4 0a2 2 0 1 0 -4 0zM520.9 344.2a2 2 0 1 0 4 0a2 2 0 1 0 -4 0zM521.7 344.6a2 2 0 1 0 4 0a2 2 0 1 0 -4 0zM522.7 345.6a2 2 0 1 0 4 0a2 2 0 1 0 -4 0zM523.8 346.4a2 2 0 1 0 4 0a2 2 0 1 0 -4 0zM524.3 346.9a1.7 1.7 0 1 0 3.4 0a1.7 1.7 0 1 0 -3.4 0zM526.2 350.7a1.7 1.7 0 1 0 3.4 0a1.7 1.7 0 1 0 -3.4 0zM528.1 353.9a1.7 1.7 0 1 0 3.4 0a1.7 1.7 0 1 0 -3.4 0zM530.6 356.8a1.7 1.7 0 1 0 3.4 0a1.7 1.7 0 1 0 -3.4 0zM532.6 360a1.7 1.7 0 1 0 3.4 0a1.7 1.7 0 1 0 -3.4 0zM534.5 363.7a1.7 1.7 0 1 0 3.4 0a1.7 1.7 0 1 0 -3.4 0zM535.8 367.2a1.7 1.7 0 1 0 3.4 0a1.7 1.7 0 1 0 -3.4 0zM537.2 370.5a1.7 1.7 0 1 0 3.4 0a1.7 1.7 0 1 0 -3.4 0zM539.1 374a1.7 1.7 0 1 0 3.4 0a1.7 1.7 0 1 0 -3.4 0zM541.1 377.5a1.7 1.7 0 1 0 3.4 0a1.7 1.7 0 1 0 -3.4 0zM543 380.9a1.7 1.7 0 1 0 3.4 0a1.7 1.7 0 1 0 -3.4 0zM544 384.7a1.7 1.7 0 1 0 3.4 0a1.7 1.7 0 1 0 -3.4 0zM545.3 388.4a1.7 1.7 0 1 0 3.4 0a1.7 1.7 0 1 0 -3.4 0zM546.7 392.1a1.7 1.7 0 1 0 3.4 0a1.7 1.7 0 1 0 -3.4 0zM548 395.7a1.7 1.7 0 1 0 3.4 0a1.7 1.7 0 1 0 -3.4 0zM549.8 399a1.7 1.7 0 1 0 3.4 0a1.7 1.7 0 1 0 -3.4 0zM551.3 402.8a1.7 1.7 0 1 0 3.4 0a1.7 1.7 0 1 0 -3.4 0zM552.9 406.2a1.7 1.7 0 1 0 3.4 0a1.7 1.7 0 1 0 -3.4 0zM553.9 410.1a1.7 1.7 0 1 0 3.4 0a1.7 1.7 0 1 0 -3.4 0zM555.4 413.9a1.7 1.7 0 1 0 3.4 0a1.7 1.7 0 1 0 -3.4 0zM557.1 417.6a1.7 1.7 0 1 0 3.4 0a1.7 1.7 0 1 0 -3.4 0zM558.9 421.1a1.7 1.7 0 1 0 3.4 0a1.7 1.7 0 1 0 -3.4 0zM560.4 424.4a1.7 1.7 0 1 0 3.4 0a1.7 1.7 0 1 0 -3.4 0zM562.5 427.6a1.7 1.7 0 1 0 3.4 0a1.7 1.7 0 1 0 -3.4 0zM564.9 430.9a1.7 1.7 0 1 0 3.4 0a1.7 1.7 0 1 0 -3.4 0zM567.2 434a1.7 1.7 0 1 0 3.4 0a1.7 1.7 0 1 0 -3.4 0zM569.1 437.5a1.7 1.7 0 1 0 3.4 0a1.7 1.7 0 1 0 -3.4 0zM571.3 440.5a1.7 1.7 0 1 0 3.4 0a1.7 1.7 0 1 0 -3.4 0zM572.6 444.4a1.7 1.7 0 1 0 3.4 0a1.7 1.7 0 1 0 -3.4 0zM573.4 448.2a1.7 1.7 0 1 0 3.4 0a1.7 1.7 0 1 0 -3.4 0zM574.8 451.9a1.7 1.7 0 1 0 3.4 0a1.7 1.7 0 1 0 -3.4 0zM575.6 455.5a1.7 1.7 0 1 0 3.4 0a1.7 1.7 0 1 0 -3.4 0zM576.8 459.4a1.7 1.7 0 1 0 3.4 0a1.7 1.7 0 1 0 -3.4 0zM577.8 462.8a1.7 1.7 0 1 0 3.4 0a1.7 1.7 0 1 0 -3.4 0zM578.8 466.6a1.7 1.7 0 1 0 3.4 0a1.7 1.7 0 1 0 -3.4 0zM580.1 470.3a1.7 1.7 0 1 0 3.4 0a1.7 1.7 0 1 0 -3.4 0zM580.8 474.2a1.7 1.7 0 1 0 3.4 0a1.7 1.7 0 1 0 -3.4 0zM582.5 477.9a1.7 1.7 0 1 0 3.4 0a1.7 1.7 0 1 0 -3.4 0zM584.3 481.4a1.7 1.7 0 1 0 3.4 0a1.7 1.7 0 1 0 -3.4 0zM586 484.8a1.7 1.7 0 1 0 3.4 0a1.7 1.7 0 1 0 -3.4 0zM587.5 488.6a1.7 1.7 0 1 0 3.4 0a1.7 1.7 0 1 0 -3.4 0zM589.7 491.9a1.7 1.7 0 1 0 3.4 0a1.7 1.7 0 1 0 -3.4 0zM591.3 495.4a1.7 1.7 0 1 0 3.4 0a1.7 1.7 0 1 0 -3.4 0zM593.4 498.6a1.7 1.7 0 1 0 3.4 0a1.7 1.7 0 1 0 -3.4 0zM595.4 501.5a1.7 1.7 0 1 0 3.4 0a1.7 1.7 0 1 0 -3.4 0zM525.7 343.5a2 2 0 1 0 4 0a2 2 0 1 0 -4 0zM526.8 343.9a2 2 0 1 0 4 0a2 2 0 1 0 -4 0zM527.4 344.6a2 2 0 1 0 4 0a2 2 0 1 0 -4 0zM528.5 345a2 2 0 1 0 4 0a2 2 0 1 0 -4 0zM529.2 345.5a2 2 0 1 0 4 0a2 2 0 1 0 -4 0zM530.2 346.5a2 2 0 1 0 4 0a2 2 0 1 0 -4 0zM531.5 347a2 2 0 1 0 4 0a2 2 0 1 0 -4 0zM532.3 347.4a2 2 0 1 0 4 0a2 2 0 1 0 -4 0zM533.1 348a2 2 0 1 0 4 0a2 2 0 1 0 -4 0zM534.1 348.7a2 2 0 1 0 4 0a2 2 0 1 0 -4 0zM535.3 349.1a2 2 0 1 0 4 0a2 2 0 1 0 -4 0zM535.9 349.8a2 2 0 1 0 4 0a2 2 0 1 0 -4 0zM537.2 350.5a2 2 0 1 0 4 0a2 2 0 1 0 -4 0zM538.1 351.1a2 2 0 1 0 4 0a2 2 0 1 0 -4 0zM538.9 351.6a2 2 0 1 0 4 0a2 2 0 1 0 -4 0zM539.7 352.2a2 2 0 1 0 4 0a2 2 0 1 0 -4 0zM540.7 352.9a2 2 0 1 0 4 0a2 2 0 1 0 -4 0zM541.4 353.8a2 2 0 1 0 4 0a2 2 0 1 0 -4 0zM542.3 354.3a2 2 0 1 0 4 0a2 2 0 1 0 -4 0zM543 354.8a2 2 0 1 0 4 0a2 2 0 1 0 -4 0zM544 355.8a2 2 0 1 0 4 0a2 2 0 1 0 -4 0zM544.4 356.5a2 2 0 1 0 4 0a2 2 0 1 0 -4 0zM545.3 357.3a2 2 0 1 0 4 0a2 2 0 1 0 -4 0zM546 358a2 2 0 1 0 4 0a2 2 0 1 0 -4 0zM546.9 359a2 2 0 1 0 4 0a2 2 0 1 0 -4 0zM547.7 359.7a2 2 0 1 0 4 0a2 2 0 1 0 -4 0zM548.4 360.7a2 2 0 1 0 4 0a2 2 0 1 0 -4 0zM549.1 360.8a1.7 1.7 0 1 0 3.4 0a1.7 1.7 0 1 0 -3.4 0zM551.5 363.6a1.7 1.7 0 1 0 3.4 0a1.7 1.7 0 1 0 -3.4 0zM554.3 366.5a1.7 1.7 0 1 0 3.4 0a1.7 1.7 0 1 0 -3.4 0zM556.7 369.2a1.7 1.7 0 1 0 3.4 0a1.7 1.7 0 1 0 -3.4 0zM559.2 372.6a1.7 1.7 0 1 0 3.4 0a1.7 1.7 0 1 0 -3.4 0zM561.3 375.7a1.7 1.7 0 1 0 3.4 0a1.7 1.7 0 1 0 -3.4 0zM563.5 378.6a1.7 1.7 0 1 0 3.4 0a1.7 1.7 0 1 0 -3.4 0zM565.6 382.1a1.7 1.7 0 1 0 3.4 0a1.7 1.7 0 1 0 -3.4 0zM567.8 385.2a1.7 1.7 0 1 0 3.4 0a1.7 1.7 0 1 0 -3.4 0zM569.8 388.9a1.7 1.7 0 1 0 3.4 0a1.7 1.7 0 1 0 -3.4 0zM571.8 392.2a1.7 1.7 0 1 0 3.4 0a1.7 1.7 0 1 0 -3.4 0zM574.2 395.3a1.7 1.7 0 1 0 3.4 0a1.7 1.7 0 1 0 -3.4 0zM576.3 398.7a1.7 1.7 0 1 0 3.4 0a1.7 1.7 0 1 0 -3.4 0zM578.4 402.1a1.7 1.7 0 1 0 3.4 0a1.7 1.7 0 1 0 -3.4 0zM580.3 405.1a1.7 1.7 0 1 0 3.4 0a1.7 1.7 0 1 0 -3.4 0zM582.4 408.5a1.7 1.7 0 1 0 3.4 0a1.7 1.7 0 1 0 -3.4 0zM584.6 411.8a1.7 1.7 0 1 0 3.4 0a1.7 1.7 0 1 0 -3.4 0zM586.3 415.3a1.7 1.7 0 1 0 3.4 0a1.7 1.7 0 1 0 -3.4 0zM588.8 418.3a1.7 1.7 0 1 0 3.4 0a1.7 1.7 0 1 0 -3.4 0zM590.3 421.8a1.7 1.7 0 1 0 3.4 0a1.7 1.7 0 1 0 -3.4 0zM592.5 425.4a1.7 1.7 0 1 0 3.4 0a1.7 1.7 0 1 0 -3.4 0zM594.6 428.5a1.7 1.7 0 1 0 3.4 0a1.7 1.7 0 1 0 -3.4 0zM596.9 431.8a1.7 1.7 0 1 0 3.4 0a1.7 1.7 0 1 0 -3.4 0zM599.2 434.6a1.7 1.7 0 1 0 3.4 0a1.7 1.7 0 1 0 -3.4 0zM601.7 437.8a1.7 1.7 0 1 0 3.4 0a1.7 1.7 0 1 0 -3.4 0zM603.8 441.1a1.7 1.7 0 1 0 3.4 0a1.7 1.7 0 1 0 -3.4 0zM606 444.2a1.7 1.7 0 1 0 3.4 0a1.7 1.7 0 1 0 -3.4 0zM607.8 447.6a1.7 1.7 0 1 0 3.4 0a1.7 1.7 0 1 0 -3.4 0zM609.6 451.5a1.7 1.7 0 1 0 3.4 0a1.7 1.7 0 1 0 -3.4 0zM610.7 454.9a1.7 1.7 0 1 0 3.4 0a1.7 1.7 0 1 0 -3.4 0zM612.4 458.5a1.7 1.7 0 1 0 3.4 0a1.7 1.7 0 1 0 -3.4 0zM613.6 462.4a1.7 1.7 0 1 0 3.4 0a1.7 1.7 0 1 0 -3.4 0zM615.4 465.9a1.7 1.7 0 1 0 3.4 0a1.7 1.7 0 1 0 -3.4 0zM617 469.4a1.7 1.7 0 1 0 3.4 0a1.7 1.7 0 1 0 -3.4 0zM618.7 472.5a1.7 1.7 0 1 0 3.4 0a1.7 1.7 0 1 0 -3.4 0zM620.1 476.4a1.7 1.7 0 1 0 3.4 0a1.7 1.7 0 1 0 -3.4 0zM621.4 479.8a1.7 1.7 0 1 0 3.4 0a1.7 1.7 0 1 0 -3.4 0zM623.2 483.3a1.7 1.7 0 1 0 3.4 0a1.7 1.7 0 1 0 -3.4 0zM625.3 487a1.7 1.7 0 1 0 3.4 0a1.7 1.7 0 1 0 -3.4 0zM626.7 490.4a1.7 1.7 0 1 0 3.4 0a1.7 1.7 0 1 0 -3.4 0zM628.4 494a1.7 1.7 0 1 0 3.4 0a1.7 1.7 0 1 0 -3.4 0zM630 497.7a1.7 1.7 0 1 0 3.4 0a1.7 1.7 0 1 0 -3.4 0zM631.4 501.5a1.7 1.7 0 1 0 3.4 0a1.7 1.7 0 1 0 -3.4 0zM633 504.5a1.7 1.7 0 1 0 3.4 0a1.7 1.7 0 1 0 -3.4 0zM487.8 436.5a1.6 1.6 0 1 0 3.3 0a1.6 1.6 0 1 0 -3.3 0zM489.1 439a1.6 1.6 0 1 0 3.3 0a1.6 1.6 0 1 0 -3.3 0zM490.2 442.1a1.6 1.6 0 1 0 3.3 0a1.6 1.6 0 1 0 -3.3 0zM491 444.8a1.6 1.6 0 1 0 3.3 0a1.6 1.6 0 1 0 -3.3 0zM492.5 447.7a1.6 1.6 0 1 0 3.3 0a1.6 1.6 0 1 0 -3.3 0zM493.4 450.3a1.6 1.6 0 1 0 3.3 0a1.6 1.6 0 1 0 -3.3 0zM494.4 453a1.6 1.6 0 1 0 3.3 0a1.6 1.6 0 1 0 -3.3 0zM496 456a1.6 1.6 0 1 0 3.3 0a1.6 1.6 0 1 0 -3.3 0zM497.2 458.6a1.6 1.6 0 1 0 3.3 0a1.6 1.6 0 1 0 -3.3 0zM498.8 461.3a1.6 1.6 0 1 0 3.3 0a1.6 1.6 0 1 0 -3.3 0zM499.9 463.8a1.6 1.6 0 1 0 3.3 0a1.6 1.6 0 1 0 -3.3 0zM501.8 466.2a1.6 1.6 0 1 0 3.3 0a1.6 1.6 0 1 0 -3.3 0zM503.2 468.9a1.6 1.6 0 1 0 3.3 0a1.6 1.6 0 1 0 -3.3 0zM504.6 471.5a1.6 1.6 0 1 0 3.3 0a1.6 1.6 0 1 0 -3.3 0zM506.2 474a1.6 1.6 0 1 0 3.3 0a1.6 1.6 0 1 0 -3.3 0zM507.9 476.7a1.6 1.6 0 1 0 3.3 0a1.6 1.6 0 1 0 -3.3 0zM509.5 479a1.6 1.6 0 1 0 3.3 0a1.6 1.6 0 1 0 -3.3 0zM511.3 481.6a1.6 1.6 0 1 0 3.3 0a1.6 1.6 0 1 0 -3.3 0zM512.9 484.2a1.6 1.6 0 1 0 3.3 0a1.6 1.6 0 1 0 -3.3 0zM514.8 486.5a1.6 1.6 0 1 0 3.3 0a1.6 1.6 0 1 0 -3.3 0zM517.1 488.3a1.6 1.6 0 1 0 3.3 0a1.6 1.6 0 1 0 -3.3 0zM519.2 490.5a1.6 1.6 0 1 0 3.3 0a1.6 1.6 0 1 0 -3.3 0zM521.3 492.6a1.6 1.6 0 1 0 3.3 0a1.6 1.6 0 1 0 -3.3 0zM523.7 494.2a1.6 1.6 0 1 0 3.3 0a1.6 1.6 0 1 0 -3.3 0zM526.1 496.3a1.6 1.6 0 1 0 3.3 0a1.6 1.6 0 1 0 -3.3 0zM528.4 498.1a1.6 1.6 0 1 0 3.3 0a1.6 1.6 0 1 0 -3.3 0zM531.1 499.5a1.6 1.6 0 1 0 3.3 0a1.6 1.6 0 1 0 -3.3 0zM533.5 501a1.6 1.6 0 1 0 3.3 0a1.6 1.6 0 1 0 -3.3 0zM536.3 502.3a1.6 1.6 0 1 0 3.3 0a1.6 1.6 0 1 0 -3.3 0zM539.3 503.5a1.6 1.6 0 1 0 3.3 0a1.6 1.6 0 1 0 -3.3 0zM541.8 504.4a1.6 1.6 0 1 0 3.3 0a1.6 1.6 0 1 0 -3.3 0zM491.3 442.8a1.6 1.6 0 1 0 3.3 0a1.6 1.6 0 1 0 -3.3 0zM492.7 445.8a1.6 1.6 0 1 0 3.3 0a1.6 1.6 0 1 0 -3.3 0zM494 448.2a1.6 1.6 0 1 0 3.3 0a1.6 1.6 0 1 0 -3.3 0zM495.4 451a1.6 1.6 0 1 0 3.3 0a1.6 1.6 0 1 0 -3.3 0zM496.6 453.6a1.6 1.6 0 1 0 3.3 0a1.6 1.6 0 1 0 -3.3 0zM498.1 456.3a1.6 1.6 0 1 0 3.3 0a1.6 1.6 0 1 0 -3.3 0zM499.6 459a1.6 1.6 0 1 0 3.3 0a1.6 1.6 0 1 0 -3.3 0zM501.3 461.6a1.6 1.6 0 1 0 3.3 0a1.6 1.6 0 1 0 -3.3 0zM502.8 464.1a1.6 1.6 0 1 0 3.3 0a1.6 1.6 0 1 0 -3.3 0zM504.2 466.4a1.6 1.6 0 1 0 3.3 0a1.6 1.6 0 1 0 -3.3 0zM505.7 469.2a1.6 1.6 0 1 0 3.3 0a1.6 1.6 0 1 0 -3.3 0zM507.8 471.5a1.6 1.6 0 1 0 3.3 0a1.6 1.6 0 1 0 -3.3 0zM509.5 473.8a1.6 1.6 0 1 0 3.3 0a1.6 1.6 0 1 0 -3.3 0zM511.3 476.5a1.6 1.6 0 1 0 3.3 0a1.6 1.6 0 1 0 -3.3 0zM513.2 478.6a1.6 1.6 0 1 0 3.3 0a1.6 1.6 0 1 0 -3.3 0zM515.2 481a1.6 1.6 0 1 0 3.3 0a1.6 1.6 0 1 0 -3.3 0zM517.1 483.5a1.6 1.6 0 1 0 3.3 0a1.6 1.6 0 1 0 -3.3 0zM519.1 485.6a1.6 1.6 0 1 0 3.3 0a1.6 1.6 0 1 0 -3.3 0zM521 487.6a1.6 1.6 0 1 0 3.3 0a1.6 1.6 0 1 0 -3.3 0zM523.1 489.8a1.6 1.6 0 1 0 3.3 0a1.6 1.6 0 1 0 -3.3 0zM525.6 491.6a1.6 1.6 0 1 0 3.3 0a1.6 1.6 0 1 0 -3.3 0zM527.9 493.4a1.6 1.6 0 1 0 3.3 0a1.6 1.6 0 1 0 -3.3 0zM530.2 495.2a1.6 1.6 0 1 0 3.3 0a1.6 1.6 0 1 0 -3.3 0zM533 496.9a1.6 1.6 0 1 0 3.3 0a1.6 1.6 0 1 0 -3.3 0zM535.5 498.3a1.6 1.6 0 1 0 3.3 0a1.6 1.6 0 1 0 -3.3 0zM538.1 500a1.6 1.6 0 1 0 3.3 0a1.6 1.6 0 1 0 -3.3 0zM540.9 501.2a1.6 1.6 0 1 0 3.3 0a1.6 1.6 0 1 0 -3.3 0zM543.4 502.1a1.6 1.6 0 1 0 3.3 0a1.6 1.6 0 1 0 -3.3 0zM546.4 503.5a1.6 1.6 0 1 0 3.3 0a1.6 1.6 0 1 0 -3.3 0zM504.2 444.6a1.6 1.6 0 1 0 3.3 0a1.6 1.6 0 1 0 -3.3 0zM505.5 447.3a1.6 1.6 0 1 0 3.3 0a1.6 1.6 0 1 0 -3.3 0zM506.4 450.1a1.6 1.6 0 1 0 3.3 0a1.6 1.6 0 1 0 -3.3 0zM507.8 452.9a1.6 1.6 0 1 0 3.3 0a1.6 1.6 0 1 0 -3.3 0zM509.3 455.3a1.6 1.6 0 1 0 3.3 0a1.6 1.6 0 1 0 -3.3 0zM510.8 458.1a1.6 1.6 0 1 0 3.3 0a1.6 1.6 0 1 0 -3.3 0zM512.5 460.8a1.6 1.6 0 1 0 3.3 0a1.6 1.6 0 1 0 -3.3 0zM514 463.2a1.6 1.6 0 1 0 3.3 0a1.6 1.6 0 1 0 -3.3 0zM515.5 465.9a1.6 1.6 0 1 0 3.3 0a1.6 1.6 0 1 0 -3.3 0zM517.1 468.4a1.6 1.6 0 1 0 3.3 0a1.6 1.6 0 1 0 -3.3 0zM518.8 470.8a1.6 1.6 0 1 0 3.3 0a1.6 1.6 0 1 0 -3.3 0zM520.5 473.1a1.6 1.6 0 1 0 3.3 0a1.6 1.6 0 1 0 -3.3 0zM522.3 475.4a1.6 1.6 0 1 0 3.3 0a1.6 1.6 0 1 0 -3.3 0zM524.4 478a1.6 1.6 0 1 0 3.3 0a1.6 1.6 0 1 0 -3.3 0zM526.4 480.1a1.6 1.6 0 1 0 3.3 0a1.6 1.6 0 1 0 -3.3 0zM528.7 482.2a1.6 1.6 0 1 0 3.3 0a1.6 1.6 0 1 0 -3.3 0zM530.7 484.1a1.6 1.6 0 1 0 3.3 0a1.6 1.6 0 1 0 -3.3 0zM533.1 486.1a1.6 1.6 0 1 0 3.3 0a1.6 1.6 0 1 0 -3.3 0zM535.6 487.7a1.6 1.6 0 1 0 3.3 0a1.6 1.6 0 1 0 -3.3 0zM537.9 489.9a1.6 1.6 0 1 0 3.3 0a1.6 1.6 0 1 0 -3.3 0zM540.3 491.6a1.6 1.6 0 1 0 3.3 0a1.6 1.6 0 1 0 -3.3 0zM542.4 493.7a1.6 1.6 0 1 0 3.3 0a1.6 1.6 0 1 0 -3.3 0zM545 495.4a1.6 1.6 0 1 0 3.3 0a1.6 1.6 0 1 0 -3.3 0zM547.1 497.2a1.6 1.6 0 1 0 3.3 0a1.6 1.6 0 1 0 -3.3 0zM549.6 498.7a1.6 1.6 0 1 0 3.3 0a1.6 1.6 0 1 0 -3.3 0zM552.2 500.2a1.6 1.6 0 1 0 3.3 0a1.6 1.6 0 1 0 -3.3 0zM554.9 502a1.6 1.6 0 1 0 3.3 0a1.6 1.6 0 1 0 -3.3 0zM514.2 446.2a1.6 1.6 0 1 0 3.3 0a1.6 1.6 0 1 0 -3.3 0zM515.6 448.8a1.6 1.6 0 1 0 3.3 0a1.6 1.6 0 1 0 -3.3 0zM517.1 451.4a1.6 1.6 0 1 0 3.3 0a1.6 1.6 0 1 0 -3.3 0zM518.7 454.1a1.6 1.6 0 1 0 3.3 0a1.6 1.6 0 1 0 -3.3 0zM520.5 456.4a1.6 1.6 0 1 0 3.3 0a1.6 1.6 0 1 0 -3.3 0zM521.8 459.1a1.6 1.6 0 1 0 3.3 0a1.6 1.6 0 1 0 -3.3 0zM523.3 461.9a1.6 1.6 0 1 0 3.3 0a1.6 1.6 0 1 0 -3.3 0zM525.2 464a1.6 1.6 0 1 0 3.3 0a1.6 1.6 0 1 0 -3.3 0zM527 466.6a1.6 1.6 0 1 0 3.3 0a1.6 1.6 0 1 0 -3.3 0zM529.1 468.8a1.6 1.6 0 1 0 3.3 0a1.6 1.6 0 1 0 -3.3 0zM531 471.1a1.6 1.6 0 1 0 3.3 0a1.6 1.6 0 1 0 -3.3 0zM532.6 473.6a1.6 1.6 0 1 0 3.3 0a1.6 1.6 0 1 0 -3.3 0zM534.6 475.8a1.6 1.6 0 1 0 3.3 0a1.6 1.6 0 1 0 -3.3 0zM536.3 478.2a1.6 1.6 0 1 0 3.3 0a1.6 1.6 0 1 0 -3.3 0zM538.4 480.6a1.6 1.6 0 1 0 3.3 0a1.6 1.6 0 1 0 -3.3 0zM540.8 482.6a1.6 1.6 0 1 0 3.3 0a1.6 1.6 0 1 0 -3.3 0zM542.8 484.5a1.6 1.6 0 1 0 3.3 0a1.6 1.6 0 1 0 -3.3 0zM544.8 486.6a1.6 1.6 0 1 0 3.3 0a1.6 1.6 0 1 0 -3.3 0zM547.2 488.6a1.6 1.6 0 1 0 3.3 0a1.6 1.6 0 1 0 -3.3 0zM549.8 490.4a1.6 1.6 0 1 0 3.3 0a1.6 1.6 0 1 0 -3.3 0zM552.1 492.4a1.6 1.6 0 1 0 3.3 0a1.6 1.6 0 1 0 -3.3 0zM554.1 494.1a1.6 1.6 0 1 0 3.3 0a1.6 1.6 0 1 0 -3.3 0zM556.3 496.4a1.6 1.6 0 1 0 3.3 0a1.6 1.6 0 1 0 -3.3 0zM558.7 498.4a1.6 1.6 0 1 0 3.3 0a1.6 1.6 0 1 0 -3.3 0zM561 500.3a1.6 1.6 0 1 0 3.3 0a1.6 1.6 0 1 0 -3.3 0zM562.9 502.5a1.6 1.6 0 1 0 3.3 0a1.6 1.6 0 1 0 -3.3 0z" fill="#0a0a80"/>
<polyline points="401.5,348.2 408.8,351.9 417.5,357.7 429.2,363.6 443.8,365 458.4,368 470,369.5 489,377 500,382 510,386 523.1,394.2 536.4,405.5 549.7,416.9 561.1,426.5 572.8,432.7 583.8,439.2 594.7,444.7 605.6,451.3 616.6,456.7 627.5,462.2 640,468 647.9,474.4 662.9,483.4 679.3,495.4" fill="none" stroke="#22c822" stroke-width="2.8" stroke-linejoin="round" stroke-linecap="round"/>
<polyline points="410.2,368 414.6,366.5 421.9,370.9 429.2,376.7 438,384 448.2,391.3 465.9,400 489,399.8 508,404.6 526.9,411.2 545.9,422.6 564.9,432.1 574.4,437.8 583.8,446 603,463.9 617.9,471.4 632.9,478.9 647.9,487.9 662.9,496.9 671.8,501.4" fill="none" stroke="#22c822" stroke-width="2.8" stroke-linejoin="round" stroke-linecap="round"/>
<polyline points="414.6,384 421.9,386.9 429.2,388.4 438,392.8 448.2,397.2 458.4,403 470,412 482.3,423.2 494,432 509,440 520,447.5 534.6,456.3 549.2,469.4 560.9,484 568.2,497.2 571,503" fill="none" stroke="#22c822" stroke-width="2.8" stroke-linejoin="round" stroke-linecap="round"/>
<polyline points="470.1,416.2 490.2,432.2 505,446 520,453.4 534.6,466.5 549.2,481.1 559.4,492.8 563.8,500.1" fill="none" stroke="#22c822" stroke-width="2.8" stroke-linejoin="round" stroke-linecap="round"/>
<polyline points="435.7,397.2 445,404 455,411 461.8,417.8" fill="none" stroke="#22c822" stroke-width="2.8" stroke-linejoin="round" stroke-linecap="round"/>
<polyline points="560,452 575,465 590,478 605,492 615,503" fill="none" stroke="#22c822" stroke-width="2.8" stroke-linejoin="round" stroke-linecap="round"/>
<polyline points="565,452 580,464 595,477 610,490 622,502" fill="none" stroke="#22c822" stroke-width="2.8" stroke-linejoin="round" stroke-linecap="round"/>
<polyline points="570,456 585,469 600,483 611,495 617,503" fill="none" stroke="#22c822" stroke-width="2.8" stroke-linejoin="round" stroke-linecap="round"/>
<polyline points="575,462 588,474 600,487 609,499" fill="none" stroke="#22c822" stroke-width="2.8" stroke-linejoin="round" stroke-linecap="round"/>
<polyline points="555.4,426.4 574.4,432.1 593.3,437.8" fill="none" stroke="#22c822" stroke-width="2.8" stroke-linejoin="round" stroke-linecap="round"/>
<path d="M401 346.5l1.6 3.1l-3.3 0zM402.5 353.2l1.6 3.1l-3.3 0zM403.8 359.6l1.6 3.1l-3.3 0zM405.3 366l1.6 3.1l-3.3 0zM407.8 371.8l1.6 3.1l-3.3 0zM410.3 377.8l1.6 3.1l-3.3 0zM412.7 383.7l1.6 3.1l-3.3 0zM414.7 388.9l1.6 3.1l-3.3 0zM416.6 395.5l1.6 3.1l-3.3 0zM417.8 401.3l1.6 3.1l-3.3 0zM420.1 407.6l1.6 3.1l-3.3 0zM420.6 414.1l1.6 3.1l-3.3 0zM421.4 421l1.6 3.1l-3.3 0zM423.4 427.8l1.6 3.1l-3.3 0zM424.4 433.8l1.6 3.1l-3.3 0zM426.8 439.1l1.6 3.1l-3.3 0zM427.3 446.2l1.6 3.1l-3.3 0zM430.2 451.5l1.6 3.1l-3.3 0zM433.8 456.8l1.6 3.1l-3.3 0zM431.6 462.6l1.6 3.1l-3.3 0zM434.2 467.7l1.6 3.1l-3.3 0zM433.5 475l1.6 3.1l-3.3 0zM434 481.6l1.6 3.1l-3.3 0zM436.1 485.8l1.6 3.1l-3.3 0zM435.9 492.7l1.6 3.1l-3.3 0zM438.6 498.3l1.6 3.1l-3.3 0zM401.1 346.5l1.6 3.1l-3.3 0zM402 348.7l1.6 3.1l-3.3 0zM402.7 355.6l1.6 3.1l-3.3 0zM404.8 362.4l1.6 3.1l-3.3 0zM406.2 367.9l1.6 3.1l-3.3 0zM409.6 376.2l1.6 3.1l-3.3 0zM412.4 381.6l1.6 3.1l-3.3 0zM413.7 388.5l1.6 3.1l-3.3 0zM416.5 395.4l1.6 3.1l-3.3 0zM418.5 402.2l1.6 3.1l-3.3 0zM419.9 409.1l1.6 3.1l-3.3 0zM420.6 417.3l1.6 3.1l-3.3 0zM422 421.4l1.6 3.1l-3.3 0zM424 432.9l1.6 3.1l-3.3 0zM426.2 436.7l1.6 3.1l-3.3 0zM427.7 447.9l1.6 3.1l-3.3 0zM429.9 450.2l1.6 3.1l-3.3 0zM434.4 455.4l1.6 3.1l-3.3 0zM431.4 461.4l1.6 3.1l-3.3 0zM433.7 463.6l1.6 3.1l-3.3 0zM434.4 473.4l1.6 3.1l-3.3 0zM433.7 480.8l1.6 3.1l-3.3 0zM435.9 482.3l1.6 3.1l-3.3 0zM435.2 487.6l1.6 3.1l-3.3 0zM435.9 495.1l1.6 3.1l-3.3 0zM438.9 499.6l1.6 3.1l-3.3 0zM441.2 504l1.6 3.1l-3.3 0zM410.4 364.5l1.6 3.1l-3.3 0zM411.7 370.9l1.6 3.1l-3.3 0zM411.9 378.6l1.6 3.1l-3.3 0zM413.6 383.9l1.6 3.1l-3.3 0zM416 389.8l1.6 3.1l-3.3 0zM417 397.6l1.6 3.1l-3.3 0zM418.2 403.5l1.6 3.1l-3.3 0zM420.7 409.1l1.6 3.1l-3.3 0zM422.9 416.1l1.6 3.1l-3.3 0zM424.2 421.7l1.6 3.1l-3.3 0zM426 427.3l1.6 3.1l-3.3 0zM427.9 434.7l1.6 3.1l-3.3 0zM430.4 440.1l1.6 3.1l-3.3 0zM433.4 445.6l1.6 3.1l-3.3 0zM434.9 453.1l1.6 3.1l-3.3 0zM437.3 458.4l1.6 3.1l-3.3 0zM437.4 465.5l1.6 3.1l-3.3 0zM438.9 470.8l1.6 3.1l-3.3 0zM439.3 478.5l1.6 3.1l-3.3 0zM440.5 485l1.6 3.1l-3.3 0zM440.9 490.6l1.6 3.1l-3.3 0zM441.4 497.1l1.6 3.1l-3.3 0zM410.3 365.2l1.6 3.1l-3.3 0zM411.7 377.5l1.6 3.1l-3.3 0zM415.1 387.1l1.6 3.1l-3.3 0zM416.5 394l1.6 3.1l-3.3 0zM417.8 400.9l1.6 3.1l-3.3 0zM421 410.2l1.6 3.1l-3.3 0zM424 418.2l1.6 3.1l-3.3 0zM426.9 430.7l1.6 3.1l-3.3 0zM431.4 442.7l1.6 3.1l-3.3 0zM436 456.2l1.6 3.1l-3.3 0zM439.7 475.6l1.6 3.1l-3.3 0zM440.4 483.1l1.6 3.1l-3.3 0zM440.4 490.6l1.6 3.1l-3.3 0zM441.9 499.6l1.6 3.1l-3.3 0zM435.7 395l1.6 3.1l-3.3 0zM436 401.4l1.6 3.1l-3.3 0zM437.3 408.4l1.6 3.1l-3.3 0zM439.2 413.7l1.6 3.1l-3.3 0zM441.5 421.3l1.6 3.1l-3.3 0zM443.6 427.4l1.6 3.1l-3.3 0zM445.3 432.6l1.6 3.1l-3.3 0zM447.3 431.5l1.6 3.1l-3.3 0zM447.8 437.9l1.6 3.1l-3.3 0zM450.1 444.8l1.6 3.1l-3.3 0zM451.3 450.5l1.6 3.1l-3.3 0zM452.9 456.3l1.6 3.1l-3.3 0zM455.5 456.8l1.6 3.1l-3.3 0zM456.7 463l1.6 3.1l-3.3 0zM456.4 469.2l1.6 3.1l-3.3 0zM456.3 476l1.6 3.1l-3.3 0zM456.3 481.5l1.6 3.1l-3.3 0zM457.3 487.1l1.6 3.1l-3.3 0zM458.7 493.6l1.6 3.1l-3.3 0zM455.5 499l1.6 3.1l-3.3 0zM435.7 395.4l1.6 3.1l-3.3 0zM435.7 399.5l1.6 3.1l-3.3 0zM437.1 406.3l1.6 3.1l-3.3 0zM438.4 411.8l1.6 3.1l-3.3 0zM441.2 420.1l1.6 3.1l-3.3 0zM442.5 425.6l1.6 3.1l-3.3 0zM444.9 433.7l1.6 3.1l-3.3 0zM446.4 429.9l1.6 3.1l-3.3 0zM449.4 444.2l1.6 3.1l-3.3 0zM452.4 456.9l1.6 3.1l-3.3 0zM455.4 453.9l1.6 3.1l-3.3 0zM456.1 466.6l1.6 3.1l-3.3 0zM456.9 475.6l1.6 3.1l-3.3 0zM456.1 482.3l1.6 3.1l-3.3 0zM458.4 483.8l1.6 3.1l-3.3 0zM456.9 490.6l1.6 3.1l-3.3 0zM458.4 492.1l1.6 3.1l-3.3 0zM453.9 504.8l1.6 3.1l-3.3 0zM439.8 397.6l1.6 3.1l-3.3 0zM443.6 402.9l1.6 3.1l-3.3 0zM446.4 409.3l1.6 3.1l-3.3 0zM448.4 415.6l1.6 3.1l-3.3 0zM451.5 420.9l1.6 3.1l-3.3 0zM452.6 427.8l1.6 3.1l-3.3 0zM440 398.2l1.6 3.1l-3.3 0zM445.3 405l1.6 3.1l-3.3 0zM448 411.8l1.6 3.1l-3.3 0zM450.8 420.1l1.6 3.1l-3.3 0zM452.1 425.6l1.6 3.1l-3.3 0zM454.6 432.9l1.6 3.1l-3.3 0zM460.7 407.6l1.6 3.1l-3.3 0zM462.3 414.1l1.6 3.1l-3.3 0zM464.1 421l1.6 3.1l-3.3 0zM465.3 426.4l1.6 3.1l-3.3 0zM467.2 433.4l1.6 3.1l-3.3 0zM469.7 438.8l1.6 3.1l-3.3 0zM471.1 445.2l1.6 3.1l-3.3 0zM473.8 451.2l1.6 3.1l-3.3 0zM474.4 455.4l1.6 3.1l-3.3 0zM469 461.4l1.6 3.1l-3.3 0zM465.9 466.6l1.6 3.1l-3.3 0zM466.1 473l1.6 3.1l-3.3 0zM466.8 478.4l1.6 3.1l-3.3 0zM466 484.5l1.6 3.1l-3.3 0zM466.5 491.9l1.6 3.1l-3.3 0zM466.2 498.3l1.6 3.1l-3.3 0zM460 408.2l1.6 3.1l-3.3 0zM463 418.2l1.6 3.1l-3.3 0zM465.9 428.4l1.6 3.1l-3.3 0zM468.9 437.4l1.6 3.1l-3.3 0zM472.6 448.7l1.6 3.1l-3.3 0zM476.3 453.1l1.6 3.1l-3.3 0zM465.1 466.6l1.6 3.1l-3.3 0zM466.6 474.9l1.6 3.1l-3.3 0zM465.9 482.3l1.6 3.1l-3.3 0zM466.6 489.1l1.6 3.1l-3.3 0zM465.9 503.3l1.6 3.1l-3.3 0zM470.7 413.8l1.6 3.1l-3.3 0zM470.9 418.8l1.6 3.1l-3.3 0zM471.9 426.7l1.6 3.1l-3.3 0zM473 433.1l1.6 3.1l-3.3 0zM474.1 438.1l1.6 3.1l-3.3 0zM474.4 444.8l1.6 3.1l-3.3 0zM474.7 451.6l1.6 3.1l-3.3 0zM475 457.5l1.6 3.1l-3.3 0zM476.8 465.2l1.6 3.1l-3.3 0zM479.7 470.5l1.6 3.1l-3.3 0zM480.9 476.1l1.6 3.1l-3.3 0zM483.1 482.7l1.6 3.1l-3.3 0zM482.8 489l1.6 3.1l-3.3 0zM483.5 493.6l1.6 3.1l-3.3 0zM482.3 498.1l1.6 3.1l-3.3 0zM470 413.2l1.6 3.1l-3.3 0zM473 428.2l1.6 3.1l-3.3 0zM475.6 459.1l1.6 3.1l-3.3 0zM479.3 469.6l1.6 3.1l-3.3 0zM482.3 474.1l1.6 3.1l-3.3 0zM480.8 477.8l1.6 3.1l-3.3 0zM483.1 483.1l1.6 3.1l-3.3 0zM483.8 486.8l1.6 3.1l-3.3 0zM481.6 492.1l1.6 3.1l-3.3 0zM485.3 496.6l1.6 3.1l-3.3 0zM477.8 502.5l1.6 3.1l-3.3 0z" fill="#22c822"/>
<polygon points="440,378 455,384 470,392 485,402 500,412 514,421.5 528,430 542,441 556,454 568,466 579,477 588,487 597,497 600,505 592,506 585,500 576,492 566,483 555,472 543,461 530,451 516,443 502,434 488,424 474,411 460,398 448,389 440,386" fill="#ff0000"/>
<polyline points="403.2,322.3 418.7,331.7 439.5,343.1 460.2,353.4 480.9,363.8 501.6,375.2 522.4,385.6 540,395 550.9,403 561.9,410 572.8,418 583.8,426.1 594.7,433.8 605.6,442.5 612.2,449.1 618.8,457.8 625.3,466.6 631.9,475.3 638.5,484.1 644.9,490 652.4,496 658.4,501.4 664,504" fill="none" stroke="#ff0000" stroke-width="4.8" stroke-linejoin="round" stroke-linecap="round"/>
<polyline points="437,381 450,382 470,382.8 489,382.4 508,385.6 523.1,390.4 536.4,394.2 549.7,399.8 561.1,405.5 572.5,413.1 583.9,422.6 595.2,434 605,444 615,456 625,468 635,481 645,494 651,504" fill="none" stroke="#ff0000" stroke-width="4.8" stroke-linejoin="round" stroke-linecap="round"/>
<polyline points="411.7,346.1 420.4,351.9 429.2,360.7 435,368 440.9,375.3 446.7,381.1 455.5,386.9 465.7,391.3 480,396.5 489,398.5 508,405.5 526.9,415 545.9,424.5 561.1,435.9 572.8,444.7 583.8,453.5 594.7,460 605.6,466.6 616.6,473.2 627.5,481.9 636.3,490.7 642,498 646,503" fill="none" stroke="#ff0000" stroke-width="4.8" stroke-linejoin="round" stroke-linecap="round"/>
<polyline points="417.5,362.8 426.3,365 433.6,372.3 439.4,379.6" fill="none" stroke="#ff0000" stroke-width="4.8" stroke-linejoin="round" stroke-linecap="round"/>
<polyline points="435.7,382.1 443.9,388.9 454.9,397.2 465.9,405.4 476.8,413.6 487.8,421.9 494,430 506,447.9 514.2,457.8 520,466.5 527.3,478.2 534.6,488.4 541.9,497.2 549,504" fill="none" stroke="#ff0000" stroke-width="4.8" stroke-linejoin="round" stroke-linecap="round"/>
<polyline points="505,440 520,460.7 534.6,473.8 549.2,488.4 556.5,498.7 560,505" fill="none" stroke="#ff0000" stroke-width="4.8" stroke-linejoin="round" stroke-linecap="round"/>
<polyline points="470,382.8 489,382.4 500,385 511.7,392.3 523.1,398 532.6,407.4 542.1,416.9 549.7,424.5 559.2,434 568.9,443 573.3,450.5 574.8,457.9 575,464.4 578.3,473.2 581.6,481.9 584.9,492.8 587,500.5 588,504" fill="none" stroke="#ff0000" stroke-width="4.8" stroke-linejoin="round" stroke-linecap="round"/>
<circle cx="437.5" cy="381" r="4.5" fill="#ff0000"/>
<rect x="548" y="502.3" width="133" height="6" fill="#ff0000"/>
<path d="M518 504.3a1.7 1.7 0 1 0 3.4 0a1.7 1.7 0 1 0 -3.4 0zM521.6 505.8a1.7 1.7 0 1 0 3.4 0a1.7 1.7 0 1 0 -3.4 0zM524.7 505.5a1.7 1.7 0 1 0 3.4 0a1.7 1.7 0 1 0 -3.4 0zM528.3 506a1.7 1.7 0 1 0 3.4 0a1.7 1.7 0 1 0 -3.4 0zM531.1 505.3a1.7 1.7 0 1 0 3.4 0a1.7 1.7 0 1 0 -3.4 0zM534.5 505.8a1.7 1.7 0 1 0 3.4 0a1.7 1.7 0 1 0 -3.4 0zM537.6 505.5a1.7 1.7 0 1 0 3.4 0a1.7 1.7 0 1 0 -3.4 0zM540.8 505.6a1.7 1.7 0 1 0 3.4 0a1.7 1.7 0 1 0 -3.4 0zM544.2 504.2a1.7 1.7 0 1 0 3.4 0a1.7 1.7 0 1 0 -3.4 0zM547.5 504.8a1.7 1.7 0 1 0 3.4 0a1.7 1.7 0 1 0 -3.4 0zM550.4 505.6a1.7 1.7 0 1 0 3.4 0a1.7 1.7 0 1 0 -3.4 0zM553.1 505.3a1.7 1.7 0 1 0 3.4 0a1.7 1.7 0 1 0 -3.4 0zM556.9 505.1a1.7 1.7 0 1 0 3.4 0a1.7 1.7 0 1 0 -3.4 0z" fill="#0a0a80"/>
<path d="M500 501.9l2.4 2.4l-2.4 2.4l-2.4 -2.4zM507 502.3l2.4 2.4l-2.4 2.4l-2.4 -2.4zM513 501.7l2.4 2.4l-2.4 2.4l-2.4 -2.4zM521 501.9l2.4 2.4l-2.4 2.4l-2.4 -2.4zM528 502.7l2.4 2.4l-2.4 2.4l-2.4 -2.4zM535 502.5l2.4 2.4l-2.4 2.4l-2.4 -2.4zM541 502.2l2.4 2.4l-2.4 2.4l-2.4 -2.4zM547 503l2.4 2.4l-2.4 2.4l-2.4 -2.4zM552 502.3l2.4 2.4l-2.4 2.4l-2.4 -2.4z" fill="none" stroke="#ff0000" stroke-width="1.3"/>
<path d="M405.5 325.5l2.4 2.4l-2.4 2.4l-2.4 -2.4zM411.7 348.1l2.4 2.4l-2.4 2.4l-2.4 -2.4zM412.4 355.6l2.4 2.4l-2.4 2.4l-2.4 -2.4zM417.8 367.3l2.4 2.4l-2.4 2.4l-2.4 -2.4zM415.8 381.7l2.4 2.4l-2.4 2.4l-2.4 -2.4zM420.6 385.8l2.4 2.4l-2.4 2.4l-2.4 -2.4zM428.8 384.5l2.4 2.4l-2.4 2.4l-2.4 -2.4zM438.4 392.7l2.4 2.4l-2.4 2.4l-2.4 -2.4zM441.9 393.4l2.4 2.4l-2.4 2.4l-2.4 -2.4zM444.6 394.1l2.4 2.4l-2.4 2.4l-2.4 -2.4zM447.3 394.1l2.4 2.4l-2.4 2.4l-2.4 -2.4zM450.1 412.6l2.4 2.4l-2.4 2.4l-2.4 -2.4zM443.2 419.5l2.4 2.4l-2.4 2.4l-2.4 -2.4zM428.1 420.8l2.4 2.4l-2.4 2.4l-2.4 -2.4zM427.4 425l2.4 2.4l-2.4 2.4l-2.4 -2.4zM456.3 420.8l2.4 2.4l-2.4 2.4l-2.4 -2.4zM467.2 424.3l2.4 2.4l-2.4 2.4l-2.4 -2.4zM463.1 400.9l2.4 2.4l-2.4 2.4l-2.4 -2.4zM465.9 405.1l2.4 2.4l-2.4 2.4l-2.4 -2.4zM427.7 426.3l2.4 2.4l-2.4 2.4l-2.4 -2.4zM451.6 440.6l2.4 2.4l-2.4 2.4l-2.4 -2.4zM459.1 445.8l2.4 2.4l-2.4 2.4l-2.4 -2.4zM456.1 459.3l2.4 2.4l-2.4 2.4l-2.4 -2.4zM444.9 466.8l2.4 2.4l-2.4 2.4l-2.4 -2.4zM446.4 474.3l2.4 2.4l-2.4 2.4l-2.4 -2.4zM473.4 436.1l2.4 2.4l-2.4 2.4l-2.4 -2.4zM475.6 462.3l2.4 2.4l-2.4 2.4l-2.4 -2.4zM479.3 461.5l2.4 2.4l-2.4 2.4l-2.4 -2.4zM488.3 475l2.4 2.4l-2.4 2.4l-2.4 -2.4zM474.9 485.5l2.4 2.4l-2.4 2.4l-2.4 -2.4zM475.6 493l2.4 2.4l-2.4 2.4l-2.4 -2.4zM465.9 496l2.4 2.4l-2.4 2.4l-2.4 -2.4zM468.9 501.9l2.4 2.4l-2.4 2.4l-2.4 -2.4zM492.1 503.4l2.4 2.4l-2.4 2.4l-2.4 -2.4zM498.5 491.5l2.4 2.4l-2.4 2.4l-2.4 -2.4zM500 496l2.4 2.4l-2.4 2.4l-2.4 -2.4zM509 499.7l2.4 2.4l-2.4 2.4l-2.4 -2.4zM521 502.7l2.4 2.4l-2.4 2.4l-2.4 -2.4zM527 503.4l2.4 2.4l-2.4 2.4l-2.4 -2.4zM534.4 503.4l2.4 2.4l-2.4 2.4l-2.4 -2.4zM549.4 504.9l2.4 2.4l-2.4 2.4l-2.4 -2.4zM415.6 381.1l2.4 2.4l-2.4 2.4l-2.4 -2.4zM419.8 385.2l2.4 2.4l-2.4 2.4l-2.4 -2.4zM429.1 384.2l2.4 2.4l-2.4 2.4l-2.4 -2.4zM437.4 390.4l2.4 2.4l-2.4 2.4l-2.4 -2.4zM442.6 391.5l2.4 2.4l-2.4 2.4l-2.4 -2.4zM476.5 483.6l2.4 2.4l-2.4 2.4l-2.4 -2.4zM477 486.6l2.4 2.4l-2.4 2.4l-2.4 -2.4z" fill="none" stroke="#ff0000" stroke-width="1.2"/>
<circle cx="632.4" cy="323.6" r="2" fill="#0a0a80"/>
<path d="M632.4 341.2l2 3.8l-4 0z" fill="#22c822"/>
<path d="M632 358.9l2.6 2.6l-2.6 2.6l-2.6 -2.6z" fill="#fff" stroke="#ff0000" stroke-width="1.5"/>
<text x="665.5" y="327.3" font-size="10.5" font-weight="normal" text-anchor="end" fill="#111" font-family='"Liberation Sans", sans-serif'>20°C</text>
<text x="665.5" y="346.7" font-size="10.5" font-weight="normal" text-anchor="end" fill="#111" font-family='"Liberation Sans", sans-serif'>400°C</text>
<text x="665.5" y="365.2" font-size="10.5" font-weight="normal" text-anchor="end" fill="#111" font-family='"Liberation Sans", sans-serif'>600°C</text>
<line x1="400" y1="508" x2="681" y2="508" stroke="#111" stroke-width="2"/>
<line x1="400" y1="285" x2="400" y2="511" stroke="#111" stroke-width="2"/>
</svg>
</body></html>
